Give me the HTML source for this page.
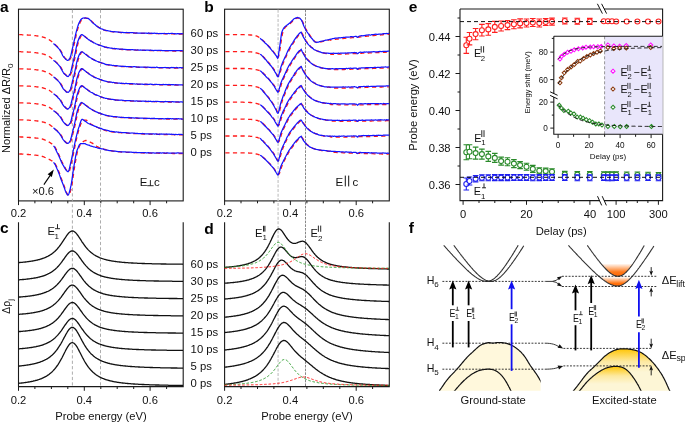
<!DOCTYPE html>
<html><head><meta charset="utf-8"><style>html,body{margin:0;padding:0;background:#fff;}body{width:685px;height:423px;overflow:hidden;font-family:"Liberation Sans",sans-serif;}svg{display:block;will-change:transform;}</style></head><body>
<svg width="685" height="423" viewBox="0 0 685 423" font-family='"Liberation Sans", sans-serif'>
<rect width="685" height="423" fill="#fff"/>
<rect x="18.5" y="9.2" width="164.7" height="191.7" fill="none" stroke="#1a1a1a" stroke-width="1.1"/>
<line x1="72.4" y1="9.7" x2="72.4" y2="386" stroke="#a4a4a4" stroke-width="0.9" stroke-dasharray="3.2 2.2"/>
<line x1="100.5" y1="9.7" x2="100.5" y2="386" stroke="#a4a4a4" stroke-width="0.9" stroke-dasharray="3.2 2.2"/>
<line x1="34.9" y1="200.9" x2="34.9" y2="203.3" stroke="#1a1a1a" stroke-width="1" />
<line x1="51.4" y1="200.9" x2="51.4" y2="203.3" stroke="#1a1a1a" stroke-width="1" />
<line x1="67.8" y1="200.9" x2="67.8" y2="203.3" stroke="#1a1a1a" stroke-width="1" />
<line x1="100.8" y1="200.9" x2="100.8" y2="203.3" stroke="#1a1a1a" stroke-width="1" />
<line x1="117.2" y1="200.9" x2="117.2" y2="203.3" stroke="#1a1a1a" stroke-width="1" />
<line x1="133.7" y1="200.9" x2="133.7" y2="203.3" stroke="#1a1a1a" stroke-width="1" />
<line x1="166.6" y1="200.9" x2="166.6" y2="203.3" stroke="#1a1a1a" stroke-width="1" />
<line x1="18.5" y1="200.9" x2="18.5" y2="205.1" stroke="#1a1a1a" stroke-width="1" />
<line x1="84.3" y1="200.9" x2="84.3" y2="205.1" stroke="#1a1a1a" stroke-width="1" />
<line x1="150.1" y1="200.9" x2="150.1" y2="205.1" stroke="#1a1a1a" stroke-width="1" />
<text x="18.5" y="216.8" font-size="11.2" text-anchor="middle" font-weight="normal" fill="#111" >0.2</text>
<text x="84.3" y="216.8" font-size="11.2" text-anchor="middle" font-weight="normal" fill="#111" >0.4</text>
<text x="150.1" y="216.8" font-size="11.2" text-anchor="middle" font-weight="normal" fill="#111" >0.6</text>
<rect x="224.6" y="9.2" width="164.7" height="191.7" fill="none" stroke="#1a1a1a" stroke-width="1.1"/>
<line x1="278.1" y1="9.7" x2="278.1" y2="386" stroke="#cdcdcd" stroke-width="1.4" stroke-dasharray="3 1.6"/>
<line x1="305.5" y1="9.7" x2="305.5" y2="386" stroke="#6a6a6a" stroke-width="0.8" stroke-dasharray="2.6 1.1"/>
<line x1="241" y1="200.9" x2="241" y2="203.3" stroke="#1a1a1a" stroke-width="1" />
<line x1="257.5" y1="200.9" x2="257.5" y2="203.3" stroke="#1a1a1a" stroke-width="1" />
<line x1="273.9" y1="200.9" x2="273.9" y2="203.3" stroke="#1a1a1a" stroke-width="1" />
<line x1="306.9" y1="200.9" x2="306.9" y2="203.3" stroke="#1a1a1a" stroke-width="1" />
<line x1="323.3" y1="200.9" x2="323.3" y2="203.3" stroke="#1a1a1a" stroke-width="1" />
<line x1="339.8" y1="200.9" x2="339.8" y2="203.3" stroke="#1a1a1a" stroke-width="1" />
<line x1="372.6" y1="200.9" x2="372.6" y2="203.3" stroke="#1a1a1a" stroke-width="1" />
<line x1="224.6" y1="200.9" x2="224.6" y2="205.1" stroke="#1a1a1a" stroke-width="1" />
<line x1="290.4" y1="200.9" x2="290.4" y2="205.1" stroke="#1a1a1a" stroke-width="1" />
<line x1="356.2" y1="200.9" x2="356.2" y2="205.1" stroke="#1a1a1a" stroke-width="1" />
<text x="224.6" y="216.8" font-size="11.2" text-anchor="middle" font-weight="normal" fill="#111" >0.2</text>
<text x="290.4" y="216.8" font-size="11.2" text-anchor="middle" font-weight="normal" fill="#111" >0.4</text>
<text x="356.2" y="216.8" font-size="11.2" text-anchor="middle" font-weight="normal" fill="#111" >0.6</text>
<path d="M18.5 222.2 V386.6 H183.2 V222.2" fill="none" stroke="#1a1a1a" stroke-width="1.1"/>
<line x1="34.9" y1="386.6" x2="34.9" y2="389" stroke="#1a1a1a" stroke-width="1" />
<line x1="51.4" y1="386.6" x2="51.4" y2="389" stroke="#1a1a1a" stroke-width="1" />
<line x1="67.8" y1="386.6" x2="67.8" y2="389" stroke="#1a1a1a" stroke-width="1" />
<line x1="100.8" y1="386.6" x2="100.8" y2="389" stroke="#1a1a1a" stroke-width="1" />
<line x1="117.2" y1="386.6" x2="117.2" y2="389" stroke="#1a1a1a" stroke-width="1" />
<line x1="133.7" y1="386.6" x2="133.7" y2="389" stroke="#1a1a1a" stroke-width="1" />
<line x1="166.6" y1="386.6" x2="166.6" y2="389" stroke="#1a1a1a" stroke-width="1" />
<line x1="18.5" y1="386.6" x2="18.5" y2="390.8" stroke="#1a1a1a" stroke-width="1" />
<line x1="84.3" y1="386.6" x2="84.3" y2="390.8" stroke="#1a1a1a" stroke-width="1" />
<line x1="150.1" y1="386.6" x2="150.1" y2="390.8" stroke="#1a1a1a" stroke-width="1" />
<text x="18.5" y="404.2" font-size="11.2" text-anchor="middle" font-weight="normal" fill="#111" >0.2</text>
<text x="84.3" y="404.2" font-size="11.2" text-anchor="middle" font-weight="normal" fill="#111" >0.4</text>
<text x="150.1" y="404.2" font-size="11.2" text-anchor="middle" font-weight="normal" fill="#111" >0.6</text>
<path d="M224.6 222.2 V386.6 H389.3 V222.2" fill="none" stroke="#1a1a1a" stroke-width="1.1"/>
<line x1="241" y1="386.6" x2="241" y2="389" stroke="#1a1a1a" stroke-width="1" />
<line x1="257.5" y1="386.6" x2="257.5" y2="389" stroke="#1a1a1a" stroke-width="1" />
<line x1="273.9" y1="386.6" x2="273.9" y2="389" stroke="#1a1a1a" stroke-width="1" />
<line x1="306.9" y1="386.6" x2="306.9" y2="389" stroke="#1a1a1a" stroke-width="1" />
<line x1="323.3" y1="386.6" x2="323.3" y2="389" stroke="#1a1a1a" stroke-width="1" />
<line x1="339.8" y1="386.6" x2="339.8" y2="389" stroke="#1a1a1a" stroke-width="1" />
<line x1="372.6" y1="386.6" x2="372.6" y2="389" stroke="#1a1a1a" stroke-width="1" />
<line x1="224.6" y1="386.6" x2="224.6" y2="390.8" stroke="#1a1a1a" stroke-width="1" />
<line x1="290.4" y1="386.6" x2="290.4" y2="390.8" stroke="#1a1a1a" stroke-width="1" />
<line x1="356.2" y1="386.6" x2="356.2" y2="390.8" stroke="#1a1a1a" stroke-width="1" />
<text x="224.6" y="404.2" font-size="11.2" text-anchor="middle" font-weight="normal" fill="#111" >0.2</text>
<text x="290.4" y="404.2" font-size="11.2" text-anchor="middle" font-weight="normal" fill="#111" >0.4</text>
<text x="356.2" y="404.2" font-size="11.2" text-anchor="middle" font-weight="normal" fill="#111" >0.6</text>
<text x="0" y="11.8" font-size="15.5" text-anchor="start" font-weight="bold" fill="#000" >a</text>
<text x="204.3" y="12" font-size="15.5" text-anchor="start" font-weight="bold" fill="#000" >b</text>
<text x="0" y="233.2" font-size="15.5" text-anchor="start" font-weight="bold" fill="#000" >c</text>
<text x="204.2" y="233.6" font-size="15.5" text-anchor="start" font-weight="bold" fill="#000" >d</text>
<text x="408.8" y="11.8" font-size="15.5" text-anchor="start" font-weight="bold" fill="#000" >e</text>
<text x="408.8" y="233.2" font-size="15.5" text-anchor="start" font-weight="bold" fill="#000" >f</text>
<text x="190.6" y="37.3" font-size="11.3" text-anchor="start" font-weight="normal" fill="#111" >60 ps</text>
<text x="190.6" y="267.8" font-size="11.3" text-anchor="start" font-weight="normal" fill="#111" >60 ps</text>
<text x="190.6" y="54.3" font-size="11.3" text-anchor="start" font-weight="normal" fill="#111" >30 ps</text>
<text x="190.6" y="284.8" font-size="11.3" text-anchor="start" font-weight="normal" fill="#111" >30 ps</text>
<text x="190.6" y="71.2" font-size="11.3" text-anchor="start" font-weight="normal" fill="#111" >25 ps</text>
<text x="190.6" y="301.8" font-size="11.3" text-anchor="start" font-weight="normal" fill="#111" >25 ps</text>
<text x="190.6" y="88.2" font-size="11.3" text-anchor="start" font-weight="normal" fill="#111" >20 ps</text>
<text x="190.6" y="318.7" font-size="11.3" text-anchor="start" font-weight="normal" fill="#111" >20 ps</text>
<text x="190.6" y="105.1" font-size="11.3" text-anchor="start" font-weight="normal" fill="#111" >15 ps</text>
<text x="190.6" y="335.7" font-size="11.3" text-anchor="start" font-weight="normal" fill="#111" >15 ps</text>
<text x="190.6" y="122.1" font-size="11.3" text-anchor="start" font-weight="normal" fill="#111" >10 ps</text>
<text x="190.6" y="352.7" font-size="11.3" text-anchor="start" font-weight="normal" fill="#111" >10 ps</text>
<text x="190.6" y="139.1" font-size="11.3" text-anchor="start" font-weight="normal" fill="#111" >5 ps</text>
<text x="190.6" y="369.7" font-size="11.3" text-anchor="start" font-weight="normal" fill="#111" >5 ps</text>
<text x="190.6" y="156" font-size="11.3" text-anchor="start" font-weight="normal" fill="#111" >0 ps</text>
<text x="190.6" y="386.7" font-size="11.3" text-anchor="start" font-weight="normal" fill="#111" >0 ps</text>
<text x="0" y="0" font-size="11" text-anchor="middle" font-weight="normal" fill="#111" transform="translate(10.1 108.2) rotate(-90)">Normalized &#916;R/R<tspan font-size="8" dy="3">0</tspan></text>
<text x="0" y="0" font-size="10.4" text-anchor="middle" font-weight="normal" fill="#111" transform="translate(10.0 306.4) rotate(-90)">&#916;&#961;<tspan font-size="7.5" dy="2.6">j</tspan></text>
<text x="101" y="420" font-size="11.2" text-anchor="middle" font-weight="normal" fill="#111" >Probe energy (eV)</text>
<text x="307" y="420" font-size="11.2" text-anchor="middle" font-weight="normal" fill="#111" >Probe energy (eV)</text>
<text x="139.7" y="186" font-size="11.5" text-anchor="start" font-weight="normal" fill="#111" >E</text>
<line x1="147.2" y1="185.7" x2="153.6" y2="185.7" stroke="#111" stroke-width="0.9" />
<line x1="150.4" y1="185.7" x2="150.4" y2="180.1" stroke="#111" stroke-width="0.9" />
<text x="154" y="186" font-size="11.5" text-anchor="start" font-weight="normal" fill="#111" >c</text>
<text x="335.6" y="186" font-size="11.5" text-anchor="start" font-weight="normal" fill="#111" >E</text>
<line x1="345.3" y1="186.4" x2="345.3" y2="175.6" stroke="#111" stroke-width="1" />
<line x1="348.7" y1="186.4" x2="348.7" y2="175.6" stroke="#111" stroke-width="1" />
<text x="352.4" y="186" font-size="11.5" text-anchor="start" font-weight="normal" fill="#111" >c</text>
<text x="32" y="195.2" font-size="11.2" text-anchor="start" font-weight="normal" fill="#111" >&#215;0.6</text>
<line x1="43.9" y1="184.6" x2="50" y2="175.6" stroke="#000" stroke-width="1.1" />
<path d="M53.8 169.4 L47.6 174.2 L51.8 177.0 Z" fill="#000"/>
<path d="M18.5 34.4 L19 34.4 L19.5 34.4 L20 34.4 L20.5 34.4 L21 34.4 L21.5 34.5 L22 34.5 L22.5 34.5 L23 34.5 L23.5 34.5 L24 34.6 L24.5 34.6 L25 34.6 L25.5 34.6 L26 34.7 L26.5 34.7 L27 34.7 L27.5 34.8 L28 34.8 L28.5 34.8 L29 34.9 L29.5 34.9 L30 34.9 L30.5 35 L31 35 L31.5 35 L32 35.1 L32.5 35.1 L33 35.2 L33.5 35.2 L34 35.3 L34.5 35.3 L35 35.4 L35.5 35.5 L36 35.5 L36.5 35.6 L37 35.7 L37.5 35.8 L38 35.9 L38.5 35.9 L39 36 L39.5 36.1 L40 36.2 L40.5 36.3 L41 36.4 L41.5 36.6 L42 36.7 L42.5 36.8 L43 37 L43.5 37.1 L44 37.3 L44.5 37.5 L45 37.7 L45.5 37.9 L46 38.1 L46.5 38.3 L47 38.6 L47.5 38.8 L48 39.1 L48.5 39.4 L49 39.8 L49.5 40.1 L50 40.5 L50.5 40.9 L51 41.3 L51.5 41.7 L52 42.2 L52.5 42.6 L53 43.1 L53.5 43.5 L54 43.9 L54.5 44.4 L55 44.8 L55.5 45.3 L56 45.8 L56.5 46.2 L57 46.7 L57.5 47.3 L58 47.8 L58.5 48.4 L59 49 L59.5 49.6 L60 50.4 L60.5 51.2 L61 52.1 L61.5 53.1 L62 54.1 L62.5 55 L63 55.9 L63.5 56.7 L64 57.3 L64.5 57.8 L65 58.4 L65.5 59 L66 59.5 L66.5 59.9 L67 60.2 L67.5 60.4 L68 60.4 L68.5 60 L69 59.4 L69.5 58.6 L70 57.7 L70.5 56.6 L71 54.8 L71.5 52.7 L72 50.4 L72.5 48.3 L73 46.1 L73.5 43.9 L74 41.6 L74.5 39.3 L75 37.2 L75.5 34.9 L76 32.7 L76.5 30.6 L77 28.8 L77.5 27.2 L78 25.7 L78.5 24.3 L79 23.1 L79.5 22 L80 21.1 L80.5 20.2 L81 19.5 L81.5 18.9 L82 18.6 L82.5 18.4 L83 18.2 L83.5 18.1 L84 18 L84.5 17.9 L85 17.9 L85.5 17.9 L86 18 L86.5 18 L87 18.1 L87.5 18.3 L88 18.4 L88.5 18.6 L89 19 L89.5 19.4 L90 19.9 L90.5 20.4 L91 20.9 L91.5 21.5 L92 22 L92.5 22.5 L93 23 L93.5 23.4 L94 23.9 L94.5 24.3 L95 24.7 L95.5 25.1 L96 25.5 L96.5 25.9 L97 26.2 L97.5 26.6 L98 27 L98.5 27.3 L99 27.6 L99.5 27.9 L100 28.2 L100.5 28.5 L101 28.7 L101.5 28.9 L102 29.1 L102.5 29.3 L103 29.5 L103.5 29.7 L104 29.9 L104.5 30 L105 30.2 L105.5 30.3 L106 30.4 L106.5 30.6 L107 30.7 L107.5 30.8 L108 30.9 L108.5 31 L109 31 L109.5 31.1 L110 31.2 L110.5 31.3 L111 31.4 L111.5 31.4 L112 31.5 L112.5 31.5 L113 31.6 L113.5 31.6 L114 31.7 L114.5 31.7 L115 31.8 L115.5 31.8 L116 31.9 L116.5 31.9 L117 32 L117.5 32 L118 32.1 L118.5 32.1 L119 32.1 L119.5 32.2 L120 32.2 L120.5 32.2 L121 32.3 L121.5 32.3 L122 32.3 L122.5 32.4 L123 32.4 L123.5 32.4 L124 32.5 L124.5 32.5 L125 32.5 L125.5 32.5 L126 32.5 L126.5 32.6 L127 32.6 L127.5 32.6 L128 32.6 L128.5 32.6 L129 32.7 L129.5 32.7 L130 32.7 L130.5 32.7 L131 32.7 L131.5 32.8 L132 32.8 L132.5 32.8 L133 32.8 L133.5 32.8 L134 32.8 L134.5 32.9 L135 32.9 L135.5 32.9 L136 32.9 L136.5 32.9 L137 32.9 L137.5 33 L138 33 L138.5 33 L139 33 L139.5 33 L140 33 L140.5 33 L141 33 L141.5 33.1 L142 33.1 L142.5 33.1 L143 33.1 L143.5 33.1 L144 33.1 L144.5 33.1 L145 33.1 L145.5 33.2 L146 33.2 L146.5 33.2 L147 33.2 L147.5 33.2 L148 33.2 L148.5 33.2 L149 33.2 L149.5 33.2 L150 33.2 L150.5 33.3 L151 33.3 L151.5 33.3 L152 33.3 L152.5 33.3 L153 33.3 L153.5 33.3 L154 33.3 L154.5 33.3 L155 33.3 L155.5 33.4 L156 33.4 L156.5 33.4 L157 33.4 L157.5 33.4 L158 33.4 L158.5 33.4 L159 33.4 L159.5 33.4 L160 33.4 L160.5 33.4 L161 33.5 L161.5 33.5 L162 33.5 L162.5 33.5 L163 33.5 L163.5 33.5 L164 33.5 L164.5 33.5 L165 33.5 L165.5 33.5 L166 33.5 L166.5 33.5 L167 33.6 L167.5 33.6 L168 33.6 L168.5 33.6 L169 33.6 L169.5 33.6 L170 33.6 L170.5 33.6 L171 33.6 L171.5 33.6 L172 33.6 L172.5 33.6 L173 33.6 L173.5 33.6 L174 33.7 L174.5 33.7 L175 33.7 L175.5 33.7 L176 33.7 L176.5 33.7 L177 33.7 L177.5 33.7 L178 33.7 L178.5 33.7 L179 33.7 L179.5 33.7 L180 33.7 L180.5 33.7 L181 33.7 L181.5 33.7 L182 33.7 L182.3 33.7" fill="none" stroke="#ff1a1a" stroke-width="1.3" stroke-dasharray="4.2 3.4" transform="translate(0.7 0.3)"/>
<path d="M53.5 43.5 L54 44 L54.5 44.4 L55 44.8 L55.5 45.3 L56 45.8 L56.5 46.4 L57 46.8 L57.5 47.2 L58 47.7 L58.5 48.3 L59 48.9 L59.5 49.4 L60 50.2 L60.5 51.1 L61 52 L61.5 53 L62 54 L62.5 55.1 L63 56 L63.5 56.7 L64 57.4 L64.5 57.9 L65 58.4 L65.5 59 L66 59.5 L66.5 59.8 L67 60.1 L67.5 60.3 L68 60.3 L68.5 60 L69 59.4 L69.5 58.6 L70 57.7 L70.5 56.6 L71 54.8 L71.5 52.7 L72 50.4 L72.5 48.4 L73 46.2 L73.5 43.9 L74 41.7 L74.5 39.5 L75 37.3 L75.5 35 L76 32.8 L76.5 30.8 L77 29.1 L77.5 27.4 L78 25.8 L78.5 24.3 L79 23 L79.5 22 L80 21.1 L80.5 20.2 L81 19.5 L81.5 19 L82 18.6 L82.5 18.3 L83 18.1 L83.5 18 L84 17.9 L84.5 18 L85 17.9 L85.5 17.9 L86 18 L86.5 18.2 L87 18.3 L87.5 18.3 L88 18.3 L88.5 18.6 L89 19.1 L89.5 19.5 L90 19.9 L90.5 20.4 L91 20.9 L91.5 21.4 L92 22.1 L92.5 22.6 L93 23.1 L93.5 23.5 L94 23.8 L94.5 24.2 L95 24.6 L95.5 25 L96 25.5 L96.5 26 L97 26.3 L97.5 26.7 L98 27 L98.5 27.4 L99 27.7 L99.5 27.9 L100 28.1 L100.5 28.5 L101 28.8 L101.5 28.9 L102 29 L102.5 29.2 L103 29.4 L103.5 29.7 L104 30 L104.5 30 L105 30.1 L105.5 30.3 L106 30.3 L106.5 30.5 L107 30.6 L107.5 30.6 L108 30.8 L108.5 30.9 L109 31 L109.5 31.1 L110 31.2 L110.5 31.3 L111 31.4 L111.5 31.5 L112 31.6 L112.5 31.7 L113 31.7 L113.5 31.8 L114 31.8 L114.5 31.7 L115 31.7 L115.5 31.8 L116 31.8 L116.5 31.8 L117 31.9 L117.5 32 L118 31.9 L118.5 32 L119 32.1 L119.5 32.3 L120 32.3 L120.5 32.3 L121 32.4 L121.5 32.5 L122 32.4 L122.5 32.3 L123 32.4 L123.5 32.5 L124 32.5 L124.5 32.5 L125 32.6 L125.5 32.5 L126 32.5 L126.5 32.4 L127 32.5 L127.5 32.6 L128 32.7 L128.5 32.7 L129 32.6 L129.5 32.6 L130 32.6 L130.5 32.7 L131 32.6 L131.5 32.7 L132 32.7 L132.5 32.6 L133 32.6 L133.5 32.8 L134 32.8 L134.5 32.8 L135 32.9 L135.5 33 L136 33 L136.5 32.9 L137 32.9 L137.5 33.1 L138 33.1 L138.5 33.1 L139 33.1 L139.5 33.1 L140 33.1 L140.5 33.1 L141 33 L141.5 33 L142 33 L142.5 33 L143 33 L143.5 33 L144 33.1 L144.5 33.1 L145 33.1 L145.5 33.1 L146 33.2 L146.5 33.2 L147 33.3 L147.5 33.3 L148 33.1 L148.5 33 L149 33.1 L149.5 33.3 L150 33.3 L150.5 33.3 L151 33.3 L151.5 33.2 L152 33.2 L152.5 33.3 L153 33.3 L153.5 33.3 L154 33.2 L154.5 33.2 L155 33.4 L155.5 33.4 L156 33.4 L156.5 33.3 L157 33.3 L157.5 33.4 L158 33.5 L158.5 33.6 L159 33.6 L159.5 33.5 L160 33.4 L160.5 33.5 L161 33.5 L161.5 33.5 L162 33.4 L162.5 33.5 L163 33.7 L163.5 33.5 L164 33.3 L164.5 33.4 L165 33.5 L165.5 33.6 L166 33.7 L166.5 33.7 L167 33.6 L167.5 33.5 L168 33.5 L168.5 33.4 L169 33.5 L169.5 33.7 L170 33.7 L170.5 33.5 L171 33.4 L171.5 33.4 L172 33.4 L172.5 33.3 L173 33.5 L173.5 33.7 L174 33.7 L174.5 33.7 L175 33.7 L175.5 33.8 L176 33.7 L176.5 33.8 L177 33.9 L177.5 33.7 L178 33.6 L178.5 33.7 L179 33.8 L179.5 33.8 L180 33.7 L180.5 33.8 L181 33.8 L181.5 33.7 L182 33.7 L182.5 33.8 L183 33.9" fill="none" stroke="#1414ff" stroke-width="1.25"/>
<path d="M18.5 51.4 L19 51.4 L19.5 51.4 L20 51.4 L20.5 51.5 L21 51.5 L21.5 51.5 L22 51.5 L22.5 51.5 L23 51.5 L23.5 51.6 L24 51.6 L24.5 51.6 L25 51.6 L25.5 51.7 L26 51.7 L26.5 51.7 L27 51.7 L27.5 51.8 L28 51.8 L28.5 51.8 L29 51.9 L29.5 51.9 L30 51.9 L30.5 52 L31 52 L31.5 52 L32 52.1 L32.5 52.1 L33 52.2 L33.5 52.2 L34 52.3 L34.5 52.3 L35 52.4 L35.5 52.5 L36 52.5 L36.5 52.6 L37 52.7 L37.5 52.8 L38 52.8 L38.5 52.9 L39 53 L39.5 53.1 L40 53.2 L40.5 53.3 L41 53.4 L41.5 53.5 L42 53.6 L42.5 53.8 L43 53.9 L43.5 54.1 L44 54.2 L44.5 54.4 L45 54.6 L45.5 54.8 L46 55 L46.5 55.2 L47 55.4 L47.5 55.7 L48 55.9 L48.5 56.2 L49 56.6 L49.5 56.9 L50 57.3 L50.5 57.7 L51 58.1 L51.5 58.5 L52 58.9 L52.5 59.3 L53 59.8 L53.5 60.2 L54 60.6 L54.5 61 L55 61.5 L55.5 61.9 L56 62.3 L56.5 62.8 L57 63.3 L57.5 63.8 L58 64.3 L58.5 64.9 L59 65.4 L59.5 66.1 L60 66.8 L60.5 67.6 L61 68.5 L61.5 69.4 L62 70.3 L62.5 71.2 L63 72.1 L63.5 72.8 L64 73.4 L64.5 74 L65 74.5 L65.5 75 L66 75.5 L66.5 75.9 L67 76.2 L67.5 76.4 L68 76.4 L68.5 76.1 L69 75.5 L69.5 74.7 L70 73.8 L70.5 72.7 L71 71.1 L71.5 69 L72 66.9 L72.5 64.8 L73 62.7 L73.5 60.6 L74 58.5 L74.5 56.3 L75 54 L75.5 51.5 L76 48.8 L76.5 46.4 L77 44.2 L77.5 42.5 L78 40.9 L78.5 39.5 L79 38.3 L79.5 37.3 L80 36.4 L80.5 35.5 L81 34.9 L81.5 34.6 L82 34.7 L82.5 35 L83 35.3 L83.5 35.6 L84 36 L84.5 36.4 L85 36.8 L85.5 37.3 L86 37.7 L86.5 38 L87 38.4 L87.5 38.8 L88 39.1 L88.5 39.5 L89 39.8 L89.5 40.2 L90 40.5 L90.5 40.8 L91 41.1 L91.5 41.4 L92 41.7 L92.5 42 L93 42.3 L93.5 42.6 L94 42.9 L94.5 43.1 L95 43.4 L95.5 43.6 L96 43.8 L96.5 44 L97 44.2 L97.5 44.4 L98 44.6 L98.5 44.8 L99 45 L99.5 45.2 L100 45.4 L100.5 45.5 L101 45.7 L101.5 45.9 L102 46.1 L102.5 46.2 L103 46.4 L103.5 46.6 L104 46.7 L104.5 46.9 L105 47 L105.5 47.1 L106 47.2 L106.5 47.3 L107 47.4 L107.5 47.5 L108 47.6 L108.5 47.7 L109 47.8 L109.5 47.9 L110 48 L110.5 48.1 L111 48.1 L111.5 48.2 L112 48.3 L112.5 48.3 L113 48.4 L113.5 48.5 L114 48.5 L114.5 48.6 L115 48.6 L115.5 48.7 L116 48.7 L116.5 48.8 L117 48.8 L117.5 48.9 L118 48.9 L118.5 49 L119 49 L119.5 49 L120 49.1 L120.5 49.1 L121 49.2 L121.5 49.2 L122 49.2 L122.5 49.3 L123 49.3 L123.5 49.3 L124 49.4 L124.5 49.4 L125 49.4 L125.5 49.4 L126 49.5 L126.5 49.5 L127 49.5 L127.5 49.5 L128 49.6 L128.5 49.6 L129 49.6 L129.5 49.6 L130 49.6 L130.5 49.7 L131 49.7 L131.5 49.7 L132 49.7 L132.5 49.7 L133 49.8 L133.5 49.8 L134 49.8 L134.5 49.8 L135 49.8 L135.5 49.9 L136 49.9 L136.5 49.9 L137 49.9 L137.5 49.9 L138 49.9 L138.5 50 L139 50 L139.5 50 L140 50 L140.5 50 L141 50 L141.5 50 L142 50.1 L142.5 50.1 L143 50.1 L143.5 50.1 L144 50.1 L144.5 50.1 L145 50.1 L145.5 50.2 L146 50.2 L146.5 50.2 L147 50.2 L147.5 50.2 L148 50.2 L148.5 50.2 L149 50.2 L149.5 50.2 L150 50.3 L150.5 50.3 L151 50.3 L151.5 50.3 L152 50.3 L152.5 50.3 L153 50.3 L153.5 50.3 L154 50.3 L154.5 50.3 L155 50.4 L155.5 50.4 L156 50.4 L156.5 50.4 L157 50.4 L157.5 50.4 L158 50.4 L158.5 50.4 L159 50.4 L159.5 50.4 L160 50.5 L160.5 50.5 L161 50.5 L161.5 50.5 L162 50.5 L162.5 50.5 L163 50.5 L163.5 50.5 L164 50.5 L164.5 50.5 L165 50.5 L165.5 50.6 L166 50.6 L166.5 50.6 L167 50.6 L167.5 50.6 L168 50.6 L168.5 50.6 L169 50.6 L169.5 50.6 L170 50.6 L170.5 50.6 L171 50.6 L171.5 50.6 L172 50.7 L172.5 50.7 L173 50.7 L173.5 50.7 L174 50.7 L174.5 50.7 L175 50.7 L175.5 50.7 L176 50.7 L176.5 50.7 L177 50.7 L177.5 50.7 L178 50.7 L178.5 50.7 L179 50.7 L179.5 50.7 L180 50.7 L180.5 50.7 L181 50.7 L181.5 50.7 L182 50.8 L182.3 50.8" fill="none" stroke="#ff1a1a" stroke-width="1.3" stroke-dasharray="4.2 3.4" transform="translate(0.7 0.3)"/>
<path d="M53.5 60.2 L54 60.7 L54.5 61 L55 61.4 L55.5 61.9 L56 62.4 L56.5 62.8 L57 63.3 L57.5 63.9 L58 64.4 L58.5 64.9 L59 65.5 L59.5 66 L60 66.7 L60.5 67.6 L61 68.5 L61.5 69.4 L62 70.3 L62.5 71.2 L63 72 L63.5 72.8 L64 73.5 L64.5 74.1 L65 74.5 L65.5 74.8 L66 75.3 L66.5 75.8 L67 76.2 L67.5 76.4 L68 76.5 L68.5 76.2 L69 75.5 L69.5 74.7 L70 74 L70.5 72.9 L71 71.1 L71.5 69 L72 66.7 L72.5 64.7 L73 62.7 L73.5 60.5 L74 58.4 L74.5 56.2 L75 53.9 L75.5 51.4 L76 48.8 L76.5 46.3 L77 44.2 L77.5 42.6 L78 41 L78.5 39.6 L79 38.3 L79.5 37.3 L80 36.4 L80.5 35.5 L81 34.9 L81.5 34.7 L82 34.7 L82.5 34.9 L83 35.2 L83.5 35.6 L84 36 L84.5 36.3 L85 36.7 L85.5 37.2 L86 37.6 L86.5 38.1 L87 38.4 L87.5 38.7 L88 39.1 L88.5 39.6 L89 39.8 L89.5 40.1 L90 40.5 L90.5 40.9 L91 41.2 L91.5 41.4 L92 41.6 L92.5 42 L93 42.3 L93.5 42.7 L94 42.9 L94.5 43 L95 43.2 L95.5 43.6 L96 43.9 L96.5 44 L97 44.2 L97.5 44.5 L98 44.7 L98.5 44.9 L99 45.1 L99.5 45.2 L100 45.4 L100.5 45.5 L101 45.6 L101.5 45.8 L102 46 L102.5 46.1 L103 46.3 L103.5 46.6 L104 46.7 L104.5 46.9 L105 47.1 L105.5 47.2 L106 47.3 L106.5 47.2 L107 47.4 L107.5 47.6 L108 47.7 L108.5 47.7 L109 47.8 L109.5 47.9 L110 48 L110.5 48.1 L111 48.1 L111.5 48.2 L112 48.3 L112.5 48.3 L113 48.5 L113.5 48.5 L114 48.4 L114.5 48.4 L115 48.7 L115.5 48.9 L116 48.7 L116.5 48.7 L117 48.8 L117.5 48.8 L118 48.8 L118.5 48.9 L119 49 L119.5 49 L120 49.1 L120.5 49.1 L121 49.1 L121.5 49.1 L122 49.2 L122.5 49.2 L123 49.2 L123.5 49.3 L124 49.4 L124.5 49.4 L125 49.4 L125.5 49.5 L126 49.4 L126.5 49.5 L127 49.5 L127.5 49.5 L128 49.5 L128.5 49.6 L129 49.6 L129.5 49.5 L130 49.5 L130.5 49.7 L131 49.8 L131.5 49.7 L132 49.6 L132.5 49.6 L133 49.7 L133.5 49.8 L134 49.8 L134.5 49.8 L135 49.9 L135.5 49.9 L136 50 L136.5 50.1 L137 50 L137.5 49.9 L138 49.9 L138.5 50 L139 50 L139.5 50 L140 50 L140.5 49.9 L141 50 L141.5 50 L142 50 L142.5 50.1 L143 50.2 L143.5 50.2 L144 50.1 L144.5 50.2 L145 50.4 L145.5 50.3 L146 50.1 L146.5 50.1 L147 50.1 L147.5 50.1 L148 50.1 L148.5 50.2 L149 50.3 L149.5 50.3 L150 50.1 L150.5 50.1 L151 50.2 L151.5 50.3 L152 50.4 L152.5 50.3 L153 50.3 L153.5 50.5 L154 50.5 L154.5 50.4 L155 50.3 L155.5 50.3 L156 50.3 L156.5 50.4 L157 50.5 L157.5 50.4 L158 50.4 L158.5 50.4 L159 50.4 L159.5 50.4 L160 50.4 L160.5 50.4 L161 50.4 L161.5 50.4 L162 50.5 L162.5 50.5 L163 50.5 L163.5 50.5 L164 50.6 L164.5 50.5 L165 50.5 L165.5 50.5 L166 50.5 L166.5 50.5 L167 50.5 L167.5 50.5 L168 50.5 L168.5 50.6 L169 50.6 L169.5 50.5 L170 50.5 L170.5 50.6 L171 50.6 L171.5 50.6 L172 50.6 L172.5 50.6 L173 50.6 L173.5 50.6 L174 50.7 L174.5 50.6 L175 50.6 L175.5 50.8 L176 50.7 L176.5 50.6 L177 50.7 L177.5 50.7 L178 50.7 L178.5 50.7 L179 50.7 L179.5 50.7 L180 50.7 L180.5 50.7 L181 50.7 L181.5 50.7 L182 50.7 L182.5 50.8 L183 50.8" fill="none" stroke="#1414ff" stroke-width="1.25"/>
<path d="M18.5 68.5 L19 68.5 L19.5 68.5 L20 68.5 L20.5 68.5 L21 68.5 L21.5 68.5 L22 68.5 L22.5 68.5 L23 68.6 L23.5 68.6 L24 68.6 L24.5 68.6 L25 68.7 L25.5 68.7 L26 68.7 L26.5 68.7 L27 68.8 L27.5 68.8 L28 68.8 L28.5 68.8 L29 68.9 L29.5 68.9 L30 68.9 L30.5 69 L31 69 L31.5 69 L32 69.1 L32.5 69.1 L33 69.2 L33.5 69.2 L34 69.3 L34.5 69.3 L35 69.4 L35.5 69.5 L36 69.5 L36.5 69.6 L37 69.7 L37.5 69.7 L38 69.8 L38.5 69.9 L39 70 L39.5 70.1 L40 70.1 L40.5 70.2 L41 70.3 L41.5 70.5 L42 70.6 L42.5 70.7 L43 70.8 L43.5 71 L44 71.2 L44.5 71.3 L45 71.5 L45.5 71.7 L46 71.9 L46.5 72.1 L47 72.3 L47.5 72.5 L48 72.8 L48.5 73.1 L49 73.4 L49.5 73.7 L50 74.1 L50.5 74.5 L51 74.8 L51.5 75.2 L52 75.6 L52.5 76.1 L53 76.5 L53.5 76.9 L54 77.3 L54.5 77.7 L55 78.1 L55.5 78.5 L56 78.9 L56.5 79.4 L57 79.8 L57.5 80.3 L58 80.8 L58.5 81.4 L59 81.9 L59.5 82.5 L60 83.2 L60.5 84 L61 84.8 L61.5 85.7 L62 86.6 L62.5 87.5 L63 88.3 L63.5 89 L64 89.6 L64.5 90.1 L65 90.6 L65.5 91.1 L66 91.6 L66.5 92 L67 92.3 L67.5 92.4 L68 92.4 L68.5 92.1 L69 91.6 L69.5 90.8 L70 89.9 L70.5 88.9 L71 87.3 L71.5 85.4 L72 83.3 L72.5 81.3 L73 79.3 L73.5 77.3 L74 75.3 L74.5 73.1 L75 70.9 L75.5 68.4 L76 65.8 L76.5 63.4 L77 61.3 L77.5 59.5 L78 58 L78.5 56.6 L79 55.4 L79.5 54.3 L80 53.4 L80.5 52.6 L81 51.9 L81.5 51.7 L82 51.8 L82.5 52 L83 52.3 L83.5 52.7 L84 53 L84.5 53.4 L85 53.8 L85.5 54.3 L86 54.7 L86.5 55.1 L87 55.4 L87.5 55.8 L88 56.2 L88.5 56.5 L89 56.9 L89.5 57.2 L90 57.5 L90.5 57.9 L91 58.2 L91.5 58.5 L92 58.8 L92.5 59.1 L93 59.4 L93.5 59.6 L94 59.9 L94.5 60.2 L95 60.4 L95.5 60.6 L96 60.8 L96.5 61.1 L97 61.3 L97.5 61.5 L98 61.7 L98.5 61.9 L99 62 L99.5 62.2 L100 62.4 L100.5 62.6 L101 62.8 L101.5 62.9 L102 63.1 L102.5 63.3 L103 63.4 L103.5 63.6 L104 63.7 L104.5 63.9 L105 64 L105.5 64.1 L106 64.3 L106.5 64.4 L107 64.5 L107.5 64.6 L108 64.7 L108.5 64.8 L109 64.9 L109.5 64.9 L110 65 L110.5 65.1 L111 65.2 L111.5 65.2 L112 65.3 L112.5 65.4 L113 65.4 L113.5 65.5 L114 65.5 L114.5 65.6 L115 65.7 L115.5 65.7 L116 65.8 L116.5 65.8 L117 65.9 L117.5 65.9 L118 66 L118.5 66 L119 66 L119.5 66.1 L120 66.1 L120.5 66.2 L121 66.2 L121.5 66.2 L122 66.3 L122.5 66.3 L123 66.3 L123.5 66.4 L124 66.4 L124.5 66.4 L125 66.4 L125.5 66.5 L126 66.5 L126.5 66.5 L127 66.5 L127.5 66.6 L128 66.6 L128.5 66.6 L129 66.6 L129.5 66.7 L130 66.7 L130.5 66.7 L131 66.7 L131.5 66.7 L132 66.8 L132.5 66.8 L133 66.8 L133.5 66.8 L134 66.8 L134.5 66.9 L135 66.9 L135.5 66.9 L136 66.9 L136.5 66.9 L137 66.9 L137.5 67 L138 67 L138.5 67 L139 67 L139.5 67 L140 67 L140.5 67 L141 67.1 L141.5 67.1 L142 67.1 L142.5 67.1 L143 67.1 L143.5 67.1 L144 67.1 L144.5 67.2 L145 67.2 L145.5 67.2 L146 67.2 L146.5 67.2 L147 67.2 L147.5 67.2 L148 67.2 L148.5 67.3 L149 67.3 L149.5 67.3 L150 67.3 L150.5 67.3 L151 67.3 L151.5 67.3 L152 67.3 L152.5 67.3 L153 67.3 L153.5 67.4 L154 67.4 L154.5 67.4 L155 67.4 L155.5 67.4 L156 67.4 L156.5 67.4 L157 67.4 L157.5 67.4 L158 67.4 L158.5 67.5 L159 67.5 L159.5 67.5 L160 67.5 L160.5 67.5 L161 67.5 L161.5 67.5 L162 67.5 L162.5 67.5 L163 67.5 L163.5 67.6 L164 67.6 L164.5 67.6 L165 67.6 L165.5 67.6 L166 67.6 L166.5 67.6 L167 67.6 L167.5 67.6 L168 67.6 L168.5 67.6 L169 67.6 L169.5 67.7 L170 67.7 L170.5 67.7 L171 67.7 L171.5 67.7 L172 67.7 L172.5 67.7 L173 67.7 L173.5 67.7 L174 67.7 L174.5 67.7 L175 67.7 L175.5 67.7 L176 67.7 L176.5 67.7 L177 67.7 L177.5 67.7 L178 67.8 L178.5 67.8 L179 67.8 L179.5 67.8 L180 67.8 L180.5 67.8 L181 67.8 L181.5 67.8 L182 67.8 L182.3 67.8" fill="none" stroke="#ff1a1a" stroke-width="1.3" stroke-dasharray="4.2 3.4" transform="translate(0.7 0.3)"/>
<path d="M53.5 76.9 L54 77.2 L54.5 77.5 L55 78 L55.5 78.6 L56 79.1 L56.5 79.4 L57 79.9 L57.5 80.4 L58 80.8 L58.5 81.4 L59 81.9 L59.5 82.4 L60 83.1 L60.5 84 L61 84.9 L61.5 85.7 L62 86.6 L62.5 87.4 L63 88.3 L63.5 89 L64 89.6 L64.5 90.1 L65 90.6 L65.5 91.1 L66 91.7 L66.5 92.1 L67 92.2 L67.5 92.2 L68 92.3 L68.5 92.1 L69 91.6 L69.5 90.9 L70 90 L70.5 89 L71 87.3 L71.5 85.4 L72 83.3 L72.5 81.2 L73 79.3 L73.5 77.4 L74 75.4 L74.5 73.1 L75 70.8 L75.5 68.4 L76 65.9 L76.5 63.4 L77 61.3 L77.5 59.5 L78 58 L78.5 56.6 L79 55.3 L79.5 54.4 L80 53.5 L80.5 52.6 L81 52.1 L81.5 51.9 L82 51.9 L82.5 52 L83 52.3 L83.5 52.7 L84 53 L84.5 53.4 L85 53.9 L85.5 54.3 L86 54.6 L86.5 54.8 L87 55.2 L87.5 55.8 L88 56.3 L88.5 56.6 L89 56.9 L89.5 57.2 L90 57.5 L90.5 57.8 L91 58 L91.5 58.4 L92 58.9 L92.5 59.2 L93 59.4 L93.5 59.6 L94 59.9 L94.5 60.2 L95 60.4 L95.5 60.6 L96 60.8 L96.5 61 L97 61.3 L97.5 61.5 L98 61.7 L98.5 61.9 L99 62.1 L99.5 62.2 L100 62.3 L100.5 62.5 L101 62.7 L101.5 62.9 L102 63 L102.5 63.2 L103 63.3 L103.5 63.4 L104 63.7 L104.5 63.9 L105 64.1 L105.5 64.3 L106 64.5 L106.5 64.5 L107 64.5 L107.5 64.7 L108 64.7 L108.5 64.8 L109 64.8 L109.5 64.9 L110 64.9 L110.5 65.1 L111 65.2 L111.5 65.2 L112 65.4 L112.5 65.5 L113 65.4 L113.5 65.4 L114 65.5 L114.5 65.6 L115 65.7 L115.5 65.8 L116 65.7 L116.5 65.7 L117 65.7 L117.5 65.8 L118 65.9 L118.5 66 L119 66.1 L119.5 66.2 L120 66.1 L120.5 66.2 L121 66.3 L121.5 66.4 L122 66.4 L122.5 66.3 L123 66.2 L123.5 66.3 L124 66.4 L124.5 66.4 L125 66.4 L125.5 66.4 L126 66.5 L126.5 66.5 L127 66.6 L127.5 66.6 L128 66.6 L128.5 66.6 L129 66.6 L129.5 66.6 L130 66.6 L130.5 66.7 L131 66.7 L131.5 66.8 L132 66.8 L132.5 66.9 L133 66.8 L133.5 66.7 L134 66.7 L134.5 66.7 L135 66.7 L135.5 66.9 L136 66.9 L136.5 66.9 L137 67 L137.5 67 L138 67 L138.5 66.9 L139 67 L139.5 67 L140 67 L140.5 67.1 L141 67.1 L141.5 67 L142 67 L142.5 67.1 L143 67.2 L143.5 67.2 L144 67.1 L144.5 67.1 L145 67.1 L145.5 67.2 L146 67.3 L146.5 67.3 L147 67.2 L147.5 67.2 L148 67.1 L148.5 67.2 L149 67.3 L149.5 67.3 L150 67.2 L150.5 67.4 L151 67.5 L151.5 67.4 L152 67.3 L152.5 67.3 L153 67.3 L153.5 67.3 L154 67.4 L154.5 67.4 L155 67.4 L155.5 67.5 L156 67.4 L156.5 67.2 L157 67.2 L157.5 67.4 L158 67.5 L158.5 67.5 L159 67.5 L159.5 67.5 L160 67.5 L160.5 67.6 L161 67.5 L161.5 67.5 L162 67.6 L162.5 67.6 L163 67.6 L163.5 67.7 L164 67.7 L164.5 67.5 L165 67.4 L165.5 67.6 L166 67.6 L166.5 67.5 L167 67.5 L167.5 67.6 L168 67.6 L168.5 67.7 L169 67.9 L169.5 68 L170 67.8 L170.5 67.7 L171 67.6 L171.5 67.5 L172 67.6 L172.5 67.6 L173 67.5 L173.5 67.6 L174 67.7 L174.5 67.7 L175 67.8 L175.5 67.8 L176 67.7 L176.5 67.5 L177 67.6 L177.5 67.7 L178 67.8 L178.5 67.8 L179 67.8 L179.5 67.7 L180 67.7 L180.5 67.7 L181 67.7 L181.5 67.9 L182 67.9 L182.5 67.7 L183 67.7" fill="none" stroke="#1414ff" stroke-width="1.25"/>
<path d="M18.5 85.5 L19 85.5 L19.5 85.5 L20 85.5 L20.5 85.5 L21 85.5 L21.5 85.5 L22 85.6 L22.5 85.6 L23 85.6 L23.5 85.6 L24 85.6 L24.5 85.7 L25 85.7 L25.5 85.7 L26 85.7 L26.5 85.8 L27 85.8 L27.5 85.8 L28 85.8 L28.5 85.9 L29 85.9 L29.5 85.9 L30 86 L30.5 86 L31 86 L31.5 86.1 L32 86.1 L32.5 86.1 L33 86.2 L33.5 86.2 L34 86.3 L34.5 86.3 L35 86.4 L35.5 86.5 L36 86.5 L36.5 86.6 L37 86.7 L37.5 86.7 L38 86.8 L38.5 86.9 L39 87 L39.5 87 L40 87.1 L40.5 87.2 L41 87.3 L41.5 87.4 L42 87.6 L42.5 87.7 L43 87.8 L43.5 88 L44 88.1 L44.5 88.3 L45 88.5 L45.5 88.7 L46 88.8 L46.5 89 L47 89.3 L47.5 89.5 L48 89.7 L48.5 90 L49 90.3 L49.5 90.7 L50 91 L50.5 91.4 L51 91.7 L51.5 92.1 L52 92.5 L52.5 92.9 L53 93.3 L53.5 93.7 L54 94.1 L54.5 94.5 L55 94.9 L55.5 95.3 L56 95.7 L56.5 96.2 L57 96.6 L57.5 97.1 L58 97.6 L58.5 98.1 L59 98.7 L59.5 99.2 L60 99.9 L60.5 100.7 L61 101.5 L61.5 102.4 L62 103.3 L62.5 104.1 L63 104.9 L63.5 105.6 L64 106.2 L64.5 106.7 L65 107.2 L65.5 107.7 L66 108.1 L66.5 108.5 L67 108.8 L67.5 109 L68 109 L68.5 108.7 L69 108.1 L69.5 107.4 L70 106.5 L70.5 105.5 L71 104 L71.5 102 L72 100 L72.5 98 L73 96.1 L73.5 94.2 L74 92.2 L74.5 90.1 L75 87.9 L75.5 85.4 L76 82.8 L76.5 80.4 L77 78.3 L77.5 76.6 L78 75 L78.5 73.6 L79 72.4 L79.5 71.4 L80 70.5 L80.5 69.6 L81 68.9 L81.5 68.7 L82 68.8 L82.5 69 L83 69.4 L83.5 69.7 L84 70 L84.5 70.4 L85 70.9 L85.5 71.3 L86 71.7 L86.5 72.1 L87 72.5 L87.5 72.8 L88 73.2 L88.5 73.6 L89 73.9 L89.5 74.2 L90 74.6 L90.5 74.9 L91 75.2 L91.5 75.5 L92 75.8 L92.5 76.1 L93 76.4 L93.5 76.7 L94 76.9 L94.5 77.2 L95 77.4 L95.5 77.7 L96 77.9 L96.5 78.1 L97 78.3 L97.5 78.5 L98 78.7 L98.5 78.9 L99 79.1 L99.5 79.3 L100 79.4 L100.5 79.6 L101 79.8 L101.5 80 L102 80.1 L102.5 80.3 L103 80.5 L103.5 80.6 L104 80.8 L104.5 80.9 L105 81 L105.5 81.2 L106 81.3 L106.5 81.4 L107 81.5 L107.5 81.6 L108 81.7 L108.5 81.8 L109 81.9 L109.5 82 L110 82.1 L110.5 82.1 L111 82.2 L111.5 82.3 L112 82.3 L112.5 82.4 L113 82.5 L113.5 82.5 L114 82.6 L114.5 82.6 L115 82.7 L115.5 82.7 L116 82.8 L116.5 82.8 L117 82.9 L117.5 82.9 L118 83 L118.5 83 L119 83.1 L119.5 83.1 L120 83.1 L120.5 83.2 L121 83.2 L121.5 83.3 L122 83.3 L122.5 83.3 L123 83.4 L123.5 83.4 L124 83.4 L124.5 83.4 L125 83.5 L125.5 83.5 L126 83.5 L126.5 83.5 L127 83.6 L127.5 83.6 L128 83.6 L128.5 83.6 L129 83.7 L129.5 83.7 L130 83.7 L130.5 83.7 L131 83.7 L131.5 83.8 L132 83.8 L132.5 83.8 L133 83.8 L133.5 83.8 L134 83.9 L134.5 83.9 L135 83.9 L135.5 83.9 L136 83.9 L136.5 84 L137 84 L137.5 84 L138 84 L138.5 84 L139 84 L139.5 84 L140 84.1 L140.5 84.1 L141 84.1 L141.5 84.1 L142 84.1 L142.5 84.1 L143 84.1 L143.5 84.2 L144 84.2 L144.5 84.2 L145 84.2 L145.5 84.2 L146 84.2 L146.5 84.2 L147 84.2 L147.5 84.3 L148 84.3 L148.5 84.3 L149 84.3 L149.5 84.3 L150 84.3 L150.5 84.3 L151 84.3 L151.5 84.3 L152 84.4 L152.5 84.4 L153 84.4 L153.5 84.4 L154 84.4 L154.5 84.4 L155 84.4 L155.5 84.4 L156 84.4 L156.5 84.4 L157 84.5 L157.5 84.5 L158 84.5 L158.5 84.5 L159 84.5 L159.5 84.5 L160 84.5 L160.5 84.5 L161 84.5 L161.5 84.5 L162 84.6 L162.5 84.6 L163 84.6 L163.5 84.6 L164 84.6 L164.5 84.6 L165 84.6 L165.5 84.6 L166 84.6 L166.5 84.6 L167 84.6 L167.5 84.7 L168 84.7 L168.5 84.7 L169 84.7 L169.5 84.7 L170 84.7 L170.5 84.7 L171 84.7 L171.5 84.7 L172 84.7 L172.5 84.7 L173 84.7 L173.5 84.7 L174 84.7 L174.5 84.7 L175 84.8 L175.5 84.8 L176 84.8 L176.5 84.8 L177 84.8 L177.5 84.8 L178 84.8 L178.5 84.8 L179 84.8 L179.5 84.8 L180 84.8 L180.5 84.8 L181 84.8 L181.5 84.8 L182 84.8 L182.3 84.8" fill="none" stroke="#ff1a1a" stroke-width="1.3" stroke-dasharray="4.2 3.4" transform="translate(0.7 0.3)"/>
<path d="M53.5 93.8 L54 94 L54.5 94.4 L55 94.9 L55.5 95.3 L56 95.6 L56.5 96 L57 96.5 L57.5 97.2 L58 97.8 L58.5 98.3 L59 98.6 L59.5 99.2 L60 99.8 L60.5 100.6 L61 101.5 L61.5 102.4 L62 103.3 L62.5 104.2 L63 104.9 L63.5 105.7 L64 106.3 L64.5 106.8 L65 107.2 L65.5 107.7 L66 108.2 L66.5 108.7 L67 108.8 L67.5 109 L68 109 L68.5 108.6 L69 108.1 L69.5 107.5 L70 106.6 L70.5 105.6 L71 103.9 L71.5 101.9 L72 99.9 L72.5 97.9 L73 96 L73.5 94.2 L74 92.2 L74.5 90 L75 87.8 L75.5 85.4 L76 82.9 L76.5 80.5 L77 78.4 L77.5 76.7 L78 75.1 L78.5 73.6 L79 72.3 L79.5 71.4 L80 70.5 L80.5 69.6 L81 68.9 L81.5 68.6 L82 68.6 L82.5 69 L83 69.4 L83.5 69.6 L84 70 L84.5 70.4 L85 70.8 L85.5 71.2 L86 71.6 L86.5 72.2 L87 72.5 L87.5 72.7 L88 73.1 L88.5 73.5 L89 73.9 L89.5 74.3 L90 74.6 L90.5 74.8 L91 75.2 L91.5 75.6 L92 75.8 L92.5 76 L93 76.3 L93.5 76.8 L94 77.1 L94.5 77.3 L95 77.6 L95.5 77.7 L96 77.8 L96.5 78 L97 78.3 L97.5 78.5 L98 78.6 L98.5 78.8 L99 79 L99.5 79.3 L100 79.4 L100.5 79.5 L101 79.6 L101.5 79.9 L102 80.2 L102.5 80.4 L103 80.5 L103.5 80.6 L104 80.8 L104.5 80.9 L105 81.1 L105.5 81.2 L106 81.3 L106.5 81.4 L107 81.5 L107.5 81.7 L108 82 L108.5 82.1 L109 82 L109.5 81.9 L110 81.9 L110.5 82.1 L111 82.1 L111.5 82.2 L112 82.4 L112.5 82.5 L113 82.4 L113.5 82.4 L114 82.5 L114.5 82.6 L115 82.8 L115.5 82.9 L116 82.9 L116.5 82.9 L117 83 L117.5 83.1 L118 83.2 L118.5 83.1 L119 83 L119.5 83 L120 83.1 L120.5 83.3 L121 83.3 L121.5 83.2 L122 83.3 L122.5 83.3 L123 83.3 L123.5 83.3 L124 83.5 L124.5 83.6 L125 83.5 L125.5 83.4 L126 83.4 L126.5 83.4 L127 83.6 L127.5 83.7 L128 83.7 L128.5 83.7 L129 83.7 L129.5 83.6 L130 83.6 L130.5 83.6 L131 83.7 L131.5 83.7 L132 83.7 L132.5 83.7 L133 83.8 L133.5 83.9 L134 83.9 L134.5 83.9 L135 84 L135.5 84.1 L136 84 L136.5 83.9 L137 83.9 L137.5 84 L138 84 L138.5 84.1 L139 84.2 L139.5 84.2 L140 84.2 L140.5 84.2 L141 84.1 L141.5 84.1 L142 84.2 L142.5 84.2 L143 84.3 L143.5 84.4 L144 84.4 L144.5 84.3 L145 84.2 L145.5 84.2 L146 84.3 L146.5 84.2 L147 84.3 L147.5 84.3 L148 84.4 L148.5 84.3 L149 84.3 L149.5 84.3 L150 84.2 L150.5 84.2 L151 84.2 L151.5 84.4 L152 84.4 L152.5 84.4 L153 84.5 L153.5 84.5 L154 84.5 L154.5 84.4 L155 84.3 L155.5 84.3 L156 84.4 L156.5 84.4 L157 84.4 L157.5 84.5 L158 84.6 L158.5 84.5 L159 84.4 L159.5 84.5 L160 84.5 L160.5 84.5 L161 84.5 L161.5 84.5 L162 84.5 L162.5 84.5 L163 84.4 L163.5 84.4 L164 84.5 L164.5 84.5 L165 84.7 L165.5 84.7 L166 84.5 L166.5 84.6 L167 84.6 L167.5 84.6 L168 84.6 L168.5 84.6 L169 84.5 L169.5 84.6 L170 84.7 L170.5 84.7 L171 84.6 L171.5 84.7 L172 84.8 L172.5 84.6 L173 84.6 L173.5 84.7 L174 84.8 L174.5 84.9 L175 84.8 L175.5 84.7 L176 84.7 L176.5 84.8 L177 84.9 L177.5 84.9 L178 84.8 L178.5 84.8 L179 84.9 L179.5 84.9 L180 84.9 L180.5 84.8 L181 84.9 L181.5 84.8 L182 84.8 L182.5 84.9 L183 84.9" fill="none" stroke="#1414ff" stroke-width="1.25"/>
<path d="M18.5 102.5 L19 102.5 L19.5 102.5 L20 102.5 L20.5 102.5 L21 102.6 L21.5 102.6 L22 102.6 L22.5 102.6 L23 102.6 L23.5 102.6 L24 102.7 L24.5 102.7 L25 102.7 L25.5 102.7 L26 102.8 L26.5 102.8 L27 102.8 L27.5 102.8 L28 102.9 L28.5 102.9 L29 102.9 L29.5 103 L30 103 L30.5 103 L31 103 L31.5 103.1 L32 103.1 L32.5 103.2 L33 103.2 L33.5 103.3 L34 103.3 L34.5 103.4 L35 103.4 L35.5 103.5 L36 103.5 L36.5 103.6 L37 103.7 L37.5 103.7 L38 103.8 L38.5 103.9 L39 104 L39.5 104 L40 104.1 L40.5 104.2 L41 104.3 L41.5 104.4 L42 104.5 L42.5 104.7 L43 104.8 L43.5 105 L44 105.1 L44.5 105.3 L45 105.4 L45.5 105.6 L46 105.8 L46.5 106 L47 106.2 L47.5 106.4 L48 106.7 L48.5 107 L49 107.3 L49.5 107.6 L50 107.9 L50.5 108.3 L51 108.6 L51.5 109 L52 109.4 L52.5 109.8 L53 110.2 L53.5 110.6 L54 111 L54.5 111.3 L55 111.7 L55.5 112.1 L56 112.6 L56.5 113 L57 113.4 L57.5 113.9 L58 114.4 L58.5 114.9 L59 115.4 L59.5 116 L60 116.6 L60.5 117.4 L61 118.2 L61.5 119.1 L62 119.9 L62.5 120.8 L63 121.5 L63.5 122.2 L64 122.8 L64.5 123.3 L65 123.8 L65.5 124.2 L66 124.7 L66.5 125.1 L67 125.3 L67.5 125.5 L68 125.5 L68.5 125.2 L69 124.7 L69.5 123.9 L70 123.1 L70.5 122.1 L71 120.6 L71.5 118.7 L72 116.7 L72.5 114.8 L73 112.9 L73.5 111 L74 109.1 L74.5 107 L75 104.9 L75.5 102.4 L76 99.9 L76.5 97.4 L77 95.3 L77.5 93.6 L78 92 L78.5 90.6 L79 89.4 L79.5 88.4 L80 87.5 L80.5 86.6 L81 86 L81.5 85.7 L82 85.8 L82.5 86.1 L83 86.4 L83.5 86.7 L84 87.1 L84.5 87.5 L85 87.9 L85.5 88.3 L86 88.7 L86.5 89.1 L87 89.5 L87.5 89.9 L88 90.2 L88.5 90.6 L89 90.9 L89.5 91.3 L90 91.6 L90.5 91.9 L91 92.2 L91.5 92.5 L92 92.8 L92.5 93.1 L93 93.4 L93.5 93.7 L94 94 L94.5 94.2 L95 94.5 L95.5 94.7 L96 94.9 L96.5 95.1 L97 95.3 L97.5 95.5 L98 95.7 L98.5 95.9 L99 96.1 L99.5 96.3 L100 96.5 L100.5 96.6 L101 96.8 L101.5 97 L102 97.2 L102.5 97.3 L103 97.5 L103.5 97.6 L104 97.8 L104.5 97.9 L105 98.1 L105.5 98.2 L106 98.3 L106.5 98.4 L107 98.5 L107.5 98.6 L108 98.7 L108.5 98.8 L109 98.9 L109.5 99 L110 99.1 L110.5 99.2 L111 99.2 L111.5 99.3 L112 99.4 L112.5 99.4 L113 99.5 L113.5 99.6 L114 99.6 L114.5 99.7 L115 99.7 L115.5 99.8 L116 99.8 L116.5 99.9 L117 99.9 L117.5 100 L118 100 L118.5 100.1 L119 100.1 L119.5 100.1 L120 100.2 L120.5 100.2 L121 100.3 L121.5 100.3 L122 100.3 L122.5 100.4 L123 100.4 L123.5 100.4 L124 100.5 L124.5 100.5 L125 100.5 L125.5 100.5 L126 100.6 L126.5 100.6 L127 100.6 L127.5 100.6 L128 100.6 L128.5 100.7 L129 100.7 L129.5 100.7 L130 100.7 L130.5 100.8 L131 100.8 L131.5 100.8 L132 100.8 L132.5 100.8 L133 100.9 L133.5 100.9 L134 100.9 L134.5 100.9 L135 100.9 L135.5 100.9 L136 101 L136.5 101 L137 101 L137.5 101 L138 101 L138.5 101 L139 101.1 L139.5 101.1 L140 101.1 L140.5 101.1 L141 101.1 L141.5 101.1 L142 101.1 L142.5 101.2 L143 101.2 L143.5 101.2 L144 101.2 L144.5 101.2 L145 101.2 L145.5 101.2 L146 101.3 L146.5 101.3 L147 101.3 L147.5 101.3 L148 101.3 L148.5 101.3 L149 101.3 L149.5 101.3 L150 101.3 L150.5 101.4 L151 101.4 L151.5 101.4 L152 101.4 L152.5 101.4 L153 101.4 L153.5 101.4 L154 101.4 L154.5 101.4 L155 101.4 L155.5 101.5 L156 101.5 L156.5 101.5 L157 101.5 L157.5 101.5 L158 101.5 L158.5 101.5 L159 101.5 L159.5 101.5 L160 101.5 L160.5 101.6 L161 101.6 L161.5 101.6 L162 101.6 L162.5 101.6 L163 101.6 L163.5 101.6 L164 101.6 L164.5 101.6 L165 101.6 L165.5 101.6 L166 101.7 L166.5 101.7 L167 101.7 L167.5 101.7 L168 101.7 L168.5 101.7 L169 101.7 L169.5 101.7 L170 101.7 L170.5 101.7 L171 101.7 L171.5 101.7 L172 101.7 L172.5 101.8 L173 101.8 L173.5 101.8 L174 101.8 L174.5 101.8 L175 101.8 L175.5 101.8 L176 101.8 L176.5 101.8 L177 101.8 L177.5 101.8 L178 101.8 L178.5 101.8 L179 101.8 L179.5 101.8 L180 101.8 L180.5 101.8 L181 101.8 L181.5 101.8 L182 101.8 L182.3 101.8" fill="none" stroke="#ff1a1a" stroke-width="1.3" stroke-dasharray="4.2 3.4" transform="translate(0.7 0.3)"/>
<path d="M53.5 110.5 L54 111 L54.5 111.5 L55 111.8 L55.5 112 L56 112.5 L56.5 112.9 L57 113.4 L57.5 113.8 L58 114.3 L58.5 115 L59 115.6 L59.5 116.1 L60 116.6 L60.5 117.4 L61 118.2 L61.5 119 L62 119.9 L62.5 120.7 L63 121.4 L63.5 122.1 L64 122.7 L64.5 123.3 L65 123.8 L65.5 124.3 L66 124.6 L66.5 125 L67 125.3 L67.5 125.4 L68 125.3 L68.5 125.1 L69 124.6 L69.5 123.9 L70 123.1 L70.5 122.2 L71 120.7 L71.5 118.8 L72 116.6 L72.5 114.7 L73 112.9 L73.5 111.1 L74 109.1 L74.5 107 L75 104.7 L75.5 102.3 L76 99.8 L76.5 97.4 L77 95.4 L77.5 93.7 L78 92.1 L78.5 90.6 L79 89.4 L79.5 88.3 L80 87.4 L80.5 86.6 L81 86 L81.5 85.7 L82 85.9 L82.5 86.1 L83 86.4 L83.5 86.8 L84 87.2 L84.5 87.6 L85 88 L85.5 88.4 L86 88.7 L86.5 89.1 L87 89.5 L87.5 89.8 L88 90.2 L88.5 90.7 L89 91 L89.5 91.3 L90 91.7 L90.5 92 L91 92.3 L91.5 92.5 L92 92.7 L92.5 92.9 L93 93.2 L93.5 93.5 L94 93.9 L94.5 94.4 L95 94.6 L95.5 94.7 L96 94.9 L96.5 95.1 L97 95.2 L97.5 95.4 L98 95.5 L98.5 95.8 L99 96 L99.5 96.2 L100 96.5 L100.5 96.7 L101 96.9 L101.5 97 L102 97.3 L102.5 97.4 L103 97.5 L103.5 97.6 L104 97.8 L104.5 98 L105 98.2 L105.5 98.3 L106 98.4 L106.5 98.4 L107 98.5 L107.5 98.6 L108 98.8 L108.5 98.9 L109 99 L109.5 99.1 L110 99.1 L110.5 99.2 L111 99.3 L111.5 99.3 L112 99.3 L112.5 99.4 L113 99.4 L113.5 99.6 L114 99.7 L114.5 99.7 L115 100 L115.5 100 L116 99.9 L116.5 100 L117 100.1 L117.5 100.1 L118 100.1 L118.5 100.1 L119 100.2 L119.5 100.2 L120 100.3 L120.5 100.2 L121 100.2 L121.5 100.1 L122 100.1 L122.5 100.3 L123 100.4 L123.5 100.4 L124 100.5 L124.5 100.6 L125 100.5 L125.5 100.5 L126 100.5 L126.5 100.5 L127 100.5 L127.5 100.6 L128 100.7 L128.5 100.7 L129 100.7 L129.5 100.7 L130 100.7 L130.5 100.7 L131 100.8 L131.5 100.8 L132 100.8 L132.5 100.8 L133 100.8 L133.5 100.8 L134 100.9 L134.5 101 L135 101 L135.5 101.1 L136 100.9 L136.5 100.8 L137 100.9 L137.5 101.1 L138 101.1 L138.5 101 L139 101 L139.5 101.2 L140 101.2 L140.5 101.2 L141 101.2 L141.5 101.3 L142 101.2 L142.5 101.1 L143 101.2 L143.5 101.2 L144 101.2 L144.5 101.3 L145 101.1 L145.5 101.1 L146 101.3 L146.5 101.4 L147 101.3 L147.5 101.3 L148 101.3 L148.5 101.2 L149 101.3 L149.5 101.3 L150 101.3 L150.5 101.2 L151 101.3 L151.5 101.5 L152 101.5 L152.5 101.5 L153 101.4 L153.5 101.4 L154 101.5 L154.5 101.5 L155 101.4 L155.5 101.4 L156 101.3 L156.5 101.4 L157 101.5 L157.5 101.4 L158 101.4 L158.5 101.5 L159 101.6 L159.5 101.6 L160 101.6 L160.5 101.6 L161 101.7 L161.5 101.7 L162 101.6 L162.5 101.7 L163 101.7 L163.5 101.8 L164 101.9 L164.5 101.7 L165 101.6 L165.5 101.5 L166 101.6 L166.5 101.6 L167 101.7 L167.5 101.7 L168 101.7 L168.5 101.7 L169 101.6 L169.5 101.6 L170 101.8 L170.5 101.8 L171 101.8 L171.5 101.8 L172 101.7 L172.5 101.6 L173 101.6 L173.5 101.8 L174 101.8 L174.5 101.9 L175 101.9 L175.5 101.8 L176 101.9 L176.5 101.9 L177 101.8 L177.5 101.8 L178 101.8 L178.5 101.9 L179 102 L179.5 102 L180 101.9 L180.5 101.9 L181 101.9 L181.5 101.9 L182 101.9 L182.5 102 L183 102" fill="none" stroke="#1414ff" stroke-width="1.25"/>
<path d="M18.5 119.6 L19 119.6 L19.5 119.6 L20 119.6 L20.5 119.6 L21 119.6 L21.5 119.6 L22 119.6 L22.5 119.6 L23 119.7 L23.5 119.7 L24 119.7 L24.5 119.7 L25 119.7 L25.5 119.8 L26 119.8 L26.5 119.8 L27 119.9 L27.5 119.9 L28 119.9 L28.5 119.9 L29 120 L29.5 120 L30 120 L30.5 120.1 L31 120.1 L31.5 120.1 L32 120.2 L32.5 120.2 L33 120.3 L33.5 120.3 L34 120.4 L34.5 120.4 L35 120.5 L35.5 120.5 L36 120.6 L36.5 120.7 L37 120.7 L37.5 120.8 L38 120.9 L38.5 121 L39 121.1 L39.5 121.1 L40 121.2 L40.5 121.3 L41 121.4 L41.5 121.5 L42 121.7 L42.5 121.8 L43 121.9 L43.5 122.1 L44 122.2 L44.5 122.4 L45 122.6 L45.5 122.8 L46 123 L46.5 123.2 L47 123.4 L47.5 123.6 L48 123.9 L48.5 124.2 L49 124.5 L49.5 124.8 L50 125.2 L50.5 125.6 L51 125.9 L51.5 126.3 L52 126.7 L52.5 127.1 L53 127.5 L53.5 128 L54 128.4 L54.5 128.8 L55 129.2 L55.5 129.6 L56 130 L56.5 130.5 L57 130.9 L57.5 131.4 L58 131.9 L58.5 132.5 L59 133 L59.5 133.6 L60 134.3 L60.5 135.1 L61 135.9 L61.5 136.8 L62 137.7 L62.5 138.6 L63 139.4 L63.5 140.1 L64 140.7 L64.5 141.2 L65 141.7 L65.5 142.2 L66 142.7 L66.5 143.1 L67 143.4 L67.5 143.5 L68 143.5 L68.5 143.2 L69 142.7 L69.5 141.9 L70 141 L70.5 140 L71 138.4 L71.5 136.5 L72 134.4 L72.5 132.4 L73 130.4 L73.5 128.4 L74 126.4 L74.5 124.2 L75 122 L75.5 119.5 L76 116.9 L76.5 114.4 L77 112.2 L77.5 110.5 L78 108.9 L78.5 107.5 L79 106.2 L79.5 105.2 L80 104.2 L80.5 103.4 L81 102.7 L81.5 102.5 L82 102.6 L82.5 102.8 L83 103.1 L83.5 103.5 L84 103.8 L84.5 104.2 L85 104.7 L85.5 105.1 L86 105.5 L86.5 105.9 L87 106.3 L87.5 106.7 L88 107 L88.5 107.4 L89 107.8 L89.5 108.1 L90 108.4 L90.5 108.8 L91 109.1 L91.5 109.4 L92 109.7 L92.5 110 L93 110.3 L93.5 110.6 L94 110.8 L94.5 111.1 L95 111.3 L95.5 111.6 L96 111.8 L96.5 112 L97 112.2 L97.5 112.4 L98 112.6 L98.5 112.8 L99 113 L99.5 113.2 L100 113.4 L100.5 113.6 L101 113.7 L101.5 113.9 L102 114.1 L102.5 114.3 L103 114.4 L103.5 114.6 L104 114.7 L104.5 114.9 L105 115 L105.5 115.2 L106 115.3 L106.5 115.4 L107 115.5 L107.5 115.6 L108 115.7 L108.5 115.8 L109 115.9 L109.5 116 L110 116 L110.5 116.1 L111 116.2 L111.5 116.3 L112 116.3 L112.5 116.4 L113 116.5 L113.5 116.5 L114 116.6 L114.5 116.6 L115 116.7 L115.5 116.7 L116 116.8 L116.5 116.9 L117 116.9 L117.5 116.9 L118 117 L118.5 117 L119 117.1 L119.5 117.1 L120 117.2 L120.5 117.2 L121 117.2 L121.5 117.3 L122 117.3 L122.5 117.4 L123 117.4 L123.5 117.4 L124 117.4 L124.5 117.5 L125 117.5 L125.5 117.5 L126 117.5 L126.5 117.6 L127 117.6 L127.5 117.6 L128 117.6 L128.5 117.7 L129 117.7 L129.5 117.7 L130 117.7 L130.5 117.8 L131 117.8 L131.5 117.8 L132 117.8 L132.5 117.8 L133 117.9 L133.5 117.9 L134 117.9 L134.5 117.9 L135 117.9 L135.5 117.9 L136 118 L136.5 118 L137 118 L137.5 118 L138 118 L138.5 118.1 L139 118.1 L139.5 118.1 L140 118.1 L140.5 118.1 L141 118.1 L141.5 118.1 L142 118.2 L142.5 118.2 L143 118.2 L143.5 118.2 L144 118.2 L144.5 118.2 L145 118.2 L145.5 118.2 L146 118.3 L146.5 118.3 L147 118.3 L147.5 118.3 L148 118.3 L148.5 118.3 L149 118.3 L149.5 118.3 L150 118.4 L150.5 118.4 L151 118.4 L151.5 118.4 L152 118.4 L152.5 118.4 L153 118.4 L153.5 118.4 L154 118.4 L154.5 118.4 L155 118.5 L155.5 118.5 L156 118.5 L156.5 118.5 L157 118.5 L157.5 118.5 L158 118.5 L158.5 118.5 L159 118.5 L159.5 118.6 L160 118.6 L160.5 118.6 L161 118.6 L161.5 118.6 L162 118.6 L162.5 118.6 L163 118.6 L163.5 118.6 L164 118.6 L164.5 118.6 L165 118.7 L165.5 118.7 L166 118.7 L166.5 118.7 L167 118.7 L167.5 118.7 L168 118.7 L168.5 118.7 L169 118.7 L169.5 118.7 L170 118.7 L170.5 118.7 L171 118.7 L171.5 118.8 L172 118.8 L172.5 118.8 L173 118.8 L173.5 118.8 L174 118.8 L174.5 118.8 L175 118.8 L175.5 118.8 L176 118.8 L176.5 118.8 L177 118.8 L177.5 118.8 L178 118.8 L178.5 118.8 L179 118.8 L179.5 118.8 L180 118.8 L180.5 118.9 L181 118.9 L181.5 118.9 L182 118.9 L182.3 118.9" fill="none" stroke="#ff1a1a" stroke-width="1.3" stroke-dasharray="4.2 3.4" transform="translate(0.7 0.3)"/>
<path d="M53.5 127.8 L54 128.2 L54.5 128.7 L55 129.2 L55.5 129.7 L56 130.1 L56.5 130.4 L57 130.9 L57.5 131.5 L58 132.1 L58.5 132.5 L59 132.9 L59.5 133.5 L60 134.4 L60.5 135.1 L61 135.8 L61.5 136.7 L62 137.6 L62.5 138.5 L63 139.3 L63.5 140 L64 140.7 L64.5 141.2 L65 141.7 L65.5 142.3 L66 142.7 L66.5 143 L67 143.2 L67.5 143.4 L68 143.4 L68.5 143.1 L69 142.6 L69.5 141.9 L70 141 L70.5 139.9 L71 138.3 L71.5 136.3 L72 134.2 L72.5 132.3 L73 130.4 L73.5 128.5 L74 126.4 L74.5 124.1 L75 121.9 L75.5 119.4 L76 116.8 L76.5 114.3 L77 112.1 L77.5 110.4 L78 108.9 L78.5 107.5 L79 106.2 L79.5 105.2 L80 104.2 L80.5 103.3 L81 102.7 L81.5 102.5 L82 102.7 L82.5 103 L83 103.3 L83.5 103.6 L84 103.9 L84.5 104.2 L85 104.7 L85.5 105.2 L86 105.6 L86.5 105.9 L87 106.3 L87.5 106.7 L88 107 L88.5 107.4 L89 107.8 L89.5 108.1 L90 108.4 L90.5 108.7 L91 109 L91.5 109.2 L92 109.6 L92.5 110 L93 110.3 L93.5 110.4 L94 110.7 L94.5 111 L95 111.2 L95.5 111.5 L96 111.8 L96.5 111.9 L97 112.2 L97.5 112.4 L98 112.6 L98.5 112.9 L99 113.1 L99.5 113.2 L100 113.2 L100.5 113.4 L101 113.6 L101.5 113.9 L102 114.1 L102.5 114.2 L103 114.3 L103.5 114.5 L104 114.7 L104.5 114.9 L105 115 L105.5 115.2 L106 115.4 L106.5 115.4 L107 115.5 L107.5 115.7 L108 115.7 L108.5 115.8 L109 115.9 L109.5 116 L110 116 L110.5 116 L111 116.1 L111.5 116.3 L112 116.4 L112.5 116.4 L113 116.6 L113.5 116.6 L114 116.6 L114.5 116.6 L115 116.6 L115.5 116.6 L116 116.7 L116.5 116.8 L117 116.9 L117.5 116.9 L118 117 L118.5 117.1 L119 117.2 L119.5 117.2 L120 117.3 L120.5 117.3 L121 117.4 L121.5 117.4 L122 117.4 L122.5 117.4 L123 117.3 L123.5 117.4 L124 117.5 L124.5 117.6 L125 117.6 L125.5 117.5 L126 117.5 L126.5 117.7 L127 117.7 L127.5 117.6 L128 117.7 L128.5 117.7 L129 117.5 L129.5 117.6 L130 117.7 L130.5 117.8 L131 117.8 L131.5 117.7 L132 117.8 L132.5 117.8 L133 117.8 L133.5 117.9 L134 118 L134.5 118 L135 117.8 L135.5 117.8 L136 117.9 L136.5 117.9 L137 117.9 L137.5 117.9 L138 118.2 L138.5 118.2 L139 118.1 L139.5 118.2 L140 118.1 L140.5 118 L141 118 L141.5 118.1 L142 118.2 L142.5 118.2 L143 118.2 L143.5 118.3 L144 118.4 L144.5 118.4 L145 118.2 L145.5 118.3 L146 118.4 L146.5 118.3 L147 118.2 L147.5 118.3 L148 118.4 L148.5 118.4 L149 118.4 L149.5 118.3 L150 118.4 L150.5 118.5 L151 118.5 L151.5 118.4 L152 118.3 L152.5 118.3 L153 118.5 L153.5 118.4 L154 118.2 L154.5 118.3 L155 118.5 L155.5 118.5 L156 118.5 L156.5 118.5 L157 118.6 L157.5 118.5 L158 118.5 L158.5 118.7 L159 118.8 L159.5 118.7 L160 118.7 L160.5 118.7 L161 118.6 L161.5 118.5 L162 118.5 L162.5 118.6 L163 118.7 L163.5 118.8 L164 118.8 L164.5 118.8 L165 118.8 L165.5 118.7 L166 118.7 L166.5 118.6 L167 118.6 L167.5 118.7 L168 118.5 L168.5 118.6 L169 118.7 L169.5 118.7 L170 118.6 L170.5 118.7 L171 118.7 L171.5 118.8 L172 118.8 L172.5 118.7 L173 118.7 L173.5 118.8 L174 118.9 L174.5 118.9 L175 118.9 L175.5 118.8 L176 118.7 L176.5 118.7 L177 118.8 L177.5 118.8 L178 118.7 L178.5 118.7 L179 118.8 L179.5 118.8 L180 118.8 L180.5 118.8 L181 118.9 L181.5 118.9 L182 119 L182.5 119 L183 119" fill="none" stroke="#1414ff" stroke-width="1.25"/>
<path d="M18.5 136.6 L19 136.6 L19.5 136.6 L20 136.7 L20.5 136.7 L21 136.7 L21.5 136.7 L22 136.7 L22.5 136.8 L23 136.8 L23.5 136.8 L24 136.9 L24.5 136.9 L25 136.9 L25.5 137 L26 137 L26.5 137 L27 137.1 L27.5 137.1 L28 137.1 L28.5 137.2 L29 137.2 L29.5 137.2 L30 137.3 L30.5 137.3 L31 137.4 L31.5 137.4 L32 137.4 L32.5 137.5 L33 137.5 L33.5 137.6 L34 137.6 L34.5 137.7 L35 137.7 L35.5 137.8 L36 137.8 L36.5 137.9 L37 137.9 L37.5 138 L38 138.1 L38.5 138.1 L39 138.2 L39.5 138.3 L40 138.4 L40.5 138.5 L41 138.6 L41.5 138.7 L42 138.9 L42.5 139.1 L43 139.2 L43.5 139.4 L44 139.7 L44.5 139.9 L45 140.1 L45.5 140.3 L46 140.6 L46.5 140.8 L47 141.1 L47.5 141.3 L48 141.6 L48.5 141.9 L49 142.1 L49.5 142.4 L50 142.8 L50.5 143.1 L51 143.5 L51.5 143.8 L52 144.3 L52.5 144.7 L53 145.2 L53.5 145.7 L54 146.4 L54.5 147.1 L55 148 L55.5 149 L56 150 L56.5 151 L57 152.1 L57.5 153.1 L58 154.1 L58.5 155.2 L59 156.3 L59.5 157.4 L60 158.6 L60.5 159.8 L61 161 L61.5 162.1 L62 163.1 L62.5 164.1 L63 165 L63.5 165.8 L64 166.7 L64.5 167.6 L65 168.5 L65.5 169.3 L66 170 L66.5 170.7 L67 171.2 L67.5 171.5 L68 171.6 L68.5 171.1 L69 169.9 L69.5 168.1 L70 165.9 L70.5 163.7 L71 161.6 L71.5 159.5 L72 157.1 L72.5 154.6 L73 152 L73.5 149.5 L74 147.2 L74.5 144.8 L75 142.4 L75.5 140 L76 137.8 L76.5 135.8 L77 133.8 L77.5 131.8 L78 130 L78.5 128.3 L79 126.9 L79.5 125.5 L80 124.1 L80.5 122.7 L81 121.6 L81.5 120.7 L82 120.2 L82.5 120 L83 120 L83.5 119.9 L84 119.8 L84.5 119.8 L85 119.8 L85.5 119.8 L86 120 L86.5 120.4 L87 121 L87.5 121.6 L88 122.1 L88.5 122.5 L89 122.8 L89.5 123.2 L90 123.5 L90.5 123.9 L91 124.2 L91.5 124.5 L92 124.8 L92.5 125.1 L93 125.3 L93.5 125.6 L94 125.8 L94.5 126.1 L95 126.3 L95.5 126.6 L96 126.8 L96.5 127 L97 127.2 L97.5 127.4 L98 127.7 L98.5 127.9 L99 128 L99.5 128.2 L100 128.4 L100.5 128.6 L101 128.8 L101.5 129 L102 129.1 L102.5 129.3 L103 129.5 L103.5 129.7 L104 129.8 L104.5 130 L105 130.2 L105.5 130.3 L106 130.5 L106.5 130.6 L107 130.8 L107.5 130.9 L108 131 L108.5 131.1 L109 131.2 L109.5 131.3 L110 131.4 L110.5 131.5 L111 131.5 L111.5 131.6 L112 131.7 L112.5 131.7 L113 131.8 L113.5 131.8 L114 131.9 L114.5 131.9 L115 132 L115.5 132 L116 132.1 L116.5 132.1 L117 132.2 L117.5 132.2 L118 132.3 L118.5 132.3 L119 132.4 L119.5 132.4 L120 132.4 L120.5 132.5 L121 132.5 L121.5 132.5 L122 132.6 L122.5 132.6 L123 132.6 L123.5 132.7 L124 132.7 L124.5 132.7 L125 132.8 L125.5 132.8 L126 132.8 L126.5 132.9 L127 132.9 L127.5 132.9 L128 133 L128.5 133 L129 133 L129.5 133.1 L130 133.1 L130.5 133.1 L131 133.2 L131.5 133.2 L132 133.2 L132.5 133.2 L133 133.3 L133.5 133.3 L134 133.3 L134.5 133.3 L135 133.4 L135.5 133.4 L136 133.4 L136.5 133.4 L137 133.5 L137.5 133.5 L138 133.5 L138.5 133.5 L139 133.5 L139.5 133.6 L140 133.6 L140.5 133.6 L141 133.6 L141.5 133.6 L142 133.7 L142.5 133.7 L143 133.7 L143.5 133.7 L144 133.7 L144.5 133.7 L145 133.8 L145.5 133.8 L146 133.8 L146.5 133.8 L147 133.8 L147.5 133.8 L148 133.9 L148.5 133.9 L149 133.9 L149.5 133.9 L150 133.9 L150.5 133.9 L151 134 L151.5 134 L152 134 L152.5 134 L153 134 L153.5 134 L154 134 L154.5 134 L155 134.1 L155.5 134.1 L156 134.1 L156.5 134.1 L157 134.1 L157.5 134.1 L158 134.1 L158.5 134.1 L159 134.2 L159.5 134.2 L160 134.2 L160.5 134.2 L161 134.2 L161.5 134.2 L162 134.2 L162.5 134.2 L163 134.2 L163.5 134.3 L164 134.3 L164.5 134.3 L165 134.3 L165.5 134.3 L166 134.3 L166.5 134.3 L167 134.3 L167.5 134.3 L168 134.3 L168.5 134.4 L169 134.4 L169.5 134.4 L170 134.4 L170.5 134.4 L171 134.4 L171.5 134.4 L172 134.4 L172.5 134.4 L173 134.4 L173.5 134.4 L174 134.5 L174.5 134.5 L175 134.5 L175.5 134.5 L176 134.5 L176.5 134.5 L177 134.5 L177.5 134.5 L178 134.5 L178.5 134.5 L179 134.5 L179.5 134.5 L180 134.5 L180.5 134.6 L181 134.6 L181.5 134.6 L182 134.6 L182.3 134.6" fill="none" stroke="#ff1a1a" stroke-width="1.3" stroke-dasharray="4.2 3.4" transform="translate(0.7 0.3)"/>
<path d="M53.5 145.8 L54 146.4 L54.5 147 L55 147.9 L55.5 149.1 L56 150.1 L56.5 151.2 L57 152.2 L57.5 153.2 L58 154.1 L58.5 155.2 L59 156.2 L59.5 157.4 L60 158.6 L60.5 159.8 L61 161.1 L61.5 162.3 L62 163.3 L62.5 164.2 L63 165 L63.5 165.8 L64 166.6 L64.5 167.6 L65 168.4 L65.5 169.1 L66 169.9 L66.5 170.6 L67 171.1 L67.5 171.5 L68 171.7 L68.5 171.2 L69 169.9 L69.5 168.1 L70 166 L70.5 163.7 L71 161.6 L71.5 159.4 L72 157 L72.5 154.6 L73 152 L73.5 149.5 L74 147.3 L74.5 144.8 L75 142.4 L75.5 140.1 L76 138 L76.5 135.9 L77 133.8 L77.5 131.9 L78 130 L78.5 128.4 L79 127 L79.5 125.4 L80 123.7 L80.5 122.1 L81 120.8 L81.5 119.9 L82 119.4 L82.5 119.4 L83 119.6 L83.5 120 L84 120.3 L84.5 120.7 L85 121.1 L85.5 121.3 L86 121.7 L86.5 122.1 L87 122.5 L87.5 123 L88 123.2 L88.5 123.5 L89 123.7 L89.5 124 L90 124.2 L90.5 124.4 L91 124.6 L91.5 124.8 L92 125 L92.5 125.3 L93 125.5 L93.5 125.6 L94 125.9 L94.5 126.2 L95 126.3 L95.5 126.4 L96 126.7 L96.5 126.9 L97 127.1 L97.5 127.3 L98 127.5 L98.5 127.8 L99 127.9 L99.5 128.1 L100 128.2 L100.5 128.3 L101 128.4 L101.5 128.6 L102 128.9 L102.5 129.1 L103 129.3 L103.5 129.5 L104 129.6 L104.5 129.8 L105 130 L105.5 129.9 L106 130 L106.5 130.2 L107 130.3 L107.5 130.4 L108 130.6 L108.5 130.7 L109 130.8 L109.5 131.1 L110 131.4 L110.5 131.4 L111 131.3 L111.5 131.4 L112 131.4 L112.5 131.5 L113 131.6 L113.5 131.7 L114 131.7 L114.5 131.9 L115 132 L115.5 132 L116 131.8 L116.5 131.8 L117 132 L117.5 132.1 L118 132.2 L118.5 132.2 L119 132.3 L119.5 132.4 L120 132.4 L120.5 132.4 L121 132.4 L121.5 132.5 L122 132.6 L122.5 132.6 L123 132.7 L123.5 132.7 L124 132.7 L124.5 132.7 L125 132.7 L125.5 132.6 L126 132.7 L126.5 132.7 L127 132.8 L127.5 132.9 L128 133 L128.5 132.9 L129 133 L129.5 133.1 L130 133.1 L130.5 133.1 L131 133.1 L131.5 133 L132 132.9 L132.5 133 L133 133.1 L133.5 133.1 L134 133.1 L134.5 133.1 L135 133.3 L135.5 133.3 L136 133.3 L136.5 133.3 L137 133.3 L137.5 133.4 L138 133.6 L138.5 133.7 L139 133.6 L139.5 133.5 L140 133.5 L140.5 133.6 L141 133.6 L141.5 133.6 L142 133.6 L142.5 133.5 L143 133.6 L143.5 133.7 L144 133.7 L144.5 133.8 L145 133.8 L145.5 133.8 L146 133.8 L146.5 133.8 L147 133.9 L147.5 133.9 L148 133.8 L148.5 133.8 L149 133.9 L149.5 134 L150 133.9 L150.5 133.9 L151 134 L151.5 133.9 L152 133.8 L152.5 133.9 L153 133.9 L153.5 133.8 L154 133.9 L154.5 134 L155 134 L155.5 133.9 L156 133.8 L156.5 133.9 L157 134.1 L157.5 134.2 L158 134.3 L158.5 134.3 L159 134.2 L159.5 134.1 L160 134 L160.5 134.1 L161 134.1 L161.5 134 L162 134.1 L162.5 134.2 L163 134.2 L163.5 134.1 L164 134.2 L164.5 134.2 L165 134.1 L165.5 134.1 L166 134.1 L166.5 134 L167 134.1 L167.5 134.2 L168 134.3 L168.5 134.2 L169 134.2 L169.5 134.2 L170 134.3 L170.5 134.3 L171 134.2 L171.5 134.2 L172 134.4 L172.5 134.4 L173 134.3 L173.5 134.3 L174 134.3 L174.5 134.5 L175 134.5 L175.5 134.3 L176 134.3 L176.5 134.5 L177 134.6 L177.5 134.6 L178 134.5 L178.5 134.3 L179 134.3 L179.5 134.4 L180 134.5 L180.5 134.4 L181 134.4 L181.5 134.4 L182 134.5 L182.5 134.5 L183 134.5" fill="none" stroke="#1414ff" stroke-width="1.25"/>
<path d="M18.5 153.6 L19 153.7 L19.5 153.7 L20 153.7 L20.5 153.7 L21 153.7 L21.5 153.8 L22 153.8 L22.5 153.8 L23 153.9 L23.5 153.9 L24 153.9 L24.5 154 L25 154 L25.5 154 L26 154.1 L26.5 154.1 L27 154.2 L27.5 154.2 L28 154.2 L28.5 154.3 L29 154.3 L29.5 154.4 L30 154.4 L30.5 154.5 L31 154.5 L31.5 154.5 L32 154.6 L32.5 154.6 L33 154.7 L33.5 154.7 L34 154.8 L34.5 154.8 L35 154.9 L35.5 154.9 L36 155 L36.5 155.1 L37 155.1 L37.5 155.2 L38 155.3 L38.5 155.3 L39 155.4 L39.5 155.5 L40 155.6 L40.5 155.7 L41 155.8 L41.5 156 L42 156.2 L42.5 156.3 L43 156.5 L43.5 156.7 L44 157 L44.5 157.2 L45 157.4 L45.5 157.7 L46 157.9 L46.5 158.2 L47 158.4 L47.5 158.7 L48 158.9 L48.5 159.1 L49 159.4 L49.5 159.6 L50 159.9 L50.5 160.2 L51 160.5 L51.5 160.8 L52 161.2 L52.5 161.5 L53 162 L53.5 162.4 L54 162.9 L54.5 163.6 L55 164.4 L55.5 165.4 L56 166.4 L56.5 167.6 L57 168.7 L57.5 169.9 L58 171 L58.5 172.2 L59 173.5 L59.5 174.9 L60 176.3 L60.5 177.8 L61 179.2 L61.5 180.6 L62 182 L62.5 183.3 L63 184.5 L63.5 185.8 L64 187.1 L64.5 188.5 L65 189.9 L65.5 191.3 L66 192.5 L66.5 193.6 L67 194.4 L67.5 194.9 L68 195.1 L68.5 194.7 L69 193.6 L69.5 191.9 L70 189.9 L70.5 187.6 L71 185.4 L71.5 182.8 L72 179.5 L72.5 175.9 L73 172.3 L73.5 168.9 L74 166 L74.5 163 L75 160.1 L75.5 157.3 L76 154.7 L76.5 152.4 L77 150.5 L77.5 149.1 L78 147.7 L78.5 146.5 L79 145.4 L79.5 144.5 L80 143.7 L80.5 143.1 L81 142.6 L81.5 142.2 L82 141.7 L82.5 141.3 L83 141 L83.5 140.7 L84 140.5 L84.5 140.3 L85 140.2 L85.5 140.2 L86 140.3 L86.5 140.4 L87 140.6 L87.5 140.8 L88 141 L88.5 141.3 L89 141.5 L89.5 141.8 L90 142 L90.5 142.3 L91 142.5 L91.5 142.8 L92 143.1 L92.5 143.5 L93 143.8 L93.5 144.2 L94 144.6 L94.5 144.9 L95 145.3 L95.5 145.6 L96 146 L96.5 146.3 L97 146.6 L97.5 146.9 L98 147.1 L98.5 147.3 L99 147.5 L99.5 147.7 L100 147.9 L100.5 148 L101 148.2 L101.5 148.4 L102 148.5 L102.5 148.7 L103 148.8 L103.5 149 L104 149.1 L104.5 149.2 L105 149.4 L105.5 149.5 L106 149.6 L106.5 149.7 L107 149.8 L107.5 149.9 L108 150 L108.5 150.1 L109 150.2 L109.5 150.3 L110 150.4 L110.5 150.5 L111 150.6 L111.5 150.7 L112 150.7 L112.5 150.8 L113 150.9 L113.5 150.9 L114 151 L114.5 151.1 L115 151.1 L115.5 151.2 L116 151.3 L116.5 151.3 L117 151.4 L117.5 151.4 L118 151.5 L118.5 151.5 L119 151.6 L119.5 151.6 L120 151.6 L120.5 151.7 L121 151.7 L121.5 151.7 L122 151.7 L122.5 151.8 L123 151.8 L123.5 151.8 L124 151.9 L124.5 151.9 L125 151.9 L125.5 152 L126 152 L126.5 152 L127 152 L127.5 152.1 L128 152.1 L128.5 152.1 L129 152.1 L129.5 152.2 L130 152.2 L130.5 152.2 L131 152.2 L131.5 152.2 L132 152.3 L132.5 152.3 L133 152.3 L133.5 152.3 L134 152.4 L134.5 152.4 L135 152.4 L135.5 152.4 L136 152.4 L136.5 152.4 L137 152.5 L137.5 152.5 L138 152.5 L138.5 152.5 L139 152.5 L139.5 152.5 L140 152.6 L140.5 152.6 L141 152.6 L141.5 152.6 L142 152.6 L142.5 152.6 L143 152.7 L143.5 152.7 L144 152.7 L144.5 152.7 L145 152.7 L145.5 152.7 L146 152.7 L146.5 152.7 L147 152.7 L147.5 152.8 L148 152.8 L148.5 152.8 L149 152.8 L149.5 152.8 L150 152.8 L150.5 152.8 L151 152.8 L151.5 152.8 L152 152.8 L152.5 152.9 L153 152.9 L153.5 152.9 L154 152.9 L154.5 152.9 L155 152.9 L155.5 152.9 L156 152.9 L156.5 152.9 L157 152.9 L157.5 152.9 L158 153 L158.5 153 L159 153 L159.5 153 L160 153 L160.5 153 L161 153 L161.5 153 L162 153 L162.5 153 L163 153 L163.5 153 L164 153.1 L164.5 153.1 L165 153.1 L165.5 153.1 L166 153.1 L166.5 153.1 L167 153.1 L167.5 153.1 L168 153.1 L168.5 153.1 L169 153.1 L169.5 153.1 L170 153.1 L170.5 153.1 L171 153.1 L171.5 153.1 L172 153.2 L172.5 153.2 L173 153.2 L173.5 153.2 L174 153.2 L174.5 153.2 L175 153.2 L175.5 153.2 L176 153.2 L176.5 153.2 L177 153.2 L177.5 153.2 L178 153.2 L178.5 153.2 L179 153.2 L179.5 153.2 L180 153.2 L180.5 153.2 L181 153.2 L181.5 153.2 L182 153.2 L182.3 153.2" fill="none" stroke="#ff1a1a" stroke-width="1.3" stroke-dasharray="4.2 3.4" transform="translate(0.7 0.3)"/>
<path d="M53.5 162.4 L54 162.9 L54.5 163.6 L55 164.3 L55.5 165.3 L56 166.4 L56.5 167.6 L57 168.8 L57.5 169.8 L58 171 L58.5 172.3 L59 173.6 L59.5 174.9 L60 176.3 L60.5 177.7 L61 179.2 L61.5 180.5 L62 181.8 L62.5 183.1 L63 184.3 L63.5 185.6 L64 187 L64.5 188.4 L65 189.9 L65.5 191.3 L66 192.4 L66.5 193.3 L67 194.2 L67.5 194.9 L68 195.1 L68.5 194.6 L69 193.4 L69.5 191.8 L70 189.8 L70.5 187.7 L71 185.4 L71.5 182.8 L72 179.6 L72.5 175.9 L73 172.3 L73.5 168.9 L74 165.9 L74.5 162.9 L75 160 L75.5 157.2 L76 154.5 L76.5 152.3 L77 150.5 L77.5 149.2 L78 148 L78.5 146.7 L79 145.5 L79.5 144.7 L80 144.1 L80.5 143.7 L81 143.7 L81.5 143.7 L82 143.7 L82.5 143.7 L83 143.6 L83.5 143.6 L84 143.6 L84.5 143.6 L85 143.7 L85.5 143.9 L86 144.2 L86.5 144.5 L87 144.7 L87.5 144.8 L88 145 L88.5 145.1 L89 145.2 L89.5 145.4 L90 145.7 L90.5 146 L91 146.1 L91.5 146.1 L92 146.3 L92.5 146.5 L93 146.7 L93.5 146.8 L94 146.9 L94.5 147 L95 147.2 L95.5 147.3 L96 147.4 L96.5 147.5 L97 147.7 L97.5 148 L98 148.1 L98.5 148.2 L99 148.3 L99.5 148.4 L100 148.6 L100.5 148.7 L101 148.7 L101.5 148.8 L102 148.9 L102.5 148.9 L103 149 L103.5 149.2 L104 149.4 L104.5 149.6 L105 149.8 L105.5 149.8 L106 149.8 L106.5 150 L107 150.1 L107.5 150.2 L108 150.3 L108.5 150.4 L109 150.5 L109.5 150.5 L110 150.6 L110.5 150.6 L111 150.7 L111.5 150.8 L112 150.9 L112.5 151 L113 151.1 L113.5 151.1 L114 151.1 L114.5 151.1 L115 151.1 L115.5 151.2 L116 151.3 L116.5 151.3 L117 151.4 L117.5 151.5 L118 151.5 L118.5 151.6 L119 151.7 L119.5 151.7 L120 151.7 L120.5 151.8 L121 151.9 L121.5 151.8 L122 151.8 L122.5 151.8 L123 151.9 L123.5 151.9 L124 151.9 L124.5 151.9 L125 151.9 L125.5 151.9 L126 152 L126.5 152.1 L127 152.2 L127.5 152.2 L128 152.2 L128.5 152.1 L129 152.1 L129.5 152.2 L130 152.2 L130.5 152.2 L131 152.2 L131.5 152.2 L132 152.3 L132.5 152.4 L133 152.3 L133.5 152.3 L134 152.4 L134.5 152.5 L135 152.4 L135.5 152.4 L136 152.3 L136.5 152.4 L137 152.5 L137.5 152.5 L138 152.5 L138.5 152.5 L139 152.6 L139.5 152.6 L140 152.5 L140.5 152.5 L141 152.5 L141.5 152.7 L142 152.7 L142.5 152.7 L143 152.7 L143.5 152.6 L144 152.7 L144.5 152.7 L145 152.7 L145.5 152.7 L146 152.8 L146.5 152.9 L147 152.9 L147.5 152.8 L148 152.7 L148.5 152.7 L149 152.9 L149.5 152.9 L150 152.9 L150.5 152.9 L151 152.9 L151.5 153 L152 152.9 L152.5 152.9 L153 152.9 L153.5 152.9 L154 152.9 L154.5 153 L155 153 L155.5 153.1 L156 153 L156.5 152.8 L157 152.8 L157.5 152.9 L158 152.9 L158.5 152.9 L159 152.9 L159.5 152.8 L160 152.7 L160.5 152.9 L161 153 L161.5 153 L162 152.9 L162.5 152.9 L163 152.8 L163.5 152.9 L164 152.9 L164.5 152.9 L165 153 L165.5 153 L166 153 L166.5 152.9 L167 152.9 L167.5 152.9 L168 152.9 L168.5 153 L169 153 L169.5 153.1 L170 153.2 L170.5 153.2 L171 153.1 L171.5 153.1 L172 153.1 L172.5 153 L173 152.9 L173.5 153 L174 153.1 L174.5 153.1 L175 153.1 L175.5 153.1 L176 153.2 L176.5 153.1 L177 152.9 L177.5 152.9 L178 152.8 L178.5 152.8 L179 153 L179.5 153.2 L180 153.1 L180.5 153 L181 153 L181.5 153.2 L182 153.2 L182.5 153.1 L183 153.1" fill="none" stroke="#1414ff" stroke-width="1.25"/>
<path d="M224.6 34.4 L225.1 34.4 L225.6 34.4 L226.1 34.4 L226.6 34.4 L227.1 34.4 L227.6 34.4 L228.1 34.4 L228.6 34.4 L229.1 34.4 L229.6 34.4 L230.1 34.4 L230.6 34.4 L231.1 34.4 L231.6 34.4 L232.1 34.4 L232.6 34.4 L233.1 34.4 L233.6 34.4 L234.1 34.4 L234.6 34.4 L235.1 34.4 L235.6 34.4 L236.1 34.4 L236.6 34.4 L237.1 34.4 L237.6 34.4 L238.1 34.4 L238.6 34.4 L239.1 34.4 L239.6 34.4 L240.1 34.4 L240.6 34.4 L241.1 34.4 L241.6 34.4 L242.1 34.4 L242.6 34.4 L243.1 34.4 L243.6 34.4 L244.1 34.5 L244.6 34.5 L245.1 34.5 L245.6 34.5 L246.1 34.5 L246.6 34.5 L247.1 34.6 L247.6 34.6 L248.1 34.6 L248.6 34.6 L249.1 34.7 L249.6 34.7 L250.1 34.7 L250.6 34.7 L251.1 34.8 L251.6 34.8 L252.1 34.9 L252.6 35 L253.1 35 L253.6 35.1 L254.1 35.2 L254.6 35.3 L255.1 35.5 L255.6 35.6 L256.1 35.8 L256.6 36 L257.1 36.3 L257.6 36.6 L258.1 36.9 L258.6 37.2 L259.1 37.6 L259.6 37.9 L260.1 38.3 L260.6 38.7 L261.1 39.1 L261.6 39.6 L262.1 40 L262.6 40.5 L263.1 41 L263.6 41.5 L264.1 42 L264.6 42.5 L265.1 43 L265.6 43.4 L266.1 43.9 L266.6 44.4 L267.1 44.9 L267.6 45.4 L268.1 45.9 L268.6 46.5 L269.1 47 L269.6 47.6 L270.1 48.2 L270.6 48.8 L271.1 49.4 L271.6 50 L272.1 50.6 L272.6 51.3 L273.1 51.9 L273.6 52.5 L274.1 53.1 L274.6 53.8 L275.1 54.4 L275.6 55.1 L276.1 55.8 L276.6 56.6 L277.1 57 L277.6 56.7 L278.1 55.5 L278.6 53.5 L279.1 50.7 L279.6 47.2 L280.1 43.6 L280.6 40.2 L281.1 37 L281.6 34.3 L282.1 32.1 L282.6 30.6 L283.1 29.4 L283.6 28.5 L284.1 27.7 L284.6 27.1 L285.1 26.6 L285.6 26.1 L286.1 25.7 L286.6 25.4 L287.1 25 L287.6 24.7 L288.1 24.3 L288.6 23.9 L289.1 23.5 L289.6 23.1 L290.1 22.6 L290.6 22.2 L291.1 21.7 L291.6 21.3 L292.1 20.8 L292.6 20.3 L293.1 19.9 L293.6 19.4 L294.1 19 L294.6 18.6 L295.1 18.3 L295.6 18.1 L296.1 17.9 L296.6 17.8 L297.1 17.8 L297.6 17.8 L298.1 17.8 L298.6 17.9 L299.1 18 L299.6 18.3 L300.1 18.7 L300.6 19.2 L301.1 19.9 L301.6 20.8 L302.1 21.8 L302.6 23 L303.1 24.2 L303.6 25.3 L304.1 26.4 L304.6 27.4 L305.1 28.4 L305.6 29.3 L306.1 30.2 L306.6 31 L307.1 31.8 L307.6 32.6 L308.1 33.4 L308.6 34.2 L309.1 34.9 L309.6 35.7 L310.1 36.4 L310.6 37 L311.1 37.7 L311.6 38.3 L312.1 38.9 L312.6 39.5 L313.1 40.1 L313.6 40.6 L314.1 41.1 L314.6 41.6 L315.1 41.9 L315.6 42.1 L316.1 42.2 L316.6 42.2 L317.1 42.2 L317.6 42.1 L318.1 42 L318.6 41.9 L319.1 41.8 L319.6 41.7 L320.1 41.6 L320.6 41.5 L321.1 41.3 L321.6 41.2 L322.1 41.1 L322.6 41 L323.1 40.9 L323.6 40.8 L324.1 40.7 L324.6 40.6 L325.1 40.5 L325.6 40.3 L326.1 40.2 L326.6 40.1 L327.1 40 L327.6 39.9 L328.1 39.8 L328.6 39.6 L329.1 39.5 L329.6 39.4 L330.1 39.9 L330.6 39.8 L331.1 39.7 L331.6 39.6 L332.1 39.5 L332.6 39.4 L333.1 39.3 L333.6 39.2 L334.1 39.1 L334.6 39.1 L335.1 39 L335.6 38.9 L336.1 38.9 L336.6 38.8 L337.1 38.7 L337.6 38.7 L338.1 38.6 L338.6 38.6 L339.1 38.5 L339.6 38.5 L340.1 38.4 L340.6 38.3 L341.1 38.3 L341.6 38.2 L342.1 38.2 L342.6 38.2 L343.1 38.1 L343.6 38.1 L344.1 38 L344.6 38 L345.1 37.9 L345.6 37.9 L346.1 37.8 L346.6 37.8 L347.1 37.8 L347.6 37.7 L348.1 37.7 L348.6 37.6 L349.1 37.6 L349.6 37.6 L350.1 37.5 L350.6 37.5 L351.1 37.4 L351.6 37.4 L352.1 37.3 L352.6 37.3 L353.1 37.3 L353.6 37.2 L354.1 37.2 L354.6 37.1 L355.1 37.1 L355.6 37 L356.1 37 L356.6 36.9 L357.1 36.9 L357.6 36.8 L358.1 36.8 L358.6 36.7 L359.1 36.7 L359.6 36.6 L360.1 36.6 L360.6 36.5 L361.1 36.5 L361.6 36.4 L362.1 36.3 L362.6 36.3 L363.1 36.2 L363.6 36.2 L364.1 36.1 L364.6 36.1 L365.1 36 L365.6 36 L366.1 35.9 L366.6 35.8 L367.1 35.8 L367.6 35.7 L368.1 35.7 L368.6 35.6 L369.1 35.6 L369.6 35.5 L370.1 35.5 L370.6 35.4 L371.1 35.4 L371.6 35.3 L372.1 35.3 L372.6 35.2 L373.1 35.2 L373.6 35.2 L374.1 35.1 L374.6 35.1 L375.1 35 L375.6 35 L376.1 34.9 L376.6 34.9 L377.1 34.9 L377.6 34.8 L378.1 34.8 L378.6 34.7 L379.1 34.7 L379.6 34.7 L380.1 34.6 L380.6 34.6 L381.1 34.6 L381.6 34.5 L382.1 34.5 L382.6 34.4 L383.1 34.4 L383.6 34.4 L384.1 34.3 L384.6 34.3 L385.1 34.3 L385.6 34.2 L386.1 34.2 L386.6 34.2 L387.1 34.1 L387.6 34.1 L388.1 34.1 L388.6 34" fill="none" stroke="#ff1a1a" stroke-width="1.3" stroke-dasharray="4.2 3.4" transform="translate(0.7 0.3)"/>
<path d="M260.1 38.3 L260.6 38.8 L261.1 39.2 L261.6 39.6 L262.1 40 L262.6 40.5 L263.1 40.9 L263.6 41.4 L264.1 41.9 L264.6 42.5 L265.1 43 L265.6 43.4 L266.1 43.8 L266.6 44.3 L267.1 44.7 L267.6 45.3 L268.1 45.9 L268.6 46.5 L269.1 47 L269.6 47.5 L270.1 48.1 L270.6 48.8 L271.1 49.3 L271.6 50 L272.1 50.7 L272.6 51.1 L273.1 51.7 L273.6 52.4 L274.1 53.1 L274.6 53.6 L275.1 54.3 L275.6 55 L276.1 55.6 L276.6 56.4 L277.1 57.5 L277.6 58.2 L278.1 57.2 L278.6 54.2 L279.1 50.5 L279.6 47.3 L280.1 43.8 L280.6 40.1 L281.1 36.3 L281.6 33.1 L282.1 31.4 L282.6 30.2 L283.1 29.2 L283.6 28.4 L284.1 27.5 L284.6 26.9 L285.1 26.6 L285.6 26.2 L286.1 25.8 L286.6 25.5 L287.1 25.1 L287.6 24.7 L288.1 24.4 L288.6 23.9 L289.1 23.4 L289.6 23.1 L290.1 22.8 L290.6 22.3 L291.1 21.8 L291.6 21.2 L292.1 20.7 L292.6 20.3 L293.1 19.8 L293.6 19.1 L294.1 18.7 L294.6 18.5 L295.1 18.3 L295.6 18.1 L296.1 17.9 L296.6 17.8 L297.1 17.6 L297.6 17.5 L298.1 17.7 L298.6 17.8 L299.1 18 L299.6 18.1 L300.1 18.5 L300.6 19.1 L301.1 19.7 L301.6 20.4 L302.1 21.4 L302.6 22.6 L303.1 24 L303.6 25.4 L304.1 26.5 L304.6 27.5 L305.1 28.5 L305.6 29.5 L306.1 30.4 L306.6 31.2 L307.1 32 L307.6 32.7 L308.1 33.3 L308.6 34 L309.1 34.9 L309.6 35.9 L310.1 36.6 L310.6 37.1 L311.1 37.7 L311.6 38.2 L312.1 38.7 L312.6 39.4 L313.1 40 L313.6 40.6 L314.1 41.3 L314.6 41.7 L315.1 42 L315.6 42.2 L316.1 42.2 L316.6 42.3 L317.1 42.3 L317.6 42.1 L318.1 42 L318.6 42 L319.1 41.9 L319.6 41.6 L320.1 41.5 L320.6 41.3 L321.1 41.3 L321.6 41.2 L322.1 41 L322.6 41 L323.1 41 L323.6 40.8 L324.1 40.7 L324.6 40.5 L325.1 40.3 L325.6 40.2 L326.1 40.2 L326.6 40.1 L327.1 40 L327.6 39.9 L328.1 39.8 L328.6 39.7 L329.1 39.5 L329.6 39.4 L330.1 39.3 L330.6 39.2 L331.1 39.2 L331.6 39.1 L332.1 38.8 L332.6 38.7 L333.1 38.6 L333.6 38.5 L334.1 38.4 L334.6 38.4 L335.1 38.2 L335.6 38.2 L336.1 38.2 L336.6 38.2 L337.1 38.2 L337.6 38 L338.1 37.9 L338.6 37.8 L339.1 37.7 L339.6 37.8 L340.1 37.9 L340.6 37.8 L341.1 37.7 L341.6 37.7 L342.1 37.6 L342.6 37.5 L343.1 37.4 L343.6 37.4 L344.1 37.4 L344.6 37.4 L345.1 37.3 L345.6 37.2 L346.1 37.2 L346.6 37.1 L347.1 37 L347.6 37 L348.1 37 L348.6 37.1 L349.1 37.1 L349.6 37 L350.1 36.9 L350.6 36.7 L351.1 36.7 L351.6 36.7 L352.1 36.7 L352.6 36.8 L353.1 36.8 L353.6 36.8 L354.1 36.6 L354.6 36.5 L355.1 36.4 L355.6 36.4 L356.1 36.4 L356.6 36.6 L357.1 37.2 L357.6 37.4 L358.1 37 L358.6 36.5 L359.1 36.2 L359.6 36 L360.1 35.9 L360.6 35.9 L361.1 35.9 L361.6 35.7 L362.1 35.7 L362.6 35.8 L363.1 35.8 L363.6 35.7 L364.1 35.6 L364.6 35.6 L365.1 35.4 L365.6 35.3 L366.1 35.2 L366.6 35.2 L367.1 35.2 L367.6 35 L368.1 34.9 L368.6 34.8 L369.1 34.9 L369.6 34.9 L370.1 35 L370.6 35 L371.1 34.9 L371.6 34.7 L372.1 34.7 L372.6 34.5 L373.1 34.5 L373.6 34.5 L374.1 34.4 L374.6 34.4 L375.1 34.3 L375.6 34.2 L376.1 34.2 L376.6 34.3 L377.1 34.3 L377.6 34.3 L378.1 34.3 L378.6 34.2 L379.1 34.1 L379.6 34.1 L380.1 34 L380.6 34 L381.1 34 L381.6 34 L382.1 34 L382.6 33.8 L383.1 33.7 L383.6 33.7 L384.1 33.7 L384.6 33.7 L385.1 33.7 L385.6 33.7 L386.1 33.6 L386.6 33.5 L387.1 33.6 L387.6 33.5 L388.1 33.4 L388.6 33.5 L389.1 33.4" fill="none" stroke="#1414ff" stroke-width="1.25"/>
<path d="M224.6 51.3 L225.1 51.3 L225.6 51.3 L226.1 51.3 L226.6 51.3 L227.1 51.3 L227.6 51.3 L228.1 51.3 L228.6 51.3 L229.1 51.3 L229.6 51.3 L230.1 51.3 L230.6 51.3 L231.1 51.3 L231.6 51.3 L232.1 51.3 L232.6 51.3 L233.1 51.3 L233.6 51.3 L234.1 51.3 L234.6 51.3 L235.1 51.3 L235.6 51.3 L236.1 51.3 L236.6 51.3 L237.1 51.3 L237.6 51.3 L238.1 51.3 L238.6 51.3 L239.1 51.3 L239.6 51.3 L240.1 51.3 L240.6 51.3 L241.1 51.3 L241.6 51.3 L242.1 51.3 L242.6 51.3 L243.1 51.3 L243.6 51.3 L244.1 51.3 L244.6 51.4 L245.1 51.4 L245.6 51.4 L246.1 51.4 L246.6 51.4 L247.1 51.4 L247.6 51.5 L248.1 51.5 L248.6 51.5 L249.1 51.5 L249.6 51.6 L250.1 51.6 L250.6 51.6 L251.1 51.7 L251.6 51.8 L252.1 51.8 L252.6 51.9 L253.1 52 L253.6 52.1 L254.1 52.2 L254.6 52.3 L255.1 52.5 L255.6 52.6 L256.1 52.7 L256.6 52.8 L257.1 53 L257.6 53.1 L258.1 53.3 L258.6 53.5 L259.1 53.7 L259.6 53.9 L260.1 54.2 L260.6 54.5 L261.1 54.9 L261.6 55.4 L262.1 55.9 L262.6 56.4 L263.1 56.9 L263.6 57.5 L264.1 58 L264.6 58.5 L265.1 59.1 L265.6 59.6 L266.1 60.2 L266.6 60.7 L267.1 61.3 L267.6 61.9 L268.1 62.5 L268.6 63 L269.1 63.6 L269.6 64.2 L270.1 64.9 L270.6 65.5 L271.1 66.1 L271.6 66.8 L272.1 67.4 L272.6 68.1 L273.1 68.8 L273.6 69.6 L274.1 70.4 L274.6 71.2 L275.1 72.1 L275.6 73 L276.1 73.9 L276.6 74.8 L277.1 75.6 L277.6 75.9 L278.1 75.7 L278.6 75 L279.1 73.7 L279.6 71.9 L280.1 70.1 L280.6 68.3 L281.1 66.7 L281.6 65.2 L282.1 63.9 L282.6 62.6 L283.1 61.5 L283.6 60.3 L284.1 59.2 L284.6 58.1 L285.1 57 L285.6 55.9 L286.1 54.8 L286.6 53.7 L287.1 52.6 L287.6 51.6 L288.1 50.6 L288.6 49.6 L289.1 48.6 L289.6 47.7 L290.1 46.9 L290.6 46.1 L291.1 45.2 L291.6 44.4 L292.1 43.7 L292.6 42.9 L293.1 42.1 L293.6 41.3 L294.1 40.5 L294.6 39.7 L295.1 38.9 L295.6 38.2 L296.1 37.5 L296.6 36.8 L297.1 36.1 L297.6 35.5 L298.1 34.8 L298.6 34.3 L299.1 33.8 L299.6 33.3 L300.1 32.9 L300.6 32.6 L301.1 32.6 L301.2 32.9 L301.7 33.5 L302.2 34.4 L302.7 35.5 L303.2 36.5 L303.7 37.5 L304.2 38.5 L304.7 39.3 L305.2 40.2 L305.7 41 L306.2 41.7 L306.7 42.4 L307.2 43.1 L307.7 43.7 L308.2 44.3 L308.7 44.9 L309.2 45.4 L309.7 45.9 L310.2 46.4 L310.7 46.9 L311.2 47.3 L311.7 47.7 L312.2 48.1 L312.7 48.4 L313.2 48.8 L313.7 49.1 L314.2 49.4 L314.7 49.7 L315.2 50 L315.7 50.2 L316.2 50.5 L316.7 50.7 L317.2 50.9 L317.7 51.1 L318.2 51.3 L318.7 51.5 L319.2 51.7 L319.7 51.9 L320.2 52 L320.7 52.2 L321.2 52.3 L321.7 52.4 L322.2 52.6 L322.7 52.7 L323.2 52.8 L323.7 52.9 L324.2 53 L324.7 53.1 L325.2 53.2 L325.7 53.2 L326.2 53.3 L326.7 53.3 L327.2 53.3 L327.7 53.3 L328.2 53.3 L328.7 53.3 L329.2 53.3 L329.7 53.3 L330.2 54 L330.7 54 L331.2 54 L331.7 54 L332.2 54 L332.7 54 L333.2 54 L333.7 54 L334.2 54 L334.7 54 L335.2 53.9 L335.7 53.9 L336.2 53.9 L336.7 53.9 L337.2 53.9 L337.7 53.9 L338.2 53.9 L338.7 53.9 L339.2 53.9 L339.7 53.8 L340.2 53.8 L340.7 53.8 L341.2 53.8 L341.7 53.8 L342.2 53.8 L342.7 53.8 L343.2 53.7 L343.7 53.7 L344.2 53.7 L344.7 53.7 L345.2 53.7 L345.7 53.6 L346.2 53.6 L346.7 53.6 L347.2 53.6 L347.7 53.6 L348.2 53.5 L348.7 53.5 L349.2 53.5 L349.7 53.5 L350.2 53.5 L350.7 53.4 L351.2 53.4 L351.7 53.4 L352.2 53.4 L352.7 53.3 L353.2 53.3 L353.7 53.3 L354.2 53.3 L354.7 53.3 L355.2 53.2 L355.7 53.2 L356.2 53.2 L356.7 53.2 L357.2 53.1 L357.7 53.1 L358.2 53.1 L358.7 53.1 L359.2 53.1 L359.7 53 L360.2 53 L360.7 53 L361.2 53 L361.7 52.9 L362.2 52.9 L362.7 52.9 L363.2 52.9 L363.7 52.9 L364.2 52.8 L364.7 52.8 L365.2 52.8 L365.7 52.8 L366.2 52.7 L366.7 52.7 L367.2 52.7 L367.7 52.7 L368.2 52.7 L368.7 52.6 L369.2 52.6 L369.7 52.6 L370.2 52.6 L370.7 52.5 L371.2 52.5 L371.7 52.5 L372.2 52.5 L372.7 52.5 L373.2 52.4 L373.7 52.4 L374.2 52.4 L374.7 52.4 L375.2 52.4 L375.7 52.3 L376.2 52.3 L376.7 52.3 L377.2 52.3 L377.7 52.3 L378.2 52.2 L378.7 52.2 L379.2 52.2 L379.7 52.2 L380.2 52.1 L380.7 52.1 L381.2 52.1 L381.7 52.1 L382.2 52.1 L382.7 52 L383.2 52 L383.7 52 L384.2 52 L384.7 52 L385.2 51.9 L385.7 51.9 L386.2 51.9 L386.7 51.9 L387.2 51.9 L387.7 51.8 L388.2 51.8" fill="none" stroke="#ff1a1a" stroke-width="1.3" stroke-dasharray="4.2 3.4" transform="translate(0.7 0.3)"/>
<path d="M260.1 54.2 L260.6 54.5 L261.1 54.8 L261.6 55.4 L262.1 55.9 L262.6 56.3 L263.1 56.8 L263.6 57.4 L264.1 58 L264.6 58.6 L265.1 59.2 L265.6 59.6 L266.1 60 L266.6 60.6 L267.1 61.4 L267.6 62.1 L268.1 62.7 L268.6 63.2 L269.1 63.7 L269.6 64.3 L270.1 65 L270.6 65.5 L271.1 66 L271.6 66.7 L272.1 67.4 L272.6 68.1 L273.1 68.9 L273.6 69.6 L274.1 70.4 L274.6 71.2 L275.1 72.1 L275.6 72.9 L276.1 73.8 L276.6 74.8 L277.1 75.9 L277.6 76.6 L278.1 76.7 L278.6 75.5 L279.1 73.8 L279.6 72.1 L280.1 70.1 L280.6 68.1 L281.1 66.5 L281.6 65.1 L282.1 63.7 L282.6 62.5 L283.1 61.3 L283.6 60.3 L284.1 59.2 L284.6 58.1 L285.1 57 L285.6 56 L286.1 54.9 L286.6 53.7 L287.1 52.6 L287.6 51.4 L288.1 50.4 L288.6 49.5 L289.1 48.6 L289.6 47.6 L290.1 46.8 L290.6 46 L291.1 45.2 L291.6 44.4 L292.1 43.7 L292.6 43 L293.1 42.1 L293.6 41.3 L294.1 40.4 L294.6 39.6 L295.1 38.8 L295.6 38.1 L296.1 37.5 L296.6 36.8 L297.1 36.1 L297.6 35.4 L298.1 34.9 L298.6 34.3 L299.1 33.7 L299.6 33.2 L300.1 32.8 L300.6 32.5 L301.1 32.2 L301.2 32.2 L301.7 33.4 L302.2 34.5 L302.7 35.7 L303.2 36.7 L303.7 37.7 L304.2 38.4 L304.7 39.3 L305.2 40.2 L305.7 41 L306.2 41.7 L306.7 42.5 L307.2 43.1 L307.7 43.7 L308.2 44.3 L308.7 44.9 L309.2 45.4 L309.7 45.8 L310.2 46.3 L310.7 46.9 L311.2 47.4 L311.7 47.6 L312.2 47.8 L312.7 48.3 L313.2 48.8 L313.7 49.3 L314.2 49.6 L314.7 49.8 L315.2 50 L315.7 50.3 L316.2 50.5 L316.7 50.7 L317.2 51 L317.7 51.2 L318.2 51.3 L318.7 51.4 L319.2 51.7 L319.7 51.8 L320.2 51.9 L320.7 52.1 L321.2 52.4 L321.7 52.6 L322.2 52.7 L322.7 52.8 L323.2 52.9 L323.7 52.8 L324.2 52.8 L324.7 53 L325.2 53 L325.7 53.2 L326.2 53.2 L326.7 53.2 L327.2 53.1 L327.7 53.1 L328.2 53.2 L328.7 53.4 L329.2 53.4 L329.7 53.4 L330.2 53.4 L330.7 53.4 L331.2 53.4 L331.7 53.4 L332.2 53.4 L332.7 53.3 L333.2 53.2 L333.7 53.2 L334.2 53.3 L334.7 53.4 L335.2 53.3 L335.7 53.3 L336.2 53.3 L336.7 53.4 L337.2 53.4 L337.7 53.3 L338.2 53.2 L338.7 53.2 L339.2 53.3 L339.7 53.3 L340.2 53.2 L340.7 53.2 L341.2 53.2 L341.7 53.2 L342.2 53.2 L342.7 53.1 L343.2 53.1 L343.7 53.1 L344.2 53.1 L344.7 53.1 L345.2 53 L345.7 53.1 L346.2 53.1 L346.7 53.1 L347.2 53.1 L347.7 52.9 L348.2 52.8 L348.7 52.8 L349.2 52.9 L349.7 52.9 L350.2 52.9 L350.7 52.9 L351.2 52.8 L351.7 52.7 L352.2 52.7 L352.7 52.8 L353.2 52.7 L353.7 52.6 L354.2 52.5 L354.7 52.6 L355.2 52.8 L355.7 52.7 L356.2 52.6 L356.7 53 L357.2 53.7 L357.7 53.7 L358.2 53.2 L358.7 52.7 L359.2 52.5 L359.7 52.3 L360.2 52.2 L360.7 52.2 L361.2 52.3 L361.7 52.4 L362.2 52.4 L362.7 52.3 L363.2 52.3 L363.7 52.2 L364.2 52.1 L364.7 52 L365.2 52.1 L365.7 52.2 L366.2 52 L366.7 51.9 L367.2 52 L367.7 52 L368.2 52 L368.7 51.9 L369.2 51.9 L369.7 52 L370.2 52 L370.7 51.9 L371.2 51.9 L371.7 51.9 L372.2 51.8 L372.7 51.8 L373.2 51.7 L373.7 51.6 L374.2 51.7 L374.7 51.8 L375.2 51.8 L375.7 51.9 L376.2 51.9 L376.7 51.8 L377.2 51.8 L377.7 51.8 L378.2 51.6 L378.7 51.5 L379.2 51.5 L379.7 51.4 L380.2 51.4 L380.7 51.5 L381.2 51.5 L381.7 51.5 L382.2 51.5 L382.7 51.4 L383.2 51.4 L383.7 51.4 L384.2 51.3 L384.7 51.3 L385.2 51.3 L385.7 51.3 L386.2 51.4 L386.7 51.4 L387.2 51.3 L387.7 51.2 L388.2 51.1 L388.7 51.2 L389.2 51.2" fill="none" stroke="#1414ff" stroke-width="1.25"/>
<path d="M224.6 68.2 L225.1 68.2 L225.6 68.2 L226.1 68.2 L226.6 68.2 L227.1 68.2 L227.6 68.2 L228.1 68.2 L228.6 68.2 L229.1 68.2 L229.6 68.2 L230.1 68.2 L230.6 68.2 L231.1 68.2 L231.6 68.2 L232.1 68.2 L232.6 68.2 L233.1 68.2 L233.6 68.2 L234.1 68.2 L234.6 68.2 L235.1 68.2 L235.6 68.2 L236.1 68.2 L236.6 68.2 L237.1 68.2 L237.6 68.2 L238.1 68.2 L238.6 68.2 L239.1 68.2 L239.6 68.2 L240.1 68.2 L240.6 68.2 L241.1 68.2 L241.6 68.2 L242.1 68.2 L242.6 68.2 L243.1 68.2 L243.6 68.2 L244.1 68.2 L244.6 68.2 L245.1 68.2 L245.6 68.3 L246.1 68.3 L246.6 68.3 L247.1 68.3 L247.6 68.3 L248.1 68.4 L248.6 68.4 L249.1 68.4 L249.6 68.4 L250.1 68.5 L250.6 68.5 L251.1 68.6 L251.6 68.6 L252.1 68.7 L252.6 68.8 L253.1 68.9 L253.6 69 L254.1 69.1 L254.6 69.2 L255.1 69.3 L255.6 69.4 L256.1 69.5 L256.6 69.6 L257.1 69.8 L257.6 69.9 L258.1 70.1 L258.6 70.2 L259.1 70.4 L259.6 70.6 L260.1 70.9 L260.6 71.2 L261.1 71.6 L261.6 72 L262.1 72.5 L262.6 73 L263.1 73.5 L263.6 74 L264.1 74.5 L264.6 75 L265.1 75.5 L265.6 76 L266.1 76.5 L266.6 77 L267.1 77.6 L267.6 78.1 L268.1 78.7 L268.6 79.2 L269.1 79.8 L269.6 80.4 L270.1 80.9 L270.6 81.5 L271.1 82.1 L271.6 82.7 L272.1 83.4 L272.6 84 L273.1 84.7 L273.6 85.4 L274.1 86.2 L274.6 87 L275.1 87.8 L275.6 88.6 L276.1 89.5 L276.6 90.3 L277.1 91 L277.6 91.3 L278.1 91.1 L278.6 90.5 L279.1 89.2 L279.6 87.6 L280.1 85.9 L280.6 84.2 L281.1 82.6 L281.6 81.2 L282.1 80 L282.6 78.8 L283.1 77.8 L283.6 76.7 L284.1 75.6 L284.6 74.6 L285.1 73.5 L285.6 72.5 L286.1 71.4 L286.6 70.4 L287.1 69.4 L287.6 68.4 L288.1 67.4 L288.6 66.5 L289.1 65.6 L289.6 64.7 L290.1 63.9 L290.6 63.1 L291.1 62.3 L291.6 61.5 L292.1 60.7 L292.6 60 L293.1 59.2 L293.6 58.4 L294.1 57.6 L294.6 56.9 L295.1 56.1 L295.6 55.4 L296.1 54.7 L296.6 54 L297.1 53.4 L297.6 52.7 L298.1 52.1 L298.6 51.6 L299.1 51.1 L299.6 50.6 L300.1 50.2 L300.6 49.9 L301.1 49.9 L301.2 50.2 L301.7 50.8 L302.2 51.6 L302.7 52.6 L303.2 53.5 L303.7 54.4 L304.2 55.2 L304.7 56 L305.2 56.8 L305.7 57.5 L306.2 58.2 L306.7 58.8 L307.2 59.4 L307.7 60 L308.2 60.5 L308.7 61 L309.2 61.5 L309.7 62 L310.2 62.4 L310.7 62.8 L311.2 63.2 L311.7 63.6 L312.2 63.9 L312.7 64.2 L313.2 64.5 L313.7 64.8 L314.2 65.1 L314.7 65.4 L315.2 65.6 L315.7 65.9 L316.2 66.1 L316.7 66.3 L317.2 66.5 L317.7 66.7 L318.2 66.9 L318.7 67 L319.2 67.2 L319.7 67.3 L320.2 67.5 L320.7 67.6 L321.2 67.7 L321.7 67.9 L322.2 68 L322.7 68.1 L323.2 68.2 L323.7 68.3 L324.2 68.4 L324.7 68.4 L325.2 68.5 L325.7 68.6 L326.2 68.6 L326.7 68.6 L327.2 68.6 L327.7 68.7 L328.2 68.7 L328.7 68.7 L329.2 68.7 L329.7 68.7 L330.2 69.3 L330.7 69.3 L331.2 69.3 L331.7 69.3 L332.2 69.3 L332.7 69.3 L333.2 69.3 L333.7 69.3 L334.2 69.3 L334.7 69.3 L335.2 69.3 L335.7 69.3 L336.2 69.3 L336.7 69.3 L337.2 69.3 L337.7 69.3 L338.2 69.3 L338.7 69.3 L339.2 69.3 L339.7 69.3 L340.2 69.3 L340.7 69.2 L341.2 69.2 L341.7 69.2 L342.2 69.2 L342.7 69.2 L343.2 69.2 L343.7 69.2 L344.2 69.1 L344.7 69.1 L345.2 69.1 L345.7 69.1 L346.2 69.1 L346.7 69.1 L347.2 69 L347.7 69 L348.2 69 L348.7 69 L349.2 69 L349.7 69 L350.2 68.9 L350.7 68.9 L351.2 68.9 L351.7 68.9 L352.2 68.9 L352.7 68.9 L353.2 68.8 L353.7 68.8 L354.2 68.8 L354.7 68.8 L355.2 68.8 L355.7 68.7 L356.2 68.7 L356.7 68.7 L357.2 68.7 L357.7 68.7 L358.2 68.7 L358.7 68.6 L359.2 68.6 L359.7 68.6 L360.2 68.6 L360.7 68.6 L361.2 68.5 L361.7 68.5 L362.2 68.5 L362.7 68.5 L363.2 68.5 L363.7 68.5 L364.2 68.4 L364.7 68.4 L365.2 68.4 L365.7 68.4 L366.2 68.4 L366.7 68.3 L367.2 68.3 L367.7 68.3 L368.2 68.3 L368.7 68.3 L369.2 68.3 L369.7 68.2 L370.2 68.2 L370.7 68.2 L371.2 68.2 L371.7 68.2 L372.2 68.1 L372.7 68.1 L373.2 68.1 L373.7 68.1 L374.2 68.1 L374.7 68.1 L375.2 68 L375.7 68 L376.2 68 L376.7 68 L377.2 68 L377.7 68 L378.2 67.9 L378.7 67.9 L379.2 67.9 L379.7 67.9 L380.2 67.9 L380.7 67.8 L381.2 67.8 L381.7 67.8 L382.2 67.8 L382.7 67.8 L383.2 67.8 L383.7 67.7 L384.2 67.7 L384.7 67.7 L385.2 67.7 L385.7 67.7 L386.2 67.7 L386.7 67.6 L387.2 67.6 L387.7 67.6 L388.2 67.6" fill="none" stroke="#ff1a1a" stroke-width="1.3" stroke-dasharray="4.2 3.4" transform="translate(0.7 0.3)"/>
<path d="M260.1 70.7 L260.6 71 L261.1 71.4 L261.6 71.9 L262.1 72.5 L262.6 72.9 L263.1 73.5 L263.6 74.1 L264.1 74.5 L264.6 74.9 L265.1 75.5 L265.6 76.2 L266.1 76.8 L266.6 77.2 L267.1 77.7 L267.6 78.1 L268.1 78.5 L268.6 79 L269.1 79.6 L269.6 80.3 L270.1 80.9 L270.6 81.5 L271.1 82.1 L271.6 82.7 L272.1 83.2 L272.6 84 L273.1 84.8 L273.6 85.4 L274.1 86 L274.6 86.9 L275.1 87.9 L275.6 88.7 L276.1 89.6 L276.6 90.4 L277.1 91.2 L277.6 92 L278.1 92 L278.6 90.9 L279.1 89.4 L279.6 87.8 L280.1 85.9 L280.6 83.9 L281.1 82.4 L281.6 81.2 L282.1 80.1 L282.6 79 L283.1 77.9 L283.6 76.9 L284.1 75.9 L284.6 74.8 L285.1 73.7 L285.6 72.6 L286.1 71.5 L286.6 70.4 L287.1 69.3 L287.6 68.3 L288.1 67.3 L288.6 66.3 L289.1 65.4 L289.6 64.7 L290.1 63.8 L290.6 63 L291.1 62.3 L291.6 61.5 L292.1 60.6 L292.6 59.9 L293.1 59.1 L293.6 58.3 L294.1 57.7 L294.6 57 L295.1 56.3 L295.6 55.6 L296.1 54.8 L296.6 54.1 L297.1 53.4 L297.6 52.7 L298.1 52.1 L298.6 51.5 L299.1 51 L299.6 50.6 L300.1 50.3 L300.6 49.9 L301.1 49.4 L301.2 49.3 L301.7 50.6 L302.2 51.6 L302.7 52.5 L303.2 53.5 L303.7 54.4 L304.2 55.3 L304.7 56.1 L305.2 56.9 L305.7 57.6 L306.2 58.2 L306.7 58.9 L307.2 59.5 L307.7 60 L308.2 60.6 L308.7 61.1 L309.2 61.5 L309.7 61.9 L310.2 62.4 L310.7 62.8 L311.2 63.3 L311.7 63.6 L312.2 64 L312.7 64.4 L313.2 64.7 L313.7 65 L314.2 65.2 L314.7 65.5 L315.2 65.8 L315.7 66 L316.2 66.1 L316.7 66.3 L317.2 66.5 L317.7 66.6 L318.2 66.8 L318.7 66.8 L319.2 67 L319.7 67.2 L320.2 67.3 L320.7 67.6 L321.2 67.8 L321.7 67.8 L322.2 67.9 L322.7 68.1 L323.2 68.2 L323.7 68.2 L324.2 68.3 L324.7 68.4 L325.2 68.4 L325.7 68.6 L326.2 68.6 L326.7 68.6 L327.2 68.6 L327.7 68.7 L328.2 68.8 L328.7 68.8 L329.2 68.7 L329.7 68.8 L330.2 68.8 L330.7 68.9 L331.2 68.8 L331.7 68.7 L332.2 68.7 L332.7 68.7 L333.2 68.8 L333.7 68.9 L334.2 68.8 L334.7 68.8 L335.2 68.9 L335.7 68.7 L336.2 68.7 L336.7 68.7 L337.2 68.6 L337.7 68.8 L338.2 68.8 L338.7 68.7 L339.2 68.7 L339.7 68.6 L340.2 68.5 L340.7 68.5 L341.2 68.5 L341.7 68.5 L342.2 68.6 L342.7 68.6 L343.2 68.6 L343.7 68.7 L344.2 68.7 L344.7 68.6 L345.2 68.5 L345.7 68.5 L346.2 68.4 L346.7 68.4 L347.2 68.5 L347.7 68.5 L348.2 68.4 L348.7 68.3 L349.2 68.3 L349.7 68.3 L350.2 68.2 L350.7 68.2 L351.2 68.3 L351.7 68.3 L352.2 68.3 L352.7 68.4 L353.2 68.3 L353.7 68.2 L354.2 68.1 L354.7 68.1 L355.2 68.2 L355.7 68.1 L356.2 68.1 L356.7 68.5 L357.2 69.1 L357.7 69.2 L358.2 68.7 L358.7 68.3 L359.2 68 L359.7 68 L360.2 68 L360.7 68 L361.2 67.9 L361.7 67.9 L362.2 67.9 L362.7 67.9 L363.2 67.9 L363.7 67.9 L364.2 67.9 L364.7 67.8 L365.2 67.7 L365.7 67.8 L366.2 67.7 L366.7 67.7 L367.2 67.6 L367.7 67.6 L368.2 67.6 L368.7 67.7 L369.2 67.8 L369.7 67.7 L370.2 67.6 L370.7 67.6 L371.2 67.6 L371.7 67.6 L372.2 67.7 L372.7 67.6 L373.2 67.6 L373.7 67.6 L374.2 67.4 L374.7 67.4 L375.2 67.3 L375.7 67.4 L376.2 67.5 L376.7 67.5 L377.2 67.4 L377.7 67.3 L378.2 67.3 L378.7 67.4 L379.2 67.5 L379.7 67.4 L380.2 67.3 L380.7 67.3 L381.2 67.2 L381.7 67.2 L382.2 67.2 L382.7 67.2 L383.2 67.1 L383.7 67.1 L384.2 67.1 L384.7 67 L385.2 66.9 L385.7 66.9 L386.2 67 L386.7 67 L387.2 67.1 L387.7 67 L388.2 67 L388.7 66.9 L389.2 67" fill="none" stroke="#1414ff" stroke-width="1.25"/>
<path d="M224.6 85 L225.1 85 L225.6 85 L226.1 85 L226.6 85 L227.1 85 L227.6 85 L228.1 85 L228.6 85 L229.1 85 L229.6 85 L230.1 85 L230.6 85 L231.1 85 L231.6 85 L232.1 85 L232.6 85 L233.1 85 L233.6 85 L234.1 85 L234.6 85 L235.1 85 L235.6 85 L236.1 85 L236.6 85 L237.1 85 L237.6 85 L238.1 85 L238.6 85 L239.1 85 L239.6 85 L240.1 85 L240.6 85 L241.1 85 L241.6 85.1 L242.1 85.1 L242.6 85.1 L243.1 85.1 L243.6 85.1 L244.1 85.1 L244.6 85.1 L245.1 85.1 L245.6 85.2 L246.1 85.2 L246.6 85.2 L247.1 85.2 L247.6 85.2 L248.1 85.3 L248.6 85.3 L249.1 85.3 L249.6 85.4 L250.1 85.4 L250.6 85.4 L251.1 85.5 L251.6 85.6 L252.1 85.7 L252.6 85.8 L253.1 85.9 L253.6 86 L254.1 86.1 L254.6 86.2 L255.1 86.3 L255.6 86.5 L256.1 86.6 L256.6 86.8 L257.1 86.9 L257.6 87.1 L258.1 87.3 L258.6 87.5 L259.1 87.7 L259.6 88 L260.1 88.3 L260.6 88.7 L261.1 89.1 L261.6 89.6 L262.1 90.1 L262.6 90.7 L263.1 91.3 L263.6 91.9 L264.1 92.5 L264.6 93.1 L265.1 93.7 L265.6 94.3 L266.1 94.9 L266.6 95.5 L267.1 96.2 L267.6 96.8 L268.1 97.4 L268.6 98.1 L269.1 98.8 L269.6 99.4 L270.1 100.1 L270.6 100.8 L271.1 101.5 L271.6 102.2 L272.1 103 L272.6 103.7 L273.1 104.5 L273.6 105.4 L274.1 106.3 L274.6 107.2 L275.1 108.2 L275.6 109.2 L276.1 110.2 L276.6 111.2 L277.1 112 L277.6 112.4 L278.1 112.1 L278.6 111.3 L279.1 109.9 L279.6 108 L280.1 105.9 L280.6 104 L281.1 102.1 L281.6 100.4 L282.1 99 L282.6 97.6 L283.1 96.3 L283.6 95.1 L284.1 93.9 L284.6 92.6 L285.1 91.4 L285.6 90.2 L286.1 89 L286.6 87.8 L287.1 86.6 L287.6 85.5 L288.1 84.5 L288.6 83.5 L289.1 82.5 L289.6 81.6 L290.1 80.8 L290.6 80 L291.1 79.2 L291.6 78.4 L292.1 77.6 L292.6 76.9 L293.1 76.1 L293.6 75.3 L294.1 74.6 L294.6 73.8 L295.1 73.1 L295.6 72.4 L296.1 71.7 L296.6 71 L297.1 70.3 L297.6 69.7 L298.1 69.1 L298.6 68.6 L299.1 68.1 L299.6 67.6 L300.1 67.2 L300.6 66.9 L301.1 66.9 L301.2 67.2 L301.7 67.8 L302.2 68.7 L302.7 69.7 L303.2 70.7 L303.7 71.7 L304.2 72.6 L304.7 73.4 L305.2 74.2 L305.7 75 L306.2 75.7 L306.7 76.4 L307.2 77 L307.7 77.6 L308.2 78.2 L308.7 78.7 L309.2 79.3 L309.7 79.7 L310.2 80.2 L310.7 80.6 L311.2 81 L311.7 81.4 L312.2 81.8 L312.7 82.1 L313.2 82.5 L313.7 82.8 L314.2 83.1 L314.7 83.4 L315.2 83.6 L315.7 83.9 L316.2 84.1 L316.7 84.3 L317.2 84.5 L317.7 84.7 L318.2 84.9 L318.7 85.1 L319.2 85.3 L319.7 85.4 L320.2 85.6 L320.7 85.7 L321.2 85.9 L321.7 86 L322.2 86.1 L322.7 86.2 L323.2 86.3 L323.7 86.4 L324.2 86.5 L324.7 86.6 L325.2 86.7 L325.7 86.8 L326.2 86.8 L326.7 86.9 L327.2 86.9 L327.7 86.9 L328.2 86.9 L328.7 87 L329.2 87 L329.7 87 L330.2 87.6 L330.7 87.6 L331.2 87.7 L331.7 87.7 L332.2 87.7 L332.7 87.7 L333.2 87.7 L333.7 87.7 L334.2 87.7 L334.7 87.7 L335.2 87.7 L335.7 87.7 L336.2 87.7 L336.7 87.7 L337.2 87.7 L337.7 87.7 L338.2 87.7 L338.7 87.7 L339.2 87.7 L339.7 87.7 L340.2 87.7 L340.7 87.7 L341.2 87.7 L341.7 87.7 L342.2 87.7 L342.7 87.7 L343.2 87.7 L343.7 87.7 L344.2 87.7 L344.7 87.7 L345.2 87.6 L345.7 87.6 L346.2 87.6 L346.7 87.6 L347.2 87.6 L347.7 87.6 L348.2 87.6 L348.7 87.6 L349.2 87.6 L349.7 87.5 L350.2 87.5 L350.7 87.5 L351.2 87.5 L351.7 87.5 L352.2 87.5 L352.7 87.5 L353.2 87.4 L353.7 87.4 L354.2 87.4 L354.7 87.4 L355.2 87.4 L355.7 87.4 L356.2 87.4 L356.7 87.4 L357.2 87.3 L357.7 87.3 L358.2 87.3 L358.7 87.3 L359.2 87.3 L359.7 87.3 L360.2 87.3 L360.7 87.2 L361.2 87.2 L361.7 87.2 L362.2 87.2 L362.7 87.2 L363.2 87.2 L363.7 87.2 L364.2 87.1 L364.7 87.1 L365.2 87.1 L365.7 87.1 L366.2 87.1 L366.7 87.1 L367.2 87.1 L367.7 87 L368.2 87 L368.7 87 L369.2 87 L369.7 87 L370.2 87 L370.7 86.9 L371.2 86.9 L371.7 86.9 L372.2 86.9 L372.7 86.9 L373.2 86.9 L373.7 86.9 L374.2 86.9 L374.7 86.8 L375.2 86.8 L375.7 86.8 L376.2 86.8 L376.7 86.8 L377.2 86.8 L377.7 86.8 L378.2 86.7 L378.7 86.7 L379.2 86.7 L379.7 86.7 L380.2 86.7 L380.7 86.7 L381.2 86.7 L381.7 86.6 L382.2 86.6 L382.7 86.6 L383.2 86.6 L383.7 86.6 L384.2 86.6 L384.7 86.6 L385.2 86.5 L385.7 86.5 L386.2 86.5 L386.7 86.5 L387.2 86.5 L387.7 86.5 L388.2 86.5" fill="none" stroke="#ff1a1a" stroke-width="1.3" stroke-dasharray="4.2 3.4" transform="translate(0.7 0.3)"/>
<path d="M260.1 88.3 L260.6 88.6 L261.1 88.9 L261.6 89.4 L262.1 90 L262.6 90.6 L263.1 91.3 L263.6 92 L264.1 92.6 L264.6 93.2 L265.1 93.7 L265.6 94.2 L266.1 94.9 L266.6 95.6 L267.1 96.1 L267.6 96.7 L268.1 97.3 L268.6 98 L269.1 98.7 L269.6 99.4 L270.1 100.1 L270.6 100.7 L271.1 101.4 L271.6 102.1 L272.1 102.8 L272.6 103.7 L273.1 104.5 L273.6 105.3 L274.1 106.3 L274.6 107.3 L275.1 108.1 L275.6 109 L276.1 110.1 L276.6 111.3 L277.1 112.5 L277.6 113.2 L278.1 113.2 L278.6 112 L279.1 110 L279.6 108.1 L280.1 105.9 L280.6 103.6 L281.1 101.9 L281.6 100.4 L282.1 99.1 L282.6 97.7 L283.1 96.2 L283.6 95 L284.1 93.9 L284.6 92.6 L285.1 91.3 L285.6 90.1 L286.1 88.8 L286.6 87.6 L287.1 86.4 L287.6 85.4 L288.1 84.4 L288.6 83.4 L289.1 82.5 L289.6 81.6 L290.1 80.8 L290.6 80 L291.1 79.1 L291.6 78.4 L292.1 77.7 L292.6 77.1 L293.1 76.3 L293.6 75.4 L294.1 74.5 L294.6 73.5 L295.1 72.7 L295.6 72.1 L296.1 71.6 L296.6 70.8 L297.1 70.1 L297.6 69.6 L298.1 69 L298.6 68.4 L299.1 68 L299.6 67.6 L300.1 67.1 L300.6 66.7 L301.1 66.4 L301.2 66.4 L301.7 67.6 L302.2 68.8 L302.7 69.9 L303.2 71 L303.7 71.8 L304.2 72.7 L304.7 73.5 L305.2 74.3 L305.7 74.9 L306.2 75.6 L306.7 76.3 L307.2 76.9 L307.7 77.5 L308.2 78.1 L308.7 78.7 L309.2 79.3 L309.7 79.7 L310.2 80.1 L310.7 80.7 L311.2 81.1 L311.7 81.4 L312.2 81.8 L312.7 82.1 L313.2 82.5 L313.7 82.8 L314.2 83 L314.7 83.2 L315.2 83.4 L315.7 83.9 L316.2 84.3 L316.7 84.5 L317.2 84.7 L317.7 84.9 L318.2 85 L318.7 85.1 L319.2 85.3 L319.7 85.6 L320.2 85.7 L320.7 85.7 L321.2 85.9 L321.7 86.1 L322.2 86.2 L322.7 86.3 L323.2 86.3 L323.7 86.5 L324.2 86.7 L324.7 86.8 L325.2 86.8 L325.7 86.8 L326.2 86.8 L326.7 86.9 L327.2 87 L327.7 87.1 L328.2 87 L328.7 86.9 L329.2 86.9 L329.7 87 L330.2 87 L330.7 87 L331.2 87.2 L331.7 87.2 L332.2 87.1 L332.7 87.1 L333.2 87.2 L333.7 87.1 L334.2 87.1 L334.7 87.1 L335.2 87.2 L335.7 87.2 L336.2 87.1 L336.7 87.1 L337.2 87.1 L337.7 87.2 L338.2 87.2 L338.7 87.2 L339.2 87.2 L339.7 87.2 L340.2 87.1 L340.7 87 L341.2 87 L341.7 87 L342.2 87 L342.7 86.9 L343.2 86.9 L343.7 86.9 L344.2 87 L344.7 87.1 L345.2 87 L345.7 86.9 L346.2 87 L346.7 87.1 L347.2 87.2 L347.7 87.1 L348.2 86.9 L348.7 86.9 L349.2 87 L349.7 87 L350.2 87 L350.7 87 L351.2 86.9 L351.7 86.8 L352.2 86.9 L352.7 86.9 L353.2 86.9 L353.7 86.8 L354.2 86.6 L354.7 86.7 L355.2 86.9 L355.7 87 L356.2 87.1 L356.7 87.3 L357.2 87.7 L357.7 87.8 L358.2 87.4 L358.7 86.8 L359.2 86.5 L359.7 86.5 L360.2 86.5 L360.7 86.6 L361.2 86.6 L361.7 86.6 L362.2 86.7 L362.7 86.7 L363.2 86.5 L363.7 86.4 L364.2 86.4 L364.7 86.5 L365.2 86.7 L365.7 86.5 L366.2 86.4 L366.7 86.4 L367.2 86.4 L367.7 86.3 L368.2 86.2 L368.7 86.4 L369.2 86.5 L369.7 86.6 L370.2 86.5 L370.7 86.4 L371.2 86.4 L371.7 86.4 L372.2 86.4 L372.7 86.3 L373.2 86.3 L373.7 86.3 L374.2 86.3 L374.7 86.3 L375.2 86.3 L375.7 86.3 L376.2 86.3 L376.7 86.2 L377.2 86.1 L377.7 86.1 L378.2 86.1 L378.7 86 L379.2 86 L379.7 86 L380.2 86 L380.7 86 L381.2 86 L381.7 86.1 L382.2 86.2 L382.7 86.2 L383.2 86.1 L383.7 86.1 L384.2 86.1 L384.7 86.2 L385.2 86.2 L385.7 86.1 L386.2 85.9 L386.7 85.9 L387.2 85.9 L387.7 85.9 L388.2 85.9 L388.7 85.9 L389.2 85.8" fill="none" stroke="#1414ff" stroke-width="1.25"/>
<path d="M224.6 101.9 L225.1 101.9 L225.6 101.9 L226.1 101.9 L226.6 101.9 L227.1 101.9 L227.6 101.9 L228.1 101.9 L228.6 101.9 L229.1 101.9 L229.6 101.9 L230.1 101.9 L230.6 101.9 L231.1 101.9 L231.6 101.9 L232.1 101.9 L232.6 101.9 L233.1 101.9 L233.6 101.9 L234.1 101.9 L234.6 101.9 L235.1 101.9 L235.6 101.9 L236.1 101.9 L236.6 101.9 L237.1 101.9 L237.6 101.9 L238.1 101.9 L238.6 101.9 L239.1 101.9 L239.6 101.9 L240.1 101.9 L240.6 101.9 L241.1 101.9 L241.6 101.9 L242.1 101.9 L242.6 101.9 L243.1 102 L243.6 102 L244.1 102 L244.6 102 L245.1 102 L245.6 102 L246.1 102 L246.6 102.1 L247.1 102.1 L247.6 102.1 L248.1 102.1 L248.6 102.1 L249.1 102.2 L249.6 102.2 L250.1 102.2 L250.6 102.3 L251.1 102.3 L251.6 102.4 L252.1 102.5 L252.6 102.5 L253.1 102.6 L253.6 102.7 L254.1 102.8 L254.6 102.9 L255.1 103 L255.6 103.1 L256.1 103.3 L256.6 103.4 L257.1 103.5 L257.6 103.7 L258.1 103.8 L258.6 104 L259.1 104.2 L259.6 104.4 L260.1 104.7 L260.6 105 L261.1 105.4 L261.6 105.8 L262.1 106.3 L262.6 106.8 L263.1 107.3 L263.6 107.8 L264.1 108.3 L264.6 108.8 L265.1 109.3 L265.6 109.8 L266.1 110.3 L266.6 110.8 L267.1 111.4 L267.6 111.9 L268.1 112.5 L268.6 113 L269.1 113.6 L269.6 114.2 L270.1 114.8 L270.6 115.3 L271.1 115.9 L271.6 116.5 L272.1 117.2 L272.6 117.8 L273.1 118.5 L273.6 119.2 L274.1 120 L274.6 120.8 L275.1 121.6 L275.6 122.5 L276.1 123.3 L276.6 124.2 L277.1 124.9 L277.6 125.2 L278.1 125 L278.6 124.3 L279.1 123.1 L279.6 121.4 L280.1 119.7 L280.6 118 L281.1 116.5 L281.6 115 L282.1 113.8 L282.6 112.6 L283.1 111.5 L283.6 110.5 L284.1 109.4 L284.6 108.4 L285.1 107.3 L285.6 106.3 L286.1 105.3 L286.6 104.3 L287.1 103.3 L287.6 102.3 L288.1 101.4 L288.6 100.5 L289.1 99.7 L289.6 98.9 L290.1 98.2 L290.6 97.5 L291.1 96.8 L291.6 96.1 L292.1 95.4 L292.6 94.8 L293.1 94.1 L293.6 93.4 L294.1 92.7 L294.6 92.1 L295.1 91.4 L295.6 90.8 L296.1 90.2 L296.6 89.6 L297.1 89 L297.6 88.5 L298.1 88 L298.6 87.5 L299.1 87 L299.6 86.7 L300.1 86.3 L300.6 86 L301.1 86 L301.2 86.3 L301.7 86.8 L302.2 87.5 L302.7 88.5 L303.2 89.3 L303.7 90.1 L304.2 90.9 L304.7 91.6 L305.2 92.3 L305.7 93 L306.2 93.6 L306.7 94.2 L307.2 94.7 L307.7 95.3 L308.2 95.8 L308.7 96.2 L309.2 96.7 L309.7 97.1 L310.2 97.5 L310.7 97.9 L311.2 98.2 L311.7 98.5 L312.2 98.9 L312.7 99.2 L313.2 99.4 L313.7 99.7 L314.2 100 L314.7 100.2 L315.2 100.4 L315.7 100.7 L316.2 100.9 L316.7 101.1 L317.2 101.2 L317.7 101.4 L318.2 101.6 L318.7 101.7 L319.2 101.9 L319.7 102 L320.2 102.1 L320.7 102.3 L321.2 102.4 L321.7 102.5 L322.2 102.6 L322.7 102.7 L323.2 102.8 L323.7 102.9 L324.2 103 L324.7 103 L325.2 103.1 L325.7 103.2 L326.2 103.2 L326.7 103.3 L327.2 103.3 L327.7 103.4 L328.2 103.4 L328.7 103.4 L329.2 103.5 L329.7 103.5 L330.2 104.2 L330.7 104.2 L331.2 104.2 L331.7 104.2 L332.2 104.3 L332.7 104.3 L333.2 104.3 L333.7 104.3 L334.2 104.4 L334.7 104.4 L335.2 104.4 L335.7 104.4 L336.2 104.4 L336.7 104.4 L337.2 104.4 L337.7 104.5 L338.2 104.5 L338.7 104.5 L339.2 104.5 L339.7 104.5 L340.2 104.5 L340.7 104.5 L341.2 104.5 L341.7 104.5 L342.2 104.5 L342.7 104.5 L343.2 104.5 L343.7 104.5 L344.2 104.5 L344.7 104.5 L345.2 104.5 L345.7 104.5 L346.2 104.5 L346.7 104.5 L347.2 104.5 L347.7 104.5 L348.2 104.5 L348.7 104.5 L349.2 104.5 L349.7 104.5 L350.2 104.5 L350.7 104.5 L351.2 104.5 L351.7 104.5 L352.2 104.5 L352.7 104.5 L353.2 104.5 L353.7 104.5 L354.2 104.5 L354.7 104.5 L355.2 104.5 L355.7 104.5 L356.2 104.5 L356.7 104.5 L357.2 104.5 L357.7 104.5 L358.2 104.5 L358.7 104.5 L359.2 104.5 L359.7 104.5 L360.2 104.5 L360.7 104.5 L361.2 104.5 L361.7 104.5 L362.2 104.5 L362.7 104.5 L363.2 104.4 L363.7 104.4 L364.2 104.4 L364.7 104.4 L365.2 104.4 L365.7 104.4 L366.2 104.4 L366.7 104.4 L367.2 104.4 L367.7 104.4 L368.2 104.4 L368.7 104.4 L369.2 104.4 L369.7 104.4 L370.2 104.4 L370.7 104.4 L371.2 104.4 L371.7 104.4 L372.2 104.4 L372.7 104.4 L373.2 104.4 L373.7 104.4 L374.2 104.4 L374.7 104.3 L375.2 104.3 L375.7 104.3 L376.2 104.3 L376.7 104.3 L377.2 104.3 L377.7 104.3 L378.2 104.3 L378.7 104.3 L379.2 104.3 L379.7 104.3 L380.2 104.3 L380.7 104.3 L381.2 104.3 L381.7 104.3 L382.2 104.3 L382.7 104.3 L383.2 104.3 L383.7 104.3 L384.2 104.3 L384.7 104.3 L385.2 104.3 L385.7 104.3 L386.2 104.2 L386.7 104.2 L387.2 104.2 L387.7 104.2 L388.2 104.2" fill="none" stroke="#ff1a1a" stroke-width="1.3" stroke-dasharray="4.2 3.4" transform="translate(0.7 0.3)"/>
<path d="M260.1 104.7 L260.6 105 L261.1 105.2 L261.6 105.7 L262.1 106.2 L262.6 106.7 L263.1 107.3 L263.6 107.7 L264.1 108.3 L264.6 108.7 L265.1 109.3 L265.6 109.9 L266.1 110.4 L266.6 110.9 L267.1 111.5 L267.6 112 L268.1 112.4 L268.6 113 L269.1 113.6 L269.6 114.1 L270.1 114.7 L270.6 115.2 L271.1 115.8 L271.6 116.6 L272.1 117.3 L272.6 117.9 L273.1 118.4 L273.6 118.9 L274.1 119.7 L274.6 120.8 L275.1 121.8 L275.6 122.6 L276.1 123.4 L276.6 124.1 L277.1 125 L277.6 125.9 L278.1 126 L278.6 124.8 L279.1 123.3 L279.6 121.7 L280.1 119.7 L280.6 117.7 L281.1 116.1 L281.6 114.9 L282.1 113.8 L282.6 112.6 L283.1 111.3 L283.6 110.2 L284.1 109.4 L284.6 108.5 L285.1 107.4 L285.6 106.3 L286.1 105.2 L286.6 104 L287.1 103 L287.6 102.2 L288.1 101.3 L288.6 100.4 L289.1 99.5 L289.6 98.8 L290.1 98 L290.6 97.4 L291.1 96.8 L291.6 96.1 L292.1 95.4 L292.6 94.7 L293.1 94.1 L293.6 93.4 L294.1 92.7 L294.6 92 L295.1 91.4 L295.6 90.8 L296.1 90.2 L296.6 89.5 L297.1 88.8 L297.6 88.4 L298.1 88 L298.6 87.4 L299.1 86.9 L299.6 86.4 L300.1 86.1 L300.6 85.8 L301.1 85.5 L301.2 85.6 L301.7 86.7 L302.2 87.6 L302.7 88.5 L303.2 89.4 L303.7 90.2 L304.2 90.9 L304.7 91.6 L305.2 92.3 L305.7 93 L306.2 93.6 L306.7 94.1 L307.2 94.7 L307.7 95.3 L308.2 95.7 L308.7 96.2 L309.2 96.6 L309.7 97 L310.2 97.4 L310.7 97.8 L311.2 98.2 L311.7 98.7 L312.2 99 L312.7 99.1 L313.2 99.5 L313.7 99.9 L314.2 100.1 L314.7 100.3 L315.2 100.6 L315.7 100.8 L316.2 100.9 L316.7 101.1 L317.2 101.3 L317.7 101.5 L318.2 101.7 L318.7 101.8 L319.2 101.8 L319.7 101.9 L320.2 102.1 L320.7 102.3 L321.2 102.5 L321.7 102.6 L322.2 102.7 L322.7 102.8 L323.2 102.8 L323.7 102.7 L324.2 102.8 L324.7 103 L325.2 103.1 L325.7 103.2 L326.2 103.2 L326.7 103.2 L327.2 103.3 L327.7 103.4 L328.2 103.4 L328.7 103.4 L329.2 103.5 L329.7 103.5 L330.2 103.4 L330.7 103.4 L331.2 103.6 L331.7 103.8 L332.2 103.8 L332.7 103.8 L333.2 103.7 L333.7 103.7 L334.2 103.7 L334.7 103.7 L335.2 103.7 L335.7 103.7 L336.2 103.8 L336.7 103.8 L337.2 103.9 L337.7 103.8 L338.2 103.8 L338.7 103.9 L339.2 103.9 L339.7 104 L340.2 104 L340.7 103.9 L341.2 103.9 L341.7 103.9 L342.2 103.9 L342.7 103.8 L343.2 103.9 L343.7 103.8 L344.2 103.8 L344.7 103.9 L345.2 103.9 L345.7 104 L346.2 104.1 L346.7 104.1 L347.2 104.1 L347.7 104 L348.2 104 L348.7 104.1 L349.2 103.9 L349.7 103.8 L350.2 103.9 L350.7 103.9 L351.2 103.8 L351.7 103.8 L352.2 103.9 L352.7 103.9 L353.2 103.9 L353.7 103.9 L354.2 103.9 L354.7 103.9 L355.2 104 L355.7 104.1 L356.2 104.1 L356.7 104.4 L357.2 105 L357.7 105.2 L358.2 104.7 L358.7 104.1 L359.2 103.9 L359.7 103.8 L360.2 103.8 L360.7 103.7 L361.2 103.7 L361.7 103.8 L362.2 103.9 L362.7 103.9 L363.2 103.8 L363.7 103.8 L364.2 103.8 L364.7 103.7 L365.2 103.6 L365.7 103.6 L366.2 103.8 L366.7 103.8 L367.2 103.8 L367.7 103.7 L368.2 103.7 L368.7 103.7 L369.2 103.8 L369.7 103.7 L370.2 103.7 L370.7 103.6 L371.2 103.7 L371.7 103.7 L372.2 103.7 L372.7 103.7 L373.2 103.7 L373.7 103.7 L374.2 103.7 L374.7 103.6 L375.2 103.6 L375.7 103.6 L376.2 103.7 L376.7 103.7 L377.2 103.6 L377.7 103.6 L378.2 103.6 L378.7 103.7 L379.2 103.8 L379.7 103.8 L380.2 103.7 L380.7 103.7 L381.2 103.7 L381.7 103.8 L382.2 103.8 L382.7 103.8 L383.2 103.7 L383.7 103.5 L384.2 103.6 L384.7 103.6 L385.2 103.7 L385.7 103.8 L386.2 103.8 L386.7 103.7 L387.2 103.7 L387.7 103.7 L388.2 103.7 L388.7 103.7 L389.2 103.7" fill="none" stroke="#1414ff" stroke-width="1.25"/>
<path d="M224.6 118.8 L225.1 118.8 L225.6 118.8 L226.1 118.8 L226.6 118.8 L227.1 118.8 L227.6 118.8 L228.1 118.8 L228.6 118.8 L229.1 118.8 L229.6 118.8 L230.1 118.8 L230.6 118.8 L231.1 118.8 L231.6 118.8 L232.1 118.8 L232.6 118.8 L233.1 118.8 L233.6 118.8 L234.1 118.8 L234.6 118.8 L235.1 118.8 L235.6 118.8 L236.1 118.8 L236.6 118.8 L237.1 118.8 L237.6 118.8 L238.1 118.8 L238.6 118.8 L239.1 118.8 L239.6 118.8 L240.1 118.8 L240.6 118.8 L241.1 118.8 L241.6 118.8 L242.1 118.8 L242.6 118.8 L243.1 118.8 L243.6 118.8 L244.1 118.9 L244.6 118.9 L245.1 118.9 L245.6 118.9 L246.1 118.9 L246.6 118.9 L247.1 119 L247.6 119 L248.1 119 L248.6 119 L249.1 119 L249.6 119.1 L250.1 119.1 L250.6 119.1 L251.1 119.2 L251.6 119.2 L252.1 119.3 L252.6 119.4 L253.1 119.5 L253.6 119.6 L254.1 119.7 L254.6 119.8 L255.1 119.9 L255.6 120 L256.1 120.1 L256.6 120.2 L257.1 120.4 L257.6 120.5 L258.1 120.7 L258.6 120.8 L259.1 121 L259.6 121.2 L260.1 121.5 L260.6 121.8 L261.1 122.2 L261.6 122.6 L262.1 123 L262.6 123.5 L263.1 124 L263.6 124.5 L264.1 125 L264.6 125.5 L265.1 126 L265.6 126.5 L266.1 127 L266.6 127.5 L267.1 128 L267.6 128.6 L268.1 129.1 L268.6 129.6 L269.1 130.2 L269.6 130.8 L270.1 131.3 L270.6 131.9 L271.1 132.5 L271.6 133.1 L272.1 133.7 L272.6 134.3 L273.1 135 L273.6 135.7 L274.1 136.4 L274.6 137.2 L275.1 138 L275.6 138.8 L276.1 139.7 L276.6 140.5 L277.1 141.2 L277.6 141.5 L278.1 141.3 L278.6 140.6 L279.1 139.4 L279.6 137.8 L280.1 136.2 L280.6 134.5 L281.1 133 L281.6 131.6 L282.1 130.4 L282.6 129.2 L283.1 128.2 L283.6 127.1 L284.1 126.1 L284.6 125.1 L285.1 124.1 L285.6 123.1 L286.1 122.1 L286.6 121.1 L287.1 120.1 L287.6 119.2 L288.1 118.3 L288.6 117.5 L289.1 116.7 L289.6 116 L290.1 115.3 L290.6 114.6 L291.1 114 L291.6 113.3 L292.1 112.7 L292.6 112.1 L293.1 111.5 L293.6 110.8 L294.1 110.2 L294.6 109.6 L295.1 109 L295.6 108.4 L296.1 107.8 L296.6 107.2 L297.1 106.7 L297.6 106.2 L298.1 105.7 L298.6 105.3 L299.1 104.8 L299.6 104.5 L300.1 104.1 L300.6 103.9 L301.1 103.9 L301.2 104.1 L301.7 104.6 L302.2 105.3 L302.7 106.1 L303.2 106.9 L303.7 107.7 L304.2 108.4 L304.7 109.1 L305.2 109.7 L305.7 110.4 L306.2 110.9 L306.7 111.5 L307.2 112 L307.7 112.5 L308.2 112.9 L308.7 113.4 L309.2 113.8 L309.7 114.2 L310.2 114.5 L310.7 114.9 L311.2 115.2 L311.7 115.5 L312.2 115.8 L312.7 116.1 L313.2 116.4 L313.7 116.6 L314.2 116.9 L314.7 117.1 L315.2 117.3 L315.7 117.5 L316.2 117.7 L316.7 117.9 L317.2 118 L317.7 118.2 L318.2 118.3 L318.7 118.5 L319.2 118.6 L319.7 118.8 L320.2 118.9 L320.7 119 L321.2 119.1 L321.7 119.2 L322.2 119.3 L322.7 119.4 L323.2 119.5 L323.7 119.6 L324.2 119.6 L324.7 119.7 L325.2 119.8 L325.7 119.8 L326.2 119.9 L326.7 119.9 L327.2 120 L327.7 120 L328.2 120 L328.7 120 L329.2 120.1 L329.7 120.1 L330.2 120.7 L330.7 120.8 L331.2 120.8 L331.7 120.8 L332.2 120.8 L332.7 120.8 L333.2 120.8 L333.7 120.9 L334.2 120.9 L334.7 120.9 L335.2 120.9 L335.7 120.9 L336.2 120.9 L336.7 120.9 L337.2 120.9 L337.7 120.9 L338.2 120.9 L338.7 120.9 L339.2 120.9 L339.7 121 L340.2 121 L340.7 121 L341.2 121 L341.7 121 L342.2 121 L342.7 121 L343.2 121 L343.7 121 L344.2 121 L344.7 121 L345.2 121 L345.7 120.9 L346.2 120.9 L346.7 120.9 L347.2 120.9 L347.7 120.9 L348.2 120.9 L348.7 120.9 L349.2 120.9 L349.7 120.9 L350.2 120.9 L350.7 120.9 L351.2 120.9 L351.7 120.9 L352.2 120.9 L352.7 120.9 L353.2 120.9 L353.7 120.9 L354.2 120.9 L354.7 120.9 L355.2 120.9 L355.7 120.9 L356.2 120.8 L356.7 120.8 L357.2 120.8 L357.7 120.8 L358.2 120.8 L358.7 120.8 L359.2 120.8 L359.7 120.8 L360.2 120.8 L360.7 120.8 L361.2 120.8 L361.7 120.8 L362.2 120.8 L362.7 120.8 L363.2 120.8 L363.7 120.7 L364.2 120.7 L364.7 120.7 L365.2 120.7 L365.7 120.7 L366.2 120.7 L366.7 120.7 L367.2 120.7 L367.7 120.7 L368.2 120.7 L368.7 120.7 L369.2 120.7 L369.7 120.7 L370.2 120.7 L370.7 120.7 L371.2 120.6 L371.7 120.6 L372.2 120.6 L372.7 120.6 L373.2 120.6 L373.7 120.6 L374.2 120.6 L374.7 120.6 L375.2 120.6 L375.7 120.6 L376.2 120.6 L376.7 120.6 L377.2 120.6 L377.7 120.6 L378.2 120.5 L378.7 120.5 L379.2 120.5 L379.7 120.5 L380.2 120.5 L380.7 120.5 L381.2 120.5 L381.7 120.5 L382.2 120.5 L382.7 120.5 L383.2 120.5 L383.7 120.5 L384.2 120.5 L384.7 120.5 L385.2 120.5 L385.7 120.4 L386.2 120.4 L386.7 120.4 L387.2 120.4 L387.7 120.4 L388.2 120.4" fill="none" stroke="#ff1a1a" stroke-width="1.3" stroke-dasharray="4.2 3.4" transform="translate(0.7 0.3)"/>
<path d="M260.1 121.5 L260.6 121.7 L261.1 122 L261.6 122.3 L262.1 123 L262.6 123.6 L263.1 124.1 L263.6 124.6 L264.1 125.2 L264.6 125.7 L265.1 126 L265.6 126.5 L266.1 127 L266.6 127.5 L267.1 128.1 L267.6 128.7 L268.1 129.2 L268.6 129.6 L269.1 130.1 L269.6 130.7 L270.1 131.3 L270.6 131.9 L271.1 132.5 L271.6 133.1 L272.1 133.7 L272.6 134.2 L273.1 134.7 L273.6 135.4 L274.1 136.3 L274.6 137.1 L275.1 138 L275.6 138.9 L276.1 139.7 L276.6 140.5 L277.1 141.5 L277.6 142.2 L278.1 142.3 L278.6 141.2 L279.1 139.7 L279.6 138.1 L280.1 136.1 L280.6 134.2 L281.1 132.8 L281.6 131.5 L282.1 130.4 L282.6 129.3 L283.1 128.2 L283.6 127.2 L284.1 126.3 L284.6 125.4 L285.1 124.3 L285.6 123.2 L286.1 122.2 L286.6 121.2 L287.1 120.1 L287.6 119.2 L288.1 118.4 L288.6 117.5 L289.1 116.8 L289.6 116 L290.1 115.2 L290.6 114.5 L291.1 113.8 L291.6 113.2 L292.1 112.6 L292.6 112.1 L293.1 111.3 L293.6 110.7 L294.1 110.1 L294.6 109.5 L295.1 108.8 L295.6 108.3 L296.1 107.8 L296.6 107.3 L297.1 106.7 L297.6 106.4 L298.1 105.9 L298.6 105.4 L299.1 105 L299.6 104.5 L300.1 104.1 L300.6 103.8 L301.1 103.6 L301.2 103.5 L301.7 104.5 L302.2 105.3 L302.7 106 L303.2 106.9 L303.7 107.8 L304.2 108.5 L304.7 109.1 L305.2 109.8 L305.7 110.4 L306.2 111 L306.7 111.5 L307.2 112 L307.7 112.5 L308.2 113 L308.7 113.4 L309.2 113.8 L309.7 114.2 L310.2 114.6 L310.7 115 L311.2 115.3 L311.7 115.5 L312.2 115.8 L312.7 116 L313.2 116.3 L313.7 116.6 L314.2 116.7 L314.7 117 L315.2 117.3 L315.7 117.5 L316.2 117.6 L316.7 117.7 L317.2 117.9 L317.7 118.1 L318.2 118.3 L318.7 118.4 L319.2 118.5 L319.7 118.7 L320.2 118.8 L320.7 118.9 L321.2 119 L321.7 119.1 L322.2 119.2 L322.7 119.4 L323.2 119.5 L323.7 119.4 L324.2 119.5 L324.7 119.5 L325.2 119.7 L325.7 119.9 L326.2 120 L326.7 120 L327.2 120.1 L327.7 120.1 L328.2 120.1 L328.7 120.1 L329.2 120.1 L329.7 120.1 L330.2 120.1 L330.7 120.2 L331.2 120.1 L331.7 120.2 L332.2 120.4 L332.7 120.3 L333.2 120.3 L333.7 120.4 L334.2 120.3 L334.7 120.3 L335.2 120.4 L335.7 120.4 L336.2 120.3 L336.7 120.3 L337.2 120.3 L337.7 120.2 L338.2 120.3 L338.7 120.5 L339.2 120.4 L339.7 120.4 L340.2 120.5 L340.7 120.5 L341.2 120.5 L341.7 120.4 L342.2 120.3 L342.7 120.2 L343.2 120.3 L343.7 120.3 L344.2 120.3 L344.7 120.3 L345.2 120.3 L345.7 120.4 L346.2 120.4 L346.7 120.4 L347.2 120.3 L347.7 120.3 L348.2 120.3 L348.7 120.2 L349.2 120.1 L349.7 120.2 L350.2 120.4 L350.7 120.4 L351.2 120.4 L351.7 120.4 L352.2 120.3 L352.7 120.3 L353.2 120.2 L353.7 120.2 L354.2 120.2 L354.7 120.2 L355.2 120.2 L355.7 120.2 L356.2 120.4 L356.7 120.8 L357.2 121.3 L357.7 121.3 L358.2 120.7 L358.7 120.2 L359.2 120.2 L359.7 120.3 L360.2 120.3 L360.7 120.3 L361.2 120.3 L361.7 120.2 L362.2 120 L362.7 120.1 L363.2 120.3 L363.7 120.3 L364.2 120.3 L364.7 120.3 L365.2 120.3 L365.7 120.1 L366.2 120 L366.7 120 L367.2 120.1 L367.7 120.1 L368.2 120.1 L368.7 120.1 L369.2 120.1 L369.7 120.1 L370.2 120.1 L370.7 120 L371.2 119.9 L371.7 119.9 L372.2 120 L372.7 120.1 L373.2 120 L373.7 120 L374.2 120 L374.7 120 L375.2 119.9 L375.7 119.9 L376.2 120 L376.7 120 L377.2 120.1 L377.7 120.1 L378.2 119.9 L378.7 119.9 L379.2 120.1 L379.7 119.9 L380.2 119.7 L380.7 119.8 L381.2 119.9 L381.7 119.9 L382.2 119.9 L382.7 120 L383.2 120.1 L383.7 120 L384.2 119.9 L384.7 119.9 L385.2 120 L385.7 120 L386.2 119.8 L386.7 119.7 L387.2 119.8 L387.7 119.9 L388.2 119.9 L388.7 119.8 L389.2 119.8" fill="none" stroke="#1414ff" stroke-width="1.25"/>
<path d="M224.6 135.7 L225.1 135.7 L225.6 135.7 L226.1 135.7 L226.6 135.7 L227.1 135.7 L227.6 135.7 L228.1 135.7 L228.6 135.7 L229.1 135.7 L229.6 135.7 L230.1 135.7 L230.6 135.7 L231.1 135.7 L231.6 135.7 L232.1 135.7 L232.6 135.7 L233.1 135.7 L233.6 135.7 L234.1 135.7 L234.6 135.7 L235.1 135.7 L235.6 135.7 L236.1 135.7 L236.6 135.7 L237.1 135.7 L237.6 135.7 L238.1 135.7 L238.6 135.7 L239.1 135.7 L239.6 135.7 L240.1 135.7 L240.6 135.7 L241.1 135.7 L241.6 135.7 L242.1 135.7 L242.6 135.7 L243.1 135.7 L243.6 135.7 L244.1 135.7 L244.6 135.8 L245.1 135.8 L245.6 135.8 L246.1 135.8 L246.6 135.8 L247.1 135.8 L247.6 135.9 L248.1 135.9 L248.6 135.9 L249.1 135.9 L249.6 136 L250.1 136 L250.6 136 L251.1 136.1 L251.6 136.2 L252.1 136.2 L252.6 136.3 L253.1 136.4 L253.6 136.5 L254.1 136.6 L254.6 136.7 L255.1 136.9 L255.6 137 L256.1 137.1 L256.6 137.2 L257.1 137.4 L257.6 137.5 L258.1 137.7 L258.6 137.9 L259.1 138.1 L259.6 138.3 L260.1 138.6 L260.6 138.9 L261.1 139.3 L261.6 139.8 L262.1 140.3 L262.6 140.8 L263.1 141.4 L263.6 141.9 L264.1 142.4 L264.6 143 L265.1 143.5 L265.6 144 L266.1 144.6 L266.6 145.2 L267.1 145.7 L267.6 146.3 L268.1 146.9 L268.6 147.5 L269.1 148.1 L269.6 148.7 L270.1 149.3 L270.6 149.9 L271.1 150.6 L271.6 151.2 L272.1 151.9 L272.6 152.6 L273.1 153.3 L273.6 154.1 L274.1 154.9 L274.6 155.7 L275.1 156.6 L275.6 157.5 L276.1 158.4 L276.6 159.3 L277.1 160.1 L277.6 160.4 L278.1 160.2 L278.6 159.5 L279.1 158.1 L279.6 156.4 L280.1 154.6 L280.6 152.8 L281.1 151.1 L281.6 149.6 L282.1 148.3 L282.6 147 L283.1 145.9 L283.6 144.8 L284.1 143.6 L284.6 142.5 L285.1 141.5 L285.6 140.4 L286.1 139.3 L286.6 138.2 L287.1 137.2 L287.6 136.2 L288.1 135.2 L288.6 134.4 L289.1 133.5 L289.6 132.8 L290.1 132 L290.6 131.3 L291.1 130.7 L291.6 130 L292.1 129.4 L292.6 128.7 L293.1 128.1 L293.6 127.4 L294.1 126.8 L294.6 126.1 L295.1 125.5 L295.6 124.9 L296.1 124.3 L296.6 123.7 L297.1 123.2 L297.6 122.7 L298.1 122.2 L298.6 121.7 L299.1 121.3 L299.6 120.9 L300.1 120.5 L300.6 120.3 L301.1 120.3 L301.2 120.5 L301.7 121 L302.2 121.7 L302.7 122.5 L303.2 123.3 L303.7 124 L304.2 124.7 L304.7 125.4 L305.2 126.1 L305.7 126.7 L306.2 127.2 L306.7 127.8 L307.2 128.3 L307.7 128.8 L308.2 129.2 L308.7 129.6 L309.2 130 L309.7 130.4 L310.2 130.8 L310.7 131.1 L311.2 131.5 L311.7 131.8 L312.2 132.1 L312.7 132.3 L313.2 132.6 L313.7 132.9 L314.2 133.1 L314.7 133.3 L315.2 133.5 L315.7 133.7 L316.2 133.9 L316.7 134.1 L317.2 134.2 L317.7 134.4 L318.2 134.6 L318.7 134.7 L319.2 134.8 L319.7 135 L320.2 135.1 L320.7 135.2 L321.2 135.3 L321.7 135.4 L322.2 135.5 L322.7 135.6 L323.2 135.7 L323.7 135.8 L324.2 135.8 L324.7 135.9 L325.2 136 L325.7 136 L326.2 136.1 L326.7 136.1 L327.2 136.1 L327.7 136.1 L328.2 136.1 L328.7 136.1 L329.2 136.2 L329.7 136.2 L330.2 136.8 L330.7 136.8 L331.2 136.8 L331.7 136.8 L332.2 136.8 L332.7 136.8 L333.2 136.8 L333.7 136.8 L334.2 136.8 L334.7 136.8 L335.2 136.9 L335.7 136.9 L336.2 136.9 L336.7 136.9 L337.2 136.8 L337.7 136.8 L338.2 136.8 L338.7 136.8 L339.2 136.8 L339.7 136.8 L340.2 136.8 L340.7 136.8 L341.2 136.8 L341.7 136.8 L342.2 136.8 L342.7 136.8 L343.2 136.8 L343.7 136.8 L344.2 136.8 L344.7 136.8 L345.2 136.7 L345.7 136.7 L346.2 136.7 L346.7 136.7 L347.2 136.7 L347.7 136.7 L348.2 136.7 L348.7 136.7 L349.2 136.7 L349.7 136.6 L350.2 136.6 L350.7 136.6 L351.2 136.6 L351.7 136.6 L352.2 136.6 L352.7 136.6 L353.2 136.6 L353.7 136.6 L354.2 136.5 L354.7 136.5 L355.2 136.5 L355.7 136.5 L356.2 136.5 L356.7 136.5 L357.2 136.5 L357.7 136.5 L358.2 136.4 L358.7 136.4 L359.2 136.4 L359.7 136.4 L360.2 136.4 L360.7 136.4 L361.2 136.4 L361.7 136.4 L362.2 136.3 L362.7 136.3 L363.2 136.3 L363.7 136.3 L364.2 136.3 L364.7 136.3 L365.2 136.3 L365.7 136.3 L366.2 136.2 L366.7 136.2 L367.2 136.2 L367.7 136.2 L368.2 136.2 L368.7 136.2 L369.2 136.2 L369.7 136.2 L370.2 136.1 L370.7 136.1 L371.2 136.1 L371.7 136.1 L372.2 136.1 L372.7 136.1 L373.2 136.1 L373.7 136.1 L374.2 136 L374.7 136 L375.2 136 L375.7 136 L376.2 136 L376.7 136 L377.2 136 L377.7 136 L378.2 135.9 L378.7 135.9 L379.2 135.9 L379.7 135.9 L380.2 135.9 L380.7 135.9 L381.2 135.9 L381.7 135.9 L382.2 135.8 L382.7 135.8 L383.2 135.8 L383.7 135.8 L384.2 135.8 L384.7 135.8 L385.2 135.8 L385.7 135.8 L386.2 135.8 L386.7 135.7 L387.2 135.7 L387.7 135.7 L388.2 135.7" fill="none" stroke="#ff1a1a" stroke-width="1.3" stroke-dasharray="4.2 3.4" transform="translate(0.7 0.3)"/>
<path d="M260.1 138.3 L260.6 138.6 L261.1 139.3 L261.6 140 L262.1 140.4 L262.6 140.8 L263.1 141.3 L263.6 141.9 L264.1 142.6 L264.6 143.1 L265.1 143.6 L265.6 144.1 L266.1 144.7 L266.6 145.2 L267.1 145.7 L267.6 146.2 L268.1 146.8 L268.6 147.3 L269.1 147.9 L269.6 148.6 L270.1 149.2 L270.6 149.9 L271.1 150.5 L271.6 151.3 L272.1 152 L272.6 152.6 L273.1 153.1 L273.6 153.9 L274.1 154.9 L274.6 155.8 L275.1 156.7 L275.6 157.5 L276.1 158.3 L276.6 159.2 L277.1 160.2 L277.6 161.1 L278.1 161.3 L278.6 160.3 L279.1 158.6 L279.6 156.8 L280.1 154.5 L280.6 152.4 L281.1 150.8 L281.6 149.4 L282.1 148.1 L282.6 146.9 L283.1 145.8 L283.6 144.7 L284.1 143.7 L284.6 142.5 L285.1 141.4 L285.6 140.5 L286.1 139.4 L286.6 138.2 L287.1 137.1 L287.6 136.4 L288.1 135.5 L288.6 134.4 L289.1 133.5 L289.6 132.7 L290.1 131.9 L290.6 131.3 L291.1 130.8 L291.6 130.1 L292.1 129.4 L292.6 128.7 L293.1 128 L293.6 127.3 L294.1 126.8 L294.6 126.3 L295.1 125.6 L295.6 124.9 L296.1 124.4 L296.6 123.8 L297.1 123.2 L297.6 122.6 L298.1 122.1 L298.6 121.7 L299.1 121.2 L299.6 120.8 L300.1 120.4 L300.6 120.2 L301.1 120 L301.2 120 L301.7 120.8 L302.2 121.7 L302.7 122.6 L303.2 123.3 L303.7 124 L304.2 124.7 L304.7 125.5 L305.2 126.1 L305.7 126.6 L306.2 127.2 L306.7 127.8 L307.2 128.4 L307.7 128.8 L308.2 129.2 L308.7 129.7 L309.2 130.1 L309.7 130.5 L310.2 130.9 L310.7 131.3 L311.2 131.5 L311.7 131.8 L312.2 132.2 L312.7 132.4 L313.2 132.7 L313.7 133 L314.2 133.2 L314.7 133.4 L315.2 133.6 L315.7 133.7 L316.2 133.8 L316.7 133.9 L317.2 134.1 L317.7 134.4 L318.2 134.6 L318.7 134.8 L319.2 135 L319.7 135 L320.2 135.1 L320.7 135.3 L321.2 135.4 L321.7 135.3 L322.2 135.4 L322.7 135.5 L323.2 135.6 L323.7 135.8 L324.2 135.8 L324.7 135.8 L325.2 136 L325.7 136.1 L326.2 136 L326.7 135.9 L327.2 135.9 L327.7 136.1 L328.2 136.3 L328.7 136.2 L329.2 136.1 L329.7 136.1 L330.2 136.1 L330.7 136.2 L331.2 136.3 L331.7 136.2 L332.2 136 L332.7 136 L333.2 136.3 L333.7 136.3 L334.2 136.2 L334.7 136.2 L335.2 136.3 L335.7 136.3 L336.2 136.3 L336.7 136.3 L337.2 136.3 L337.7 136.3 L338.2 136.3 L338.7 136.2 L339.2 136.2 L339.7 136.2 L340.2 136.3 L340.7 136.3 L341.2 136.2 L341.7 136.2 L342.2 136.2 L342.7 136.2 L343.2 136 L343.7 135.9 L344.2 136 L344.7 136.2 L345.2 136.3 L345.7 136.3 L346.2 136.3 L346.7 136.3 L347.2 136.2 L347.7 136.1 L348.2 136.1 L348.7 136.1 L349.2 136.1 L349.7 136.1 L350.2 136.1 L350.7 136 L351.2 135.9 L351.7 136 L352.2 136.1 L352.7 136 L353.2 135.9 L353.7 135.9 L354.2 136 L354.7 135.9 L355.2 135.9 L355.7 136 L356.2 136 L356.7 136.3 L357.2 136.9 L357.7 137 L358.2 136.4 L358.7 135.9 L359.2 135.8 L359.7 135.8 L360.2 135.8 L360.7 135.9 L361.2 135.8 L361.7 135.7 L362.2 135.7 L362.7 135.6 L363.2 135.5 L363.7 135.7 L364.2 135.7 L364.7 135.7 L365.2 135.7 L365.7 135.7 L366.2 135.6 L366.7 135.5 L367.2 135.5 L367.7 135.5 L368.2 135.4 L368.7 135.5 L369.2 135.6 L369.7 135.7 L370.2 135.7 L370.7 135.6 L371.2 135.5 L371.7 135.5 L372.2 135.4 L372.7 135.5 L373.2 135.4 L373.7 135.3 L374.2 135.4 L374.7 135.5 L375.2 135.5 L375.7 135.5 L376.2 135.4 L376.7 135.3 L377.2 135.4 L377.7 135.4 L378.2 135.3 L378.7 135.2 L379.2 135.3 L379.7 135.4 L380.2 135.3 L380.7 135.3 L381.2 135.3 L381.7 135.5 L382.2 135.5 L382.7 135.4 L383.2 135.2 L383.7 135.2 L384.2 135.2 L384.7 135.2 L385.2 135.1 L385.7 135.2 L386.2 135.2 L386.7 135.1 L387.2 135.1 L387.7 135.2 L388.2 135.2 L388.7 135.1 L389.2 135.1" fill="none" stroke="#1414ff" stroke-width="1.25"/>
<path d="M224.6 152.6 L225.1 152.6 L225.6 152.6 L226.1 152.6 L226.6 152.6 L227.1 152.6 L227.6 152.6 L228.1 152.6 L228.6 152.6 L229.1 152.6 L229.6 152.6 L230.1 152.6 L230.6 152.6 L231.1 152.6 L231.6 152.6 L232.1 152.6 L232.6 152.6 L233.1 152.6 L233.6 152.6 L234.1 152.6 L234.6 152.6 L235.1 152.6 L235.6 152.6 L236.1 152.6 L236.6 152.6 L237.1 152.6 L237.6 152.6 L238.1 152.6 L238.6 152.6 L239.1 152.6 L239.6 152.6 L240.1 152.6 L240.6 152.6 L241.1 152.6 L241.6 152.6 L242.1 152.6 L242.6 152.6 L243.1 152.6 L243.6 152.6 L244.1 152.6 L244.6 152.6 L245.1 152.6 L245.6 152.7 L246.1 152.7 L246.6 152.7 L247.1 152.7 L247.6 152.7 L248.1 152.7 L248.6 152.8 L249.1 152.8 L249.6 152.8 L250.1 152.8 L250.6 152.9 L251.1 152.9 L251.6 153 L252.1 153.1 L252.6 153.1 L253.1 153.2 L253.6 153.3 L254.1 153.4 L254.6 153.5 L255.1 153.6 L255.6 153.7 L256.1 153.8 L256.6 153.9 L257.1 154 L257.6 154.2 L258.1 154.3 L258.6 154.5 L259.1 154.7 L259.6 154.9 L260.1 155.1 L260.6 155.4 L261.1 155.8 L261.6 156.2 L262.1 156.6 L262.6 157.1 L263.1 157.5 L263.6 158 L264.1 158.5 L264.6 158.9 L265.1 159.4 L265.6 159.9 L266.1 160.4 L266.6 160.9 L267.1 161.4 L267.6 161.9 L268.1 162.4 L268.6 162.9 L269.1 163.4 L269.6 164 L270.1 164.5 L270.6 165 L271.1 165.6 L271.6 166.2 L272.1 166.7 L272.6 167.3 L273.1 168 L273.6 168.6 L274.1 169.4 L274.6 170.1 L275.1 170.9 L275.6 171.6 L276.1 172.5 L276.6 173.2 L277.1 173.9 L277.6 174.2 L278.1 174 L278.6 173.4 L279.1 172.2 L279.6 170.7 L280.1 169.1 L280.6 167.6 L281.1 166.1 L281.6 164.8 L282.1 163.6 L282.6 162.5 L283.1 161.5 L283.6 160.5 L284.1 159.5 L284.6 158.6 L285.1 157.6 L285.6 156.6 L286.1 155.7 L286.6 154.7 L287.1 153.8 L287.6 152.9 L288.1 152 L288.6 151.2 L289.1 150.4 L289.6 149.6 L290.1 148.9 L290.6 148.2 L291.1 147.5 L291.6 146.8 L292.1 146.2 L292.6 145.5 L293.1 144.8 L293.6 144.2 L294.1 143.5 L294.6 142.8 L295.1 142.2 L295.6 141.6 L296.1 141 L296.6 140.4 L297.1 139.8 L297.6 139.3 L298.1 138.8 L298.6 138.3 L299.1 137.9 L299.6 137.5 L300.1 137.1 L300.6 136.9 L301.1 136.9 L301.2 137.1 L301.7 137.6 L302.2 138.3 L302.7 139.2 L303.2 140 L303.7 140.8 L304.2 141.5 L304.7 142.2 L305.2 142.8 L305.7 143.3 L306.2 143.9 L306.7 144.4 L307.2 144.8 L307.7 145.3 L308.2 145.7 L308.7 146 L309.2 146.4 L309.7 146.7 L310.2 147 L310.7 147.3 L311.2 147.5 L311.7 147.8 L312.2 148 L312.7 148.2 L313.2 148.4 L313.7 148.6 L314.2 148.8 L314.7 148.9 L315.2 149.1 L315.7 149.2 L316.2 149.3 L316.7 149.5 L317.2 149.6 L317.7 149.7 L318.2 149.8 L318.7 149.9 L319.2 149.9 L319.7 150 L320.2 150.1 L320.7 150.2 L321.2 150.2 L321.7 150.3 L322.2 150.3 L322.7 150.4 L323.2 150.4 L323.7 150.5 L324.2 150.5 L324.7 150.5 L325.2 150.6 L325.7 150.6 L326.2 150.7 L326.7 150.8 L327.2 150.8 L327.7 150.9 L328.2 151 L328.7 151 L329.2 151.1 L329.7 151.1 L330.2 151.8 L330.7 151.8 L331.2 151.8 L331.7 151.9 L332.2 151.9 L332.7 151.9 L333.2 152 L333.7 152 L334.2 152 L334.7 152.1 L335.2 152.1 L335.7 152.1 L336.2 152.2 L336.7 152.2 L337.2 152.2 L337.7 152.3 L338.2 152.3 L338.7 152.3 L339.2 152.3 L339.7 152.4 L340.2 152.4 L340.7 152.4 L341.2 152.4 L341.7 152.4 L342.2 152.5 L342.7 152.5 L343.2 152.5 L343.7 152.5 L344.2 152.5 L344.7 152.6 L345.2 152.6 L345.7 152.6 L346.2 152.6 L346.7 152.6 L347.2 152.7 L347.7 152.7 L348.2 152.7 L348.7 152.7 L349.2 152.7 L349.7 152.8 L350.2 152.8 L350.7 152.8 L351.2 152.8 L351.7 152.8 L352.2 152.8 L352.7 152.9 L353.2 152.9 L353.7 152.9 L354.2 152.9 L354.7 152.9 L355.2 152.9 L355.7 152.9 L356.2 153 L356.7 153 L357.2 153 L357.7 153 L358.2 153 L358.7 153 L359.2 153.1 L359.7 153.1 L360.2 153.1 L360.7 153.1 L361.2 153.1 L361.7 153.1 L362.2 153.1 L362.7 153.2 L363.2 153.2 L363.7 153.2 L364.2 153.2 L364.7 153.2 L365.2 153.2 L365.7 153.2 L366.2 153.3 L366.7 153.3 L367.2 153.3 L367.7 153.3 L368.2 153.3 L368.7 153.3 L369.2 153.3 L369.7 153.4 L370.2 153.4 L370.7 153.4 L371.2 153.4 L371.7 153.4 L372.2 153.4 L372.7 153.4 L373.2 153.5 L373.7 153.5 L374.2 153.5 L374.7 153.5 L375.2 153.5 L375.7 153.5 L376.2 153.5 L376.7 153.5 L377.2 153.6 L377.7 153.6 L378.2 153.6 L378.7 153.6 L379.2 153.6 L379.7 153.6 L380.2 153.6 L380.7 153.6 L381.2 153.7 L381.7 153.7 L382.2 153.7 L382.7 153.7 L383.2 153.7 L383.7 153.7 L384.2 153.7 L384.7 153.7 L385.2 153.8 L385.7 153.8 L386.2 153.8 L386.7 153.8 L387.2 153.8 L387.7 153.8 L388.2 153.8" fill="none" stroke="#ff1a1a" stroke-width="1.3" stroke-dasharray="4.2 3.4" transform="translate(0.7 0.3)"/>
<path d="M260.1 155.2 L260.6 155.5 L261.1 155.8 L261.6 156.1 L262.1 156.6 L262.6 157.1 L263.1 157.6 L263.6 158.1 L264.1 158.4 L264.6 158.8 L265.1 159.3 L265.6 159.7 L266.1 160.2 L266.6 160.8 L267.1 161.3 L267.6 161.7 L268.1 162.3 L268.6 162.9 L269.1 163.4 L269.6 163.8 L270.1 164.4 L270.6 165 L271.1 165.6 L271.6 166.1 L272.1 166.7 L272.6 167.3 L273.1 167.8 L273.6 168.5 L274.1 169.2 L274.6 170 L275.1 170.9 L275.6 171.7 L276.1 172.5 L276.6 173.2 L277.1 174.1 L277.6 174.9 L278.1 174.9 L278.6 173.9 L279.1 172.4 L279.6 171 L280.1 169 L280.6 167.2 L281.1 165.8 L281.6 164.7 L282.1 163.6 L282.6 162.6 L283.1 161.6 L283.6 160.5 L284.1 159.6 L284.6 158.7 L285.1 157.6 L285.6 156.7 L286.1 155.7 L286.6 154.7 L287.1 153.8 L287.6 152.8 L288.1 152 L288.6 151.1 L289.1 150.3 L289.6 149.5 L290.1 148.9 L290.6 148.2 L291.1 147.4 L291.6 146.8 L292.1 146.3 L292.6 145.5 L293.1 144.7 L293.6 144.1 L294.1 143.4 L294.6 142.7 L295.1 142.1 L295.6 141.5 L296.1 140.9 L296.6 140.3 L297.1 139.9 L297.6 139.5 L298.1 138.9 L298.6 138.2 L299.1 137.7 L299.6 137.4 L300.1 137 L300.6 136.6 L301.1 136.5 L301.2 136.4 L301.7 137.4 L302.2 138.3 L302.7 139.3 L303.2 140.2 L303.7 140.9 L304.2 141.5 L304.7 142.2 L305.2 142.7 L305.7 143.2 L306.2 144 L306.7 144.6 L307.2 144.9 L307.7 145.3 L308.2 145.8 L308.7 146 L309.2 146.4 L309.7 146.9 L310.2 147.2 L310.7 147.3 L311.2 147.5 L311.7 147.8 L312.2 148 L312.7 148.3 L313.2 148.4 L313.7 148.6 L314.2 148.8 L314.7 148.9 L315.2 149 L315.7 149.3 L316.2 149.4 L316.7 149.5 L317.2 149.6 L317.7 149.6 L318.2 149.7 L318.7 149.9 L319.2 150 L319.7 149.9 L320.2 149.9 L320.7 150 L321.2 150.2 L321.7 150.3 L322.2 150.3 L322.7 150.4 L323.2 150.4 L323.7 150.4 L324.2 150.4 L324.7 150.5 L325.2 150.6 L325.7 150.7 L326.2 150.7 L326.7 150.7 L327.2 150.8 L327.7 151 L328.2 151 L328.7 151 L329.2 151.1 L329.7 151.2 L330.2 151.2 L330.7 151.2 L331.2 151.4 L331.7 151.4 L332.2 151.3 L332.7 151.3 L333.2 151.3 L333.7 151.3 L334.2 151.3 L334.7 151.3 L335.2 151.4 L335.7 151.6 L336.2 151.7 L336.7 151.7 L337.2 151.6 L337.7 151.6 L338.2 151.6 L338.7 151.6 L339.2 151.7 L339.7 151.7 L340.2 151.8 L340.7 151.8 L341.2 151.8 L341.7 151.9 L342.2 151.9 L342.7 151.9 L343.2 151.8 L343.7 152 L344.2 152.1 L344.7 152.2 L345.2 152.1 L345.7 151.9 L346.2 151.9 L346.7 151.9 L347.2 152 L347.7 152 L348.2 152.1 L348.7 152.2 L349.2 152.3 L349.7 152.2 L350.2 152.1 L350.7 152.1 L351.2 152.2 L351.7 152.3 L352.2 152.5 L352.7 152.5 L353.2 152.4 L353.7 152.3 L354.2 152.3 L354.7 152.3 L355.2 152.3 L355.7 152.4 L356.2 152.6 L356.7 152.9 L357.2 153.3 L357.7 153.5 L358.2 153.1 L358.7 152.7 L359.2 152.5 L359.7 152.4 L360.2 152.3 L360.7 152.4 L361.2 152.6 L361.7 152.8 L362.2 152.7 L362.7 152.6 L363.2 152.6 L363.7 152.6 L364.2 152.6 L364.7 152.6 L365.2 152.7 L365.7 152.7 L366.2 152.7 L366.7 152.8 L367.2 152.8 L367.7 152.7 L368.2 152.6 L368.7 152.7 L369.2 152.8 L369.7 152.9 L370.2 152.9 L370.7 153 L371.2 152.8 L371.7 152.7 L372.2 152.8 L372.7 152.8 L373.2 152.8 L373.7 152.9 L374.2 152.9 L374.7 152.9 L375.2 152.9 L375.7 152.9 L376.2 152.9 L376.7 152.9 L377.2 153 L377.7 153 L378.2 153 L378.7 153 L379.2 153.1 L379.7 153.1 L380.2 153.1 L380.7 153.2 L381.2 153.1 L381.7 153.1 L382.2 153 L382.7 152.9 L383.2 152.8 L383.7 153 L384.2 153.1 L384.7 153.1 L385.2 153.1 L385.7 153.2 L386.2 153.3 L386.7 153.3 L387.2 153.2 L387.7 153.2 L388.2 153.2 L388.7 153.3 L389.2 153.4" fill="none" stroke="#1414ff" stroke-width="1.25"/>
<path d="M18.5 262.6 L19 262.6 L19.5 262.5 L20 262.5 L20.5 262.4 L21 262.4 L21.5 262.4 L22 262.3 L22.5 262.3 L23 262.2 L23.5 262.2 L24 262.1 L24.5 262.1 L25 262 L25.5 262 L26 261.9 L26.5 261.8 L27 261.8 L27.5 261.7 L28 261.7 L28.5 261.6 L29 261.5 L29.5 261.4 L30 261.4 L30.5 261.3 L31 261.2 L31.5 261.1 L32 261.1 L32.5 261 L33 260.9 L33.5 260.8 L34 260.7 L34.5 260.6 L35 260.5 L35.5 260.4 L36 260.3 L36.5 260.2 L37 260.1 L37.5 260 L38 259.9 L38.5 259.7 L39 259.6 L39.5 259.5 L40 259.3 L40.5 259.2 L41 259 L41.5 258.9 L42 258.7 L42.5 258.5 L43 258.4 L43.5 258.2 L44 258 L44.5 257.8 L45 257.6 L45.5 257.4 L46 257.2 L46.5 256.9 L47 256.7 L47.5 256.5 L48 256.2 L48.5 255.9 L49 255.6 L49.5 255.4 L50 255 L50.5 254.7 L51 254.4 L51.5 254.1 L52 253.7 L52.5 253.3 L53 252.9 L53.5 252.5 L54 252.1 L54.5 251.7 L55 251.2 L55.5 250.7 L56 250.2 L56.5 249.7 L57 249.2 L57.5 248.6 L58 248 L58.5 247.4 L59 246.8 L59.5 246.2 L60 245.5 L60.5 244.8 L61 244.1 L61.5 243.4 L62 242.7 L62.5 241.9 L63 241.1 L63.5 240.4 L64 239.6 L64.5 238.8 L65 238.1 L65.5 237.3 L66 236.6 L66.5 235.8 L67 235.1 L67.5 234.5 L68 233.8 L68.5 233.3 L69 232.7 L69.5 232.3 L70 231.9 L70.5 231.5 L71 231.3 L71.5 231.1 L72 231 L72.5 231 L73 231.1 L73.5 231.2 L74 231.5 L74.5 231.8 L75 232.2 L75.5 232.6 L76 233.1 L76.5 233.7 L77 234.3 L77.5 235 L78 235.7 L78.5 236.4 L79 237.2 L79.5 237.9 L80 238.7 L80.5 239.5 L81 240.2 L81.5 241 L82 241.8 L82.5 242.5 L83 243.2 L83.5 244 L84 244.7 L84.5 245.4 L85 246 L85.5 246.7 L86 247.3 L86.5 247.9 L87 248.5 L87.5 249 L88 249.6 L88.5 250.1 L89 250.6 L89.5 251.1 L90 251.6 L90.5 252 L91 252.4 L91.5 252.8 L92 253.2 L92.5 253.6 L93 254 L93.5 254.3 L94 254.7 L94.5 255 L95 255.3 L95.5 255.6 L96 255.9 L96.5 256.1 L97 256.4 L97.5 256.7 L98 256.9 L98.5 257.1 L99 257.3 L99.5 257.6 L100 257.8 L100.5 258 L101 258.2 L101.5 258.3 L102 258.5 L102.5 258.7 L103 258.8 L103.5 259 L104 259.2 L104.5 259.3 L105 259.4 L105.5 259.6 L106 259.7 L106.5 259.8 L107 260 L107.5 260.1 L108 260.2 L108.5 260.3 L109 260.4 L109.5 260.5 L110 260.6 L110.5 260.7 L111 260.8 L111.5 260.9 L112 261 L112.5 261.1 L113 261.1 L113.5 261.2 L114 261.3 L114.5 261.4 L115 261.4 L115.5 261.5 L116 261.6 L116.5 261.6 L117 261.7 L117.5 261.8 L118 261.8 L118.5 261.9 L119 261.9 L119.5 262 L120 262 L120.5 262.1 L121 262.2 L121.5 262.2 L122 262.3 L122.5 262.3 L123 262.3 L123.5 262.4 L124 262.4 L124.5 262.5 L125 262.5 L125.5 262.6 L126 262.6 L126.5 262.6 L127 262.7 L127.5 262.7 L128 262.7 L128.5 262.8 L129 262.8 L129.5 262.8 L130 262.9 L130.5 262.9 L131 262.9 L131.5 263 L132 263 L132.5 263 L133 263 L133.5 263.1 L134 263.1 L134.5 263.1 L135 263.2 L135.5 263.2 L136 263.2 L136.5 263.2 L137 263.2 L137.5 263.3 L138 263.3 L138.5 263.3 L139 263.3 L139.5 263.4 L140 263.4 L140.5 263.4 L141 263.4 L141.5 263.4 L142 263.5 L142.5 263.5 L143 263.5 L143.5 263.5 L144 263.5 L144.5 263.5 L145 263.6 L145.5 263.6 L146 263.6 L146.5 263.6 L147 263.6 L147.5 263.6 L148 263.7 L148.5 263.7 L149 263.7 L149.5 263.7 L150 263.7 L150.5 263.7 L151 263.7 L151.5 263.7 L152 263.8 L152.5 263.8 L153 263.8 L153.5 263.8 L154 263.8 L154.5 263.8 L155 263.8 L155.5 263.8 L156 263.9 L156.5 263.9 L157 263.9 L157.5 263.9 L158 263.9 L158.5 263.9 L159 263.9 L159.5 263.9 L160 263.9 L160.5 263.9 L161 264 L161.5 264 L162 264 L162.5 264 L163 264 L163.5 264 L164 264 L164.5 264 L165 264 L165.5 264 L166 264 L166.5 264.1 L167 264.1 L167.5 264.1 L168 264.1 L168.5 264.1 L169 264.1 L169.5 264.1 L170 264.1 L170.5 264.1 L171 264.1 L171.5 264.1 L172 264.1 L172.5 264.1 L173 264.1 L173.5 264.1 L174 264.2 L174.5 264.2 L175 264.2 L175.5 264.2 L176 264.2 L176.5 264.2 L177 264.2 L177.5 264.2 L178 264.2 L178.5 264.2 L179 264.2 L179.5 264.2 L180 264.2 L180.5 264.2 L181 264.2 L181.5 264.2 L182 264.2 L182.5 264.2 L183 264.3" fill="none" stroke="#111" stroke-width="1.3"/>
<path d="M18.5 279.9 L19 279.8 L19.5 279.8 L20 279.7 L20.5 279.7 L21 279.7 L21.5 279.6 L22 279.6 L22.5 279.5 L23 279.5 L23.5 279.5 L24 279.4 L24.5 279.4 L25 279.3 L25.5 279.3 L26 279.2 L26.5 279.2 L27 279.1 L27.5 279 L28 279 L28.5 278.9 L29 278.9 L29.5 278.8 L30 278.7 L30.5 278.7 L31 278.6 L31.5 278.5 L32 278.4 L32.5 278.4 L33 278.3 L33.5 278.2 L34 278.1 L34.5 278 L35 278 L35.5 277.9 L36 277.8 L36.5 277.7 L37 277.6 L37.5 277.5 L38 277.3 L38.5 277.2 L39 277.1 L39.5 277 L40 276.9 L40.5 276.7 L41 276.6 L41.5 276.4 L42 276.3 L42.5 276.1 L43 276 L43.5 275.8 L44 275.6 L44.5 275.5 L45 275.3 L45.5 275.1 L46 274.9 L46.5 274.7 L47 274.5 L47.5 274.2 L48 274 L48.5 273.7 L49 273.5 L49.5 273.2 L50 272.9 L50.5 272.7 L51 272.4 L51.5 272 L52 271.7 L52.5 271.4 L53 271 L53.5 270.6 L54 270.2 L54.5 269.8 L55 269.4 L55.5 269 L56 268.5 L56.5 268.1 L57 267.6 L57.5 267 L58 266.5 L58.5 266 L59 265.4 L59.5 264.8 L60 264.2 L60.5 263.6 L61 262.9 L61.5 262.3 L62 261.6 L62.5 260.9 L63 260.2 L63.5 259.5 L64 258.8 L64.5 258.1 L65 257.4 L65.5 256.7 L66 256 L66.5 255.4 L67 254.7 L67.5 254.1 L68 253.5 L68.5 253 L69 252.5 L69.5 252.1 L70 251.7 L70.5 251.4 L71 251.2 L71.5 251 L72 251 L72.5 251 L73 251 L73.5 251.2 L74 251.4 L74.5 251.7 L75 252 L75.5 252.4 L76 252.9 L76.5 253.4 L77 254 L77.5 254.6 L78 255.2 L78.5 255.9 L79 256.6 L79.5 257.3 L80 258 L80.5 258.7 L81 259.4 L81.5 260.1 L82 260.8 L82.5 261.5 L83 262.1 L83.5 262.8 L84 263.5 L84.5 264.1 L85 264.7 L85.5 265.3 L86 265.9 L86.5 266.4 L87 266.9 L87.5 267.5 L88 268 L88.5 268.4 L89 268.9 L89.5 269.3 L90 269.8 L90.5 270.2 L91 270.6 L91.5 270.9 L92 271.3 L92.5 271.6 L93 272 L93.5 272.3 L94 272.6 L94.5 272.9 L95 273.2 L95.5 273.4 L96 273.7 L96.5 273.9 L97 274.2 L97.5 274.4 L98 274.6 L98.5 274.8 L99 275 L99.5 275.2 L100 275.4 L100.5 275.6 L101 275.8 L101.5 276 L102 276.1 L102.5 276.3 L103 276.4 L103.5 276.6 L104 276.7 L104.5 276.8 L105 277 L105.5 277.1 L106 277.2 L106.5 277.3 L107 277.4 L107.5 277.5 L108 277.6 L108.5 277.7 L109 277.8 L109.5 277.9 L110 278 L110.5 278.1 L111 278.2 L111.5 278.3 L112 278.4 L112.5 278.4 L113 278.5 L113.5 278.6 L114 278.7 L114.5 278.7 L115 278.8 L115.5 278.8 L116 278.9 L116.5 279 L117 279 L117.5 279.1 L118 279.1 L118.5 279.2 L119 279.2 L119.5 279.3 L120 279.3 L120.5 279.4 L121 279.4 L121.5 279.5 L122 279.5 L122.5 279.6 L123 279.6 L123.5 279.7 L124 279.7 L124.5 279.7 L125 279.8 L125.5 279.8 L126 279.8 L126.5 279.9 L127 279.9 L127.5 279.9 L128 280 L128.5 280 L129 280 L129.5 280.1 L130 280.1 L130.5 280.1 L131 280.2 L131.5 280.2 L132 280.2 L132.5 280.2 L133 280.3 L133.5 280.3 L134 280.3 L134.5 280.3 L135 280.4 L135.5 280.4 L136 280.4 L136.5 280.4 L137 280.4 L137.5 280.5 L138 280.5 L138.5 280.5 L139 280.5 L139.5 280.5 L140 280.6 L140.5 280.6 L141 280.6 L141.5 280.6 L142 280.6 L142.5 280.6 L143 280.7 L143.5 280.7 L144 280.7 L144.5 280.7 L145 280.7 L145.5 280.7 L146 280.8 L146.5 280.8 L147 280.8 L147.5 280.8 L148 280.8 L148.5 280.8 L149 280.8 L149.5 280.9 L150 280.9 L150.5 280.9 L151 280.9 L151.5 280.9 L152 280.9 L152.5 280.9 L153 280.9 L153.5 280.9 L154 281 L154.5 281 L155 281 L155.5 281 L156 281 L156.5 281 L157 281 L157.5 281 L158 281 L158.5 281 L159 281.1 L159.5 281.1 L160 281.1 L160.5 281.1 L161 281.1 L161.5 281.1 L162 281.1 L162.5 281.1 L163 281.1 L163.5 281.1 L164 281.1 L164.5 281.1 L165 281.2 L165.5 281.2 L166 281.2 L166.5 281.2 L167 281.2 L167.5 281.2 L168 281.2 L168.5 281.2 L169 281.2 L169.5 281.2 L170 281.2 L170.5 281.2 L171 281.2 L171.5 281.2 L172 281.2 L172.5 281.3 L173 281.3 L173.5 281.3 L174 281.3 L174.5 281.3 L175 281.3 L175.5 281.3 L176 281.3 L176.5 281.3 L177 281.3 L177.5 281.3 L178 281.3 L178.5 281.3 L179 281.3 L179.5 281.3 L180 281.3 L180.5 281.3 L181 281.3 L181.5 281.3 L182 281.4 L182.5 281.4 L183 281.4" fill="none" stroke="#111" stroke-width="1.3"/>
<path d="M18.5 297.1 L19 297.1 L19.5 297 L20 297 L20.5 297 L21 296.9 L21.5 296.9 L22 296.8 L22.5 296.8 L23 296.7 L23.5 296.7 L24 296.7 L24.5 296.6 L25 296.6 L25.5 296.5 L26 296.5 L26.5 296.4 L27 296.4 L27.5 296.3 L28 296.2 L28.5 296.2 L29 296.1 L29.5 296.1 L30 296 L30.5 295.9 L31 295.8 L31.5 295.8 L32 295.7 L32.5 295.6 L33 295.5 L33.5 295.5 L34 295.4 L34.5 295.3 L35 295.2 L35.5 295.1 L36 295 L36.5 294.9 L37 294.8 L37.5 294.7 L38 294.6 L38.5 294.5 L39 294.4 L39.5 294.2 L40 294.1 L40.5 294 L41 293.8 L41.5 293.7 L42 293.6 L42.5 293.4 L43 293.2 L43.5 293.1 L44 292.9 L44.5 292.7 L45 292.5 L45.5 292.4 L46 292.2 L46.5 291.9 L47 291.7 L47.5 291.5 L48 291.3 L48.5 291 L49 290.8 L49.5 290.5 L50 290.2 L50.5 289.9 L51 289.6 L51.5 289.3 L52 289 L52.5 288.6 L53 288.3 L53.5 287.9 L54 287.5 L54.5 287.1 L55 286.7 L55.5 286.3 L56 285.8 L56.5 285.3 L57 284.9 L57.5 284.3 L58 283.8 L58.5 283.3 L59 282.7 L59.5 282.1 L60 281.5 L60.5 280.9 L61 280.2 L61.5 279.6 L62 278.9 L62.5 278.2 L63 277.5 L63.5 276.8 L64 276.1 L64.5 275.4 L65 274.7 L65.5 274 L66 273.4 L66.5 272.7 L67 272.1 L67.5 271.5 L68 270.9 L68.5 270.4 L69 269.9 L69.5 269.5 L70 269.1 L70.5 268.8 L71 268.6 L71.5 268.4 L72 268.3 L72.5 268.3 L73 268.4 L73.5 268.5 L74 268.7 L74.5 269 L75 269.4 L75.5 269.8 L76 270.3 L76.5 270.8 L77 271.3 L77.5 271.9 L78 272.6 L78.5 273.2 L79 273.9 L79.5 274.6 L80 275.3 L80.5 276 L81 276.7 L81.5 277.4 L82 278.1 L82.5 278.8 L83 279.5 L83.5 280.1 L84 280.8 L84.5 281.4 L85 282 L85.5 282.6 L86 283.2 L86.5 283.7 L87 284.2 L87.5 284.7 L88 285.2 L88.5 285.7 L89 286.2 L89.5 286.6 L90 287 L90.5 287.4 L91 287.8 L91.5 288.2 L92 288.6 L92.5 288.9 L93 289.2 L93.5 289.6 L94 289.9 L94.5 290.2 L95 290.4 L95.5 290.7 L96 291 L96.5 291.2 L97 291.5 L97.5 291.7 L98 291.9 L98.5 292.1 L99 292.3 L99.5 292.5 L100 292.7 L100.5 292.9 L101 293 L101.5 293.2 L102 293.4 L102.5 293.5 L103 293.7 L103.5 293.8 L104 294 L104.5 294.1 L105 294.2 L105.5 294.3 L106 294.5 L106.5 294.6 L107 294.7 L107.5 294.8 L108 294.9 L108.5 295 L109 295.1 L109.5 295.2 L110 295.3 L110.5 295.4 L111 295.5 L111.5 295.5 L112 295.6 L112.5 295.7 L113 295.8 L113.5 295.8 L114 295.9 L114.5 296 L115 296 L115.5 296.1 L116 296.2 L116.5 296.2 L117 296.3 L117.5 296.3 L118 296.4 L118.5 296.4 L119 296.5 L119.5 296.5 L120 296.6 L120.5 296.6 L121 296.7 L121.5 296.7 L122 296.8 L122.5 296.8 L123 296.9 L123.5 296.9 L124 296.9 L124.5 297 L125 297 L125.5 297.1 L126 297.1 L126.5 297.1 L127 297.2 L127.5 297.2 L128 297.2 L128.5 297.3 L129 297.3 L129.5 297.3 L130 297.3 L130.5 297.4 L131 297.4 L131.5 297.4 L132 297.5 L132.5 297.5 L133 297.5 L133.5 297.5 L134 297.6 L134.5 297.6 L135 297.6 L135.5 297.6 L136 297.6 L136.5 297.7 L137 297.7 L137.5 297.7 L138 297.7 L138.5 297.8 L139 297.8 L139.5 297.8 L140 297.8 L140.5 297.8 L141 297.8 L141.5 297.9 L142 297.9 L142.5 297.9 L143 297.9 L143.5 297.9 L144 297.9 L144.5 298 L145 298 L145.5 298 L146 298 L146.5 298 L147 298 L147.5 298 L148 298.1 L148.5 298.1 L149 298.1 L149.5 298.1 L150 298.1 L150.5 298.1 L151 298.1 L151.5 298.1 L152 298.2 L152.5 298.2 L153 298.2 L153.5 298.2 L154 298.2 L154.5 298.2 L155 298.2 L155.5 298.2 L156 298.2 L156.5 298.3 L157 298.3 L157.5 298.3 L158 298.3 L158.5 298.3 L159 298.3 L159.5 298.3 L160 298.3 L160.5 298.3 L161 298.3 L161.5 298.3 L162 298.4 L162.5 298.4 L163 298.4 L163.5 298.4 L164 298.4 L164.5 298.4 L165 298.4 L165.5 298.4 L166 298.4 L166.5 298.4 L167 298.4 L167.5 298.4 L168 298.4 L168.5 298.4 L169 298.5 L169.5 298.5 L170 298.5 L170.5 298.5 L171 298.5 L171.5 298.5 L172 298.5 L172.5 298.5 L173 298.5 L173.5 298.5 L174 298.5 L174.5 298.5 L175 298.5 L175.5 298.5 L176 298.5 L176.5 298.5 L177 298.5 L177.5 298.6 L178 298.6 L178.5 298.6 L179 298.6 L179.5 298.6 L180 298.6 L180.5 298.6 L181 298.6 L181.5 298.6 L182 298.6 L182.5 298.6 L183 298.6" fill="none" stroke="#111" stroke-width="1.3"/>
<path d="M18.5 314.4 L19 314.3 L19.5 314.3 L20 314.2 L20.5 314.2 L21 314.2 L21.5 314.1 L22 314.1 L22.5 314 L23 314 L23.5 313.9 L24 313.9 L24.5 313.9 L25 313.8 L25.5 313.8 L26 313.7 L26.5 313.6 L27 313.6 L27.5 313.5 L28 313.5 L28.5 313.4 L29 313.4 L29.5 313.3 L30 313.2 L30.5 313.2 L31 313.1 L31.5 313 L32 312.9 L32.5 312.9 L33 312.8 L33.5 312.7 L34 312.6 L34.5 312.5 L35 312.4 L35.5 312.3 L36 312.2 L36.5 312.1 L37 312 L37.5 311.9 L38 311.8 L38.5 311.7 L39 311.6 L39.5 311.5 L40 311.3 L40.5 311.2 L41 311.1 L41.5 310.9 L42 310.8 L42.5 310.6 L43 310.4 L43.5 310.3 L44 310.1 L44.5 309.9 L45 309.7 L45.5 309.5 L46 309.3 L46.5 309.1 L47 308.9 L47.5 308.7 L48 308.4 L48.5 308.2 L49 307.9 L49.5 307.7 L50 307.4 L50.5 307.1 L51 306.8 L51.5 306.5 L52 306.1 L52.5 305.8 L53 305.4 L53.5 305 L54 304.6 L54.5 304.2 L55 303.8 L55.5 303.4 L56 302.9 L56.5 302.4 L57 301.9 L57.5 301.4 L58 300.9 L58.5 300.3 L59 299.7 L59.5 299.2 L60 298.5 L60.5 297.9 L61 297.3 L61.5 296.6 L62 295.9 L62.5 295.2 L63 294.5 L63.5 293.8 L64 293.1 L64.5 292.4 L65 291.7 L65.5 291 L66 290.3 L66.5 289.6 L67 289 L67.5 288.4 L68 287.8 L68.5 287.2 L69 286.8 L69.5 286.3 L70 285.9 L70.5 285.6 L71 285.4 L71.5 285.2 L72 285.2 L72.5 285.2 L73 285.2 L73.5 285.4 L74 285.6 L74.5 285.9 L75 286.2 L75.5 286.7 L76 287.1 L76.5 287.7 L77 288.2 L77.5 288.8 L78 289.5 L78.5 290.2 L79 290.8 L79.5 291.5 L80 292.2 L80.5 293 L81 293.7 L81.5 294.4 L82 295.1 L82.5 295.8 L83 296.5 L83.5 297.1 L84 297.8 L84.5 298.4 L85 299 L85.5 299.6 L86 300.2 L86.5 300.8 L87 301.3 L87.5 301.8 L88 302.3 L88.5 302.8 L89 303.3 L89.5 303.7 L90 304.2 L90.5 304.6 L91 305 L91.5 305.3 L92 305.7 L92.5 306.1 L93 306.4 L93.5 306.7 L94 307 L94.5 307.3 L95 307.6 L95.5 307.9 L96 308.1 L96.5 308.4 L97 308.6 L97.5 308.9 L98 309.1 L98.5 309.3 L99 309.5 L99.5 309.7 L100 309.9 L100.5 310.1 L101 310.2 L101.5 310.4 L102 310.6 L102.5 310.7 L103 310.9 L103.5 311 L104 311.2 L104.5 311.3 L105 311.4 L105.5 311.6 L106 311.7 L106.5 311.8 L107 311.9 L107.5 312 L108 312.1 L108.5 312.2 L109 312.3 L109.5 312.4 L110 312.5 L110.5 312.6 L111 312.7 L111.5 312.8 L112 312.8 L112.5 312.9 L113 313 L113.5 313.1 L114 313.1 L114.5 313.2 L115 313.3 L115.5 313.3 L116 313.4 L116.5 313.5 L117 313.5 L117.5 313.6 L118 313.6 L118.5 313.7 L119 313.7 L119.5 313.8 L120 313.8 L120.5 313.9 L121 313.9 L121.5 314 L122 314 L122.5 314.1 L123 314.1 L123.5 314.2 L124 314.2 L124.5 314.2 L125 314.3 L125.5 314.3 L126 314.3 L126.5 314.4 L127 314.4 L127.5 314.4 L128 314.5 L128.5 314.5 L129 314.5 L129.5 314.6 L130 314.6 L130.5 314.6 L131 314.7 L131.5 314.7 L132 314.7 L132.5 314.7 L133 314.8 L133.5 314.8 L134 314.8 L134.5 314.8 L135 314.9 L135.5 314.9 L136 314.9 L136.5 314.9 L137 314.9 L137.5 315 L138 315 L138.5 315 L139 315 L139.5 315 L140 315.1 L140.5 315.1 L141 315.1 L141.5 315.1 L142 315.1 L142.5 315.2 L143 315.2 L143.5 315.2 L144 315.2 L144.5 315.2 L145 315.2 L145.5 315.3 L146 315.3 L146.5 315.3 L147 315.3 L147.5 315.3 L148 315.3 L148.5 315.3 L149 315.3 L149.5 315.4 L150 315.4 L150.5 315.4 L151 315.4 L151.5 315.4 L152 315.4 L152.5 315.4 L153 315.4 L153.5 315.5 L154 315.5 L154.5 315.5 L155 315.5 L155.5 315.5 L156 315.5 L156.5 315.5 L157 315.5 L157.5 315.5 L158 315.5 L158.5 315.6 L159 315.6 L159.5 315.6 L160 315.6 L160.5 315.6 L161 315.6 L161.5 315.6 L162 315.6 L162.5 315.6 L163 315.6 L163.5 315.6 L164 315.7 L164.5 315.7 L165 315.7 L165.5 315.7 L166 315.7 L166.5 315.7 L167 315.7 L167.5 315.7 L168 315.7 L168.5 315.7 L169 315.7 L169.5 315.7 L170 315.7 L170.5 315.7 L171 315.8 L171.5 315.8 L172 315.8 L172.5 315.8 L173 315.8 L173.5 315.8 L174 315.8 L174.5 315.8 L175 315.8 L175.5 315.8 L176 315.8 L176.5 315.8 L177 315.8 L177.5 315.8 L178 315.8 L178.5 315.8 L179 315.8 L179.5 315.8 L180 315.9 L180.5 315.9 L181 315.9 L181.5 315.9 L182 315.9 L182.5 315.9 L183 315.9" fill="none" stroke="#111" stroke-width="1.3"/>
<path d="M18.5 331.6 L19 331.6 L19.5 331.5 L20 331.5 L20.5 331.5 L21 331.4 L21.5 331.4 L22 331.3 L22.5 331.3 L23 331.2 L23.5 331.2 L24 331.2 L24.5 331.1 L25 331.1 L25.5 331 L26 331 L26.5 330.9 L27 330.8 L27.5 330.8 L28 330.7 L28.5 330.7 L29 330.6 L29.5 330.5 L30 330.5 L30.5 330.4 L31 330.3 L31.5 330.3 L32 330.2 L32.5 330.1 L33 330 L33.5 330 L34 329.9 L34.5 329.8 L35 329.7 L35.5 329.6 L36 329.5 L36.5 329.4 L37 329.3 L37.5 329.2 L38 329.1 L38.5 329 L39 328.8 L39.5 328.7 L40 328.6 L40.5 328.5 L41 328.3 L41.5 328.2 L42 328 L42.5 327.9 L43 327.7 L43.5 327.5 L44 327.4 L44.5 327.2 L45 327 L45.5 326.8 L46 326.6 L46.5 326.4 L47 326.2 L47.5 325.9 L48 325.7 L48.5 325.5 L49 325.2 L49.5 324.9 L50 324.6 L50.5 324.4 L51 324 L51.5 323.7 L52 323.4 L52.5 323.1 L53 322.7 L53.5 322.3 L54 321.9 L54.5 321.5 L55 321.1 L55.5 320.7 L56 320.2 L56.5 319.7 L57 319.2 L57.5 318.7 L58 318.2 L58.5 317.6 L59 317 L59.5 316.5 L60 315.8 L60.5 315.2 L61 314.6 L61.5 313.9 L62 313.2 L62.5 312.5 L63 311.8 L63.5 311.1 L64 310.4 L64.5 309.7 L65 309 L65.5 308.3 L66 307.6 L66.5 307 L67 306.3 L67.5 305.7 L68 305.1 L68.5 304.6 L69 304.1 L69.5 303.7 L70 303.3 L70.5 303 L71 302.8 L71.5 302.6 L72 302.5 L72.5 302.5 L73 302.6 L73.5 302.7 L74 302.9 L74.5 303.2 L75 303.6 L75.5 304 L76 304.5 L76.5 305 L77 305.6 L77.5 306.2 L78 306.8 L78.5 307.5 L79 308.2 L79.5 308.9 L80 309.6 L80.5 310.3 L81 311 L81.5 311.7 L82 312.4 L82.5 313.1 L83 313.8 L83.5 314.4 L84 315.1 L84.5 315.7 L85 316.3 L85.5 316.9 L86 317.5 L86.5 318.1 L87 318.6 L87.5 319.1 L88 319.6 L88.5 320.1 L89 320.6 L89.5 321 L90 321.4 L90.5 321.8 L91 322.2 L91.5 322.6 L92 323 L92.5 323.3 L93 323.7 L93.5 324 L94 324.3 L94.5 324.6 L95 324.9 L95.5 325.1 L96 325.4 L96.5 325.7 L97 325.9 L97.5 326.1 L98 326.3 L98.5 326.6 L99 326.8 L99.5 327 L100 327.1 L100.5 327.3 L101 327.5 L101.5 327.7 L102 327.8 L102.5 328 L103 328.1 L103.5 328.3 L104 328.4 L104.5 328.6 L105 328.7 L105.5 328.8 L106 328.9 L106.5 329.1 L107 329.2 L107.5 329.3 L108 329.4 L108.5 329.5 L109 329.6 L109.5 329.7 L110 329.8 L110.5 329.8 L111 329.9 L111.5 330 L112 330.1 L112.5 330.2 L113 330.2 L113.5 330.3 L114 330.4 L114.5 330.5 L115 330.5 L115.5 330.6 L116 330.7 L116.5 330.7 L117 330.8 L117.5 330.8 L118 330.9 L118.5 330.9 L119 331 L119.5 331 L120 331.1 L120.5 331.1 L121 331.2 L121.5 331.2 L122 331.3 L122.5 331.3 L123 331.4 L123.5 331.4 L124 331.4 L124.5 331.5 L125 331.5 L125.5 331.6 L126 331.6 L126.5 331.6 L127 331.7 L127.5 331.7 L128 331.7 L128.5 331.8 L129 331.8 L129.5 331.8 L130 331.8 L130.5 331.9 L131 331.9 L131.5 331.9 L132 332 L132.5 332 L133 332 L133.5 332 L134 332.1 L134.5 332.1 L135 332.1 L135.5 332.1 L136 332.2 L136.5 332.2 L137 332.2 L137.5 332.2 L138 332.2 L138.5 332.3 L139 332.3 L139.5 332.3 L140 332.3 L140.5 332.3 L141 332.4 L141.5 332.4 L142 332.4 L142.5 332.4 L143 332.4 L143.5 332.4 L144 332.5 L144.5 332.5 L145 332.5 L145.5 332.5 L146 332.5 L146.5 332.5 L147 332.5 L147.5 332.6 L148 332.6 L148.5 332.6 L149 332.6 L149.5 332.6 L150 332.6 L150.5 332.6 L151 332.6 L151.5 332.7 L152 332.7 L152.5 332.7 L153 332.7 L153.5 332.7 L154 332.7 L154.5 332.7 L155 332.7 L155.5 332.7 L156 332.8 L156.5 332.8 L157 332.8 L157.5 332.8 L158 332.8 L158.5 332.8 L159 332.8 L159.5 332.8 L160 332.8 L160.5 332.8 L161 332.8 L161.5 332.9 L162 332.9 L162.5 332.9 L163 332.9 L163.5 332.9 L164 332.9 L164.5 332.9 L165 332.9 L165.5 332.9 L166 332.9 L166.5 332.9 L167 332.9 L167.5 332.9 L168 333 L168.5 333 L169 333 L169.5 333 L170 333 L170.5 333 L171 333 L171.5 333 L172 333 L172.5 333 L173 333 L173.5 333 L174 333 L174.5 333 L175 333 L175.5 333 L176 333.1 L176.5 333.1 L177 333.1 L177.5 333.1 L178 333.1 L178.5 333.1 L179 333.1 L179.5 333.1 L180 333.1 L180.5 333.1 L181 333.1 L181.5 333.1 L182 333.1 L182.5 333.1 L183 333.1" fill="none" stroke="#111" stroke-width="1.3"/>
<path d="M18.5 348.9 L19 348.8 L19.5 348.8 L20 348.7 L20.5 348.7 L21 348.7 L21.5 348.6 L22 348.6 L22.5 348.5 L23 348.5 L23.5 348.4 L24 348.4 L24.5 348.3 L25 348.3 L25.5 348.2 L26 348.2 L26.5 348.1 L27 348.1 L27.5 348 L28 347.9 L28.5 347.9 L29 347.8 L29.5 347.7 L30 347.7 L30.5 347.6 L31 347.5 L31.5 347.5 L32 347.4 L32.5 347.3 L33 347.2 L33.5 347.1 L34 347 L34.5 346.9 L35 346.9 L35.5 346.8 L36 346.7 L36.5 346.5 L37 346.4 L37.5 346.3 L38 346.2 L38.5 346.1 L39 346 L39.5 345.8 L40 345.7 L40.5 345.6 L41 345.4 L41.5 345.3 L42 345.1 L42.5 345 L43 344.8 L43.5 344.6 L44 344.4 L44.5 344.2 L45 344 L45.5 343.8 L46 343.6 L46.5 343.4 L47 343.2 L47.5 342.9 L48 342.7 L48.5 342.4 L49 342.2 L49.5 341.9 L50 341.6 L50.5 341.3 L51 341 L51.5 340.6 L52 340.3 L52.5 339.9 L53 339.5 L53.5 339.2 L54 338.7 L54.5 338.3 L55 337.9 L55.5 337.4 L56 336.9 L56.5 336.4 L57 335.9 L57.5 335.4 L58 334.8 L58.5 334.2 L59 333.6 L59.5 333 L60 332.4 L60.5 331.7 L61 331.1 L61.5 330.4 L62 329.7 L62.5 328.9 L63 328.2 L63.5 327.5 L64 326.7 L64.5 326 L65 325.2 L65.5 324.5 L66 323.8 L66.5 323.1 L67 322.4 L67.5 321.8 L68 321.2 L68.5 320.6 L69 320.1 L69.5 319.7 L70 319.3 L70.5 319 L71 318.7 L71.5 318.6 L72 318.5 L72.5 318.5 L73 318.5 L73.5 318.7 L74 318.9 L74.5 319.2 L75 319.6 L75.5 320 L76 320.5 L76.5 321.1 L77 321.7 L77.5 322.3 L78 323 L78.5 323.7 L79 324.4 L79.5 325.1 L80 325.8 L80.5 326.6 L81 327.3 L81.5 328.1 L82 328.8 L82.5 329.5 L83 330.2 L83.5 330.9 L84 331.6 L84.5 332.3 L85 332.9 L85.5 333.5 L86 334.1 L86.5 334.7 L87 335.3 L87.5 335.8 L88 336.3 L88.5 336.8 L89 337.3 L89.5 337.8 L90 338.2 L90.5 338.7 L91 339.1 L91.5 339.5 L92 339.8 L92.5 340.2 L93 340.6 L93.5 340.9 L94 341.2 L94.5 341.5 L95 341.8 L95.5 342.1 L96 342.4 L96.5 342.6 L97 342.9 L97.5 343.1 L98 343.4 L98.5 343.6 L99 343.8 L99.5 344 L100 344.2 L100.5 344.4 L101 344.6 L101.5 344.7 L102 344.9 L102.5 345.1 L103 345.2 L103.5 345.4 L104 345.5 L104.5 345.7 L105 345.8 L105.5 345.9 L106 346.1 L106.5 346.2 L107 346.3 L107.5 346.4 L108 346.5 L108.5 346.6 L109 346.7 L109.5 346.8 L110 346.9 L110.5 347 L111 347.1 L111.5 347.2 L112 347.3 L112.5 347.4 L113 347.4 L113.5 347.5 L114 347.6 L114.5 347.7 L115 347.7 L115.5 347.8 L116 347.9 L116.5 347.9 L117 348 L117.5 348 L118 348.1 L118.5 348.2 L119 348.2 L119.5 348.3 L120 348.3 L120.5 348.4 L121 348.4 L121.5 348.5 L122 348.5 L122.5 348.6 L123 348.6 L123.5 348.6 L124 348.7 L124.5 348.7 L125 348.8 L125.5 348.8 L126 348.8 L126.5 348.9 L127 348.9 L127.5 348.9 L128 349 L128.5 349 L129 349 L129.5 349.1 L130 349.1 L130.5 349.1 L131 349.2 L131.5 349.2 L132 349.2 L132.5 349.3 L133 349.3 L133.5 349.3 L134 349.3 L134.5 349.4 L135 349.4 L135.5 349.4 L136 349.4 L136.5 349.5 L137 349.5 L137.5 349.5 L138 349.5 L138.5 349.5 L139 349.6 L139.5 349.6 L140 349.6 L140.5 349.6 L141 349.6 L141.5 349.7 L142 349.7 L142.5 349.7 L143 349.7 L143.5 349.7 L144 349.7 L144.5 349.8 L145 349.8 L145.5 349.8 L146 349.8 L146.5 349.8 L147 349.8 L147.5 349.8 L148 349.9 L148.5 349.9 L149 349.9 L149.5 349.9 L150 349.9 L150.5 349.9 L151 349.9 L151.5 350 L152 350 L152.5 350 L153 350 L153.5 350 L154 350 L154.5 350 L155 350 L155.5 350 L156 350.1 L156.5 350.1 L157 350.1 L157.5 350.1 L158 350.1 L158.5 350.1 L159 350.1 L159.5 350.1 L160 350.1 L160.5 350.1 L161 350.2 L161.5 350.2 L162 350.2 L162.5 350.2 L163 350.2 L163.5 350.2 L164 350.2 L164.5 350.2 L165 350.2 L165.5 350.2 L166 350.2 L166.5 350.2 L167 350.3 L167.5 350.3 L168 350.3 L168.5 350.3 L169 350.3 L169.5 350.3 L170 350.3 L170.5 350.3 L171 350.3 L171.5 350.3 L172 350.3 L172.5 350.3 L173 350.3 L173.5 350.3 L174 350.3 L174.5 350.4 L175 350.4 L175.5 350.4 L176 350.4 L176.5 350.4 L177 350.4 L177.5 350.4 L178 350.4 L178.5 350.4 L179 350.4 L179.5 350.4 L180 350.4 L180.5 350.4 L181 350.4 L181.5 350.4 L182 350.4 L182.5 350.4 L183 350.4" fill="none" stroke="#111" stroke-width="1.3"/>
<path d="M18.5 366.1 L19 366.1 L19.5 366 L20 366 L20.5 365.9 L21 365.8 L21.5 365.8 L22 365.7 L22.5 365.7 L23 365.6 L23.5 365.6 L24 365.5 L24.5 365.4 L25 365.4 L25.5 365.3 L26 365.2 L26.5 365.2 L27 365.1 L27.5 365 L28 364.9 L28.5 364.9 L29 364.8 L29.5 364.7 L30 364.6 L30.5 364.5 L31 364.4 L31.5 364.3 L32 364.2 L32.5 364.1 L33 364 L33.5 363.9 L34 363.8 L34.5 363.7 L35 363.6 L35.5 363.4 L36 363.3 L36.5 363.2 L37 363 L37.5 362.9 L38 362.7 L38.5 362.6 L39 362.4 L39.5 362.3 L40 362.1 L40.5 361.9 L41 361.7 L41.5 361.5 L42 361.3 L42.5 361.1 L43 360.9 L43.5 360.7 L44 360.5 L44.5 360.2 L45 360 L45.5 359.7 L46 359.5 L46.5 359.2 L47 358.9 L47.5 358.6 L48 358.3 L48.5 357.9 L49 357.6 L49.5 357.2 L50 356.9 L50.5 356.5 L51 356.1 L51.5 355.6 L52 355.2 L52.5 354.7 L53 354.3 L53.5 353.8 L54 353.2 L54.5 352.7 L55 352.1 L55.5 351.5 L56 350.9 L56.5 350.3 L57 349.6 L57.5 349 L58 348.2 L58.5 347.5 L59 346.7 L59.5 346 L60 345.1 L60.5 344.3 L61 343.5 L61.5 342.6 L62 341.7 L62.5 340.8 L63 339.8 L63.5 338.9 L64 337.9 L64.5 337 L65 336.1 L65.5 335.1 L66 334.2 L66.5 333.3 L67 332.5 L67.5 331.6 L68 330.9 L68.5 330.2 L69 329.5 L69.5 328.9 L70 328.5 L70.5 328.1 L71 327.7 L71.5 327.5 L72 327.4 L72.5 327.4 L73 327.5 L73.5 327.7 L74 328 L74.5 328.4 L75 328.8 L75.5 329.4 L76 330 L76.5 330.7 L77 331.5 L77.5 332.3 L78 333.1 L78.5 334 L79 334.9 L79.5 335.9 L80 336.8 L80.5 337.8 L81 338.7 L81.5 339.6 L82 340.6 L82.5 341.5 L83 342.4 L83.5 343.3 L84 344.1 L84.5 345 L85 345.8 L85.5 346.6 L86 347.4 L86.5 348.1 L87 348.8 L87.5 349.5 L88 350.2 L88.5 350.8 L89 351.4 L89.5 352 L90 352.6 L90.5 353.1 L91 353.7 L91.5 354.2 L92 354.6 L92.5 355.1 L93 355.5 L93.5 356 L94 356.4 L94.5 356.8 L95 357.2 L95.5 357.5 L96 357.9 L96.5 358.2 L97 358.5 L97.5 358.8 L98 359.1 L98.5 359.4 L99 359.7 L99.5 359.9 L100 360.2 L100.5 360.4 L101 360.7 L101.5 360.9 L102 361.1 L102.5 361.3 L103 361.5 L103.5 361.7 L104 361.9 L104.5 362.1 L105 362.2 L105.5 362.4 L106 362.6 L106.5 362.7 L107 362.9 L107.5 363 L108 363.1 L108.5 363.3 L109 363.4 L109.5 363.5 L110 363.7 L110.5 363.8 L111 363.9 L111.5 364 L112 364.1 L112.5 364.2 L113 364.3 L113.5 364.4 L114 364.5 L114.5 364.6 L115 364.7 L115.5 364.8 L116 364.8 L116.5 364.9 L117 365 L117.5 365.1 L118 365.2 L118.5 365.2 L119 365.3 L119.5 365.4 L120 365.4 L120.5 365.5 L121 365.6 L121.5 365.6 L122 365.7 L122.5 365.7 L123 365.8 L123.5 365.8 L124 365.9 L124.5 365.9 L125 366 L125.5 366 L126 366.1 L126.5 366.1 L127 366.2 L127.5 366.2 L128 366.3 L128.5 366.3 L129 366.4 L129.5 366.4 L130 366.4 L130.5 366.5 L131 366.5 L131.5 366.5 L132 366.6 L132.5 366.6 L133 366.6 L133.5 366.7 L134 366.7 L134.5 366.7 L135 366.8 L135.5 366.8 L136 366.8 L136.5 366.9 L137 366.9 L137.5 366.9 L138 366.9 L138.5 367 L139 367 L139.5 367 L140 367.1 L140.5 367.1 L141 367.1 L141.5 367.1 L142 367.1 L142.5 367.2 L143 367.2 L143.5 367.2 L144 367.2 L144.5 367.3 L145 367.3 L145.5 367.3 L146 367.3 L146.5 367.3 L147 367.4 L147.5 367.4 L148 367.4 L148.5 367.4 L149 367.4 L149.5 367.4 L150 367.5 L150.5 367.5 L151 367.5 L151.5 367.5 L152 367.5 L152.5 367.5 L153 367.6 L153.5 367.6 L154 367.6 L154.5 367.6 L155 367.6 L155.5 367.6 L156 367.6 L156.5 367.7 L157 367.7 L157.5 367.7 L158 367.7 L158.5 367.7 L159 367.7 L159.5 367.7 L160 367.7 L160.5 367.8 L161 367.8 L161.5 367.8 L162 367.8 L162.5 367.8 L163 367.8 L163.5 367.8 L164 367.8 L164.5 367.8 L165 367.8 L165.5 367.9 L166 367.9 L166.5 367.9 L167 367.9 L167.5 367.9 L168 367.9 L168.5 367.9 L169 367.9 L169.5 367.9 L170 367.9 L170.5 367.9 L171 368 L171.5 368 L172 368 L172.5 368 L173 368 L173.5 368 L174 368 L174.5 368 L175 368 L175.5 368 L176 368 L176.5 368 L177 368 L177.5 368.1 L178 368.1 L178.5 368.1 L179 368.1 L179.5 368.1 L180 368.1 L180.5 368.1 L181 368.1 L181.5 368.1 L182 368.1 L182.5 368.1 L183 368.1" fill="none" stroke="#111" stroke-width="1.3"/>
<path d="M18.5 383.4 L19 383.3 L19.5 383.2 L20 383.2 L20.5 383.1 L21 383.1 L21.5 383 L22 383 L22.5 382.9 L23 382.9 L23.5 382.8 L24 382.7 L24.5 382.7 L25 382.6 L25.5 382.5 L26 382.4 L26.5 382.4 L27 382.3 L27.5 382.2 L28 382.1 L28.5 382 L29 382 L29.5 381.9 L30 381.8 L30.5 381.7 L31 381.6 L31.5 381.5 L32 381.4 L32.5 381.3 L33 381.2 L33.5 381 L34 380.9 L34.5 380.8 L35 380.7 L35.5 380.5 L36 380.4 L36.5 380.3 L37 380.1 L37.5 380 L38 379.8 L38.5 379.7 L39 379.5 L39.5 379.3 L40 379.1 L40.5 378.9 L41 378.8 L41.5 378.6 L42 378.3 L42.5 378.1 L43 377.9 L43.5 377.7 L44 377.4 L44.5 377.2 L45 376.9 L45.5 376.6 L46 376.4 L46.5 376.1 L47 375.8 L47.5 375.4 L48 375.1 L48.5 374.8 L49 374.4 L49.5 374 L50 373.6 L50.5 373.2 L51 372.8 L51.5 372.3 L52 371.9 L52.5 371.4 L53 370.9 L53.5 370.4 L54 369.8 L54.5 369.3 L55 368.7 L55.5 368 L56 367.4 L56.5 366.7 L57 366 L57.5 365.3 L58 364.6 L58.5 363.8 L59 363 L59.5 362.2 L60 361.3 L60.5 360.4 L61 359.5 L61.5 358.6 L62 357.7 L62.5 356.7 L63 355.7 L63.5 354.7 L64 353.7 L64.5 352.7 L65 351.8 L65.5 350.8 L66 349.8 L66.5 348.9 L67 348 L67.5 347.1 L68 346.3 L68.5 345.6 L69 344.9 L69.5 344.3 L70 343.8 L70.5 343.3 L71 343 L71.5 342.8 L72 342.7 L72.5 342.7 L73 342.8 L73.5 343 L74 343.3 L74.5 343.7 L75 344.2 L75.5 344.8 L76 345.4 L76.5 346.2 L77 346.9 L77.5 347.8 L78 348.7 L78.5 349.6 L79 350.6 L79.5 351.6 L80 352.5 L80.5 353.5 L81 354.5 L81.5 355.5 L82 356.5 L82.5 357.5 L83 358.4 L83.5 359.3 L84 360.3 L84.5 361.1 L85 362 L85.5 362.8 L86 363.6 L86.5 364.4 L87 365.2 L87.5 365.9 L88 366.6 L88.5 367.3 L89 367.9 L89.5 368.5 L90 369.1 L90.5 369.7 L91 370.3 L91.5 370.8 L92 371.3 L92.5 371.8 L93 372.3 L93.5 372.7 L94 373.1 L94.5 373.5 L95 373.9 L95.5 374.3 L96 374.7 L96.5 375 L97 375.4 L97.5 375.7 L98 376 L98.5 376.3 L99 376.6 L99.5 376.9 L100 377.1 L100.5 377.4 L101 377.6 L101.5 377.9 L102 378.1 L102.5 378.3 L103 378.5 L103.5 378.7 L104 378.9 L104.5 379.1 L105 379.3 L105.5 379.5 L106 379.6 L106.5 379.8 L107 379.9 L107.5 380.1 L108 380.2 L108.5 380.4 L109 380.5 L109.5 380.6 L110 380.8 L110.5 380.9 L111 381 L111.5 381.1 L112 381.2 L112.5 381.4 L113 381.5 L113.5 381.6 L114 381.7 L114.5 381.8 L115 381.9 L115.5 381.9 L116 382 L116.5 382.1 L117 382.2 L117.5 382.3 L118 382.4 L118.5 382.4 L119 382.5 L119.5 382.6 L120 382.6 L120.5 382.7 L121 382.8 L121.5 382.8 L122 382.9 L122.5 383 L123 383 L123.5 383.1 L124 383.1 L124.5 383.2 L125 383.2 L125.5 383.3 L126 383.3 L126.5 383.4 L127 383.4 L127.5 383.5 L128 383.5 L128.5 383.6 L129 383.6 L129.5 383.7 L130 383.7 L130.5 383.7 L131 383.8 L131.5 383.8 L132 383.9 L132.5 383.9 L133 383.9 L133.5 384 L134 384 L134.5 384 L135 384.1 L135.5 384.1 L136 384.1 L136.5 384.2 L137 384.2 L137.5 384.2 L138 384.2 L138.5 384.3 L139 384.3 L139.5 384.3 L140 384.4 L140.5 384.4 L141 384.4 L141.5 384.4 L142 384.5 L142.5 384.5 L143 384.5 L143.5 384.5 L144 384.5 L144.5 384.6 L145 384.6 L145.5 384.6 L146 384.6 L146.5 384.6 L147 384.7 L147.5 384.7 L148 384.7 L148.5 384.7 L149 384.7 L149.5 384.8 L150 384.8 L150.5 384.8 L151 384.8 L151.5 384.8 L152 384.8 L152.5 384.9 L153 384.9 L153.5 384.9 L154 384.9 L154.5 384.9 L155 384.9 L155.5 385 L156 385 L156.5 385 L157 385 L157.5 385 L158 385 L158.5 385 L159 385 L159.5 385.1 L160 385.1 L160.5 385.1 L161 385.1 L161.5 385.1 L162 385.1 L162.5 385.1 L163 385.1 L163.5 385.2 L164 385.2 L164.5 385.2 L165 385.2 L165.5 385.2 L166 385.2 L166.5 385.2 L167 385.2 L167.5 385.2 L168 385.2 L168.5 385.3 L169 385.3 L169.5 385.3 L170 385.3 L170.5 385.3 L171 385.3 L171.5 385.3 L172 385.3 L172.5 385.3 L173 385.3 L173.5 385.3 L174 385.4 L174.5 385.4 L175 385.4 L175.5 385.4 L176 385.4 L176.5 385.4 L177 385.4 L177.5 385.4 L178 385.4 L178.5 385.4 L179 385.4 L179.5 385.4 L180 385.4 L180.5 385.4 L181 385.5 L181.5 385.5 L182 385.5 L182.5 385.5 L183 385.5" fill="none" stroke="#111" stroke-width="1.3"/>
<text x="47.6" y="235.4" font-size="11.2" text-anchor="start" font-weight="normal" fill="#111" >E</text>
<text x="54.6" y="238.9" font-size="8" text-anchor="start" font-weight="normal" fill="#111" >1</text>
<line x1="55" y1="228.7" x2="60" y2="228.7" stroke="#111" stroke-width="0.9" />
<line x1="57.5" y1="228.7" x2="57.5" y2="224.1" stroke="#111" stroke-width="0.9" />
<path d="M224.6 267.4 L225.1 267.4 L225.6 267.3 L226.1 267.3 L226.6 267.2 L227.1 267.2 L227.6 267.2 L228.1 267.1 L228.6 267.1 L229.1 267 L229.6 267 L230.1 266.9 L230.6 266.9 L231.1 266.8 L231.6 266.8 L232.1 266.7 L232.6 266.7 L233.1 266.6 L233.6 266.6 L234.1 266.5 L234.6 266.4 L235.1 266.4 L235.6 266.3 L236.1 266.2 L236.6 266.2 L237.1 266.1 L237.6 266 L238.1 265.9 L238.6 265.9 L239.1 265.8 L239.6 265.7 L240.1 265.6 L240.6 265.5 L241.1 265.4 L241.6 265.3 L242.1 265.2 L242.6 265.1 L243.1 265 L243.6 264.9 L244.1 264.8 L244.6 264.7 L245.1 264.5 L245.6 264.4 L246.1 264.3 L246.6 264.1 L247.1 264 L247.6 263.8 L248.1 263.7 L248.6 263.5 L249.1 263.4 L249.6 263.2 L250.1 263 L250.6 262.8 L251.1 262.6 L251.6 262.4 L252.1 262.2 L252.6 262 L253.1 261.7 L253.6 261.5 L254.1 261.2 L254.6 261 L255.1 260.7 L255.6 260.4 L256.1 260.1 L256.6 259.7 L257.1 259.4 L257.6 259.1 L258.1 258.7 L258.6 258.3 L259.1 257.9 L259.6 257.5 L260.1 257 L260.6 256.5 L261.1 256.1 L261.6 255.5 L262.1 255 L262.6 254.4 L263.1 253.8 L263.6 253.2 L264.1 252.5 L264.6 251.9 L265.1 251.1 L265.6 250.4 L266.1 249.6 L266.6 248.8 L267.1 247.9 L267.6 247.1 L268.1 246.1 L268.6 245.2 L269.1 244.2 L269.6 243.2 L270.1 242.2 L270.6 241.1 L271.1 240.1 L271.6 239 L272.1 237.9 L272.6 236.9 L273.1 235.9 L273.6 234.8 L274.1 233.9 L274.6 233 L275.1 232.1 L275.6 231.4 L276.1 230.7 L276.6 230.1 L277.1 229.6 L277.6 229.3 L278.1 229.1 L278.6 228.9 L279.1 229 L279.6 229.1 L280.1 229.3 L280.6 229.7 L281.1 230.1 L281.6 230.6 L282.1 231.2 L282.6 231.9 L283.1 232.6 L283.6 233.3 L284.1 234.1 L284.6 234.9 L285.1 235.6 L285.6 236.4 L286.1 237.1 L286.6 237.8 L287.1 238.5 L287.6 239.2 L288.1 239.8 L288.6 240.3 L289.1 240.9 L289.6 241.3 L290.1 241.8 L290.6 242.1 L291.1 242.5 L291.6 242.7 L292.1 243 L292.6 243.2 L293.1 243.3 L293.6 243.4 L294.1 243.4 L294.6 243.4 L295.1 243.4 L295.6 243.3 L296.1 243.2 L296.6 243 L297.1 242.8 L297.6 242.6 L298.1 242.4 L298.6 242.2 L299.1 242 L299.6 241.8 L300.1 241.6 L300.6 241.5 L301.1 241.3 L301.6 241.3 L302.1 241.2 L302.6 241.2 L303.1 241.3 L303.6 241.4 L304.1 241.6 L304.6 241.9 L305.1 242.2 L305.6 242.6 L306.1 243 L306.6 243.5 L307.1 244.1 L307.6 244.6 L308.1 245.3 L308.6 245.9 L309.1 246.6 L309.6 247.3 L310.1 248 L310.6 248.7 L311.1 249.4 L311.6 250.1 L312.1 250.8 L312.6 251.5 L313.1 252.1 L313.6 252.8 L314.1 253.4 L314.6 254 L315.1 254.6 L315.6 255.1 L316.1 255.7 L316.6 256.2 L317.1 256.7 L317.6 257.2 L318.1 257.6 L318.6 258.1 L319.1 258.5 L319.6 258.9 L320.1 259.2 L320.6 259.6 L321.1 259.9 L321.6 260.3 L322.1 260.6 L322.6 260.9 L323.1 261.2 L323.6 261.5 L324.1 261.7 L324.6 262 L325.1 262.2 L325.6 262.4 L326.1 262.7 L326.6 262.9 L327.1 263.1 L327.6 263.3 L328.1 263.5 L328.6 263.6 L329.1 263.8 L329.6 264 L330.1 264.1 L330.6 264.3 L331.1 264.4 L331.6 264.6 L332.1 264.7 L332.6 264.8 L333.1 264.9 L333.6 265.1 L334.1 265.2 L334.6 265.3 L335.1 265.4 L335.6 265.5 L336.1 265.6 L336.6 265.7 L337.1 265.8 L337.6 265.9 L338.1 266 L338.6 266.1 L339.1 266.1 L339.6 266.2 L340.1 266.3 L340.6 266.4 L341.1 266.4 L341.6 266.5 L342.1 266.6 L342.6 266.6 L343.1 266.7 L343.6 266.8 L344.1 266.8 L344.6 266.9 L345.1 266.9 L345.6 267 L346.1 267 L346.6 267.1 L347.1 267.1 L347.6 267.2 L348.1 267.2 L348.6 267.3 L349.1 267.3 L349.6 267.4 L350.1 267.4 L350.6 267.5 L351.1 267.5 L351.6 267.5 L352.1 267.6 L352.6 267.6 L353.1 267.7 L353.6 267.7 L354.1 267.7 L354.6 267.8 L355.1 267.8 L355.6 267.8 L356.1 267.9 L356.6 267.9 L357.1 267.9 L357.6 267.9 L358.1 268 L358.6 268 L359.1 268 L359.6 268.1 L360.1 268.1 L360.6 268.1 L361.1 268.1 L361.6 268.2 L362.1 268.2 L362.6 268.2 L363.1 268.2 L363.6 268.3 L364.1 268.3 L364.6 268.3 L365.1 268.3 L365.6 268.3 L366.1 268.4 L366.6 268.4 L367.1 268.4 L367.6 268.4 L368.1 268.4 L368.6 268.5 L369.1 268.5 L369.6 268.5 L370.1 268.5 L370.6 268.5 L371.1 268.5 L371.6 268.6 L372.1 268.6 L372.6 268.6 L373.1 268.6 L373.6 268.6 L374.1 268.6 L374.6 268.7 L375.1 268.7 L375.6 268.7 L376.1 268.7 L376.6 268.7 L377.1 268.7 L377.6 268.7 L378.1 268.8 L378.6 268.8 L379.1 268.8 L379.6 268.8 L380.1 268.8 L380.6 268.8 L381.1 268.8 L381.6 268.8 L382.1 268.9 L382.6 268.9 L383.1 268.9 L383.6 268.9 L384.1 268.9 L384.6 268.9 L385.1 268.9 L385.6 268.9 L386.1 268.9 L386.6 268.9 L387.1 269 L387.6 269 L388.1 269 L388.6 269 L389.1 269" fill="none" stroke="#111" stroke-width="1.3"/>
<path d="M224.6 283.2 L225.1 283.2 L225.6 283.1 L226.1 283.1 L226.6 283.1 L227.1 283 L227.6 283 L228.1 283 L228.6 282.9 L229.1 282.9 L229.6 282.8 L230.1 282.8 L230.6 282.7 L231.1 282.7 L231.6 282.7 L232.1 282.6 L232.6 282.6 L233.1 282.5 L233.6 282.5 L234.1 282.4 L234.6 282.4 L235.1 282.3 L235.6 282.2 L236.1 282.2 L236.6 282.1 L237.1 282.1 L237.6 282 L238.1 281.9 L238.6 281.8 L239.1 281.8 L239.6 281.7 L240.1 281.6 L240.6 281.5 L241.1 281.5 L241.6 281.4 L242.1 281.3 L242.6 281.2 L243.1 281.1 L243.6 281 L244.1 280.9 L244.6 280.8 L245.1 280.7 L245.6 280.6 L246.1 280.5 L246.6 280.4 L247.1 280.2 L247.6 280.1 L248.1 280 L248.6 279.8 L249.1 279.7 L249.6 279.5 L250.1 279.4 L250.6 279.2 L251.1 279.1 L251.6 278.9 L252.1 278.7 L252.6 278.5 L253.1 278.3 L253.6 278.1 L254.1 277.9 L254.6 277.7 L255.1 277.4 L255.6 277.2 L256.1 277 L256.6 276.7 L257.1 276.4 L257.6 276.1 L258.1 275.8 L258.6 275.5 L259.1 275.2 L259.6 274.8 L260.1 274.5 L260.6 274.1 L261.1 273.7 L261.6 273.3 L262.1 272.8 L262.6 272.4 L263.1 271.9 L263.6 271.4 L264.1 270.9 L264.6 270.4 L265.1 269.8 L265.6 269.2 L266.1 268.6 L266.6 267.9 L267.1 267.2 L267.6 266.5 L268.1 265.8 L268.6 265 L269.1 264.2 L269.6 263.4 L270.1 262.5 L270.6 261.7 L271.1 260.8 L271.6 259.9 L272.1 258.9 L272.6 258 L273.1 257 L273.6 256.1 L274.1 255.1 L274.6 254.2 L275.1 253.2 L275.6 252.4 L276.1 251.5 L276.6 250.7 L277.1 250 L277.6 249.3 L278.1 248.7 L278.6 248.2 L279.1 247.8 L279.6 247.5 L280.1 247.2 L280.6 247.1 L281.1 247.1 L281.6 247.2 L282.1 247.3 L282.6 247.6 L283.1 247.9 L283.6 248.3 L284.1 248.8 L284.6 249.3 L285.1 249.9 L285.6 250.4 L286.1 251 L286.6 251.6 L287.1 252.2 L287.6 252.8 L288.1 253.4 L288.6 253.9 L289.1 254.4 L289.6 254.9 L290.1 255.4 L290.6 255.8 L291.1 256.2 L291.6 256.5 L292.1 256.8 L292.6 257 L293.1 257.2 L293.6 257.4 L294.1 257.5 L294.6 257.6 L295.1 257.6 L295.6 257.6 L296.1 257.6 L296.6 257.5 L297.1 257.5 L297.6 257.4 L298.1 257.3 L298.6 257.1 L299.1 257 L299.6 256.9 L300.1 256.8 L300.6 256.7 L301.1 256.7 L301.6 256.7 L302.1 256.7 L302.6 256.7 L303.1 256.9 L303.6 257 L304.1 257.2 L304.6 257.5 L305.1 257.9 L305.6 258.3 L306.1 258.7 L306.6 259.2 L307.1 259.7 L307.6 260.3 L308.1 260.9 L308.6 261.6 L309.1 262.2 L309.6 262.9 L310.1 263.6 L310.6 264.3 L311.1 264.9 L311.6 265.6 L312.1 266.3 L312.6 267 L313.1 267.6 L313.6 268.2 L314.1 268.9 L314.6 269.4 L315.1 270 L315.6 270.6 L316.1 271.1 L316.6 271.6 L317.1 272.1 L317.6 272.6 L318.1 273.1 L318.6 273.5 L319.1 273.9 L319.6 274.4 L320.1 274.7 L320.6 275.1 L321.1 275.5 L321.6 275.8 L322.1 276.1 L322.6 276.4 L323.1 276.7 L323.6 277 L324.1 277.3 L324.6 277.6 L325.1 277.8 L325.6 278 L326.1 278.3 L326.6 278.5 L327.1 278.7 L327.6 278.9 L328.1 279.1 L328.6 279.3 L329.1 279.5 L329.6 279.6 L330.1 279.8 L330.6 280 L331.1 280.1 L331.6 280.3 L332.1 280.4 L332.6 280.5 L333.1 280.7 L333.6 280.8 L334.1 280.9 L334.6 281 L335.1 281.2 L335.6 281.3 L336.1 281.4 L336.6 281.5 L337.1 281.6 L337.6 281.7 L338.1 281.8 L338.6 281.9 L339.1 281.9 L339.6 282 L340.1 282.1 L340.6 282.2 L341.1 282.3 L341.6 282.3 L342.1 282.4 L342.6 282.5 L343.1 282.6 L343.6 282.6 L344.1 282.7 L344.6 282.7 L345.1 282.8 L345.6 282.9 L346.1 282.9 L346.6 283 L347.1 283 L347.6 283.1 L348.1 283.1 L348.6 283.2 L349.1 283.2 L349.6 283.3 L350.1 283.3 L350.6 283.4 L351.1 283.4 L351.6 283.5 L352.1 283.5 L352.6 283.5 L353.1 283.6 L353.6 283.6 L354.1 283.7 L354.6 283.7 L355.1 283.7 L355.6 283.8 L356.1 283.8 L356.6 283.8 L357.1 283.9 L357.6 283.9 L358.1 283.9 L358.6 284 L359.1 284 L359.6 284 L360.1 284.1 L360.6 284.1 L361.1 284.1 L361.6 284.1 L362.1 284.2 L362.6 284.2 L363.1 284.2 L363.6 284.2 L364.1 284.3 L364.6 284.3 L365.1 284.3 L365.6 284.3 L366.1 284.4 L366.6 284.4 L367.1 284.4 L367.6 284.4 L368.1 284.5 L368.6 284.5 L369.1 284.5 L369.6 284.5 L370.1 284.5 L370.6 284.6 L371.1 284.6 L371.6 284.6 L372.1 284.6 L372.6 284.6 L373.1 284.6 L373.6 284.7 L374.1 284.7 L374.6 284.7 L375.1 284.7 L375.6 284.7 L376.1 284.7 L376.6 284.8 L377.1 284.8 L377.6 284.8 L378.1 284.8 L378.6 284.8 L379.1 284.8 L379.6 284.9 L380.1 284.9 L380.6 284.9 L381.1 284.9 L381.6 284.9 L382.1 284.9 L382.6 284.9 L383.1 285 L383.6 285 L384.1 285 L384.6 285 L385.1 285 L385.6 285 L386.1 285 L386.6 285 L387.1 285.1 L387.6 285.1 L388.1 285.1 L388.6 285.1 L389.1 285.1" fill="none" stroke="#111" stroke-width="1.3"/>
<path d="M224.6 299 L225.1 299 L225.6 298.9 L226.1 298.9 L226.6 298.8 L227.1 298.8 L227.6 298.8 L228.1 298.7 L228.6 298.7 L229.1 298.6 L229.6 298.6 L230.1 298.5 L230.6 298.5 L231.1 298.4 L231.6 298.4 L232.1 298.3 L232.6 298.2 L233.1 298.2 L233.6 298.1 L234.1 298.1 L234.6 298 L235.1 297.9 L235.6 297.9 L236.1 297.8 L236.6 297.7 L237.1 297.6 L237.6 297.6 L238.1 297.5 L238.6 297.4 L239.1 297.3 L239.6 297.2 L240.1 297.1 L240.6 297.1 L241.1 297 L241.6 296.9 L242.1 296.8 L242.6 296.7 L243.1 296.5 L243.6 296.4 L244.1 296.3 L244.6 296.2 L245.1 296.1 L245.6 295.9 L246.1 295.8 L246.6 295.7 L247.1 295.5 L247.6 295.4 L248.1 295.2 L248.6 295.1 L249.1 294.9 L249.6 294.7 L250.1 294.6 L250.6 294.4 L251.1 294.2 L251.6 294 L252.1 293.8 L252.6 293.6 L253.1 293.4 L253.6 293.1 L254.1 292.9 L254.6 292.6 L255.1 292.4 L255.6 292.1 L256.1 291.8 L256.6 291.5 L257.1 291.2 L257.6 290.9 L258.1 290.6 L258.6 290.2 L259.1 289.9 L259.6 289.5 L260.1 289.1 L260.6 288.7 L261.1 288.2 L261.6 287.8 L262.1 287.3 L262.6 286.8 L263.1 286.3 L263.6 285.8 L264.1 285.3 L264.6 284.7 L265.1 284.1 L265.6 283.5 L266.1 282.8 L266.6 282.1 L267.1 281.4 L267.6 280.7 L268.1 279.9 L268.6 279.2 L269.1 278.3 L269.6 277.5 L270.1 276.6 L270.6 275.8 L271.1 274.9 L271.6 273.9 L272.1 273 L272.6 272.1 L273.1 271.1 L273.6 270.1 L274.1 269.2 L274.6 268.2 L275.1 267.3 L275.6 266.4 L276.1 265.5 L276.6 264.7 L277.1 263.9 L277.6 263.2 L278.1 262.5 L278.6 261.9 L279.1 261.4 L279.6 261 L280.1 260.6 L280.6 260.4 L281.1 260.2 L281.6 260.1 L282.1 260.2 L282.6 260.3 L283.1 260.5 L283.6 260.7 L284.1 261 L284.6 261.4 L285.1 261.9 L285.6 262.3 L286.1 262.9 L286.6 263.4 L287.1 263.9 L287.6 264.5 L288.1 265.1 L288.6 265.6 L289.1 266.2 L289.6 266.7 L290.1 267.2 L290.6 267.7 L291.1 268.2 L291.6 268.6 L292.1 269 L292.6 269.4 L293.1 269.7 L293.6 270 L294.1 270.3 L294.6 270.6 L295.1 270.8 L295.6 271 L296.1 271.2 L296.6 271.3 L297.1 271.5 L297.6 271.6 L298.1 271.7 L298.6 271.8 L299.1 271.9 L299.6 272 L300.1 272.1 L300.6 272.3 L301.1 272.4 L301.6 272.6 L302.1 272.7 L302.6 272.9 L303.1 273.2 L303.6 273.4 L304.1 273.7 L304.6 274 L305.1 274.4 L305.6 274.8 L306.1 275.2 L306.6 275.6 L307.1 276.1 L307.6 276.5 L308.1 277.1 L308.6 277.6 L309.1 278.1 L309.6 278.7 L310.1 279.2 L310.6 279.8 L311.1 280.4 L311.6 281 L312.1 281.5 L312.6 282.1 L313.1 282.7 L313.6 283.2 L314.1 283.8 L314.6 284.3 L315.1 284.8 L315.6 285.4 L316.1 285.9 L316.6 286.4 L317.1 286.8 L317.6 287.3 L318.1 287.8 L318.6 288.2 L319.1 288.6 L319.6 289 L320.1 289.4 L320.6 289.8 L321.1 290.2 L321.6 290.5 L322.1 290.9 L322.6 291.2 L323.1 291.5 L323.6 291.8 L324.1 292.1 L324.6 292.4 L325.1 292.7 L325.6 292.9 L326.1 293.2 L326.6 293.5 L327.1 293.7 L327.6 293.9 L328.1 294.1 L328.6 294.4 L329.1 294.6 L329.6 294.8 L330.1 295 L330.6 295.1 L331.1 295.3 L331.6 295.5 L332.1 295.7 L332.6 295.8 L333.1 296 L333.6 296.1 L334.1 296.3 L334.6 296.4 L335.1 296.6 L335.6 296.7 L336.1 296.8 L336.6 296.9 L337.1 297.1 L337.6 297.2 L338.1 297.3 L338.6 297.4 L339.1 297.5 L339.6 297.6 L340.1 297.7 L340.6 297.8 L341.1 297.9 L341.6 298 L342.1 298.1 L342.6 298.2 L343.1 298.3 L343.6 298.3 L344.1 298.4 L344.6 298.5 L345.1 298.6 L345.6 298.6 L346.1 298.7 L346.6 298.8 L347.1 298.8 L347.6 298.9 L348.1 299 L348.6 299 L349.1 299.1 L349.6 299.2 L350.1 299.2 L350.6 299.3 L351.1 299.3 L351.6 299.4 L352.1 299.4 L352.6 299.5 L353.1 299.5 L353.6 299.6 L354.1 299.6 L354.6 299.7 L355.1 299.7 L355.6 299.8 L356.1 299.8 L356.6 299.9 L357.1 299.9 L357.6 300 L358.1 300 L358.6 300 L359.1 300.1 L359.6 300.1 L360.1 300.1 L360.6 300.2 L361.1 300.2 L361.6 300.3 L362.1 300.3 L362.6 300.3 L363.1 300.4 L363.6 300.4 L364.1 300.4 L364.6 300.5 L365.1 300.5 L365.6 300.5 L366.1 300.5 L366.6 300.6 L367.1 300.6 L367.6 300.6 L368.1 300.7 L368.6 300.7 L369.1 300.7 L369.6 300.7 L370.1 300.8 L370.6 300.8 L371.1 300.8 L371.6 300.8 L372.1 300.9 L372.6 300.9 L373.1 300.9 L373.6 300.9 L374.1 301 L374.6 301 L375.1 301 L375.6 301 L376.1 301 L376.6 301.1 L377.1 301.1 L377.6 301.1 L378.1 301.1 L378.6 301.1 L379.1 301.2 L379.6 301.2 L380.1 301.2 L380.6 301.2 L381.1 301.2 L381.6 301.3 L382.1 301.3 L382.6 301.3 L383.1 301.3 L383.6 301.3 L384.1 301.3 L384.6 301.4 L385.1 301.4 L385.6 301.4 L386.1 301.4 L386.6 301.4 L387.1 301.4 L387.6 301.4 L388.1 301.5 L388.6 301.5 L389.1 301.5" fill="none" stroke="#111" stroke-width="1.3"/>
<path d="M224.6 317.2 L225.1 317.2 L225.6 317.1 L226.1 317.1 L226.6 317 L227.1 317 L227.6 316.9 L228.1 316.9 L228.6 316.8 L229.1 316.7 L229.6 316.7 L230.1 316.6 L230.6 316.6 L231.1 316.5 L231.6 316.4 L232.1 316.4 L232.6 316.3 L233.1 316.2 L233.6 316.2 L234.1 316.1 L234.6 316 L235.1 316 L235.6 315.9 L236.1 315.8 L236.6 315.7 L237.1 315.6 L237.6 315.5 L238.1 315.5 L238.6 315.4 L239.1 315.3 L239.6 315.2 L240.1 315.1 L240.6 315 L241.1 314.9 L241.6 314.7 L242.1 314.6 L242.6 314.5 L243.1 314.4 L243.6 314.3 L244.1 314.1 L244.6 314 L245.1 313.9 L245.6 313.7 L246.1 313.6 L246.6 313.4 L247.1 313.3 L247.6 313.1 L248.1 312.9 L248.6 312.8 L249.1 312.6 L249.6 312.4 L250.1 312.2 L250.6 312 L251.1 311.8 L251.6 311.6 L252.1 311.4 L252.6 311.1 L253.1 310.9 L253.6 310.6 L254.1 310.4 L254.6 310.1 L255.1 309.8 L255.6 309.5 L256.1 309.2 L256.6 308.9 L257.1 308.6 L257.6 308.3 L258.1 307.9 L258.6 307.5 L259.1 307.2 L259.6 306.8 L260.1 306.3 L260.6 305.9 L261.1 305.5 L261.6 305 L262.1 304.5 L262.6 304 L263.1 303.5 L263.6 302.9 L264.1 302.3 L264.6 301.8 L265.1 301.1 L265.6 300.5 L266.1 299.8 L266.6 299.1 L267.1 298.4 L267.6 297.7 L268.1 296.9 L268.6 296.1 L269.1 295.3 L269.6 294.4 L270.1 293.5 L270.6 292.6 L271.1 291.7 L271.6 290.8 L272.1 289.8 L272.6 288.9 L273.1 287.9 L273.6 286.9 L274.1 285.9 L274.6 284.9 L275.1 283.9 L275.6 283 L276.1 282.1 L276.6 281.2 L277.1 280.3 L277.6 279.5 L278.1 278.7 L278.6 278 L279.1 277.4 L279.6 276.8 L280.1 276.3 L280.6 276 L281.1 275.6 L281.6 275.4 L282.1 275.3 L282.6 275.2 L283.1 275.3 L283.6 275.4 L284.1 275.6 L284.6 275.8 L285.1 276.2 L285.6 276.5 L286.1 277 L286.6 277.4 L287.1 277.9 L287.6 278.4 L288.1 278.9 L288.6 279.5 L289.1 280 L289.6 280.5 L290.1 281 L290.6 281.6 L291.1 282 L291.6 282.5 L292.1 283 L292.6 283.4 L293.1 283.8 L293.6 284.2 L294.1 284.6 L294.6 285 L295.1 285.3 L295.6 285.6 L296.1 285.9 L296.6 286.2 L297.1 286.4 L297.6 286.7 L298.1 286.9 L298.6 287.2 L299.1 287.4 L299.6 287.6 L300.1 287.9 L300.6 288.1 L301.1 288.3 L301.6 288.6 L302.1 288.9 L302.6 289.1 L303.1 289.4 L303.6 289.7 L304.1 290.1 L304.6 290.4 L305.1 290.8 L305.6 291.2 L306.1 291.6 L306.6 292 L307.1 292.4 L307.6 292.9 L308.1 293.3 L308.6 293.8 L309.1 294.3 L309.6 294.8 L310.1 295.3 L310.6 295.8 L311.1 296.3 L311.6 296.9 L312.1 297.4 L312.6 297.9 L313.1 298.4 L313.6 299 L314.1 299.5 L314.6 300 L315.1 300.5 L315.6 301 L316.1 301.5 L316.6 302 L317.1 302.5 L317.6 302.9 L318.1 303.4 L318.6 303.9 L319.1 304.3 L319.6 304.7 L320.1 305.1 L320.6 305.5 L321.1 305.9 L321.6 306.3 L322.1 306.7 L322.6 307.1 L323.1 307.4 L323.6 307.8 L324.1 308.1 L324.6 308.4 L325.1 308.7 L325.6 309 L326.1 309.3 L326.6 309.6 L327.1 309.9 L327.6 310.2 L328.1 310.4 L328.6 310.7 L329.1 310.9 L329.6 311.2 L330.1 311.4 L330.6 311.6 L331.1 311.8 L331.6 312.1 L332.1 312.3 L332.6 312.5 L333.1 312.6 L333.6 312.8 L334.1 313 L334.6 313.2 L335.1 313.4 L335.6 313.5 L336.1 313.7 L336.6 313.8 L337.1 314 L337.6 314.1 L338.1 314.3 L338.6 314.4 L339.1 314.5 L339.6 314.7 L340.1 314.8 L340.6 314.9 L341.1 315 L341.6 315.2 L342.1 315.3 L342.6 315.4 L343.1 315.5 L343.6 315.6 L344.1 315.7 L344.6 315.8 L345.1 315.9 L345.6 316 L346.1 316.1 L346.6 316.2 L347.1 316.2 L347.6 316.3 L348.1 316.4 L348.6 316.5 L349.1 316.6 L349.6 316.7 L350.1 316.7 L350.6 316.8 L351.1 316.9 L351.6 316.9 L352.1 317 L352.6 317.1 L353.1 317.1 L353.6 317.2 L354.1 317.3 L354.6 317.3 L355.1 317.4 L355.6 317.4 L356.1 317.5 L356.6 317.6 L357.1 317.6 L357.6 317.7 L358.1 317.7 L358.6 317.8 L359.1 317.8 L359.6 317.9 L360.1 317.9 L360.6 318 L361.1 318 L361.6 318 L362.1 318.1 L362.6 318.1 L363.1 318.2 L363.6 318.2 L364.1 318.3 L364.6 318.3 L365.1 318.3 L365.6 318.4 L366.1 318.4 L366.6 318.4 L367.1 318.5 L367.6 318.5 L368.1 318.6 L368.6 318.6 L369.1 318.6 L369.6 318.7 L370.1 318.7 L370.6 318.7 L371.1 318.7 L371.6 318.8 L372.1 318.8 L372.6 318.8 L373.1 318.9 L373.6 318.9 L374.1 318.9 L374.6 319 L375.1 319 L375.6 319 L376.1 319 L376.6 319.1 L377.1 319.1 L377.6 319.1 L378.1 319.1 L378.6 319.2 L379.1 319.2 L379.6 319.2 L380.1 319.2 L380.6 319.3 L381.1 319.3 L381.6 319.3 L382.1 319.3 L382.6 319.3 L383.1 319.4 L383.6 319.4 L384.1 319.4 L384.6 319.4 L385.1 319.4 L385.6 319.5 L386.1 319.5 L386.6 319.5 L387.1 319.5 L387.6 319.5 L388.1 319.6 L388.6 319.6 L389.1 319.6" fill="none" stroke="#111" stroke-width="1.3"/>
<path d="M224.6 332.5 L225.1 332.5 L225.6 332.4 L226.1 332.4 L226.6 332.3 L227.1 332.3 L227.6 332.2 L228.1 332.2 L228.6 332.1 L229.1 332.1 L229.6 332 L230.1 332 L230.6 331.9 L231.1 331.8 L231.6 331.8 L232.1 331.7 L232.6 331.7 L233.1 331.6 L233.6 331.5 L234.1 331.4 L234.6 331.4 L235.1 331.3 L235.6 331.2 L236.1 331.2 L236.6 331.1 L237.1 331 L237.6 330.9 L238.1 330.8 L238.6 330.7 L239.1 330.6 L239.6 330.5 L240.1 330.4 L240.6 330.3 L241.1 330.2 L241.6 330.1 L242.1 330 L242.6 329.9 L243.1 329.8 L243.6 329.7 L244.1 329.5 L244.6 329.4 L245.1 329.3 L245.6 329.1 L246.1 329 L246.6 328.9 L247.1 328.7 L247.6 328.5 L248.1 328.4 L248.6 328.2 L249.1 328 L249.6 327.9 L250.1 327.7 L250.6 327.5 L251.1 327.3 L251.6 327.1 L252.1 326.9 L252.6 326.7 L253.1 326.4 L253.6 326.2 L254.1 325.9 L254.6 325.7 L255.1 325.4 L255.6 325.1 L256.1 324.9 L256.6 324.6 L257.1 324.2 L257.6 323.9 L258.1 323.6 L258.6 323.2 L259.1 322.9 L259.6 322.5 L260.1 322.1 L260.6 321.7 L261.1 321.3 L261.6 320.9 L262.1 320.4 L262.6 319.9 L263.1 319.4 L263.6 318.9 L264.1 318.4 L264.6 317.8 L265.1 317.3 L265.6 316.7 L266.1 316.1 L266.6 315.4 L267.1 314.8 L267.6 314.1 L268.1 313.4 L268.6 312.6 L269.1 311.9 L269.6 311.1 L270.1 310.3 L270.6 309.5 L271.1 308.6 L271.6 307.8 L272.1 306.9 L272.6 306 L273.1 305.1 L273.6 304.2 L274.1 303.3 L274.6 302.3 L275.1 301.4 L275.6 300.5 L276.1 299.6 L276.6 298.8 L277.1 298 L277.6 297.2 L278.1 296.4 L278.6 295.7 L279.1 295 L279.6 294.5 L280.1 293.9 L280.6 293.5 L281.1 293.1 L281.6 292.8 L282.1 292.6 L282.6 292.4 L283.1 292.3 L283.6 292.3 L284.1 292.4 L284.6 292.6 L285.1 292.8 L285.6 293 L286.1 293.4 L286.6 293.7 L287.1 294.1 L287.6 294.5 L288.1 295 L288.6 295.5 L289.1 296 L289.6 296.5 L290.1 297 L290.6 297.5 L291.1 298 L291.6 298.5 L292.1 298.9 L292.6 299.4 L293.1 299.9 L293.6 300.3 L294.1 300.7 L294.6 301.1 L295.1 301.5 L295.6 301.9 L296.1 302.3 L296.6 302.6 L297.1 303 L297.6 303.3 L298.1 303.6 L298.6 303.9 L299.1 304.2 L299.6 304.5 L300.1 304.8 L300.6 305.1 L301.1 305.4 L301.6 305.7 L302.1 306.1 L302.6 306.4 L303.1 306.7 L303.6 307 L304.1 307.4 L304.6 307.7 L305.1 308.1 L305.6 308.4 L306.1 308.8 L306.6 309.2 L307.1 309.6 L307.6 310 L308.1 310.4 L308.6 310.9 L309.1 311.3 L309.6 311.8 L310.1 312.2 L310.6 312.7 L311.1 313.1 L311.6 313.6 L312.1 314 L312.6 314.5 L313.1 314.9 L313.6 315.4 L314.1 315.9 L314.6 316.3 L315.1 316.8 L315.6 317.2 L316.1 317.7 L316.6 318.1 L317.1 318.5 L317.6 318.9 L318.1 319.4 L318.6 319.8 L319.1 320.2 L319.6 320.6 L320.1 320.9 L320.6 321.3 L321.1 321.7 L321.6 322.1 L322.1 322.4 L322.6 322.8 L323.1 323.1 L323.6 323.4 L324.1 323.7 L324.6 324 L325.1 324.3 L325.6 324.6 L326.1 324.9 L326.6 325.2 L327.1 325.5 L327.6 325.7 L328.1 326 L328.6 326.2 L329.1 326.5 L329.6 326.7 L330.1 326.9 L330.6 327.2 L331.1 327.4 L331.6 327.6 L332.1 327.8 L332.6 328 L333.1 328.2 L333.6 328.4 L334.1 328.6 L334.6 328.7 L335.1 328.9 L335.6 329.1 L336.1 329.3 L336.6 329.4 L337.1 329.6 L337.6 329.7 L338.1 329.9 L338.6 330 L339.1 330.1 L339.6 330.3 L340.1 330.4 L340.6 330.5 L341.1 330.7 L341.6 330.8 L342.1 330.9 L342.6 331 L343.1 331.1 L343.6 331.2 L344.1 331.4 L344.6 331.5 L345.1 331.6 L345.6 331.7 L346.1 331.8 L346.6 331.9 L347.1 331.9 L347.6 332 L348.1 332.1 L348.6 332.2 L349.1 332.3 L349.6 332.4 L350.1 332.5 L350.6 332.5 L351.1 332.6 L351.6 332.7 L352.1 332.8 L352.6 332.8 L353.1 332.9 L353.6 333 L354.1 333 L354.6 333.1 L355.1 333.2 L355.6 333.2 L356.1 333.3 L356.6 333.4 L357.1 333.4 L357.6 333.5 L358.1 333.5 L358.6 333.6 L359.1 333.6 L359.6 333.7 L360.1 333.8 L360.6 333.8 L361.1 333.9 L361.6 333.9 L362.1 334 L362.6 334 L363.1 334.1 L363.6 334.1 L364.1 334.1 L364.6 334.2 L365.1 334.2 L365.6 334.3 L366.1 334.3 L366.6 334.4 L367.1 334.4 L367.6 334.4 L368.1 334.5 L368.6 334.5 L369.1 334.6 L369.6 334.6 L370.1 334.6 L370.6 334.7 L371.1 334.7 L371.6 334.7 L372.1 334.8 L372.6 334.8 L373.1 334.8 L373.6 334.9 L374.1 334.9 L374.6 334.9 L375.1 335 L375.6 335 L376.1 335 L376.6 335.1 L377.1 335.1 L377.6 335.1 L378.1 335.1 L378.6 335.2 L379.1 335.2 L379.6 335.2 L380.1 335.3 L380.6 335.3 L381.1 335.3 L381.6 335.3 L382.1 335.4 L382.6 335.4 L383.1 335.4 L383.6 335.4 L384.1 335.5 L384.6 335.5 L385.1 335.5 L385.6 335.5 L386.1 335.6 L386.6 335.6 L387.1 335.6 L387.6 335.6 L388.1 335.6 L388.6 335.7 L389.1 335.7" fill="none" stroke="#111" stroke-width="1.3"/>
<path d="M224.6 350 L225.1 350 L225.6 349.9 L226.1 349.8 L226.6 349.8 L227.1 349.7 L227.6 349.7 L228.1 349.6 L228.6 349.6 L229.1 349.5 L229.6 349.4 L230.1 349.4 L230.6 349.3 L231.1 349.3 L231.6 349.2 L232.1 349.1 L232.6 349 L233.1 349 L233.6 348.9 L234.1 348.8 L234.6 348.7 L235.1 348.7 L235.6 348.6 L236.1 348.5 L236.6 348.4 L237.1 348.3 L237.6 348.2 L238.1 348.1 L238.6 348 L239.1 347.9 L239.6 347.8 L240.1 347.7 L240.6 347.6 L241.1 347.5 L241.6 347.4 L242.1 347.2 L242.6 347.1 L243.1 347 L243.6 346.9 L244.1 346.7 L244.6 346.6 L245.1 346.4 L245.6 346.3 L246.1 346.1 L246.6 346 L247.1 345.8 L247.6 345.7 L248.1 345.5 L248.6 345.3 L249.1 345.1 L249.6 344.9 L250.1 344.7 L250.6 344.5 L251.1 344.3 L251.6 344.1 L252.1 343.9 L252.6 343.6 L253.1 343.4 L253.6 343.1 L254.1 342.9 L254.6 342.6 L255.1 342.3 L255.6 342 L256.1 341.7 L256.6 341.4 L257.1 341.1 L257.6 340.7 L258.1 340.4 L258.6 340 L259.1 339.6 L259.6 339.2 L260.1 338.8 L260.6 338.4 L261.1 337.9 L261.6 337.5 L262.1 337 L262.6 336.5 L263.1 336 L263.6 335.4 L264.1 334.9 L264.6 334.3 L265.1 333.7 L265.6 333.1 L266.1 332.4 L266.6 331.8 L267.1 331.1 L267.6 330.3 L268.1 329.6 L268.6 328.8 L269.1 328 L269.6 327.2 L270.1 326.3 L270.6 325.5 L271.1 324.6 L271.6 323.7 L272.1 322.7 L272.6 321.8 L273.1 320.8 L273.6 319.8 L274.1 318.8 L274.6 317.9 L275.1 316.9 L275.6 315.9 L276.1 314.9 L276.6 314 L277.1 313 L277.6 312.1 L278.1 311.3 L278.6 310.5 L279.1 309.7 L279.6 309 L280.1 308.4 L280.6 307.9 L281.1 307.4 L281.6 307 L282.1 306.7 L282.6 306.4 L283.1 306.3 L283.6 306.2 L284.1 306.2 L284.6 306.3 L285.1 306.5 L285.6 306.7 L286.1 307 L286.6 307.3 L287.1 307.7 L287.6 308.1 L288.1 308.6 L288.6 309.1 L289.1 309.6 L289.6 310.1 L290.1 310.7 L290.6 311.2 L291.1 311.8 L291.6 312.3 L292.1 312.8 L292.6 313.4 L293.1 313.9 L293.6 314.4 L294.1 314.8 L294.6 315.3 L295.1 315.8 L295.6 316.2 L296.1 316.6 L296.6 317 L297.1 317.4 L297.6 317.8 L298.1 318.2 L298.6 318.6 L299.1 318.9 L299.6 319.3 L300.1 319.6 L300.6 320 L301.1 320.3 L301.6 320.7 L302.1 321 L302.6 321.4 L303.1 321.8 L303.6 322.1 L304.1 322.5 L304.6 322.9 L305.1 323.3 L305.6 323.7 L306.1 324.1 L306.6 324.5 L307.1 324.9 L307.6 325.3 L308.1 325.8 L308.6 326.2 L309.1 326.7 L309.6 327.1 L310.1 327.6 L310.6 328.1 L311.1 328.5 L311.6 329 L312.1 329.5 L312.6 329.9 L313.1 330.4 L313.6 330.9 L314.1 331.4 L314.6 331.8 L315.1 332.3 L315.6 332.8 L316.1 333.2 L316.6 333.7 L317.1 334.1 L317.6 334.6 L318.1 335 L318.6 335.4 L319.1 335.8 L319.6 336.3 L320.1 336.7 L320.6 337.1 L321.1 337.5 L321.6 337.8 L322.1 338.2 L322.6 338.6 L323.1 338.9 L323.6 339.3 L324.1 339.6 L324.6 339.9 L325.1 340.3 L325.6 340.6 L326.1 340.9 L326.6 341.2 L327.1 341.5 L327.6 341.8 L328.1 342 L328.6 342.3 L329.1 342.6 L329.6 342.8 L330.1 343.1 L330.6 343.3 L331.1 343.5 L331.6 343.8 L332.1 344 L332.6 344.2 L333.1 344.4 L333.6 344.6 L334.1 344.8 L334.6 345 L335.1 345.2 L335.6 345.4 L336.1 345.6 L336.6 345.7 L337.1 345.9 L337.6 346.1 L338.1 346.2 L338.6 346.4 L339.1 346.5 L339.6 346.7 L340.1 346.8 L340.6 347 L341.1 347.1 L341.6 347.2 L342.1 347.4 L342.6 347.5 L343.1 347.6 L343.6 347.7 L344.1 347.9 L344.6 348 L345.1 348.1 L345.6 348.2 L346.1 348.3 L346.6 348.4 L347.1 348.5 L347.6 348.6 L348.1 348.7 L348.6 348.8 L349.1 348.9 L349.6 349 L350.1 349.1 L350.6 349.2 L351.1 349.2 L351.6 349.3 L352.1 349.4 L352.6 349.5 L353.1 349.6 L353.6 349.6 L354.1 349.7 L354.6 349.8 L355.1 349.8 L355.6 349.9 L356.1 350 L356.6 350 L357.1 350.1 L357.6 350.2 L358.1 350.2 L358.6 350.3 L359.1 350.4 L359.6 350.4 L360.1 350.5 L360.6 350.5 L361.1 350.6 L361.6 350.6 L362.1 350.7 L362.6 350.7 L363.1 350.8 L363.6 350.8 L364.1 350.9 L364.6 350.9 L365.1 351 L365.6 351 L366.1 351.1 L366.6 351.1 L367.1 351.2 L367.6 351.2 L368.1 351.2 L368.6 351.3 L369.1 351.3 L369.6 351.4 L370.1 351.4 L370.6 351.4 L371.1 351.5 L371.6 351.5 L372.1 351.6 L372.6 351.6 L373.1 351.6 L373.6 351.7 L374.1 351.7 L374.6 351.7 L375.1 351.8 L375.6 351.8 L376.1 351.8 L376.6 351.9 L377.1 351.9 L377.6 351.9 L378.1 351.9 L378.6 352 L379.1 352 L379.6 352 L380.1 352.1 L380.6 352.1 L381.1 352.1 L381.6 352.1 L382.1 352.2 L382.6 352.2 L383.1 352.2 L383.6 352.2 L384.1 352.3 L384.6 352.3 L385.1 352.3 L385.6 352.3 L386.1 352.4 L386.6 352.4 L387.1 352.4 L387.6 352.4 L388.1 352.4 L388.6 352.5 L389.1 352.5" fill="none" stroke="#111" stroke-width="1.3"/>
<path d="M224.6 367.2 L225.1 367.1 L225.6 367.1 L226.1 367 L226.6 367 L227.1 366.9 L227.6 366.8 L228.1 366.8 L228.6 366.7 L229.1 366.7 L229.6 366.6 L230.1 366.5 L230.6 366.4 L231.1 366.4 L231.6 366.3 L232.1 366.2 L232.6 366.1 L233.1 366.1 L233.6 366 L234.1 365.9 L234.6 365.8 L235.1 365.7 L235.6 365.6 L236.1 365.5 L236.6 365.4 L237.1 365.3 L237.6 365.2 L238.1 365.1 L238.6 365 L239.1 364.9 L239.6 364.8 L240.1 364.7 L240.6 364.6 L241.1 364.4 L241.6 364.3 L242.1 364.2 L242.6 364.1 L243.1 363.9 L243.6 363.8 L244.1 363.6 L244.6 363.5 L245.1 363.3 L245.6 363.2 L246.1 363 L246.6 362.8 L247.1 362.7 L247.6 362.5 L248.1 362.3 L248.6 362.1 L249.1 361.9 L249.6 361.7 L250.1 361.5 L250.6 361.3 L251.1 361.1 L251.6 360.8 L252.1 360.6 L252.6 360.3 L253.1 360.1 L253.6 359.8 L254.1 359.6 L254.6 359.3 L255.1 359 L255.6 358.7 L256.1 358.4 L256.6 358 L257.1 357.7 L257.6 357.3 L258.1 357 L258.6 356.6 L259.1 356.2 L259.6 355.8 L260.1 355.4 L260.6 354.9 L261.1 354.5 L261.6 354 L262.1 353.5 L262.6 353 L263.1 352.5 L263.6 351.9 L264.1 351.4 L264.6 350.8 L265.1 350.2 L265.6 349.5 L266.1 348.9 L266.6 348.2 L267.1 347.5 L267.6 346.8 L268.1 346 L268.6 345.2 L269.1 344.4 L269.6 343.6 L270.1 342.8 L270.6 341.9 L271.1 341 L271.6 340.1 L272.1 339.2 L272.6 338.3 L273.1 337.3 L273.6 336.3 L274.1 335.4 L274.6 334.4 L275.1 333.4 L275.6 332.4 L276.1 331.5 L276.6 330.5 L277.1 329.6 L277.6 328.7 L278.1 327.9 L278.6 327.1 L279.1 326.3 L279.6 325.6 L280.1 325 L280.6 324.4 L281.1 323.9 L281.6 323.5 L282.1 323.1 L282.6 322.8 L283.1 322.7 L283.6 322.5 L284.1 322.5 L284.6 322.6 L285.1 322.7 L285.6 322.9 L286.1 323.1 L286.6 323.5 L287.1 323.8 L287.6 324.2 L288.1 324.7 L288.6 325.2 L289.1 325.7 L289.6 326.2 L290.1 326.8 L290.6 327.3 L291.1 327.9 L291.6 328.5 L292.1 329 L292.6 329.6 L293.1 330.2 L293.6 330.7 L294.1 331.2 L294.6 331.8 L295.1 332.3 L295.6 332.8 L296.1 333.3 L296.6 333.7 L297.1 334.2 L297.6 334.6 L298.1 335.1 L298.6 335.5 L299.1 335.9 L299.6 336.4 L300.1 336.8 L300.6 337.2 L301.1 337.6 L301.6 338 L302.1 338.4 L302.6 338.8 L303.1 339.1 L303.6 339.5 L304.1 339.9 L304.6 340.3 L305.1 340.8 L305.6 341.2 L306.1 341.6 L306.6 342 L307.1 342.4 L307.6 342.8 L308.1 343.3 L308.6 343.7 L309.1 344.2 L309.6 344.6 L310.1 345 L310.6 345.5 L311.1 345.9 L311.6 346.4 L312.1 346.8 L312.6 347.3 L313.1 347.7 L313.6 348.2 L314.1 348.6 L314.6 349 L315.1 349.5 L315.6 349.9 L316.1 350.3 L316.6 350.8 L317.1 351.2 L317.6 351.6 L318.1 352 L318.6 352.4 L319.1 352.8 L319.6 353.2 L320.1 353.6 L320.6 353.9 L321.1 354.3 L321.6 354.7 L322.1 355 L322.6 355.4 L323.1 355.7 L323.6 356 L324.1 356.3 L324.6 356.7 L325.1 357 L325.6 357.3 L326.1 357.5 L326.6 357.8 L327.1 358.1 L327.6 358.4 L328.1 358.6 L328.6 358.9 L329.1 359.1 L329.6 359.4 L330.1 359.6 L330.6 359.9 L331.1 360.1 L331.6 360.3 L332.1 360.5 L332.6 360.7 L333.1 360.9 L333.6 361.1 L334.1 361.3 L334.6 361.5 L335.1 361.7 L335.6 361.9 L336.1 362 L336.6 362.2 L337.1 362.4 L337.6 362.5 L338.1 362.7 L338.6 362.8 L339.1 363 L339.6 363.1 L340.1 363.3 L340.6 363.4 L341.1 363.5 L341.6 363.6 L342.1 363.8 L342.6 363.9 L343.1 364 L343.6 364.1 L344.1 364.2 L344.6 364.4 L345.1 364.5 L345.6 364.6 L346.1 364.7 L346.6 364.8 L347.1 364.9 L347.6 365 L348.1 365.1 L348.6 365.1 L349.1 365.2 L349.6 365.3 L350.1 365.4 L350.6 365.5 L351.1 365.6 L351.6 365.7 L352.1 365.7 L352.6 365.8 L353.1 365.9 L353.6 365.9 L354.1 366 L354.6 366.1 L355.1 366.2 L355.6 366.2 L356.1 366.3 L356.6 366.3 L357.1 366.4 L357.6 366.5 L358.1 366.5 L358.6 366.6 L359.1 366.6 L359.6 366.7 L360.1 366.7 L360.6 366.8 L361.1 366.9 L361.6 366.9 L362.1 367 L362.6 367 L363.1 367 L363.6 367.1 L364.1 367.1 L364.6 367.2 L365.1 367.2 L365.6 367.3 L366.1 367.3 L366.6 367.4 L367.1 367.4 L367.6 367.4 L368.1 367.5 L368.6 367.5 L369.1 367.5 L369.6 367.6 L370.1 367.6 L370.6 367.7 L371.1 367.7 L371.6 367.7 L372.1 367.8 L372.6 367.8 L373.1 367.8 L373.6 367.9 L374.1 367.9 L374.6 367.9 L375.1 367.9 L375.6 368 L376.1 368 L376.6 368 L377.1 368.1 L377.6 368.1 L378.1 368.1 L378.6 368.1 L379.1 368.2 L379.6 368.2 L380.1 368.2 L380.6 368.2 L381.1 368.3 L381.6 368.3 L382.1 368.3 L382.6 368.3 L383.1 368.4 L383.6 368.4 L384.1 368.4 L384.6 368.4 L385.1 368.4 L385.6 368.5 L386.1 368.5 L386.6 368.5 L387.1 368.5 L387.6 368.5 L388.1 368.6 L388.6 368.6 L389.1 368.6" fill="none" stroke="#111" stroke-width="1.3"/>
<path d="M224.6 384.4 L225.1 384.3 L225.6 384.3 L226.1 384.2 L226.6 384.2 L227.1 384.1 L227.6 384.1 L228.1 384 L228.6 383.9 L229.1 383.9 L229.6 383.8 L230.1 383.7 L230.6 383.7 L231.1 383.6 L231.6 383.5 L232.1 383.4 L232.6 383.4 L233.1 383.3 L233.6 383.2 L234.1 383.1 L234.6 383 L235.1 382.9 L235.6 382.9 L236.1 382.8 L236.6 382.7 L237.1 382.6 L237.6 382.5 L238.1 382.4 L238.6 382.3 L239.1 382.2 L239.6 382.1 L240.1 381.9 L240.6 381.8 L241.1 381.7 L241.6 381.6 L242.1 381.5 L242.6 381.3 L243.1 381.2 L243.6 381.1 L244.1 380.9 L244.6 380.8 L245.1 380.6 L245.6 380.5 L246.1 380.3 L246.6 380.1 L247.1 380 L247.6 379.8 L248.1 379.6 L248.6 379.4 L249.1 379.2 L249.6 379 L250.1 378.8 L250.6 378.6 L251.1 378.4 L251.6 378.2 L252.1 377.9 L252.6 377.7 L253.1 377.4 L253.6 377.2 L254.1 376.9 L254.6 376.6 L255.1 376.4 L255.6 376.1 L256.1 375.7 L256.6 375.4 L257.1 375.1 L257.6 374.7 L258.1 374.4 L258.6 374 L259.1 373.6 L259.6 373.2 L260.1 372.8 L260.6 372.4 L261.1 371.9 L261.6 371.5 L262.1 371 L262.6 370.5 L263.1 370 L263.6 369.4 L264.1 368.9 L264.6 368.3 L265.1 367.7 L265.6 367.1 L266.1 366.4 L266.6 365.8 L267.1 365.1 L267.6 364.4 L268.1 363.6 L268.6 362.9 L269.1 362.1 L269.6 361.3 L270.1 360.4 L270.6 359.6 L271.1 358.7 L271.6 357.8 L272.1 356.9 L272.6 356 L273.1 355 L273.6 354.1 L274.1 353.1 L274.6 352.1 L275.1 351.2 L275.6 350.2 L276.1 349.3 L276.6 348.3 L277.1 347.4 L277.6 346.6 L278.1 345.7 L278.6 344.9 L279.1 344.2 L279.6 343.5 L280.1 342.8 L280.6 342.3 L281.1 341.8 L281.6 341.4 L282.1 341 L282.6 340.8 L283.1 340.6 L283.6 340.5 L284.1 340.5 L284.6 340.6 L285.1 340.7 L285.6 340.9 L286.1 341.2 L286.6 341.6 L287.1 342 L287.6 342.4 L288.1 342.9 L288.6 343.4 L289.1 344 L289.6 344.6 L290.1 345.2 L290.6 345.8 L291.1 346.4 L291.6 347 L292.1 347.6 L292.6 348.3 L293.1 348.9 L293.6 349.5 L294.1 350.1 L294.6 350.6 L295.1 351.2 L295.6 351.7 L296.1 352.3 L296.6 352.8 L297.1 353.3 L297.6 353.8 L298.1 354.3 L298.6 354.8 L299.1 355.2 L299.6 355.7 L300.1 356.1 L300.6 356.5 L301.1 357 L301.6 357.4 L302.1 357.8 L302.6 358.2 L303.1 358.6 L303.6 359 L304.1 359.4 L304.6 359.8 L305.1 360.3 L305.6 360.7 L306.1 361.1 L306.6 361.5 L307.1 361.9 L307.6 362.3 L308.1 362.7 L308.6 363.1 L309.1 363.6 L309.6 364 L310.1 364.4 L310.6 364.8 L311.1 365.2 L311.6 365.6 L312.1 366 L312.6 366.5 L313.1 366.9 L313.6 367.3 L314.1 367.7 L314.6 368.1 L315.1 368.5 L315.6 368.9 L316.1 369.3 L316.6 369.6 L317.1 370 L317.6 370.4 L318.1 370.8 L318.6 371.1 L319.1 371.5 L319.6 371.8 L320.1 372.2 L320.6 372.5 L321.1 372.8 L321.6 373.1 L322.1 373.4 L322.6 373.8 L323.1 374 L323.6 374.3 L324.1 374.6 L324.6 374.9 L325.1 375.2 L325.6 375.4 L326.1 375.7 L326.6 376 L327.1 376.2 L327.6 376.4 L328.1 376.7 L328.6 376.9 L329.1 377.1 L329.6 377.3 L330.1 377.5 L330.6 377.7 L331.1 377.9 L331.6 378.1 L332.1 378.3 L332.6 378.5 L333.1 378.7 L333.6 378.9 L334.1 379 L334.6 379.2 L335.1 379.4 L335.6 379.5 L336.1 379.7 L336.6 379.8 L337.1 380 L337.6 380.1 L338.1 380.2 L338.6 380.4 L339.1 380.5 L339.6 380.6 L340.1 380.7 L340.6 380.9 L341.1 381 L341.6 381.1 L342.1 381.2 L342.6 381.3 L343.1 381.4 L343.6 381.5 L344.1 381.6 L344.6 381.7 L345.1 381.8 L345.6 381.9 L346.1 382 L346.6 382.1 L347.1 382.2 L347.6 382.3 L348.1 382.3 L348.6 382.4 L349.1 382.5 L349.6 382.6 L350.1 382.6 L350.6 382.7 L351.1 382.8 L351.6 382.9 L352.1 382.9 L352.6 383 L353.1 383.1 L353.6 383.1 L354.1 383.2 L354.6 383.2 L355.1 383.3 L355.6 383.4 L356.1 383.4 L356.6 383.5 L357.1 383.5 L357.6 383.6 L358.1 383.6 L358.6 383.7 L359.1 383.7 L359.6 383.8 L360.1 383.8 L360.6 383.9 L361.1 383.9 L361.6 383.9 L362.1 384 L362.6 384 L363.1 384.1 L363.6 384.1 L364.1 384.2 L364.6 384.2 L365.1 384.2 L365.6 384.3 L366.1 384.3 L366.6 384.3 L367.1 384.4 L367.6 384.4 L368.1 384.4 L368.6 384.5 L369.1 384.5 L369.6 384.5 L370.1 384.6 L370.6 384.6 L371.1 384.6 L371.6 384.7 L372.1 384.7 L372.6 384.7 L373.1 384.7 L373.6 384.8 L374.1 384.8 L374.6 384.8 L375.1 384.8 L375.6 384.9 L376.1 384.9 L376.6 384.9 L377.1 384.9 L377.6 385 L378.1 385 L378.6 385 L379.1 385 L379.6 385.1 L380.1 385.1 L380.6 385.1 L381.1 385.1 L381.6 385.1 L382.1 385.2 L382.6 385.2 L383.1 385.2 L383.6 385.2 L384.1 385.2 L384.6 385.2 L385.1 385.3 L385.6 385.3 L386.1 385.3 L386.6 385.3 L387.1 385.3 L387.6 385.3 L388.1 385.4 L388.6 385.4 L389.1 385.4" fill="none" stroke="#111" stroke-width="1.3"/>
<path d="M224.6 267.3 L225.1 267.3 L225.6 267.3 L226.1 267.2 L226.6 267.2 L227.1 267.2 L227.6 267.2 L228.1 267.1 L228.6 267.1 L229.1 267.1 L229.6 267 L230.1 267 L230.6 267 L231.1 267 L231.6 266.9 L232.1 266.9 L232.6 266.9 L233.1 266.8 L233.6 266.8 L234.1 266.7 L234.6 266.7 L235.1 266.7 L235.6 266.6 L236.1 266.6 L236.6 266.5 L237.1 266.5 L237.6 266.4 L238.1 266.4 L238.6 266.3 L239.1 266.3 L239.6 266.2 L240.1 266.2 L240.6 266.1 L241.1 266.1 L241.6 266 L242.1 265.9 L242.6 265.9 L243.1 265.8 L243.6 265.7 L244.1 265.7 L244.6 265.6 L245.1 265.5 L245.6 265.4 L246.1 265.3 L246.6 265.2 L247.1 265.2 L247.6 265.1 L248.1 265 L248.6 264.8 L249.1 264.7 L249.6 264.6 L250.1 264.5 L250.6 264.4 L251.1 264.2 L251.6 264.1 L252.1 264 L252.6 263.8 L253.1 263.7 L253.6 263.5 L254.1 263.3 L254.6 263.2 L255.1 263 L255.6 262.8 L256.1 262.6 L256.6 262.4 L257.1 262.1 L257.6 261.9 L258.1 261.7 L258.6 261.4 L259.1 261.1 L259.6 260.8 L260.1 260.5 L260.6 260.2 L261.1 259.9 L261.6 259.5 L262.1 259.2 L262.6 258.8 L263.1 258.4 L263.6 258 L264.1 257.5 L264.6 257.1 L265.1 256.6 L265.6 256.1 L266.1 255.5 L266.6 255 L267.1 254.4 L267.6 253.8 L268.1 253.2 L268.6 252.5 L269.1 251.9 L269.6 251.2 L270.1 250.5 L270.6 249.8 L271.1 249.1 L271.6 248.4 L272.1 247.7 L272.6 247 L273.1 246.3 L273.6 245.7 L274.1 245 L274.6 244.5 L275.1 243.9 L275.6 243.5 L276.1 243.1 L276.6 242.8 L277.1 242.5 L277.6 242.4 L278.1 242.3 L278.6 242.3 L279.1 242.4 L279.6 242.7 L280.1 242.9 L280.6 243.3 L281.1 243.7 L281.6 244.3 L282.1 244.8 L282.6 245.4 L283.1 246.1 L283.6 246.7 L284.1 247.4 L284.6 248.1 L285.1 248.8 L285.6 249.5 L286.1 250.2 L286.6 250.9 L287.1 251.6 L287.6 252.3 L288.1 252.9 L288.6 253.6 L289.1 254.2 L289.6 254.8 L290.1 255.3 L290.6 255.9 L291.1 256.4 L291.6 256.9 L292.1 257.3 L292.6 257.8 L293.1 258.2 L293.6 258.6 L294.1 259 L294.6 259.4 L295.1 259.8 L295.6 260.1 L296.1 260.4 L296.6 260.7 L297.1 261 L297.6 261.3 L298.1 261.6 L298.6 261.8 L299.1 262 L299.6 262.3 L300.1 262.5 L300.6 262.7 L301.1 262.9 L301.6 263.1 L302.1 263.3 L302.6 263.4 L303.1 263.6 L303.6 263.8 L304.1 263.9 L304.6 264.1 L305.1 264.2 L305.6 264.3 L306.1 264.5 L306.6 264.6 L307.1 264.7 L307.6 264.8 L308.1 264.9 L308.6 265 L309.1 265.1 L309.6 265.2 L310.1 265.3 L310.6 265.4 L311.1 265.5 L311.6 265.6 L312.1 265.6 L312.6 265.7 L313.1 265.8 L313.6 265.8 L314.1 265.9 L314.6 266 L315.1 266 L315.6 266.1 L316.1 266.2 L316.6 266.2 L317.1 266.3 L317.6 266.3 L318.1 266.4 L318.6 266.4 L319.1 266.5 L319.6 266.5 L320.1 266.6 L320.6 266.6 L321.1 266.6 L321.6 266.7 L322.1 266.7 L322.6 266.8 L323.1 266.8 L323.6 266.8 L324.1 266.9 L324.6 266.9 L325.1 266.9 L325.6 267 L326.1 267 L326.6 267 L327.1 267.1 L327.6 267.1 L328.1 267.1 L328.6 267.1 L329.1 267.2 L329.6 267.2 L330.1 267.2 L330.6 267.2 L331.1 267.3 L331.6 267.3 L332.1 267.3 L332.6 267.3 L333.1 267.4 L333.6 267.4 L334.1 267.4 L334.6 267.4 L335.1 267.4 L335.6 267.5 L336.1 267.5 L336.6 267.5 L337.1 267.5 L337.6 267.5 L338.1 267.5 L338.6 267.6 L339.1 267.6 L339.6 267.6 L340.1 267.6 L340.6 267.6 L341.1 267.6 L341.6 267.6 L342.1 267.7 L342.6 267.7 L343.1 267.7 L343.6 267.7 L344.1 267.7 L344.6 267.7 L345.1 267.7 L345.6 267.7 L346.1 267.8 L346.6 267.8 L347.1 267.8 L347.6 267.8 L348.1 267.8 L348.6 267.8 L349.1 267.8 L349.6 267.8 L350.1 267.8 L350.6 267.9 L351.1 267.9 L351.6 267.9 L352.1 267.9 L352.6 267.9 L353.1 267.9 L353.6 267.9 L354.1 267.9 L354.6 267.9 L355.1 267.9 L355.6 267.9 L356.1 267.9 L356.6 268 L357.1 268 L357.6 268 L358.1 268 L358.6 268 L359.1 268 L359.6 268 L360.1 268 L360.6 268 L361.1 268 L361.6 268 L362.1 268 L362.6 268 L363.1 268 L363.6 268 L364.1 268.1 L364.6 268.1 L365.1 268.1 L365.6 268.1 L366.1 268.1 L366.6 268.1 L367.1 268.1 L367.6 268.1 L368.1 268.1 L368.6 268.1 L369.1 268.1 L369.6 268.1 L370.1 268.1 L370.6 268.1 L371.1 268.1 L371.6 268.1 L372.1 268.1 L372.6 268.1 L373.1 268.1 L373.6 268.1 L374.1 268.1 L374.6 268.2 L375.1 268.2 L375.6 268.2 L376.1 268.2 L376.6 268.2 L377.1 268.2 L377.6 268.2 L378.1 268.2 L378.6 268.2 L379.1 268.2 L379.6 268.2 L380.1 268.2 L380.6 268.2 L381.1 268.2 L381.6 268.2 L382.1 268.2 L382.6 268.2 L383.1 268.2 L383.6 268.2 L384.1 268.2 L384.6 268.2 L385.1 268.2 L385.6 268.2 L386.1 268.2 L386.6 268.2 L387.1 268.2 L387.6 268.2 L388.1 268.2 L388.6 268.2 L389.1 268.2" fill="none" stroke="#2e9e2e" stroke-width="1.0" stroke-dasharray="2.6 1.8"/>
<path d="M224.6 268.4 L225.1 268.4 L225.6 268.4 L226.1 268.4 L226.6 268.4 L227.1 268.4 L227.6 268.4 L228.1 268.4 L228.6 268.4 L229.1 268.3 L229.6 268.3 L230.1 268.3 L230.6 268.3 L231.1 268.3 L231.6 268.3 L232.1 268.3 L232.6 268.3 L233.1 268.3 L233.6 268.3 L234.1 268.3 L234.6 268.3 L235.1 268.3 L235.6 268.3 L236.1 268.2 L236.6 268.2 L237.1 268.2 L237.6 268.2 L238.1 268.2 L238.6 268.2 L239.1 268.2 L239.6 268.2 L240.1 268.2 L240.6 268.2 L241.1 268.2 L241.6 268.1 L242.1 268.1 L242.6 268.1 L243.1 268.1 L243.6 268.1 L244.1 268.1 L244.6 268.1 L245.1 268.1 L245.6 268.1 L246.1 268 L246.6 268 L247.1 268 L247.6 268 L248.1 268 L248.6 268 L249.1 268 L249.6 267.9 L250.1 267.9 L250.6 267.9 L251.1 267.9 L251.6 267.9 L252.1 267.9 L252.6 267.8 L253.1 267.8 L253.6 267.8 L254.1 267.8 L254.6 267.8 L255.1 267.8 L255.6 267.7 L256.1 267.7 L256.6 267.7 L257.1 267.7 L257.6 267.6 L258.1 267.6 L258.6 267.6 L259.1 267.6 L259.6 267.5 L260.1 267.5 L260.6 267.5 L261.1 267.5 L261.6 267.4 L262.1 267.4 L262.6 267.4 L263.1 267.3 L263.6 267.3 L264.1 267.3 L264.6 267.2 L265.1 267.2 L265.6 267.2 L266.1 267.1 L266.6 267.1 L267.1 267.1 L267.6 267 L268.1 267 L268.6 266.9 L269.1 266.9 L269.6 266.8 L270.1 266.8 L270.6 266.7 L271.1 266.7 L271.6 266.6 L272.1 266.6 L272.6 266.5 L273.1 266.4 L273.6 266.4 L274.1 266.3 L274.6 266.2 L275.1 266.2 L275.6 266.1 L276.1 266 L276.6 265.9 L277.1 265.9 L277.6 265.8 L278.1 265.7 L278.6 265.6 L279.1 265.5 L279.6 265.4 L280.1 265.3 L280.6 265.2 L281.1 265.1 L281.6 264.9 L282.1 264.8 L282.6 264.7 L283.1 264.6 L283.6 264.4 L284.1 264.3 L284.6 264.1 L285.1 264 L285.6 263.8 L286.1 263.6 L286.6 263.4 L287.1 263.3 L287.6 263.1 L288.1 262.8 L288.6 262.6 L289.1 262.4 L289.6 262.2 L290.1 261.9 L290.6 261.7 L291.1 261.4 L291.6 261.2 L292.1 260.9 L292.6 260.6 L293.1 260.3 L293.6 260 L294.1 259.7 L294.6 259.3 L295.1 259 L295.6 258.7 L296.1 258.3 L296.6 258 L297.1 257.6 L297.6 257.3 L298.1 256.9 L298.6 256.6 L299.1 256.2 L299.6 255.9 L300.1 255.6 L300.6 255.3 L301.1 255 L301.6 254.7 L302.1 254.5 L302.6 254.3 L303.1 254.1 L303.6 253.9 L304.1 253.8 L304.6 253.7 L305.1 253.7 L305.6 253.7 L306.1 253.7 L306.6 253.8 L307.1 253.9 L307.6 254.1 L308.1 254.2 L308.6 254.5 L309.1 254.7 L309.6 255 L310.1 255.2 L310.6 255.5 L311.1 255.9 L311.6 256.2 L312.1 256.5 L312.6 256.9 L313.1 257.2 L313.6 257.6 L314.1 257.9 L314.6 258.3 L315.1 258.6 L315.6 259 L316.1 259.3 L316.6 259.6 L317.1 259.9 L317.6 260.2 L318.1 260.5 L318.6 260.8 L319.1 261.1 L319.6 261.4 L320.1 261.6 L320.6 261.9 L321.1 262.1 L321.6 262.4 L322.1 262.6 L322.6 262.8 L323.1 263 L323.6 263.2 L324.1 263.4 L324.6 263.6 L325.1 263.8 L325.6 263.9 L326.1 264.1 L326.6 264.2 L327.1 264.4 L327.6 264.5 L328.1 264.7 L328.6 264.8 L329.1 264.9 L329.6 265 L330.1 265.2 L330.6 265.3 L331.1 265.4 L331.6 265.5 L332.1 265.6 L332.6 265.7 L333.1 265.8 L333.6 265.8 L334.1 265.9 L334.6 266 L335.1 266.1 L335.6 266.2 L336.1 266.2 L336.6 266.3 L337.1 266.4 L337.6 266.4 L338.1 266.5 L338.6 266.6 L339.1 266.6 L339.6 266.7 L340.1 266.7 L340.6 266.8 L341.1 266.8 L341.6 266.9 L342.1 266.9 L342.6 267 L343.1 267 L343.6 267 L344.1 267.1 L344.6 267.1 L345.1 267.2 L345.6 267.2 L346.1 267.2 L346.6 267.3 L347.1 267.3 L347.6 267.3 L348.1 267.4 L348.6 267.4 L349.1 267.4 L349.6 267.5 L350.1 267.5 L350.6 267.5 L351.1 267.5 L351.6 267.6 L352.1 267.6 L352.6 267.6 L353.1 267.6 L353.6 267.7 L354.1 267.7 L354.6 267.7 L355.1 267.7 L355.6 267.7 L356.1 267.8 L356.6 267.8 L357.1 267.8 L357.6 267.8 L358.1 267.8 L358.6 267.9 L359.1 267.9 L359.6 267.9 L360.1 267.9 L360.6 267.9 L361.1 267.9 L361.6 268 L362.1 268 L362.6 268 L363.1 268 L363.6 268 L364.1 268 L364.6 268 L365.1 268.1 L365.6 268.1 L366.1 268.1 L366.6 268.1 L367.1 268.1 L367.6 268.1 L368.1 268.1 L368.6 268.1 L369.1 268.1 L369.6 268.2 L370.1 268.2 L370.6 268.2 L371.1 268.2 L371.6 268.2 L372.1 268.2 L372.6 268.2 L373.1 268.2 L373.6 268.2 L374.1 268.2 L374.6 268.2 L375.1 268.3 L375.6 268.3 L376.1 268.3 L376.6 268.3 L377.1 268.3 L377.6 268.3 L378.1 268.3 L378.6 268.3 L379.1 268.3 L379.6 268.3 L380.1 268.3 L380.6 268.3 L381.1 268.3 L381.6 268.3 L382.1 268.4 L382.6 268.4 L383.1 268.4 L383.6 268.4 L384.1 268.4 L384.6 268.4 L385.1 268.4 L385.6 268.4 L386.1 268.4 L386.6 268.4 L387.1 268.4 L387.6 268.4 L388.1 268.4 L388.6 268.4 L389.1 268.4" fill="none" stroke="#ff1a1a" stroke-width="1.0" stroke-dasharray="2.6 1.8"/>
<path d="M224.6 384.8 L225.1 384.8 L225.6 384.8 L226.1 384.7 L226.6 384.7 L227.1 384.7 L227.6 384.7 L228.1 384.7 L228.6 384.6 L229.1 384.6 L229.6 384.6 L230.1 384.6 L230.6 384.6 L231.1 384.5 L231.6 384.5 L232.1 384.5 L232.6 384.5 L233.1 384.4 L233.6 384.4 L234.1 384.4 L234.6 384.3 L235.1 384.3 L235.6 384.3 L236.1 384.2 L236.6 384.2 L237.1 384.2 L237.6 384.1 L238.1 384.1 L238.6 384.1 L239.1 384 L239.6 384 L240.1 384 L240.6 383.9 L241.1 383.9 L241.6 383.8 L242.1 383.8 L242.6 383.7 L243.1 383.7 L243.6 383.6 L244.1 383.6 L244.6 383.5 L245.1 383.5 L245.6 383.4 L246.1 383.4 L246.6 383.3 L247.1 383.2 L247.6 383.2 L248.1 383.1 L248.6 383 L249.1 383 L249.6 382.9 L250.1 382.8 L250.6 382.7 L251.1 382.6 L251.6 382.6 L252.1 382.5 L252.6 382.4 L253.1 382.3 L253.6 382.2 L254.1 382.1 L254.6 382 L255.1 381.8 L255.6 381.7 L256.1 381.6 L256.6 381.5 L257.1 381.3 L257.6 381.2 L258.1 381 L258.6 380.9 L259.1 380.7 L259.6 380.6 L260.1 380.4 L260.6 380.2 L261.1 380 L261.6 379.8 L262.1 379.6 L262.6 379.4 L263.1 379.1 L263.6 378.9 L264.1 378.6 L264.6 378.4 L265.1 378.1 L265.6 377.8 L266.1 377.5 L266.6 377.2 L267.1 376.8 L267.6 376.5 L268.1 376.1 L268.6 375.7 L269.1 375.3 L269.6 374.9 L270.1 374.5 L270.6 374 L271.1 373.5 L271.6 373 L272.1 372.5 L272.6 371.9 L273.1 371.4 L273.6 370.8 L274.1 370.2 L274.6 369.6 L275.1 368.9 L275.6 368.3 L276.1 367.6 L276.6 366.9 L277.1 366.2 L277.6 365.5 L278.1 364.8 L278.6 364.2 L279.1 363.5 L279.6 362.9 L280.1 362.3 L280.6 361.7 L281.1 361.2 L281.6 360.8 L282.1 360.4 L282.6 360 L283.1 359.8 L283.6 359.6 L284.1 359.5 L284.6 359.5 L285.1 359.6 L285.6 359.7 L286.1 360 L286.6 360.3 L287.1 360.7 L287.6 361.1 L288.1 361.6 L288.6 362.2 L289.1 362.8 L289.6 363.4 L290.1 364 L290.6 364.7 L291.1 365.4 L291.6 366.1 L292.1 366.8 L292.6 367.4 L293.1 368.1 L293.6 368.8 L294.1 369.4 L294.6 370.1 L295.1 370.7 L295.6 371.3 L296.1 371.8 L296.6 372.4 L297.1 372.9 L297.6 373.4 L298.1 373.9 L298.6 374.4 L299.1 374.8 L299.6 375.3 L300.1 375.7 L300.6 376.1 L301.1 376.4 L301.6 376.8 L302.1 377.1 L302.6 377.4 L303.1 377.8 L303.6 378 L304.1 378.3 L304.6 378.6 L305.1 378.8 L305.6 379.1 L306.1 379.3 L306.6 379.5 L307.1 379.8 L307.6 380 L308.1 380.2 L308.6 380.3 L309.1 380.5 L309.6 380.7 L310.1 380.9 L310.6 381 L311.1 381.2 L311.6 381.3 L312.1 381.4 L312.6 381.6 L313.1 381.7 L313.6 381.8 L314.1 381.9 L314.6 382 L315.1 382.2 L315.6 382.3 L316.1 382.4 L316.6 382.4 L317.1 382.5 L317.6 382.6 L318.1 382.7 L318.6 382.8 L319.1 382.9 L319.6 382.9 L320.1 383 L320.6 383.1 L321.1 383.2 L321.6 383.2 L322.1 383.3 L322.6 383.4 L323.1 383.4 L323.6 383.5 L324.1 383.5 L324.6 383.6 L325.1 383.6 L325.6 383.7 L326.1 383.7 L326.6 383.8 L327.1 383.8 L327.6 383.9 L328.1 383.9 L328.6 383.9 L329.1 384 L329.6 384 L330.1 384.1 L330.6 384.1 L331.1 384.1 L331.6 384.2 L332.1 384.2 L332.6 384.2 L333.1 384.3 L333.6 384.3 L334.1 384.3 L334.6 384.4 L335.1 384.4 L335.6 384.4 L336.1 384.4 L336.6 384.5 L337.1 384.5 L337.6 384.5 L338.1 384.5 L338.6 384.6 L339.1 384.6 L339.6 384.6 L340.1 384.6 L340.6 384.7 L341.1 384.7 L341.6 384.7 L342.1 384.7 L342.6 384.7 L343.1 384.8 L343.6 384.8 L344.1 384.8 L344.6 384.8 L345.1 384.8 L345.6 384.8 L346.1 384.9 L346.6 384.9 L347.1 384.9 L347.6 384.9 L348.1 384.9 L348.6 384.9 L349.1 385 L349.6 385 L350.1 385 L350.6 385 L351.1 385 L351.6 385 L352.1 385 L352.6 385 L353.1 385.1 L353.6 385.1 L354.1 385.1 L354.6 385.1 L355.1 385.1 L355.6 385.1 L356.1 385.1 L356.6 385.1 L357.1 385.1 L357.6 385.2 L358.1 385.2 L358.6 385.2 L359.1 385.2 L359.6 385.2 L360.1 385.2 L360.6 385.2 L361.1 385.2 L361.6 385.2 L362.1 385.2 L362.6 385.2 L363.1 385.3 L363.6 385.3 L364.1 385.3 L364.6 385.3 L365.1 385.3 L365.6 385.3 L366.1 385.3 L366.6 385.3 L367.1 385.3 L367.6 385.3 L368.1 385.3 L368.6 385.3 L369.1 385.3 L369.6 385.3 L370.1 385.4 L370.6 385.4 L371.1 385.4 L371.6 385.4 L372.1 385.4 L372.6 385.4 L373.1 385.4 L373.6 385.4 L374.1 385.4 L374.6 385.4 L375.1 385.4 L375.6 385.4 L376.1 385.4 L376.6 385.4 L377.1 385.4 L377.6 385.4 L378.1 385.4 L378.6 385.4 L379.1 385.5 L379.6 385.5 L380.1 385.5 L380.6 385.5 L381.1 385.5 L381.6 385.5 L382.1 385.5 L382.6 385.5 L383.1 385.5 L383.6 385.5 L384.1 385.5 L384.6 385.5 L385.1 385.5 L385.6 385.5 L386.1 385.5 L386.6 385.5 L387.1 385.5 L387.6 385.5 L388.1 385.5 L388.6 385.5 L389.1 385.5" fill="none" stroke="#2e9e2e" stroke-width="1.0" stroke-dasharray="2.6 1.8"/>
<path d="M224.6 385.2 L225.1 385.2 L225.6 385.2 L226.1 385.2 L226.6 385.2 L227.1 385.2 L227.6 385.2 L228.1 385.2 L228.6 385.2 L229.1 385.2 L229.6 385.2 L230.1 385.2 L230.6 385.2 L231.1 385.1 L231.6 385.1 L232.1 385.1 L232.6 385.1 L233.1 385.1 L233.6 385.1 L234.1 385.1 L234.6 385.1 L235.1 385.1 L235.6 385.1 L236.1 385.1 L236.6 385.1 L237.1 385.1 L237.6 385.1 L238.1 385.1 L238.6 385.1 L239.1 385.1 L239.6 385.1 L240.1 385 L240.6 385 L241.1 385 L241.6 385 L242.1 385 L242.6 385 L243.1 385 L243.6 385 L244.1 385 L244.6 385 L245.1 385 L245.6 385 L246.1 385 L246.6 384.9 L247.1 384.9 L247.6 384.9 L248.1 384.9 L248.6 384.9 L249.1 384.9 L249.6 384.9 L250.1 384.9 L250.6 384.9 L251.1 384.8 L251.6 384.8 L252.1 384.8 L252.6 384.8 L253.1 384.8 L253.6 384.8 L254.1 384.8 L254.6 384.8 L255.1 384.7 L255.6 384.7 L256.1 384.7 L256.6 384.7 L257.1 384.7 L257.6 384.7 L258.1 384.7 L258.6 384.6 L259.1 384.6 L259.6 384.6 L260.1 384.6 L260.6 384.6 L261.1 384.5 L261.6 384.5 L262.1 384.5 L262.6 384.5 L263.1 384.5 L263.6 384.4 L264.1 384.4 L264.6 384.4 L265.1 384.4 L265.6 384.3 L266.1 384.3 L266.6 384.3 L267.1 384.3 L267.6 384.2 L268.1 384.2 L268.6 384.2 L269.1 384.1 L269.6 384.1 L270.1 384.1 L270.6 384 L271.1 384 L271.6 383.9 L272.1 383.9 L272.6 383.9 L273.1 383.8 L273.6 383.8 L274.1 383.7 L274.6 383.7 L275.1 383.6 L275.6 383.6 L276.1 383.5 L276.6 383.5 L277.1 383.4 L277.6 383.3 L278.1 383.3 L278.6 383.2 L279.1 383.1 L279.6 383.1 L280.1 383 L280.6 382.9 L281.1 382.8 L281.6 382.8 L282.1 382.7 L282.6 382.6 L283.1 382.5 L283.6 382.4 L284.1 382.3 L284.6 382.2 L285.1 382.1 L285.6 381.9 L286.1 381.8 L286.6 381.7 L287.1 381.6 L287.6 381.4 L288.1 381.3 L288.6 381.2 L289.1 381 L289.6 380.9 L290.1 380.7 L290.6 380.5 L291.1 380.4 L291.6 380.2 L292.1 380 L292.6 379.9 L293.1 379.7 L293.6 379.5 L294.1 379.3 L294.6 379.1 L295.1 379 L295.6 378.8 L296.1 378.6 L296.6 378.4 L297.1 378.2 L297.6 378.1 L298.1 377.9 L298.6 377.8 L299.1 377.6 L299.6 377.5 L300.1 377.4 L300.6 377.3 L301.1 377.2 L301.6 377.1 L302.1 377.1 L302.6 377 L303.1 377 L303.6 377 L304.1 377 L304.6 377.1 L305.1 377.1 L305.6 377.2 L306.1 377.3 L306.6 377.4 L307.1 377.5 L307.6 377.6 L308.1 377.8 L308.6 377.9 L309.1 378.1 L309.6 378.3 L310.1 378.4 L310.6 378.6 L311.1 378.8 L311.6 379 L312.1 379.2 L312.6 379.4 L313.1 379.5 L313.6 379.7 L314.1 379.9 L314.6 380.1 L315.1 380.2 L315.6 380.4 L316.1 380.6 L316.6 380.7 L317.1 380.9 L317.6 381 L318.1 381.2 L318.6 381.3 L319.1 381.5 L319.6 381.6 L320.1 381.7 L320.6 381.9 L321.1 382 L321.6 382.1 L322.1 382.2 L322.6 382.3 L323.1 382.4 L323.6 382.5 L324.1 382.6 L324.6 382.7 L325.1 382.8 L325.6 382.9 L326.1 382.9 L326.6 383 L327.1 383.1 L327.6 383.2 L328.1 383.2 L328.6 383.3 L329.1 383.4 L329.6 383.4 L330.1 383.5 L330.6 383.5 L331.1 383.6 L331.6 383.6 L332.1 383.7 L332.6 383.7 L333.1 383.8 L333.6 383.8 L334.1 383.9 L334.6 383.9 L335.1 384 L335.6 384 L336.1 384 L336.6 384.1 L337.1 384.1 L337.6 384.1 L338.1 384.2 L338.6 384.2 L339.1 384.2 L339.6 384.3 L340.1 384.3 L340.6 384.3 L341.1 384.3 L341.6 384.4 L342.1 384.4 L342.6 384.4 L343.1 384.4 L343.6 384.5 L344.1 384.5 L344.6 384.5 L345.1 384.5 L345.6 384.5 L346.1 384.6 L346.6 384.6 L347.1 384.6 L347.6 384.6 L348.1 384.6 L348.6 384.7 L349.1 384.7 L349.6 384.7 L350.1 384.7 L350.6 384.7 L351.1 384.7 L351.6 384.8 L352.1 384.8 L352.6 384.8 L353.1 384.8 L353.6 384.8 L354.1 384.8 L354.6 384.8 L355.1 384.8 L355.6 384.9 L356.1 384.9 L356.6 384.9 L357.1 384.9 L357.6 384.9 L358.1 384.9 L358.6 384.9 L359.1 384.9 L359.6 384.9 L360.1 384.9 L360.6 385 L361.1 385 L361.6 385 L362.1 385 L362.6 385 L363.1 385 L363.6 385 L364.1 385 L364.6 385 L365.1 385 L365.6 385 L366.1 385 L366.6 385 L367.1 385.1 L367.6 385.1 L368.1 385.1 L368.6 385.1 L369.1 385.1 L369.6 385.1 L370.1 385.1 L370.6 385.1 L371.1 385.1 L371.6 385.1 L372.1 385.1 L372.6 385.1 L373.1 385.1 L373.6 385.1 L374.1 385.1 L374.6 385.1 L375.1 385.1 L375.6 385.1 L376.1 385.2 L376.6 385.2 L377.1 385.2 L377.6 385.2 L378.1 385.2 L378.6 385.2 L379.1 385.2 L379.6 385.2 L380.1 385.2 L380.6 385.2 L381.1 385.2 L381.6 385.2 L382.1 385.2 L382.6 385.2 L383.1 385.2 L383.6 385.2 L384.1 385.2 L384.6 385.2 L385.1 385.2 L385.6 385.2 L386.1 385.2 L386.6 385.2 L387.1 385.2 L387.6 385.2 L388.1 385.2 L388.6 385.2 L389.1 385.2" fill="none" stroke="#ff1a1a" stroke-width="1.0" stroke-dasharray="2.6 1.8"/>
<text x="255" y="237.1" font-size="11.2" text-anchor="start" font-weight="normal" fill="#111" >E</text>
<text x="262.6" y="240.3" font-size="8" text-anchor="start" font-weight="normal" fill="#111" >1</text>
<line x1="263.6" y1="231.6" x2="263.6" y2="225.8" stroke="#111" stroke-width="1" />
<line x1="264.9" y1="231.6" x2="264.9" y2="225.8" stroke="#111" stroke-width="1" />
<text x="310.4" y="237.1" font-size="11.2" text-anchor="start" font-weight="normal" fill="#111" >E</text>
<text x="318" y="240.5" font-size="8" text-anchor="start" font-weight="normal" fill="#111" >2</text>
<line x1="318.4" y1="231.8" x2="318.4" y2="225.6" stroke="#111" stroke-width="0.9" />
<line x1="320.7" y1="231.8" x2="320.7" y2="225.6" stroke="#111" stroke-width="0.9" />
<path d="M599.7 9 H460 M604 9 H662.6 V200.6 H604 M599.7 200.6 H460 V9" fill="none" stroke="#1a1a1a" stroke-width="1.1"/>
<line x1="597.4" y1="3.8" x2="602.4" y2="13.6" stroke="#111" stroke-width="1" />
<line x1="601.6" y1="3.8" x2="606.6" y2="13.6" stroke="#111" stroke-width="1" />
<line x1="597.5" y1="196.2" x2="601.7" y2="205.4" stroke="#111" stroke-width="1" />
<line x1="602.2" y1="196.2" x2="606.4" y2="205.4" stroke="#111" stroke-width="1" />
<line x1="455.5" y1="184.5" x2="460" y2="184.5" stroke="#1a1a1a" stroke-width="1" />
<line x1="457.5" y1="166" x2="460" y2="166" stroke="#1a1a1a" stroke-width="1" />
<line x1="455.5" y1="147.5" x2="460" y2="147.5" stroke="#1a1a1a" stroke-width="1" />
<line x1="457.5" y1="129" x2="460" y2="129" stroke="#1a1a1a" stroke-width="1" />
<line x1="455.5" y1="110.5" x2="460" y2="110.5" stroke="#1a1a1a" stroke-width="1" />
<line x1="457.5" y1="92" x2="460" y2="92" stroke="#1a1a1a" stroke-width="1" />
<line x1="455.5" y1="73.5" x2="460" y2="73.5" stroke="#1a1a1a" stroke-width="1" />
<line x1="457.5" y1="55" x2="460" y2="55" stroke="#1a1a1a" stroke-width="1" />
<line x1="455.5" y1="36.5" x2="460" y2="36.5" stroke="#1a1a1a" stroke-width="1" />
<line x1="457.5" y1="18" x2="460" y2="18" stroke="#1a1a1a" stroke-width="1" />
<text x="450.6" y="188.6" font-size="11.2" text-anchor="end" font-weight="normal" fill="#111" >0.36</text>
<text x="450.6" y="151.6" font-size="11.2" text-anchor="end" font-weight="normal" fill="#111" >0.38</text>
<text x="450.6" y="114.6" font-size="11.2" text-anchor="end" font-weight="normal" fill="#111" >0.40</text>
<text x="450.6" y="77.6" font-size="11.2" text-anchor="end" font-weight="normal" fill="#111" >0.42</text>
<text x="450.6" y="40.6" font-size="11.2" text-anchor="end" font-weight="normal" fill="#111" >0.44</text>
<line x1="463.1" y1="200.6" x2="463.1" y2="204.8" stroke="#1a1a1a" stroke-width="1" />
<line x1="479" y1="200.6" x2="479" y2="203" stroke="#1a1a1a" stroke-width="1" />
<line x1="494.8" y1="200.6" x2="494.8" y2="203" stroke="#1a1a1a" stroke-width="1" />
<line x1="510.7" y1="200.6" x2="510.7" y2="203" stroke="#1a1a1a" stroke-width="1" />
<line x1="526.5" y1="200.6" x2="526.5" y2="204.8" stroke="#1a1a1a" stroke-width="1" />
<line x1="542.4" y1="200.6" x2="542.4" y2="203" stroke="#1a1a1a" stroke-width="1" />
<line x1="558.2" y1="200.6" x2="558.2" y2="203" stroke="#1a1a1a" stroke-width="1" />
<line x1="574.1" y1="200.6" x2="574.1" y2="203" stroke="#1a1a1a" stroke-width="1" />
<line x1="589.9" y1="200.6" x2="589.9" y2="204.8" stroke="#1a1a1a" stroke-width="1" />
<line x1="616.1" y1="200.6" x2="616.1" y2="204.8" stroke="#1a1a1a" stroke-width="1" />
<line x1="626.7" y1="200.6" x2="626.7" y2="203" stroke="#1a1a1a" stroke-width="1" />
<line x1="637.3" y1="200.6" x2="637.3" y2="203" stroke="#1a1a1a" stroke-width="1" />
<line x1="647.9" y1="200.6" x2="647.9" y2="203" stroke="#1a1a1a" stroke-width="1" />
<line x1="658.4" y1="200.6" x2="658.4" y2="204.8" stroke="#1a1a1a" stroke-width="1" />
<text x="463.1" y="217.6" font-size="11.2" text-anchor="middle" font-weight="normal" fill="#111" >0</text>
<text x="526.5" y="217.6" font-size="11.2" text-anchor="middle" font-weight="normal" fill="#111" >20</text>
<text x="589.9" y="217.6" font-size="11.2" text-anchor="middle" font-weight="normal" fill="#111" >40</text>
<text x="616.1" y="217.6" font-size="11.2" text-anchor="middle" font-weight="normal" fill="#111" >100</text>
<text x="658.4" y="217.6" font-size="11.2" text-anchor="middle" font-weight="normal" fill="#111" >300</text>
<text x="0" y="0" font-size="11.2" text-anchor="middle" font-weight="normal" fill="#111" transform="translate(417.2 105) rotate(-90)">Probe energy (eV)</text>
<text x="561.2" y="235.2" font-size="11.2" text-anchor="middle" font-weight="normal" fill="#111" >Delay (ps)</text>
<path d="M466.3 144.7 V159.7 M463.5 144.7 H469.1 M463.5 159.7 H469.1" stroke="#2a8a2a" stroke-width="1.1" fill="none"/>
<circle cx="466.3" cy="152.2" r="2.5" fill="#fff" stroke="#2a8a2a" stroke-width="1.1"/>
<path d="M469.5 144.8 V158.8 M466.7 144.8 H472.3 M466.7 158.8 H472.3" stroke="#2a8a2a" stroke-width="1.1" fill="none"/>
<circle cx="469.5" cy="151.8" r="2.5" fill="#fff" stroke="#2a8a2a" stroke-width="1.1"/>
<path d="M475.6 147.1 V159.1 M472.8 147.1 H478.4 M472.8 159.1 H478.4" stroke="#2a8a2a" stroke-width="1.1" fill="none"/>
<circle cx="475.6" cy="153.1" r="2.5" fill="#fff" stroke="#2a8a2a" stroke-width="1.1"/>
<path d="M481.9 149.1 V159.1 M479.1 149.1 H484.7 M479.1 159.1 H484.7" stroke="#2a8a2a" stroke-width="1.1" fill="none"/>
<circle cx="481.9" cy="154.1" r="2.5" fill="#fff" stroke="#2a8a2a" stroke-width="1.1"/>
<path d="M488.3 151.4 V161.4 M485.5 151.4 H491.1 M485.5 161.4 H491.1" stroke="#2a8a2a" stroke-width="1.1" fill="none"/>
<circle cx="488.3" cy="156.4" r="2.5" fill="#fff" stroke="#2a8a2a" stroke-width="1.1"/>
<path d="M494.8 153.4 V162.4 M492 153.4 H497.6 M492 162.4 H497.6" stroke="#2a8a2a" stroke-width="1.1" fill="none"/>
<circle cx="494.8" cy="157.9" r="2.5" fill="#fff" stroke="#2a8a2a" stroke-width="1.1"/>
<path d="M501.1 157.1 V165.1 M498.3 157.1 H503.9 M498.3 165.1 H503.9" stroke="#2a8a2a" stroke-width="1.1" fill="none"/>
<circle cx="501.1" cy="161.1" r="2.5" fill="#fff" stroke="#2a8a2a" stroke-width="1.1"/>
<path d="M507.5 157.7 V165.7 M504.7 157.7 H510.3 M504.7 165.7 H510.3" stroke="#2a8a2a" stroke-width="1.1" fill="none"/>
<circle cx="507.5" cy="161.7" r="2.5" fill="#fff" stroke="#2a8a2a" stroke-width="1.1"/>
<path d="M513.9 159.6 V167.6 M511.1 159.6 H516.7 M511.1 167.6 H516.7" stroke="#2a8a2a" stroke-width="1.1" fill="none"/>
<circle cx="513.9" cy="163.6" r="2.5" fill="#fff" stroke="#2a8a2a" stroke-width="1.1"/>
<path d="M520.1 161.6 V168.6 M517.3 161.6 H522.9 M517.3 168.6 H522.9" stroke="#2a8a2a" stroke-width="1.1" fill="none"/>
<circle cx="520.1" cy="165.1" r="2.5" fill="#fff" stroke="#2a8a2a" stroke-width="1.1"/>
<path d="M526.5 163.3 V170.3 M523.7 163.3 H529.3 M523.7 170.3 H529.3" stroke="#2a8a2a" stroke-width="1.1" fill="none"/>
<circle cx="526.5" cy="166.8" r="2.5" fill="#fff" stroke="#2a8a2a" stroke-width="1.1"/>
<path d="M532.8 165.4 V172.4 M530 165.4 H535.6 M530 172.4 H535.6" stroke="#2a8a2a" stroke-width="1.1" fill="none"/>
<circle cx="532.8" cy="168.9" r="2.5" fill="#fff" stroke="#2a8a2a" stroke-width="1.1"/>
<path d="M539.3 167.8 V173.8 M536.5 167.8 H542.1 M536.5 173.8 H542.1" stroke="#2a8a2a" stroke-width="1.1" fill="none"/>
<circle cx="539.3" cy="170.8" r="2.5" fill="#fff" stroke="#2a8a2a" stroke-width="1.1"/>
<path d="M545.7 168.1 V174.1 M542.9 168.1 H548.5 M542.9 174.1 H548.5" stroke="#2a8a2a" stroke-width="1.1" fill="none"/>
<circle cx="545.7" cy="171.1" r="2.5" fill="#fff" stroke="#2a8a2a" stroke-width="1.1"/>
<path d="M552 168.7 V174.7 M549.2 168.7 H554.8 M549.2 174.7 H554.8" stroke="#2a8a2a" stroke-width="1.1" fill="none"/>
<circle cx="552" cy="171.7" r="2.5" fill="#fff" stroke="#2a8a2a" stroke-width="1.1"/>
<path d="M564.8 171.4 V177.4 M562 171.4 H567.6 M562 177.4 H567.6" stroke="#2a8a2a" stroke-width="1.1" fill="none"/>
<circle cx="564.8" cy="174.4" r="2.5" fill="#fff" stroke="#2a8a2a" stroke-width="1.1"/>
<path d="M577.3 171.6 V177.6 M574.5 171.6 H580.1 M574.5 177.6 H580.1" stroke="#2a8a2a" stroke-width="1.1" fill="none"/>
<circle cx="577.3" cy="174.6" r="2.5" fill="#fff" stroke="#2a8a2a" stroke-width="1.1"/>
<path d="M589.8 171.6 V177.6 M587 171.6 H592.6 M587 177.6 H592.6" stroke="#2a8a2a" stroke-width="1.1" fill="none"/>
<circle cx="589.8" cy="174.6" r="2.5" fill="#fff" stroke="#2a8a2a" stroke-width="1.1"/>
<path d="M603.8 171.8 V177.8 M601 171.8 H606.6 M601 177.8 H606.6" stroke="#2a8a2a" stroke-width="1.1" fill="none"/>
<circle cx="603.8" cy="174.8" r="2.5" fill="#fff" stroke="#2a8a2a" stroke-width="1.1"/>
<path d="M607.9 171.8 V177.8 M605.1 171.8 H610.7 M605.1 177.8 H610.7" stroke="#2a8a2a" stroke-width="1.1" fill="none"/>
<circle cx="607.9" cy="174.8" r="2.5" fill="#fff" stroke="#2a8a2a" stroke-width="1.1"/>
<path d="M612 171.8 V177.8 M609.2 171.8 H614.8 M609.2 177.8 H614.8" stroke="#2a8a2a" stroke-width="1.1" fill="none"/>
<circle cx="612" cy="174.8" r="2.5" fill="#fff" stroke="#2a8a2a" stroke-width="1.1"/>
<path d="M616.2 171.8 V177.8 M613.4 171.8 H619 M613.4 177.8 H619" stroke="#2a8a2a" stroke-width="1.1" fill="none"/>
<circle cx="616.2" cy="174.8" r="2.5" fill="#fff" stroke="#2a8a2a" stroke-width="1.1"/>
<path d="M626.7 172 V178 M623.9 172 H629.5 M623.9 178 H629.5" stroke="#2a8a2a" stroke-width="1.1" fill="none"/>
<circle cx="626.7" cy="175" r="2.5" fill="#fff" stroke="#2a8a2a" stroke-width="1.1"/>
<path d="M637.4 172 V178 M634.6 172 H640.2 M634.6 178 H640.2" stroke="#2a8a2a" stroke-width="1.1" fill="none"/>
<circle cx="637.4" cy="175" r="2.5" fill="#fff" stroke="#2a8a2a" stroke-width="1.1"/>
<path d="M648 172.2 V178.2 M645.2 172.2 H650.8 M645.2 178.2 H650.8" stroke="#2a8a2a" stroke-width="1.1" fill="none"/>
<circle cx="648" cy="175.2" r="2.5" fill="#fff" stroke="#2a8a2a" stroke-width="1.1"/>
<path d="M658.5 172.5 V178.5 M655.7 172.5 H661.3 M655.7 178.5 H661.3" stroke="#2a8a2a" stroke-width="1.1" fill="none"/>
<circle cx="658.5" cy="175.5" r="2.5" fill="#fff" stroke="#2a8a2a" stroke-width="1.1"/>
<path d="M466.3 178 V190 M463.5 178 H469.1 M463.5 190 H469.1" stroke="#1e1ef0" stroke-width="1.1" fill="none"/>
<circle cx="466.3" cy="184" r="2.5" fill="#fff" stroke="#1e1ef0" stroke-width="1.1"/>
<path d="M469.5 177 V185 M466.7 177 H472.3 M466.7 185 H472.3" stroke="#1e1ef0" stroke-width="1.1" fill="none"/>
<circle cx="469.5" cy="181" r="2.5" fill="#fff" stroke="#1e1ef0" stroke-width="1.1"/>
<path d="M475.6 175.5 V181.9 M472.8 175.5 H478.4 M472.8 181.9 H478.4" stroke="#1e1ef0" stroke-width="1.1" fill="none"/>
<circle cx="475.6" cy="178.7" r="2.5" fill="#fff" stroke="#1e1ef0" stroke-width="1.1"/>
<path d="M481.9 174.8 V180.8 M479.1 174.8 H484.7 M479.1 180.8 H484.7" stroke="#1e1ef0" stroke-width="1.1" fill="none"/>
<circle cx="481.9" cy="177.8" r="2.5" fill="#fff" stroke="#1e1ef0" stroke-width="1.1"/>
<path d="M488.3 174.8 V180.8 M485.5 174.8 H491.1 M485.5 180.8 H491.1" stroke="#1e1ef0" stroke-width="1.1" fill="none"/>
<circle cx="488.3" cy="177.8" r="2.5" fill="#fff" stroke="#1e1ef0" stroke-width="1.1"/>
<path d="M494.8 174.6 V180.6 M492 174.6 H497.6 M492 180.6 H497.6" stroke="#1e1ef0" stroke-width="1.1" fill="none"/>
<circle cx="494.8" cy="177.6" r="2.5" fill="#fff" stroke="#1e1ef0" stroke-width="1.1"/>
<path d="M501.1 174.6 V180.6 M498.3 174.6 H503.9 M498.3 180.6 H503.9" stroke="#1e1ef0" stroke-width="1.1" fill="none"/>
<circle cx="501.1" cy="177.6" r="2.5" fill="#fff" stroke="#1e1ef0" stroke-width="1.1"/>
<path d="M507.5 174.6 V180.6 M504.7 174.6 H510.3 M504.7 180.6 H510.3" stroke="#1e1ef0" stroke-width="1.1" fill="none"/>
<circle cx="507.5" cy="177.6" r="2.5" fill="#fff" stroke="#1e1ef0" stroke-width="1.1"/>
<path d="M513.9 174.5 V180.5 M511.1 174.5 H516.7 M511.1 180.5 H516.7" stroke="#1e1ef0" stroke-width="1.1" fill="none"/>
<circle cx="513.9" cy="177.5" r="2.5" fill="#fff" stroke="#1e1ef0" stroke-width="1.1"/>
<path d="M520.1 174.5 V180.5 M517.3 174.5 H522.9 M517.3 180.5 H522.9" stroke="#1e1ef0" stroke-width="1.1" fill="none"/>
<circle cx="520.1" cy="177.5" r="2.5" fill="#fff" stroke="#1e1ef0" stroke-width="1.1"/>
<path d="M526.5 174.5 V180.5 M523.7 174.5 H529.3 M523.7 180.5 H529.3" stroke="#1e1ef0" stroke-width="1.1" fill="none"/>
<circle cx="526.5" cy="177.5" r="2.5" fill="#fff" stroke="#1e1ef0" stroke-width="1.1"/>
<path d="M532.8 174.8 V180.8 M530 174.8 H535.6 M530 180.8 H535.6" stroke="#1e1ef0" stroke-width="1.1" fill="none"/>
<circle cx="532.8" cy="177.8" r="2.5" fill="#fff" stroke="#1e1ef0" stroke-width="1.1"/>
<path d="M539.3 174.6 V180.6 M536.5 174.6 H542.1 M536.5 180.6 H542.1" stroke="#1e1ef0" stroke-width="1.1" fill="none"/>
<circle cx="539.3" cy="177.6" r="2.5" fill="#fff" stroke="#1e1ef0" stroke-width="1.1"/>
<path d="M545.7 174.5 V180.5 M542.9 174.5 H548.5 M542.9 180.5 H548.5" stroke="#1e1ef0" stroke-width="1.1" fill="none"/>
<circle cx="545.7" cy="177.5" r="2.5" fill="#fff" stroke="#1e1ef0" stroke-width="1.1"/>
<path d="M552 174.5 V180.5 M549.2 174.5 H554.8 M549.2 180.5 H554.8" stroke="#1e1ef0" stroke-width="1.1" fill="none"/>
<circle cx="552" cy="177.5" r="2.5" fill="#fff" stroke="#1e1ef0" stroke-width="1.1"/>
<path d="M564.8 174.5 V180.5 M562 174.5 H567.6 M562 180.5 H567.6" stroke="#1e1ef0" stroke-width="1.1" fill="none"/>
<circle cx="564.8" cy="177.5" r="2.5" fill="#fff" stroke="#1e1ef0" stroke-width="1.1"/>
<path d="M577.3 174.8 V180.8 M574.5 174.8 H580.1 M574.5 180.8 H580.1" stroke="#1e1ef0" stroke-width="1.1" fill="none"/>
<circle cx="577.3" cy="177.8" r="2.5" fill="#fff" stroke="#1e1ef0" stroke-width="1.1"/>
<path d="M589.8 174.8 V180.8 M587 174.8 H592.6 M587 180.8 H592.6" stroke="#1e1ef0" stroke-width="1.1" fill="none"/>
<circle cx="589.8" cy="177.8" r="2.5" fill="#fff" stroke="#1e1ef0" stroke-width="1.1"/>
<path d="M603.8 174.7 V180.5 M601 174.7 H606.6 M601 180.5 H606.6" stroke="#1e1ef0" stroke-width="1.1" fill="none"/>
<circle cx="603.8" cy="177.6" r="2.5" fill="#fff" stroke="#1e1ef0" stroke-width="1.1"/>
<path d="M607.9 174.9 V180.7 M605.1 174.9 H610.7 M605.1 180.7 H610.7" stroke="#1e1ef0" stroke-width="1.1" fill="none"/>
<circle cx="607.9" cy="177.8" r="2.5" fill="#fff" stroke="#1e1ef0" stroke-width="1.1"/>
<path d="M612 174.9 V180.7 M609.2 174.9 H614.8 M609.2 180.7 H614.8" stroke="#1e1ef0" stroke-width="1.1" fill="none"/>
<circle cx="612" cy="177.8" r="2.5" fill="#fff" stroke="#1e1ef0" stroke-width="1.1"/>
<path d="M616.2 174.7 V180.5 M613.4 174.7 H619 M613.4 180.5 H619" stroke="#1e1ef0" stroke-width="1.1" fill="none"/>
<circle cx="616.2" cy="177.6" r="2.5" fill="#fff" stroke="#1e1ef0" stroke-width="1.1"/>
<path d="M626.7 174.9 V180.7 M623.9 174.9 H629.5 M623.9 180.7 H629.5" stroke="#1e1ef0" stroke-width="1.1" fill="none"/>
<circle cx="626.7" cy="177.8" r="2.5" fill="#fff" stroke="#1e1ef0" stroke-width="1.1"/>
<path d="M637.4 174.9 V180.7 M634.6 174.9 H640.2 M634.6 180.7 H640.2" stroke="#1e1ef0" stroke-width="1.1" fill="none"/>
<circle cx="637.4" cy="177.8" r="2.5" fill="#fff" stroke="#1e1ef0" stroke-width="1.1"/>
<path d="M648 174.7 V180.5 M645.2 174.7 H650.8 M645.2 180.5 H650.8" stroke="#1e1ef0" stroke-width="1.1" fill="none"/>
<circle cx="648" cy="177.6" r="2.5" fill="#fff" stroke="#1e1ef0" stroke-width="1.1"/>
<path d="M658.5 174.9 V180.7 M655.7 174.9 H661.3 M655.7 180.7 H661.3" stroke="#1e1ef0" stroke-width="1.1" fill="none"/>
<circle cx="658.5" cy="177.8" r="2.5" fill="#fff" stroke="#1e1ef0" stroke-width="1.1"/>
<path d="M466.3 37.2 V53.4 M463.5 37.2 H469.1 M463.5 53.4 H469.1" stroke="#ff2020" stroke-width="1.1" fill="none"/>
<circle cx="466.3" cy="45.3" r="2.5" fill="#fff" stroke="#ff2020" stroke-width="1.1"/>
<path d="M469.5 32.5 V44.9 M466.7 32.5 H472.3 M466.7 44.9 H472.3" stroke="#ff2020" stroke-width="1.1" fill="none"/>
<circle cx="469.5" cy="38.7" r="2.5" fill="#fff" stroke="#ff2020" stroke-width="1.1"/>
<path d="M475.6 28.5 V39.7 M472.8 28.5 H478.4 M472.8 39.7 H478.4" stroke="#ff2020" stroke-width="1.1" fill="none"/>
<circle cx="475.6" cy="34.1" r="2.5" fill="#fff" stroke="#ff2020" stroke-width="1.1"/>
<path d="M481.9 24.4 V36 M479.1 24.4 H484.7 M479.1 36 H484.7" stroke="#ff2020" stroke-width="1.1" fill="none"/>
<circle cx="481.9" cy="30.2" r="2.5" fill="#fff" stroke="#ff2020" stroke-width="1.1"/>
<path d="M488.3 23.6 V35.2 M485.5 23.6 H491.1 M485.5 35.2 H491.1" stroke="#ff2020" stroke-width="1.1" fill="none"/>
<circle cx="488.3" cy="29.4" r="2.5" fill="#fff" stroke="#ff2020" stroke-width="1.1"/>
<path d="M494.8 21.4 V32.4 M492 21.4 H497.6 M492 32.4 H497.6" stroke="#ff2020" stroke-width="1.1" fill="none"/>
<circle cx="494.8" cy="26.9" r="2.5" fill="#fff" stroke="#ff2020" stroke-width="1.1"/>
<path d="M501.1 21 V31 M498.3 21 H503.9 M498.3 31 H503.9" stroke="#ff2020" stroke-width="1.1" fill="none"/>
<circle cx="501.1" cy="26" r="2.5" fill="#fff" stroke="#ff2020" stroke-width="1.1"/>
<path d="M507.5 20.6 V29.6 M504.7 20.6 H510.3 M504.7 29.6 H510.3" stroke="#ff2020" stroke-width="1.1" fill="none"/>
<circle cx="507.5" cy="25.1" r="2.5" fill="#fff" stroke="#ff2020" stroke-width="1.1"/>
<path d="M513.9 19.8 V28.8 M511.1 19.8 H516.7 M511.1 28.8 H516.7" stroke="#ff2020" stroke-width="1.1" fill="none"/>
<circle cx="513.9" cy="24.3" r="2.5" fill="#fff" stroke="#ff2020" stroke-width="1.1"/>
<path d="M520.1 18.9 V27.9 M517.3 18.9 H522.9 M517.3 27.9 H522.9" stroke="#ff2020" stroke-width="1.1" fill="none"/>
<circle cx="520.1" cy="23.4" r="2.5" fill="#fff" stroke="#ff2020" stroke-width="1.1"/>
<path d="M526.5 19 V27 M523.7 19 H529.3 M523.7 27 H529.3" stroke="#ff2020" stroke-width="1.1" fill="none"/>
<circle cx="526.5" cy="23" r="2.5" fill="#fff" stroke="#ff2020" stroke-width="1.1"/>
<path d="M532.8 18.5 V26.5 M530 18.5 H535.6 M530 26.5 H535.6" stroke="#ff2020" stroke-width="1.1" fill="none"/>
<circle cx="532.8" cy="22.5" r="2.5" fill="#fff" stroke="#ff2020" stroke-width="1.1"/>
<path d="M539.3 19 V27 M536.5 19 H542.1 M536.5 27 H542.1" stroke="#ff2020" stroke-width="1.1" fill="none"/>
<circle cx="539.3" cy="23" r="2.5" fill="#fff" stroke="#ff2020" stroke-width="1.1"/>
<path d="M545.7 18.5 V25.5 M542.9 18.5 H548.5 M542.9 25.5 H548.5" stroke="#ff2020" stroke-width="1.1" fill="none"/>
<circle cx="545.7" cy="22" r="2.5" fill="#fff" stroke="#ff2020" stroke-width="1.1"/>
<path d="M552 18.1 V25.1 M549.2 18.1 H554.8 M549.2 25.1 H554.8" stroke="#ff2020" stroke-width="1.1" fill="none"/>
<circle cx="552" cy="21.6" r="2.5" fill="#fff" stroke="#ff2020" stroke-width="1.1"/>
<path d="M564.8 18 V24 M562 18 H567.6 M562 24 H567.6" stroke="#ff2020" stroke-width="1.1" fill="none"/>
<circle cx="564.8" cy="21" r="2.5" fill="#fff" stroke="#ff2020" stroke-width="1.1"/>
<path d="M577.3 18.2 V24.2 M574.5 18.2 H580.1 M574.5 24.2 H580.1" stroke="#ff2020" stroke-width="1.1" fill="none"/>
<circle cx="577.3" cy="21.2" r="2.5" fill="#fff" stroke="#ff2020" stroke-width="1.1"/>
<path d="M589.8 18.4 V24.4 M587 18.4 H592.6 M587 24.4 H592.6" stroke="#ff2020" stroke-width="1.1" fill="none"/>
<circle cx="589.8" cy="21.4" r="2.5" fill="#fff" stroke="#ff2020" stroke-width="1.1"/>
<circle cx="603.8" cy="21.2" r="2.5" fill="#fff" stroke="#ff2020" stroke-width="1.1"/>
<circle cx="607.9" cy="21.2" r="2.5" fill="#fff" stroke="#ff2020" stroke-width="1.1"/>
<circle cx="612" cy="21.2" r="2.5" fill="#fff" stroke="#ff2020" stroke-width="1.1"/>
<circle cx="616.2" cy="21.5" r="2.5" fill="#fff" stroke="#ff2020" stroke-width="1.1"/>
<circle cx="626.7" cy="21.5" r="2.5" fill="#fff" stroke="#ff2020" stroke-width="1.1"/>
<circle cx="637.4" cy="21.5" r="2.5" fill="#fff" stroke="#ff2020" stroke-width="1.1"/>
<circle cx="648" cy="21.5" r="2.5" fill="#fff" stroke="#ff2020" stroke-width="1.1"/>
<circle cx="658.5" cy="21.5" r="2.5" fill="#fff" stroke="#ff2020" stroke-width="1.1"/>
<line x1="460" y1="21.6" x2="662.6" y2="21.6" stroke="#111" stroke-width="1" stroke-dasharray="4 3"/>
<line x1="460" y1="177.3" x2="662.6" y2="177.3" stroke="#111" stroke-width="1" stroke-dasharray="4 3"/>
<text x="474" y="57.3" font-size="10.8" text-anchor="start" font-weight="normal" fill="#111" >E</text>
<line x1="481.2" y1="52.6" x2="481.2" y2="46.2" stroke="#111" stroke-width="0.9" />
<line x1="483.6" y1="52.6" x2="483.6" y2="46.2" stroke="#111" stroke-width="0.9" />
<text x="480.8" y="60.8" font-size="7.8" text-anchor="start" font-weight="normal" fill="#111" >2</text>
<text x="474.2" y="141.8" font-size="10.8" text-anchor="start" font-weight="normal" fill="#111" >E</text>
<line x1="481.8" y1="137" x2="481.8" y2="130.2" stroke="#111" stroke-width="0.9" />
<line x1="484" y1="137" x2="484" y2="130.2" stroke="#111" stroke-width="0.9" />
<text x="481.2" y="145.2" font-size="7.8" text-anchor="start" font-weight="normal" fill="#111" >1</text>
<text x="473.8" y="195.2" font-size="10.8" text-anchor="start" font-weight="normal" fill="#111" >E</text>
<line x1="482" y1="187.8" x2="486" y2="187.8" stroke="#111" stroke-width="0.9" />
<line x1="484" y1="187.8" x2="484" y2="183.4" stroke="#111" stroke-width="0.9" />
<text x="481" y="198.6" font-size="7.8" text-anchor="start" font-weight="normal" fill="#111" >1</text>
<rect x="553.8" y="36.3" width="108.8" height="98" fill="#fff"/>
<rect x="604.6" y="36.3" width="58" height="98" fill="#e9e6fb"/>
<line x1="604.6" y1="36.3" x2="604.6" y2="134.3" stroke="#8a8a8a" stroke-width="0.9" stroke-dasharray="3 2"/>
<path d="M553.8 36.3 H662.6 M553.8 36.3 V134.3 H662.6" fill="none" stroke="#1a1a1a" stroke-width="1.1"/>
<rect x="551.8" y="93.7" width="4" height="3.3" fill="#fff"/>
<line x1="550.1" y1="91.8" x2="557.6" y2="95.3" stroke="#111" stroke-width="1" />
<line x1="550.1" y1="95.4" x2="557.6" y2="98.9" stroke="#111" stroke-width="1" />
<line x1="550.3" y1="79.6" x2="553.8" y2="79.6" stroke="#1a1a1a" stroke-width="1" />
<line x1="551.8" y1="65.8" x2="553.8" y2="65.8" stroke="#1a1a1a" stroke-width="1" />
<line x1="550.3" y1="52.1" x2="553.8" y2="52.1" stroke="#1a1a1a" stroke-width="1" />
<line x1="551.8" y1="38.4" x2="553.8" y2="38.4" stroke="#1a1a1a" stroke-width="1" />
<line x1="550.3" y1="128.1" x2="553.8" y2="128.1" stroke="#1a1a1a" stroke-width="1" />
<line x1="551.8" y1="115.1" x2="553.8" y2="115.1" stroke="#1a1a1a" stroke-width="1" />
<line x1="550.3" y1="102.1" x2="553.8" y2="102.1" stroke="#1a1a1a" stroke-width="1" />
<text x="547.8" y="82.5" font-size="8.2" text-anchor="end" font-weight="normal" fill="#111" >60</text>
<text x="547.8" y="55" font-size="8.2" text-anchor="end" font-weight="normal" fill="#111" >80</text>
<text x="547.8" y="131" font-size="8.2" text-anchor="end" font-weight="normal" fill="#111" >0</text>
<text x="547.8" y="105" font-size="8.2" text-anchor="end" font-weight="normal" fill="#111" >20</text>
<line x1="558.1" y1="134.3" x2="558.1" y2="138.1" stroke="#1a1a1a" stroke-width="1" />
<line x1="573.6" y1="134.3" x2="573.6" y2="136.8" stroke="#1a1a1a" stroke-width="1" />
<line x1="589.1" y1="134.3" x2="589.1" y2="138.1" stroke="#1a1a1a" stroke-width="1" />
<line x1="604.6" y1="134.3" x2="604.6" y2="136.8" stroke="#1a1a1a" stroke-width="1" />
<line x1="620.1" y1="134.3" x2="620.1" y2="138.1" stroke="#1a1a1a" stroke-width="1" />
<line x1="635.6" y1="134.3" x2="635.6" y2="136.8" stroke="#1a1a1a" stroke-width="1" />
<line x1="651.1" y1="134.3" x2="651.1" y2="138.1" stroke="#1a1a1a" stroke-width="1" />
<text x="558.1" y="148.2" font-size="8.2" text-anchor="middle" font-weight="normal" fill="#111" >0</text>
<text x="589.1" y="148.2" font-size="8.2" text-anchor="middle" font-weight="normal" fill="#111" >20</text>
<text x="620.1" y="148.2" font-size="8.2" text-anchor="middle" font-weight="normal" fill="#111" >40</text>
<text x="651.1" y="148.2" font-size="8.2" text-anchor="middle" font-weight="normal" fill="#111" >60</text>
<text x="608" y="159.3" font-size="8" text-anchor="middle" font-weight="normal" fill="#111" >Delay (ps)</text>
<text x="0" y="0" font-size="7.5" text-anchor="middle" font-weight="normal" fill="#111" transform="translate(530.4 82.2) rotate(-90)">Energy shift (meV)</text>
<path d="M560 57 L562 59 L560 61 L558 59 Z" fill="#fff" stroke="#ff10ff" stroke-width="1.05"/>
<path d="M561.4 54.5 L563.4 56.5 L561.4 58.5 L559.4 56.5 Z" fill="#fff" stroke="#ff10ff" stroke-width="1.05"/>
<path d="M564.3 52.2 L566.3 54.3 L564.3 56.3 L562.2 54.3 Z" fill="#fff" stroke="#ff10ff" stroke-width="1.05"/>
<path d="M567.6 50.2 L569.6 52.3 L567.6 54.3 L565.6 52.3 Z" fill="#fff" stroke="#ff10ff" stroke-width="1.05"/>
<path d="M571 49.2 L573 51.3 L571 53.3 L569 51.3 Z" fill="#fff" stroke="#ff10ff" stroke-width="1.05"/>
<path d="M574.3 47.8 L576.3 49.8 L574.3 51.8 L572.2 49.8 Z" fill="#fff" stroke="#ff10ff" stroke-width="1.05"/>
<path d="M578.5 46.8 L580.5 48.8 L578.5 50.8 L576.5 48.8 Z" fill="#fff" stroke="#ff10ff" stroke-width="1.05"/>
<path d="M582.7 45.9 L584.8 47.9 L582.7 49.9 L580.7 47.9 Z" fill="#fff" stroke="#ff10ff" stroke-width="1.05"/>
<path d="M586 45.2 L588 47.2 L586 49.2 L584 47.2 Z" fill="#fff" stroke="#ff10ff" stroke-width="1.05"/>
<path d="M590.3 45.1 L592.3 47.1 L590.3 49.1 L588.2 47.1 Z" fill="#fff" stroke="#ff10ff" stroke-width="1.05"/>
<path d="M593.6 44.7 L595.6 46.7 L593.6 48.8 L591.6 46.7 Z" fill="#fff" stroke="#ff10ff" stroke-width="1.05"/>
<path d="M597.8 44.7 L599.8 46.7 L597.8 48.8 L595.8 46.7 Z" fill="#fff" stroke="#ff10ff" stroke-width="1.05"/>
<path d="M601.2 44.4 L603.2 46.4 L601.2 48.4 L599.2 46.4 Z" fill="#fff" stroke="#ff10ff" stroke-width="1.05"/>
<path d="M607.9 43 L609.9 45 L607.9 47 L605.9 45 Z" fill="#fff" stroke="#ff10ff" stroke-width="1.05"/>
<path d="M613.8 43.9 L615.8 45.9 L613.8 47.9 L611.8 45.9 Z" fill="#fff" stroke="#ff10ff" stroke-width="1.05"/>
<path d="M619.6 44.2 L621.6 46.2 L619.6 48.2 L617.6 46.2 Z" fill="#fff" stroke="#ff10ff" stroke-width="1.05"/>
<path d="M626.3 43.6 L628.3 45.6 L626.3 47.6 L624.2 45.6 Z" fill="#fff" stroke="#ff10ff" stroke-width="1.05"/>
<path d="M650.7 43 L652.8 45 L650.7 47 L648.7 45 Z" fill="#fff" stroke="#ff10ff" stroke-width="1.05"/>
<path d="M560 80.8 L562 82.8 L560 84.8 L558 82.8 Z" fill="#fff" stroke="#8b3a0f" stroke-width="1.05"/>
<path d="M561.4 75.8 L563.4 77.8 L561.4 79.8 L559.4 77.8 Z" fill="#fff" stroke="#8b3a0f" stroke-width="1.05"/>
<path d="M564.3 70.8 L566.3 72.8 L564.3 74.8 L562.2 72.8 Z" fill="#fff" stroke="#8b3a0f" stroke-width="1.05"/>
<path d="M567.6 67.4 L569.6 69.4 L567.6 71.5 L565.6 69.4 Z" fill="#fff" stroke="#8b3a0f" stroke-width="1.05"/>
<path d="M571 64.9 L573 66.9 L571 69 L569 66.9 Z" fill="#fff" stroke="#8b3a0f" stroke-width="1.05"/>
<path d="M574.3 62.4 L576.3 64.4 L574.3 66.5 L572.2 64.4 Z" fill="#fff" stroke="#8b3a0f" stroke-width="1.05"/>
<path d="M577.7 59.5 L579.8 61.5 L577.7 63.5 L575.7 61.5 Z" fill="#fff" stroke="#8b3a0f" stroke-width="1.05"/>
<path d="M580.2 59 L582.2 61 L580.2 63 L578.2 61 Z" fill="#fff" stroke="#8b3a0f" stroke-width="1.05"/>
<path d="M583.6 56.5 L585.6 58.5 L583.6 60.5 L581.6 58.5 Z" fill="#fff" stroke="#8b3a0f" stroke-width="1.05"/>
<path d="M586.9 54.5 L588.9 56.5 L586.9 58.5 L584.9 56.5 Z" fill="#fff" stroke="#8b3a0f" stroke-width="1.05"/>
<path d="M590.3 53.1 L592.3 55.1 L590.3 57.1 L588.2 55.1 Z" fill="#fff" stroke="#8b3a0f" stroke-width="1.05"/>
<path d="M593.6 51.5 L595.6 53.5 L593.6 55.5 L591.6 53.5 Z" fill="#fff" stroke="#8b3a0f" stroke-width="1.05"/>
<path d="M597 50.2 L599 52.3 L597 54.3 L595 52.3 Z" fill="#fff" stroke="#8b3a0f" stroke-width="1.05"/>
<path d="M600.3 48.9 L602.3 50.9 L600.3 52.9 L598.2 50.9 Z" fill="#fff" stroke="#8b3a0f" stroke-width="1.05"/>
<path d="M607.9 45.6 L609.9 47.6 L607.9 49.6 L605.9 47.6 Z" fill="#fff" stroke="#8b3a0f" stroke-width="1.05"/>
<path d="M613.8 46.4 L615.8 48.4 L613.8 50.4 L611.8 48.4 Z" fill="#fff" stroke="#8b3a0f" stroke-width="1.05"/>
<path d="M619.6 46.1 L621.6 48.1 L619.6 50.1 L617.6 48.1 Z" fill="#fff" stroke="#8b3a0f" stroke-width="1.05"/>
<path d="M626.3 46.1 L628.3 48.1 L626.3 50.1 L624.2 48.1 Z" fill="#fff" stroke="#8b3a0f" stroke-width="1.05"/>
<path d="M650.7 45.6 L652.8 47.6 L650.7 49.6 L648.7 47.6 Z" fill="#fff" stroke="#8b3a0f" stroke-width="1.05"/>
<path d="M559.2 103.2 L561.2 105.3 L559.2 107.3 L557.2 105.3 Z" fill="#fff" stroke="#2a8a2a" stroke-width="1.05"/>
<path d="M561.3 106 L563.3 108 L561.3 110 L559.2 108 Z" fill="#fff" stroke="#2a8a2a" stroke-width="1.05"/>
<path d="M563.9 108.5 L565.9 110.6 L563.9 112.6 L561.9 110.6 Z" fill="#fff" stroke="#2a8a2a" stroke-width="1.05"/>
<path d="M568.3 109.2 L570.3 111.2 L568.3 113.2 L566.2 111.2 Z" fill="#fff" stroke="#2a8a2a" stroke-width="1.05"/>
<path d="M570.8 110.9 L572.8 112.9 L570.8 115 L568.8 112.9 Z" fill="#fff" stroke="#2a8a2a" stroke-width="1.05"/>
<path d="M574 111.9 L576 113.9 L574 116 L572 113.9 Z" fill="#fff" stroke="#2a8a2a" stroke-width="1.05"/>
<path d="M577.2 115 L579.2 117.1 L577.2 119.1 L575.2 117.1 Z" fill="#fff" stroke="#2a8a2a" stroke-width="1.05"/>
<path d="M580.4 115 L582.4 117.1 L580.4 119.1 L578.4 117.1 Z" fill="#fff" stroke="#2a8a2a" stroke-width="1.05"/>
<path d="M583.1 116.2 L585.1 118.2 L583.1 120.2 L581.1 118.2 Z" fill="#fff" stroke="#2a8a2a" stroke-width="1.05"/>
<path d="M586.3 117.7 L588.3 119.7 L586.3 121.8 L584.2 119.7 Z" fill="#fff" stroke="#2a8a2a" stroke-width="1.05"/>
<path d="M589.5 118.7 L591.5 120.7 L589.5 122.8 L587.5 120.7 Z" fill="#fff" stroke="#2a8a2a" stroke-width="1.05"/>
<path d="M592.5 120.2 L594.5 122.2 L592.5 124.2 L590.5 122.2 Z" fill="#fff" stroke="#2a8a2a" stroke-width="1.05"/>
<path d="M595.8 121.9 L597.8 123.9 L595.8 126 L593.8 123.9 Z" fill="#fff" stroke="#2a8a2a" stroke-width="1.05"/>
<path d="M598.8 121.9 L600.8 123.9 L598.8 126 L596.8 123.9 Z" fill="#fff" stroke="#2a8a2a" stroke-width="1.05"/>
<path d="M602 123 L604 125 L602 127 L600 125 Z" fill="#fff" stroke="#2a8a2a" stroke-width="1.05"/>
<path d="M607.9 124.4 L609.9 126.4 L607.9 128.5 L605.9 126.4 Z" fill="#fff" stroke="#2a8a2a" stroke-width="1.05"/>
<path d="M614.3 124.4 L616.3 126.4 L614.3 128.5 L612.2 126.4 Z" fill="#fff" stroke="#2a8a2a" stroke-width="1.05"/>
<path d="M620.2 124.7 L622.2 126.7 L620.2 128.8 L618.2 126.7 Z" fill="#fff" stroke="#2a8a2a" stroke-width="1.05"/>
<path d="M626.6 124.4 L628.6 126.4 L626.6 128.5 L624.6 126.4 Z" fill="#fff" stroke="#2a8a2a" stroke-width="1.05"/>
<path d="M651.4 124.4 L653.4 126.4 L651.4 128.5 L649.4 126.4 Z" fill="#fff" stroke="#2a8a2a" stroke-width="1.05"/>
<path d="M558.1 59.3 L558.9 58.4 L559.6 57.6 L560.4 56.8 L561.2 56.1 L562 55.4 L562.8 54.8 L563.5 54.2 L564.3 53.7 L565.1 53.2 L565.9 52.7 L566.6 52.3 L567.4 51.9 L568.2 51.5 L569 51.1 L569.7 50.8 L570.5 50.5 L571.3 50.2 L572.1 50 L572.8 49.7 L573.6 49.5 L574.4 49.3 L575.1 49.1 L575.9 48.9 L576.7 48.7 L577.5 48.6 L578.2 48.4 L579 48.3 L579.8 48.1 L580.6 48 L581.4 47.9 L582.1 47.8 L582.9 47.7 L583.7 47.6 L584.5 47.5 L585.2 47.5 L586 47.4 L586.8 47.3 L587.6 47.3 L588.3 47.2 L589.1 47.1 L589.9 47.1 L590.6 47 L591.4 47 L592.2 47 L593 46.9 L593.8 46.9 L594.5 46.8 L595.3 46.8 L596.1 46.8 L596.9 46.8 L597.6 46.7 L598.4 46.7 L599.2 46.7 L600 46.7 L600.7 46.7 L601.5 46.6 L602.3 46.6 L603.1 46.6 L603.8 46.6 L604.6 46.6 L605.4 46.6 L606.1 46.6 L606.9 46.5 L607.7 46.5 L608.5 46.5 L609.2 46.5 L610 46.5 L610.8 46.5 L611.6 46.5 L612.4 46.5 L613.1 46.5 L613.9 46.5 L614.7 46.5 L615.5 46.5 L616.2 46.5 L617 46.5 L617.8 46.5 L618.6 46.4 L619.3 46.4 L620.1 46.4 L620.9 46.4 L621.6 46.4 L622.4 46.4 L623.2 46.4 L624 46.4 L624.8 46.4 L625.5 46.4 L626.3 46.4 L627.1 46.4 L627.9 46.4 L628.6 46.4 L629.4 46.4 L630.2 46.4 L631 46.4 L631.7 46.4 L632.5 46.4 L633.3 46.4 L634.1 46.4 L634.8 46.4 L635.6 46.4 L636.4 46.4 L637.1 46.4 L637.9 46.4 L638.7 46.4 L639.5 46.4 L640.2 46.4 L641 46.4 L641.8 46.4 L642.6 46.4 L643.4 46.4 L644.1 46.4 L644.9 46.4 L645.7 46.4 L646.5 46.4 L647.2 46.4 L648 46.4 L648.8 46.4 L649.6 46.4 L650.3 46.4 L651.1 46.4 L651.9 46.4 L652.6 46.4 L653.4 46.4 L654.2 46.4 L655 46.4 L655.8 46.4 L656.5 46.4 L657.3 46.4 L658.1 46.4 L658.9 46.4 L659.6 46.4 L660.4 46.4 L661.2 46.4 L662 46.4" fill="none" stroke="#111" stroke-width="1.0" stroke-dasharray="4 2.6"/>
<path d="M558.1 84 L558.9 82.6 L559.6 81.3 L560.4 80 L561.2 78.8 L562 77.6 L562.8 76.5 L563.5 75.4 L564.3 74.3 L565.1 73.3 L565.9 72.3 L566.6 71.4 L567.4 70.5 L568.2 69.6 L569 68.8 L569.7 68 L570.5 67.2 L571.3 66.4 L572.1 65.7 L572.8 65 L573.6 64.4 L574.4 63.7 L575.1 63.1 L575.9 62.5 L576.7 61.9 L577.5 61.4 L578.2 60.9 L579 60.4 L579.8 59.9 L580.6 59.4 L581.4 58.9 L582.1 58.5 L582.9 58.1 L583.7 57.7 L584.5 57.3 L585.2 56.9 L586 56.6 L586.8 56.2 L587.6 55.9 L588.3 55.6 L589.1 55.3 L589.9 55 L590.6 54.7 L591.4 54.4 L592.2 54.1 L593 53.9 L593.8 53.6 L594.5 53.4 L595.3 53.2 L596.1 53 L596.9 52.7 L597.6 52.5 L598.4 52.4 L599.2 52.2 L600 52 L600.7 51.8 L601.5 51.6 L602.3 51.5 L603.1 51.3 L603.8 51.2 L604.6 51 L605.4 50.9 L606.1 50.8 L606.9 50.6 L607.7 50.5 L608.5 50.4 L609.2 50.3 L610 50.2 L610.8 50.1 L611.6 50 L612.4 49.9 L613.1 49.8 L613.9 49.7 L614.7 49.6 L615.5 49.5 L616.2 49.4 L617 49.4 L617.8 49.3 L618.6 49.2 L619.3 49.2 L620.1 49.1 L620.9 49 L621.6 49 L622.4 48.9 L623.2 48.8 L624 48.8 L624.8 48.7 L625.5 48.7 L626.3 48.6 L627.1 48.6 L627.9 48.5 L628.6 48.5 L629.4 48.5 L630.2 48.4 L631 48.4 L631.7 48.3 L632.5 48.3 L633.3 48.3 L634.1 48.2 L634.8 48.2 L635.6 48.2 L636.4 48.2 L637.1 48.1 L637.9 48.1 L638.7 48.1 L639.5 48 L640.2 48 L641 48 L641.8 48 L642.6 48 L643.4 47.9 L644.1 47.9 L644.9 47.9 L645.7 47.9 L646.5 47.9 L647.2 47.8 L648 47.8 L648.8 47.8 L649.6 47.8 L650.3 47.8 L651.1 47.8 L651.9 47.7 L652.6 47.7 L653.4 47.7 L654.2 47.7 L655 47.7 L655.8 47.7 L656.5 47.7 L657.3 47.7 L658.1 47.7 L658.9 47.6 L659.6 47.6 L660.4 47.6 L661.2 47.6 L662 47.6" fill="none" stroke="#111" stroke-width="1.0" stroke-dasharray="4 2.6"/>
<path d="M558.1 104.6 L558.9 105.5 L559.6 106.4 L560.4 107.2 L561.2 108 L562 108.7 L562.8 109.5 L563.5 110.2 L564.3 110.8 L565.1 111.5 L565.9 112.1 L566.6 112.7 L567.4 113.3 L568.2 113.8 L569 114.3 L569.7 114.8 L570.5 115.3 L571.3 115.8 L572.1 116.2 L572.8 116.6 L573.6 117 L574.4 117.4 L575.1 117.8 L575.9 118.2 L576.7 118.5 L577.5 118.8 L578.2 119.2 L579 119.5 L579.8 119.7 L580.6 120 L581.4 120.3 L582.1 120.6 L582.9 120.8 L583.7 121 L584.5 121.3 L585.2 121.5 L586 121.7 L586.8 121.9 L587.6 122.1 L588.3 122.3 L589.1 122.4 L589.9 122.6 L590.6 122.8 L591.4 122.9 L592.2 123.1 L593 123.2 L593.8 123.4 L594.5 123.5 L595.3 123.6 L596.1 123.7 L596.9 123.9 L597.6 124 L598.4 124.1 L599.2 124.2 L600 124.3 L600.7 124.4 L601.5 124.5 L602.3 124.6 L603.1 124.6 L603.8 124.7 L604.6 124.8 L605.4 124.9 L606.1 124.9 L606.9 125 L607.7 125.1 L608.5 125.1 L609.2 125.2 L610 125.3 L610.8 125.3 L611.6 125.4 L612.4 125.4 L613.1 125.5 L613.9 125.5 L614.7 125.5 L615.5 125.6 L616.2 125.6 L617 125.7 L617.8 125.7 L618.6 125.7 L619.3 125.8 L620.1 125.8 L620.9 125.8 L621.6 125.9 L622.4 125.9 L623.2 125.9 L624 126 L624.8 126 L625.5 126 L626.3 126 L627.1 126.1 L627.9 126.1 L628.6 126.1 L629.4 126.1 L630.2 126.1 L631 126.2 L631.7 126.2 L632.5 126.2 L633.3 126.2 L634.1 126.2 L634.8 126.2 L635.6 126.3 L636.4 126.3 L637.1 126.3 L637.9 126.3 L638.7 126.3 L639.5 126.3 L640.2 126.3 L641 126.3 L641.8 126.4 L642.6 126.4 L643.4 126.4 L644.1 126.4 L644.9 126.4 L645.7 126.4 L646.5 126.4 L647.2 126.4 L648 126.4 L648.8 126.4 L649.6 126.4 L650.3 126.4 L651.1 126.5 L651.9 126.5 L652.6 126.5 L653.4 126.5 L654.2 126.5 L655 126.5 L655.8 126.5 L656.5 126.5 L657.3 126.5 L658.1 126.5 L658.9 126.5 L659.6 126.5 L660.4 126.5 L661.2 126.5 L662 126.5" fill="none" stroke="#111" stroke-width="1.0" stroke-dasharray="4 2.6"/>
<path d="M613 69.2 L615 71.2 L613 73.2 L611 71.2 Z" fill="#fff" stroke="#ff10ff" stroke-width="1.05"/>
<text x="620.6" y="75.5" font-size="10.6" text-anchor="start" font-weight="normal" fill="#111" >E</text>
<line x1="627.8" y1="71" x2="627.8" y2="65" stroke="#111" stroke-width="0.8" />
<line x1="630" y1="71" x2="630" y2="65" stroke="#111" stroke-width="0.8" />
<text x="627.6" y="78.8" font-size="7.6" text-anchor="start" font-weight="normal" fill="#111" >2</text>
<text x="633.4" y="75.5" font-size="10.6" text-anchor="start" font-weight="normal" fill="#111" >&#8722;</text>
<text x="640.6" y="75.5" font-size="10.6" text-anchor="start" font-weight="normal" fill="#111" >E</text>
<text x="647.8" y="78.8" font-size="7.6" text-anchor="start" font-weight="normal" fill="#111" >1</text>
<line x1="647.4" y1="70.2" x2="651.1" y2="70.2" stroke="#111" stroke-width="0.9" />
<line x1="649.3" y1="70.2" x2="649.3" y2="65.7" stroke="#111" stroke-width="0.9" />
<path d="M613 87 L615 89.1 L613 91.1 L611 89.1 Z" fill="#fff" stroke="#8b3a0f" stroke-width="1.05"/>
<text x="620.6" y="93.4" font-size="10.6" text-anchor="start" font-weight="normal" fill="#111" >E</text>
<line x1="627.8" y1="88.9" x2="627.8" y2="82.9" stroke="#111" stroke-width="0.8" />
<line x1="630" y1="88.9" x2="630" y2="82.9" stroke="#111" stroke-width="0.8" />
<text x="627.6" y="96.7" font-size="7.6" text-anchor="start" font-weight="normal" fill="#111" >2</text>
<text x="633.4" y="93.4" font-size="10.6" text-anchor="start" font-weight="normal" fill="#111" >&#8722;</text>
<text x="640.6" y="93.4" font-size="10.6" text-anchor="start" font-weight="normal" fill="#111" >E</text>
<text x="647.8" y="96.7" font-size="7.6" text-anchor="start" font-weight="normal" fill="#111" >1</text>
<line x1="648" y1="88.9" x2="648" y2="82.9" stroke="#111" stroke-width="0.8" />
<line x1="650.2" y1="88.9" x2="650.2" y2="82.9" stroke="#111" stroke-width="0.8" />
<path d="M613 105.2 L615 107.3 L613 109.3 L611 107.3 Z" fill="#fff" stroke="#2a8a2a" stroke-width="1.05"/>
<text x="620.6" y="111.6" font-size="10.6" text-anchor="start" font-weight="normal" fill="#111" >E</text>
<line x1="627.8" y1="107.1" x2="627.8" y2="101.1" stroke="#111" stroke-width="0.8" />
<line x1="630" y1="107.1" x2="630" y2="101.1" stroke="#111" stroke-width="0.8" />
<text x="627.6" y="114.9" font-size="7.6" text-anchor="start" font-weight="normal" fill="#111" >1</text>
<text x="633.4" y="111.6" font-size="10.6" text-anchor="start" font-weight="normal" fill="#111" >&#8722;</text>
<text x="640.6" y="111.6" font-size="10.6" text-anchor="start" font-weight="normal" fill="#111" >E</text>
<text x="647.8" y="114.9" font-size="7.6" text-anchor="start" font-weight="normal" fill="#111" >1</text>
<line x1="647.4" y1="106.3" x2="651.1" y2="106.3" stroke="#111" stroke-width="0.9" />
<line x1="649.3" y1="106.3" x2="649.3" y2="101.8" stroke="#111" stroke-width="0.9" />
<defs><linearGradient id="og1" x1="0" y1="263.5" x2="0" y2="276.5" gradientUnits="userSpaceOnUse"><stop offset="0" stop-color="#ff6a00" stop-opacity="0"/><stop offset="0.65" stop-color="#ff6a00" stop-opacity="0.9"/><stop offset="1" stop-color="#ff6400" stop-opacity="1"/></linearGradient><linearGradient id="og2" x1="0" y1="276.8" x2="0" y2="286.2" gradientUnits="userSpaceOnUse"><stop offset="0" stop-color="#ff6a00" stop-opacity="0"/><stop offset="0.7" stop-color="#ff6a00" stop-opacity="0.95"/><stop offset="1" stop-color="#ff6400" stop-opacity="1"/></linearGradient><linearGradient id="yg1" x1="0" y1="348.5" x2="0" y2="372" gradientUnits="userSpaceOnUse"><stop offset="0" stop-color="#ffc400"/><stop offset="0.55" stop-color="#fde9a0"/><stop offset="1" stop-color="#fdf6d6"/></linearGradient><linearGradient id="yg2" x1="0" y1="366" x2="0" y2="384" gradientUnits="userSpaceOnUse"><stop offset="0" stop-color="#ffc400"/><stop offset="0.55" stop-color="#fde9a0"/><stop offset="1" stop-color="#fdf6d6"/></linearGradient><clipPath id="cg"><rect x="439" y="330" width="101.6" height="60.8"/></clipPath><clipPath id="ce"><rect x="560" y="330" width="115" height="60.8"/></clipPath><clipPath id="cc"><rect x="430" y="245.3" width="240" height="50"/></clipPath></defs>
<path d="M443.7 245.3 L444.2 245.9 L444.7 246.4 L445.2 247 L445.7 247.5 L446.2 248.1 L446.7 248.7 L447.2 249.2 L447.7 249.8 L448.2 250.3 L448.7 250.9 L449.2 251.4 L449.7 252 L450.2 252.5 L450.7 253.1 L451.2 253.6 L451.7 254.2 L452.2 254.7 L452.7 255.3 L453.2 255.8 L453.7 256.3 L454.2 256.9 L454.7 257.4 L455.2 257.9 L455.7 258.5 L456.2 259 L456.7 259.5 L457.2 260.1 L457.7 260.6 L458.2 261.1 L458.7 261.6 L459.2 262.2 L459.7 262.7 L460.2 263.2 L460.7 263.7 L461.2 264.2 L461.7 264.7 L462.2 265.2 L462.7 265.7 L463.2 266.2 L463.7 266.7 L464.2 267.2 L464.7 267.7 L465.2 268.2 L465.7 268.7 L466.2 269.1 L466.7 269.6 L467.2 270.1 L467.7 270.5 L468.2 271 L468.7 271.5 L469.2 271.9 L469.7 272.3 L470.2 272.8 L470.7 273.2 L471.2 273.6 L471.7 274.1 L472.2 274.5 L472.7 274.9 L473.2 275.3 L473.7 275.6 L474.2 276 L474.7 276.4 L475.2 276.8 L475.7 277.1 L476.2 277.4 L476.7 277.8 L477.2 278.1 L477.7 278.4 L478.2 278.7 L478.7 279 L479.2 279.2 L479.7 279.5 L480.2 279.7 L480.7 280 L481.2 280.2 L481.7 280.4 L482.2 280.6 L482.7 280.7 L483.2 280.9 L483.7 281 L484.2 281.1 L484.7 281.2 L485.2 281.3 L485.7 281.3 L486.2 281.4 L486.7 281.4 L487.2 281.4 L487.7 281.4 L488.2 281.3 L488.7 281.2 L489.2 281.1 L489.7 281 L490.2 280.8 L490.7 280.6 L491.2 280.4 L491.7 280.1 L492.2 279.8 L492.7 279.5 L493.2 279.2 L493.7 278.9 L494.2 278.5 L494.7 278.1 L495.2 277.7 L495.7 277.2 L496.2 276.7 L496.7 276.3 L497.2 275.8 L497.7 275.2 L498.2 274.7 L498.7 274.2 L499.2 273.6 L499.7 273 L500.2 272.4 L500.7 271.8 L501.2 271.2 L501.7 270.6 L502.2 269.9 L502.7 269.2 L503.2 268.6 L503.7 267.9 L504.2 267.2 L504.7 266.5 L505.2 265.8 L505.7 265.1 L506.2 264.4 L506.7 263.6 L507.2 262.9 L507.7 262.2 L508.2 261.4 L508.7 260.6 L509.2 259.9 L509.7 259.1 L510.2 258.3 L510.7 257.5 L511.2 256.8 L511.7 256 L512.2 255.2 L512.7 254.4 L513.2 253.6 L513.7 252.8 L514.2 251.9 L514.7 251.1 L515.2 250.3 L515.7 249.5 L516.2 248.6 L516.7 247.8 L517.2 247 L517.7 246.1 L518.2 245.3" fill="none" stroke="#333" stroke-width="1.1"/>
<path d="M453.8 245.3 L454.3 246 L454.8 246.7 L455.3 247.3 L455.8 248 L456.3 248.7 L456.8 249.3 L457.3 250 L457.8 250.7 L458.3 251.3 L458.8 252 L459.3 252.6 L459.8 253.3 L460.3 254 L460.8 254.6 L461.3 255.3 L461.8 255.9 L462.3 256.6 L462.8 257.2 L463.3 257.8 L463.8 258.5 L464.3 259.1 L464.8 259.7 L465.3 260.4 L465.8 261 L466.3 261.6 L466.8 262.2 L467.3 262.8 L467.8 263.4 L468.3 264.1 L468.8 264.7 L469.3 265.2 L469.8 265.8 L470.3 266.4 L470.8 267 L471.3 267.6 L471.8 268.1 L472.3 268.7 L472.8 269.3 L473.3 269.8 L473.8 270.4 L474.3 270.9 L474.8 271.4 L475.3 271.9 L475.8 272.5 L476.3 273 L476.8 273.5 L477.3 273.9 L477.8 274.4 L478.3 274.9 L478.8 275.3 L479.3 275.8 L479.8 276.2 L480.3 276.6 L480.8 277 L481.3 277.4 L481.8 277.8 L482.3 278.1 L482.8 278.5 L483.3 278.8 L483.8 279.1 L484.3 279.4 L484.8 279.7 L485.3 279.9 L485.8 280.2 L486.3 280.4 L486.8 280.6 L487.3 280.8 L487.8 280.9 L488.3 281.1 L488.8 281.2 L489.3 281.3 L489.8 281.3 L490.3 281.4 L490.8 281.4 L491.3 281.4 L491.8 281.4 L492.3 281.3 L492.8 281.2 L493.3 281.1 L493.8 281 L494.3 280.8 L494.8 280.6 L495.3 280.4 L495.8 280.2 L496.3 279.9 L496.8 279.6 L497.3 279.3 L497.8 279 L498.3 278.6 L498.8 278.3 L499.3 277.9 L499.8 277.5 L500.3 277 L500.8 276.6 L501.3 276.1 L501.8 275.7 L502.3 275.2 L502.8 274.7 L503.3 274.1 L503.8 273.6 L504.3 273 L504.8 272.5 L505.3 271.9 L505.8 271.3 L506.3 270.7 L506.8 270.1 L507.3 269.5 L507.8 268.9 L508.3 268.2 L508.8 267.6 L509.3 267 L509.8 266.3 L510.3 265.6 L510.8 265 L511.3 264.3 L511.8 263.6 L512.3 262.9 L512.8 262.2 L513.3 261.5 L513.8 260.8 L514.3 260.1 L514.8 259.4 L515.3 258.6 L515.8 257.9 L516.3 257.2 L516.8 256.4 L517.3 255.7 L517.8 255 L518.3 254.2 L518.8 253.5 L519.3 252.7 L519.8 251.9 L520.3 251.2 L520.8 250.4 L521.3 249.6 L521.8 248.9 L522.3 248.1 L522.8 247.3 L523.3 246.5 L523.8 245.8" fill="none" stroke="#333" stroke-width="1.1"/>
<path d="M568.4 245.4 L568.9 245.9 L569.4 246.5 L569.9 247 L570.4 247.6 L570.9 248.1 L571.4 248.6 L571.9 249.2 L572.4 249.7 L572.9 250.3 L573.4 250.8 L573.9 251.3 L574.4 251.9 L574.9 252.4 L575.4 252.9 L575.9 253.5 L576.4 254 L576.9 254.5 L577.4 255 L577.9 255.6 L578.4 256.1 L578.9 256.6 L579.4 257.2 L579.9 257.7 L580.4 258.2 L580.9 258.7 L581.4 259.2 L581.9 259.8 L582.4 260.3 L582.9 260.8 L583.4 261.3 L583.9 261.8 L584.4 262.3 L584.9 262.9 L585.4 263.4 L585.9 263.9 L586.4 264.4 L586.9 264.9 L587.4 265.4 L587.9 265.9 L588.4 266.4 L588.9 266.9 L589.4 267.4 L589.9 267.9 L590.4 268.4 L590.9 268.9 L591.4 269.4 L591.9 269.8 L592.4 270.3 L592.9 270.8 L593.4 271.3 L593.9 271.7 L594.4 272.2 L594.9 272.7 L595.4 273.1 L595.9 273.6 L596.4 274.1 L596.9 274.5 L597.4 275 L597.9 275.4 L598.4 275.8 L598.9 276.3 L599.4 276.7 L599.9 277.1 L600.4 277.5 L600.9 278 L601.4 278.4 L601.9 278.8 L602.4 279.2 L602.9 279.6 L603.4 279.9 L603.9 280.3 L604.4 280.7 L604.9 281 L605.4 281.4 L605.9 281.7 L606.4 282 L606.9 282.4 L607.4 282.7 L607.9 283 L608.4 283.3 L608.9 283.5 L609.4 283.8 L609.9 284 L610.4 284.3 L610.9 284.5 L611.4 284.7 L611.9 284.9 L612.4 285.1 L612.9 285.3 L613.4 285.4 L613.9 285.5 L614.4 285.7 L614.9 285.8 L615.4 285.8 L615.9 285.9 L616.4 286 L616.9 286 L617.4 286 L617.9 286 L618.4 286 L618.9 285.9 L619.4 285.8 L619.9 285.7 L620.4 285.6 L620.9 285.4 L621.4 285.2 L621.9 285 L622.4 284.8 L622.9 284.5 L623.4 284.2 L623.9 283.9 L624.4 283.6 L624.9 283.3 L625.4 282.9 L625.9 282.5 L626.4 282.1 L626.9 281.7 L627.4 281.3 L627.9 280.8 L628.4 280.3 L628.9 279.9 L629.4 279.4 L629.9 278.9 L630.4 278.3 L630.9 277.8 L631.4 277.3 L631.9 276.7 L632.4 276.1 L632.9 275.6 L633.4 275 L633.9 274.4 L634.4 273.8 L634.9 273.1 L635.4 272.5 L635.9 271.9 L636.4 271.3 L636.9 270.6 L637.4 270 L637.9 269.3 L638.4 268.6 L638.9 268 L639.4 267.3 L639.9 266.6 L640.4 265.9 L640.9 265.2 L641.4 264.5 L641.9 263.8 L642.4 263.1 L642.9 262.4 L643.4 261.7 L643.9 261 L644.4 260.3 L644.9 259.5 L645.4 258.8 L645.9 258.1 L646.4 257.3 L646.9 256.6 L647.4 255.9 L647.9 255.1 L648.4 254.4 L648.9 253.6 L649.4 252.9 L649.9 252.1 L650.4 251.4 L650.9 250.6 L651.4 249.8 L651.9 249.1 L652.4 248.3 L652.9 247.6 L653.4 246.8 L653.9 246 Z" fill="url(#og2)" clip-path="url(#cc)"/>
<path d="M587.3 245.4 L587.8 246.1 L588.3 246.8 L588.8 247.5 L589.3 248.2 L589.8 248.9 L590.3 249.6 L590.8 250.3 L591.3 251 L591.8 251.7 L592.3 252.4 L592.8 253 L593.3 253.7 L593.8 254.4 L594.3 255.1 L594.8 255.7 L595.3 256.4 L595.8 257 L596.3 257.7 L596.8 258.4 L597.3 259 L597.8 259.6 L598.3 260.3 L598.8 260.9 L599.3 261.5 L599.8 262.2 L600.3 262.8 L600.8 263.4 L601.3 264 L601.8 264.6 L602.3 265.2 L602.8 265.7 L603.3 266.3 L603.8 266.9 L604.3 267.4 L604.8 268 L605.3 268.5 L605.8 269 L606.3 269.5 L606.8 270 L607.3 270.5 L607.8 271 L608.3 271.4 L608.8 271.9 L609.3 272.3 L609.8 272.7 L610.3 273.1 L610.8 273.5 L611.3 273.8 L611.8 274.1 L612.3 274.5 L612.8 274.7 L613.3 275 L613.8 275.3 L614.3 275.5 L614.8 275.7 L615.3 275.8 L615.8 276 L616.3 276.1 L616.8 276.2 L617.3 276.3 L617.8 276.3 L618.3 276.3 L618.8 276.3 L619.3 276.2 L619.8 276.1 L620.3 276 L620.8 275.8 L621.3 275.6 L621.8 275.4 L622.3 275.1 L622.8 274.8 L623.3 274.5 L623.8 274.2 L624.3 273.8 L624.8 273.4 L625.3 272.9 L625.8 272.5 L626.3 272 L626.8 271.5 L627.3 271 L627.8 270.4 L628.3 269.8 L628.8 269.3 L629.3 268.7 L629.8 268 L630.3 267.4 L630.8 266.7 L631.3 266.1 L631.8 265.4 L632.3 264.7 L632.8 264 L633.3 263.3 L633.8 262.5 L634.3 261.8 L634.8 261 L635.3 260.3 L635.8 259.5 L636.3 258.7 L636.8 257.9 L637.3 257.1 L637.8 256.3 L638.3 255.5 L638.8 254.7 L639.3 253.9 L639.8 253.1 L640.3 252.2 L640.8 251.4 L641.3 250.6 L641.8 249.7 L642.3 248.9 L642.8 248 L643.3 247.1 L643.8 246.3 L644.3 245.4 Z" fill="#fff" clip-path="url(#cc)" opacity="0"/>
<path d="M587.3 245.4 L587.8 246.1 L588.3 246.8 L588.8 247.5 L589.3 248.2 L589.8 248.9 L590.3 249.6 L590.8 250.3 L591.3 251 L591.8 251.7 L592.3 252.4 L592.8 253 L593.3 253.7 L593.8 254.4 L594.3 255.1 L594.8 255.7 L595.3 256.4 L595.8 257 L596.3 257.7 L596.8 258.4 L597.3 259 L597.8 259.6 L598.3 260.3 L598.8 260.9 L599.3 261.5 L599.8 262.2 L600.3 262.8 L600.8 263.4 L601.3 264 L601.8 264.6 L602.3 265.2 L602.8 265.7 L603.3 266.3 L603.8 266.9 L604.3 267.4 L604.8 268 L605.3 268.5 L605.8 269 L606.3 269.5 L606.8 270 L607.3 270.5 L607.8 271 L608.3 271.4 L608.8 271.9 L609.3 272.3 L609.8 272.7 L610.3 273.1 L610.8 273.5 L611.3 273.8 L611.8 274.1 L612.3 274.5 L612.8 274.7 L613.3 275 L613.8 275.3 L614.3 275.5 L614.8 275.7 L615.3 275.8 L615.8 276 L616.3 276.1 L616.8 276.2 L617.3 276.3 L617.8 276.3 L618.3 276.3 L618.8 276.3 L619.3 276.2 L619.8 276.1 L620.3 276 L620.8 275.8 L621.3 275.6 L621.8 275.4 L622.3 275.1 L622.8 274.8 L623.3 274.5 L623.8 274.2 L624.3 273.8 L624.8 273.4 L625.3 272.9 L625.8 272.5 L626.3 272 L626.8 271.5 L627.3 271 L627.8 270.4 L628.3 269.8 L628.8 269.3 L629.3 268.7 L629.8 268 L630.3 267.4 L630.8 266.7 L631.3 266.1 L631.8 265.4 L632.3 264.7 L632.8 264 L633.3 263.3 L633.8 262.5 L634.3 261.8 L634.8 261 L635.3 260.3 L635.8 259.5 L636.3 258.7 L636.8 257.9 L637.3 257.1 L637.8 256.3 L638.3 255.5 L638.8 254.7 L639.3 253.9 L639.8 253.1 L640.3 252.2 L640.8 251.4 L641.3 250.6 L641.8 249.7 L642.3 248.9 L642.8 248 L643.3 247.1 L643.8 246.3 L644.3 245.4 Z" fill="url(#og1)"/>
<path d="M587.3 245.4 L587.8 246.1 L588.3 246.8 L588.8 247.5 L589.3 248.2 L589.8 248.9 L590.3 249.6 L590.8 250.3 L591.3 251 L591.8 251.7 L592.3 252.4 L592.8 253 L593.3 253.7 L593.8 254.4 L594.3 255.1 L594.8 255.7 L595.3 256.4 L595.8 257 L596.3 257.7 L596.8 258.4 L597.3 259 L597.8 259.6 L598.3 260.3 L598.8 260.9 L599.3 261.5 L599.8 262.2 L600.3 262.8 L600.8 263.4 L601.3 264 L601.8 264.6 L602.3 265.2 L602.8 265.7 L603.3 266.3 L603.8 266.9 L604.3 267.4 L604.8 268 L605.3 268.5 L605.8 269 L606.3 269.5 L606.8 270 L607.3 270.5 L607.8 271 L608.3 271.4 L608.8 271.9 L609.3 272.3 L609.8 272.7 L610.3 273.1 L610.8 273.5 L611.3 273.8 L611.8 274.1 L612.3 274.5 L612.8 274.7 L613.3 275 L613.8 275.3 L614.3 275.5 L614.8 275.7 L615.3 275.8 L615.8 276 L616.3 276.1 L616.8 276.2 L617.3 276.3 L617.8 276.3 L618.3 276.3 L618.8 276.3 L619.3 276.2 L619.8 276.1 L620.3 276 L620.8 275.8 L621.3 275.6 L621.8 275.4 L622.3 275.1 L622.8 274.8 L623.3 274.5 L623.8 274.2 L624.3 273.8 L624.8 273.4 L625.3 272.9 L625.8 272.5 L626.3 272 L626.8 271.5 L627.3 271 L627.8 270.4 L628.3 269.8 L628.8 269.3 L629.3 268.7 L629.8 268 L630.3 267.4 L630.8 266.7 L631.3 266.1 L631.8 265.4 L632.3 264.7 L632.8 264 L633.3 263.3 L633.8 262.5 L634.3 261.8 L634.8 261 L635.3 260.3 L635.8 259.5 L636.3 258.7 L636.8 257.9 L637.3 257.1 L637.8 256.3 L638.3 255.5 L638.8 254.7 L639.3 253.9 L639.8 253.1 L640.3 252.2 L640.8 251.4 L641.3 250.6 L641.8 249.7 L642.3 248.9 L642.8 248 L643.3 247.1 L643.8 246.3 L644.3 245.4" fill="none" stroke="#333" stroke-width="1.1"/>
<path d="M568.4 245.4 L568.9 245.9 L569.4 246.5 L569.9 247 L570.4 247.6 L570.9 248.1 L571.4 248.6 L571.9 249.2 L572.4 249.7 L572.9 250.3 L573.4 250.8 L573.9 251.3 L574.4 251.9 L574.9 252.4 L575.4 252.9 L575.9 253.5 L576.4 254 L576.9 254.5 L577.4 255 L577.9 255.6 L578.4 256.1 L578.9 256.6 L579.4 257.2 L579.9 257.7 L580.4 258.2 L580.9 258.7 L581.4 259.2 L581.9 259.8 L582.4 260.3 L582.9 260.8 L583.4 261.3 L583.9 261.8 L584.4 262.3 L584.9 262.9 L585.4 263.4 L585.9 263.9 L586.4 264.4 L586.9 264.9 L587.4 265.4 L587.9 265.9 L588.4 266.4 L588.9 266.9 L589.4 267.4 L589.9 267.9 L590.4 268.4 L590.9 268.9 L591.4 269.4 L591.9 269.8 L592.4 270.3 L592.9 270.8 L593.4 271.3 L593.9 271.7 L594.4 272.2 L594.9 272.7 L595.4 273.1 L595.9 273.6 L596.4 274.1 L596.9 274.5 L597.4 275 L597.9 275.4 L598.4 275.8 L598.9 276.3 L599.4 276.7 L599.9 277.1 L600.4 277.5 L600.9 278 L601.4 278.4 L601.9 278.8 L602.4 279.2 L602.9 279.6 L603.4 279.9 L603.9 280.3 L604.4 280.7 L604.9 281 L605.4 281.4 L605.9 281.7 L606.4 282 L606.9 282.4 L607.4 282.7 L607.9 283 L608.4 283.3 L608.9 283.5 L609.4 283.8 L609.9 284 L610.4 284.3 L610.9 284.5 L611.4 284.7 L611.9 284.9 L612.4 285.1 L612.9 285.3 L613.4 285.4 L613.9 285.5 L614.4 285.7 L614.9 285.8 L615.4 285.8 L615.9 285.9 L616.4 286 L616.9 286 L617.4 286 L617.9 286 L618.4 286 L618.9 285.9 L619.4 285.8 L619.9 285.7 L620.4 285.6 L620.9 285.4 L621.4 285.2 L621.9 285 L622.4 284.8 L622.9 284.5 L623.4 284.2 L623.9 283.9 L624.4 283.6 L624.9 283.3 L625.4 282.9 L625.9 282.5 L626.4 282.1 L626.9 281.7 L627.4 281.3 L627.9 280.8 L628.4 280.3 L628.9 279.9 L629.4 279.4 L629.9 278.9 L630.4 278.3 L630.9 277.8 L631.4 277.3 L631.9 276.7 L632.4 276.1 L632.9 275.6 L633.4 275 L633.9 274.4 L634.4 273.8 L634.9 273.1 L635.4 272.5 L635.9 271.9 L636.4 271.3 L636.9 270.6 L637.4 270 L637.9 269.3 L638.4 268.6 L638.9 268 L639.4 267.3 L639.9 266.6 L640.4 265.9 L640.9 265.2 L641.4 264.5 L641.9 263.8 L642.4 263.1 L642.9 262.4 L643.4 261.7 L643.9 261 L644.4 260.3 L644.9 259.5 L645.4 258.8 L645.9 258.1 L646.4 257.3 L646.9 256.6 L647.4 255.9 L647.9 255.1 L648.4 254.4 L648.9 253.6 L649.4 252.9 L649.9 252.1 L650.4 251.4 L650.9 250.6 L651.4 249.8 L651.9 249.1 L652.4 248.3 L652.9 247.6 L653.4 246.8 L653.9 246" fill="none" stroke="#333" stroke-width="1.1"/>
<path d="M436 395 L436.5 394.4 L437 393.8 L437.5 393.1 L438 392.5 L438.5 391.9 L439 391.2 L439.5 390.6 L440 389.9 L440.5 389.2 L441 388.5 L441.5 387.8 L442 387 L442.5 386.3 L443 385.6 L443.5 384.9 L444 384.1 L444.5 383.4 L445 382.7 L445.5 382 L446 381.3 L446.5 380.7 L447 380 L447.5 379.4 L448 378.8 L448.5 378.2 L449 377.6 L449.5 377 L450 376.5 L450.5 375.9 L451 375.4 L451.5 374.9 L452 374.3 L452.5 373.8 L453 373.3 L453.5 372.8 L454 372.3 L454.5 371.8 L455 371.2 L455.5 370.7 L456 370.2 L456.5 369.6 L457 369.1 L457.5 368.5 L458 367.9 L458.5 367.4 L459 366.8 L459.5 366.2 L460 365.6 L460.5 365 L461 364.4 L461.5 363.8 L462 363.2 L462.5 362.6 L463 362 L463.5 361.4 L464 360.8 L464.5 360.2 L465 359.6 L465.5 359.1 L466 358.5 L466.5 358 L467 357.4 L467.5 356.9 L468 356.4 L468.5 355.9 L469 355.4 L469.5 354.9 L470 354.4 L470.5 354 L471 353.5 L471.5 353 L472 352.6 L472.5 352.1 L473 351.7 L473.5 351.2 L474 350.7 L474.5 350.3 L475 349.8 L475.5 349.3 L476 348.9 L476.5 348.4 L477 348 L477.5 347.5 L478 347.1 L478.5 346.7 L479 346.3 L479.5 345.9 L480 345.6 L480.5 345.3 L481 345 L481.5 344.7 L482 344.5 L482.5 344.3 L483 344.1 L483.5 343.9 L484 343.7 L484.5 343.6 L485 343.4 L485.5 343.3 L486 343.1 L486.5 343 L487 342.9 L487.5 342.8 L488 342.7 L488.5 342.7 L489 342.7 L489.5 342.7 L490 342.8 L490.5 342.8 L491 342.9 L491.5 343 L492 343.1 L492.5 343.1 L493 343.1 L493.5 343.1 L494 343 L494.5 343 L495 342.9 L495.5 342.8 L496 342.7 L496.5 342.7 L497 342.6 L497.5 342.5 L498 342.5 L498.5 342.5 L499 342.5 L499.5 342.5 L500 342.5 L500.5 342.5 L501 342.5 L501.5 342.6 L502 342.6 L502.5 342.7 L503 342.8 L503.5 342.8 L504 342.9 L504.5 343 L505 343.1 L505.5 343.2 L506 343.3 L506.5 343.5 L507 343.6 L507.5 343.7 L508 343.9 L508.5 344.1 L509 344.2 L509.5 344.4 L510 344.6 L510.5 344.8 L511 345 L511.5 345.3 L512 345.5 L512.5 345.8 L513 346 L513.5 346.3 L514 346.6 L514.5 346.9 L515 347.3 L515.5 347.6 L516 348 L516.5 348.3 L517 348.7 L517.5 349.1 L518 349.5 L518.5 349.9 L519 350.4 L519.5 350.8 L520 351.3 L520.5 351.7 L521 352.2 L521.5 352.7 L522 353.3 L522.5 353.8 L523 354.4 L523.5 355 L524 355.6 L524.5 356.3 L525 357 L525.5 357.7 L526 358.5 L526.5 359.3 L527 360.1 L527.5 360.9 L528 361.7 L528.5 362.6 L529 363.4 L529.5 364.2 L530 365 L530.5 365.8 L531 366.5 L531.5 367.2 L532 367.9 L532.5 368.6 L533 369.3 L533.5 370 L534 370.7 L534.5 371.4 L535 372.1 L535.5 372.8 L536 373.5 L536.5 374.2 L537 375 L537.5 375.8 L538 376.6 L538.5 377.4 L539 378.2 L539.5 379.1 L540 380 L540.5 380.8 L541 381.7 L541.5 382.6 L542 383.5 L542.5 384.4 L543 385.3 L543.5 386.2 L544 387.2 L544.5 388.1 L545 389 L545 400 L436 400 Z" fill="#fff8dc" clip-path="url(#cg)"/>
<path d="M570 395 L570.5 394.4 L571 393.8 L571.5 393.2 L572 392.6 L572.5 392 L573 391.4 L573.5 390.8 L574 390.2 L574.5 389.6 L575 389 L575.5 388.3 L576 387.7 L576.5 387.1 L577 386.4 L577.5 385.8 L578 385.1 L578.5 384.5 L579 383.8 L579.5 383.2 L580 382.5 L580.5 381.8 L581 381.2 L581.5 380.5 L582 379.8 L582.5 379.1 L583 378.5 L583.5 377.8 L584 377.1 L584.5 376.5 L585 375.9 L585.5 375.3 L586 374.7 L586.5 374.1 L587 373.5 L587.5 373 L588 372.4 L588.5 371.9 L589 371.4 L589.5 370.9 L590 370.5 L590.5 370 L591 369.5 L591.5 369.1 L592 368.6 L592.5 368.2 L593 367.7 L593.5 367.3 L594 366.8 L594.5 366.4 L595 365.9 L595.5 365.4 L596 364.9 L596.5 364.4 L597 363.9 L597.5 363.4 L598 362.9 L598.5 362.3 L599 361.8 L599.5 361.3 L600 360.8 L600.5 360.3 L601 359.8 L601.5 359.3 L602 358.8 L602.5 358.3 L603 357.8 L603.5 357.3 L604 356.9 L604.5 356.5 L605 356 L605.5 355.6 L606 355.2 L606.5 354.9 L607 354.5 L607.5 354.1 L608 353.8 L608.5 353.4 L609 353.1 L609.5 352.8 L610 352.5 L610.5 352.2 L611 351.9 L611.5 351.7 L612 351.4 L612.5 351.2 L613 350.9 L613.5 350.7 L614 350.5 L614.5 350.3 L615 350.1 L615.5 349.9 L616 349.8 L616.5 349.6 L617 349.5 L617.5 349.4 L618 349.3 L618.5 349.2 L619 349.1 L619.5 349 L620 349 L620.5 348.9 L621 348.9 L621.5 348.8 L622 348.8 L622.5 348.8 L623 348.8 L623.5 348.8 L624 348.8 L624.5 348.8 L625 348.8 L625.5 348.8 L626 348.9 L626.5 348.9 L627 348.9 L627.5 349 L628 349 L628.5 349.1 L629 349.1 L629.5 349.2 L630 349.3 L630.5 349.4 L631 349.4 L631.5 349.5 L632 349.6 L632.5 349.7 L633 349.8 L633.5 349.9 L634 350 L634.5 350.1 L635 350.2 L635.5 350.4 L636 350.5 L636.5 350.7 L637 350.8 L637.5 351 L638 351.2 L638.5 351.3 L639 351.6 L639.5 351.8 L640 352 L640.5 352.2 L641 352.5 L641.5 352.8 L642 353.1 L642.5 353.4 L643 353.7 L643.5 354 L644 354.4 L644.5 354.7 L645 355.1 L645.5 355.5 L646 355.9 L646.5 356.3 L647 356.7 L647.5 357.2 L648 357.6 L648.5 358.1 L649 358.5 L649.5 359 L650 359.5 L650.5 360 L651 360.5 L651.5 361 L652 361.6 L652.5 362.1 L653 362.7 L653.5 363.2 L654 363.8 L654.5 364.4 L655 365 L655.5 365.6 L656 366.3 L656.5 366.9 L657 367.6 L657.5 368.2 L658 368.9 L658.5 369.6 L659 370.3 L659.5 371 L660 371.8 L660.5 372.5 L661 373.3 L661.5 374.1 L662 374.9 L662.5 375.8 L663 376.7 L663.5 377.6 L664 378.5 L664.5 379.5 L665 380.5 L665.5 381.6 L666 382.6 L666.5 383.7 L667 384.8 L667.5 386 L668 387.1 L668.5 388.2 L669 389.3 L669.5 390.3 L670 391.3 L670.5 392.3 L671 393.2 L671.5 394.1 L672 395 L672 400 L570 400 Z" fill="url(#yg1)" clip-path="url(#ce)"/>
<path d="M576 395 L576.5 394.4 L577 393.9 L577.5 393.3 L578 392.7 L578.5 392.1 L579 391.5 L579.5 390.9 L580 390.3 L580.5 389.7 L581 389.1 L581.5 388.5 L582 387.9 L582.5 387.2 L583 386.6 L583.5 386 L584 385.4 L584.5 384.8 L585 384.2 L585.5 383.6 L586 383 L586.5 382.4 L587 381.9 L587.5 381.4 L588 380.9 L588.5 380.4 L589 379.9 L589.5 379.4 L590 378.9 L590.5 378.5 L591 378 L591.5 377.6 L592 377.1 L592.5 376.7 L593 376.3 L593.5 375.9 L594 375.5 L594.5 375.1 L595 374.7 L595.5 374.3 L596 373.9 L596.5 373.6 L597 373.2 L597.5 372.8 L598 372.5 L598.5 372.2 L599 371.8 L599.5 371.5 L600 371.2 L600.5 370.9 L601 370.6 L601.5 370.3 L602 370 L602.5 369.7 L603 369.5 L603.5 369.2 L604 369 L604.5 368.8 L605 368.5 L605.5 368.3 L606 368.1 L606.5 368 L607 367.8 L607.5 367.6 L608 367.5 L608.5 367.3 L609 367.2 L609.5 367.1 L610 367 L610.5 366.9 L611 366.8 L611.5 366.7 L612 366.6 L612.5 366.6 L613 366.5 L613.5 366.5 L614 366.4 L614.5 366.4 L615 366.4 L615.5 366.4 L616 366.4 L616.5 366.4 L617 366.4 L617.5 366.4 L618 366.5 L618.5 366.5 L619 366.6 L619.5 366.7 L620 366.8 L620.5 366.9 L621 367 L621.5 367.1 L622 367.3 L622.5 367.5 L623 367.7 L623.5 367.9 L624 368.2 L624.5 368.4 L625 368.7 L625.5 369.1 L626 369.4 L626.5 369.8 L627 370.2 L627.5 370.6 L628 371.1 L628.5 371.6 L629 372.1 L629.5 372.6 L630 373.2 L630.5 373.8 L631 374.4 L631.5 375 L632 375.7 L632.5 376.4 L633 377.1 L633.5 377.8 L634 378.5 L634.5 379.2 L635 380 L635.5 380.8 L636 381.6 L636.5 382.4 L637 383.2 L637.5 384.1 L638 384.9 L638.5 385.8 L639 386.8 L639.5 387.7 L640 388.7 L640.5 389.7 L641 390.7 L641.5 391.8 L642 392.8 L642.5 393.9 L643 395 L643 400 L576 400 Z" fill="url(#yg2)" clip-path="url(#ce)"/>
<path d="M436 395 L436.5 394.4 L437 393.8 L437.5 393.1 L438 392.5 L438.5 391.9 L439 391.2 L439.5 390.6 L440 389.9 L440.5 389.2 L441 388.5 L441.5 387.8 L442 387 L442.5 386.3 L443 385.6 L443.5 384.9 L444 384.1 L444.5 383.4 L445 382.7 L445.5 382 L446 381.3 L446.5 380.7 L447 380 L447.5 379.4 L448 378.8 L448.5 378.2 L449 377.6 L449.5 377 L450 376.5 L450.5 375.9 L451 375.4 L451.5 374.9 L452 374.3 L452.5 373.8 L453 373.3 L453.5 372.8 L454 372.3 L454.5 371.8 L455 371.2 L455.5 370.7 L456 370.2 L456.5 369.6 L457 369.1 L457.5 368.5 L458 367.9 L458.5 367.4 L459 366.8 L459.5 366.2 L460 365.6 L460.5 365 L461 364.4 L461.5 363.8 L462 363.2 L462.5 362.6 L463 362 L463.5 361.4 L464 360.8 L464.5 360.2 L465 359.6 L465.5 359.1 L466 358.5 L466.5 358 L467 357.4 L467.5 356.9 L468 356.4 L468.5 355.9 L469 355.4 L469.5 354.9 L470 354.4 L470.5 354 L471 353.5 L471.5 353 L472 352.6 L472.5 352.1 L473 351.7 L473.5 351.2 L474 350.7 L474.5 350.3 L475 349.8 L475.5 349.3 L476 348.9 L476.5 348.4 L477 348 L477.5 347.5 L478 347.1 L478.5 346.7 L479 346.3 L479.5 345.9 L480 345.6 L480.5 345.3 L481 345 L481.5 344.7 L482 344.5 L482.5 344.3 L483 344.1 L483.5 343.9 L484 343.7 L484.5 343.6 L485 343.4 L485.5 343.3 L486 343.1 L486.5 343 L487 342.9 L487.5 342.8 L488 342.7 L488.5 342.7 L489 342.7 L489.5 342.7 L490 342.8 L490.5 342.8 L491 342.9 L491.5 343 L492 343.1 L492.5 343.1 L493 343.1 L493.5 343.1 L494 343 L494.5 343 L495 342.9 L495.5 342.8 L496 342.7 L496.5 342.7 L497 342.6 L497.5 342.5 L498 342.5 L498.5 342.5 L499 342.5 L499.5 342.5 L500 342.5 L500.5 342.5 L501 342.5 L501.5 342.6 L502 342.6 L502.5 342.7 L503 342.8 L503.5 342.8 L504 342.9 L504.5 343 L505 343.1 L505.5 343.2 L506 343.3 L506.5 343.5 L507 343.6 L507.5 343.7 L508 343.9 L508.5 344.1 L509 344.2 L509.5 344.4 L510 344.6 L510.5 344.8 L511 345 L511.5 345.3 L512 345.5 L512.5 345.8 L513 346 L513.5 346.3 L514 346.6 L514.5 346.9 L515 347.3 L515.5 347.6 L516 348 L516.5 348.3 L517 348.7 L517.5 349.1 L518 349.5 L518.5 349.9 L519 350.4 L519.5 350.8 L520 351.3 L520.5 351.7 L521 352.2 L521.5 352.7 L522 353.3 L522.5 353.8 L523 354.4 L523.5 355 L524 355.6 L524.5 356.3 L525 357 L525.5 357.7 L526 358.5 L526.5 359.3 L527 360.1 L527.5 360.9 L528 361.7 L528.5 362.6 L529 363.4 L529.5 364.2 L530 365 L530.5 365.8 L531 366.5 L531.5 367.2 L532 367.9 L532.5 368.6 L533 369.3 L533.5 370 L534 370.7 L534.5 371.4 L535 372.1 L535.5 372.8 L536 373.5 L536.5 374.2 L537 375 L537.5 375.8 L538 376.6 L538.5 377.4 L539 378.2 L539.5 379.1 L540 380 L540.5 380.8 L541 381.7 L541.5 382.6 L542 383.5 L542.5 384.4 L543 385.3 L543.5 386.2 L544 387.2 L544.5 388.1 L545 389" fill="none" stroke="#111" stroke-width="1.2" clip-path="url(#cg)"/>
<path d="M451 395 L451.5 394.4 L452 393.8 L452.5 393.3 L453 392.7 L453.5 392.1 L454 391.5 L454.5 390.9 L455 390.4 L455.5 389.8 L456 389.2 L456.5 388.6 L457 388 L457.5 387.4 L458 386.9 L458.5 386.3 L459 385.7 L459.5 385.2 L460 384.6 L460.5 384.1 L461 383.5 L461.5 383 L462 382.5 L462.5 382 L463 381.5 L463.5 381 L464 380.5 L464.5 380 L465 379.6 L465.5 379.1 L466 378.7 L466.5 378.3 L467 377.8 L467.5 377.4 L468 377 L468.5 376.6 L469 376.2 L469.5 375.9 L470 375.5 L470.5 375.1 L471 374.8 L471.5 374.5 L472 374.1 L472.5 373.8 L473 373.5 L473.5 373.2 L474 372.9 L474.5 372.6 L475 372.4 L475.5 372.1 L476 371.9 L476.5 371.6 L477 371.4 L477.5 371.2 L478 371 L478.5 370.8 L479 370.6 L479.5 370.5 L480 370.3 L480.5 370.2 L481 370.1 L481.5 369.9 L482 369.8 L482.5 369.7 L483 369.7 L483.5 369.6 L484 369.5 L484.5 369.4 L485 369.4 L485.5 369.3 L486 369.3 L486.5 369.3 L487 369.2 L487.5 369.2 L488 369.2 L488.5 369.2 L489 369.2 L489.5 369.2 L490 369.2 L490.5 369.3 L491 369.3 L491.5 369.4 L492 369.5 L492.5 369.6 L493 369.7 L493.5 369.8 L494 370 L494.5 370.2 L495 370.4 L495.5 370.7 L496 370.9 L496.5 371.2 L497 371.5 L497.5 371.8 L498 372.2 L498.5 372.6 L499 373 L499.5 373.4 L500 373.9 L500.5 374.3 L501 374.8 L501.5 375.4 L502 375.9 L502.5 376.5 L503 377.2 L503.5 377.8 L504 378.5 L504.5 379.2 L505 380 L505.5 380.8 L506 381.6 L506.5 382.4 L507 383.3 L507.5 384.2 L508 385.1 L508.5 386 L509 387 L509.5 387.9 L510 388.9 L510.5 389.9 L511 390.9 L511.5 391.9 L512 392.9 L512.5 394 L513 395" fill="none" stroke="#111" stroke-width="1.2" clip-path="url(#cg)"/>
<path d="M570 395 L570.5 394.4 L571 393.8 L571.5 393.2 L572 392.6 L572.5 392 L573 391.4 L573.5 390.8 L574 390.2 L574.5 389.6 L575 389 L575.5 388.3 L576 387.7 L576.5 387.1 L577 386.4 L577.5 385.8 L578 385.1 L578.5 384.5 L579 383.8 L579.5 383.2 L580 382.5 L580.5 381.8 L581 381.2 L581.5 380.5 L582 379.8 L582.5 379.1 L583 378.5 L583.5 377.8 L584 377.1 L584.5 376.5 L585 375.9 L585.5 375.3 L586 374.7 L586.5 374.1 L587 373.5 L587.5 373 L588 372.4 L588.5 371.9 L589 371.4 L589.5 370.9 L590 370.5 L590.5 370 L591 369.5 L591.5 369.1 L592 368.6 L592.5 368.2 L593 367.7 L593.5 367.3 L594 366.8 L594.5 366.4 L595 365.9 L595.5 365.4 L596 364.9 L596.5 364.4 L597 363.9 L597.5 363.4 L598 362.9 L598.5 362.3 L599 361.8 L599.5 361.3 L600 360.8 L600.5 360.3 L601 359.8 L601.5 359.3 L602 358.8 L602.5 358.3 L603 357.8 L603.5 357.3 L604 356.9 L604.5 356.5 L605 356 L605.5 355.6 L606 355.2 L606.5 354.9 L607 354.5 L607.5 354.1 L608 353.8 L608.5 353.4 L609 353.1 L609.5 352.8 L610 352.5 L610.5 352.2 L611 351.9 L611.5 351.7 L612 351.4 L612.5 351.2 L613 350.9 L613.5 350.7 L614 350.5 L614.5 350.3 L615 350.1 L615.5 349.9 L616 349.8 L616.5 349.6 L617 349.5 L617.5 349.4 L618 349.3 L618.5 349.2 L619 349.1 L619.5 349 L620 349 L620.5 348.9 L621 348.9 L621.5 348.8 L622 348.8 L622.5 348.8 L623 348.8 L623.5 348.8 L624 348.8 L624.5 348.8 L625 348.8 L625.5 348.8 L626 348.9 L626.5 348.9 L627 348.9 L627.5 349 L628 349 L628.5 349.1 L629 349.1 L629.5 349.2 L630 349.3 L630.5 349.4 L631 349.4 L631.5 349.5 L632 349.6 L632.5 349.7 L633 349.8 L633.5 349.9 L634 350 L634.5 350.1 L635 350.2 L635.5 350.4 L636 350.5 L636.5 350.7 L637 350.8 L637.5 351 L638 351.2 L638.5 351.3 L639 351.6 L639.5 351.8 L640 352 L640.5 352.2 L641 352.5 L641.5 352.8 L642 353.1 L642.5 353.4 L643 353.7 L643.5 354 L644 354.4 L644.5 354.7 L645 355.1 L645.5 355.5 L646 355.9 L646.5 356.3 L647 356.7 L647.5 357.2 L648 357.6 L648.5 358.1 L649 358.5 L649.5 359 L650 359.5 L650.5 360 L651 360.5 L651.5 361 L652 361.6 L652.5 362.1 L653 362.7 L653.5 363.2 L654 363.8 L654.5 364.4 L655 365 L655.5 365.6 L656 366.3 L656.5 366.9 L657 367.6 L657.5 368.2 L658 368.9 L658.5 369.6 L659 370.3 L659.5 371 L660 371.8 L660.5 372.5 L661 373.3 L661.5 374.1 L662 374.9 L662.5 375.8 L663 376.7 L663.5 377.6 L664 378.5 L664.5 379.5 L665 380.5 L665.5 381.6 L666 382.6 L666.5 383.7 L667 384.8 L667.5 386 L668 387.1 L668.5 388.2 L669 389.3 L669.5 390.3 L670 391.3 L670.5 392.3 L671 393.2 L671.5 394.1 L672 395" fill="none" stroke="#111" stroke-width="1.2" clip-path="url(#ce)"/>
<path d="M576 395 L576.5 394.4 L577 393.9 L577.5 393.3 L578 392.7 L578.5 392.1 L579 391.5 L579.5 390.9 L580 390.3 L580.5 389.7 L581 389.1 L581.5 388.5 L582 387.9 L582.5 387.2 L583 386.6 L583.5 386 L584 385.4 L584.5 384.8 L585 384.2 L585.5 383.6 L586 383 L586.5 382.4 L587 381.9 L587.5 381.4 L588 380.9 L588.5 380.4 L589 379.9 L589.5 379.4 L590 378.9 L590.5 378.5 L591 378 L591.5 377.6 L592 377.1 L592.5 376.7 L593 376.3 L593.5 375.9 L594 375.5 L594.5 375.1 L595 374.7 L595.5 374.3 L596 373.9 L596.5 373.6 L597 373.2 L597.5 372.8 L598 372.5 L598.5 372.2 L599 371.8 L599.5 371.5 L600 371.2 L600.5 370.9 L601 370.6 L601.5 370.3 L602 370 L602.5 369.7 L603 369.5 L603.5 369.2 L604 369 L604.5 368.8 L605 368.5 L605.5 368.3 L606 368.1 L606.5 368 L607 367.8 L607.5 367.6 L608 367.5 L608.5 367.3 L609 367.2 L609.5 367.1 L610 367 L610.5 366.9 L611 366.8 L611.5 366.7 L612 366.6 L612.5 366.6 L613 366.5 L613.5 366.5 L614 366.4 L614.5 366.4 L615 366.4 L615.5 366.4 L616 366.4 L616.5 366.4 L617 366.4 L617.5 366.4 L618 366.5 L618.5 366.5 L619 366.6 L619.5 366.7 L620 366.8 L620.5 366.9 L621 367 L621.5 367.1 L622 367.3 L622.5 367.5 L623 367.7 L623.5 367.9 L624 368.2 L624.5 368.4 L625 368.7 L625.5 369.1 L626 369.4 L626.5 369.8 L627 370.2 L627.5 370.6 L628 371.1 L628.5 371.6 L629 372.1 L629.5 372.6 L630 373.2 L630.5 373.8 L631 374.4 L631.5 375 L632 375.7 L632.5 376.4 L633 377.1 L633.5 377.8 L634 378.5 L634.5 379.2 L635 380 L635.5 380.8 L636 381.6 L636.5 382.4 L637 383.2 L637.5 384.1 L638 384.9 L638.5 385.8 L639 386.8 L639.5 387.7 L640 388.7 L640.5 389.7 L641 390.7 L641.5 391.8 L642 392.8 L642.5 393.9 L643 395" fill="none" stroke="#111" stroke-width="1.2" clip-path="url(#ce)"/>
<line x1="442.4" y1="281.4" x2="545.4" y2="281.4" stroke="#222" stroke-width="0.9" stroke-dasharray="1.9 1.4"/>
<line x1="442.4" y1="343.2" x2="544.7" y2="343.2" stroke="#222" stroke-width="0.9" stroke-dasharray="1.9 1.4"/>
<line x1="442.4" y1="369.2" x2="544.7" y2="369.2" stroke="#222" stroke-width="0.9" stroke-dasharray="1.9 1.4"/>
<line x1="562" y1="276.3" x2="657.3" y2="276.3" stroke="#222" stroke-width="0.9" stroke-dasharray="1.9 1.4"/>
<line x1="562" y1="286.5" x2="657.3" y2="286.5" stroke="#222" stroke-width="0.9" stroke-dasharray="1.9 1.4"/>
<line x1="563.4" y1="348.4" x2="651.3" y2="348.4" stroke="#222" stroke-width="0.9" stroke-dasharray="1.9 1.4"/>
<line x1="563.4" y1="365.9" x2="651.3" y2="365.9" stroke="#222" stroke-width="0.9" stroke-dasharray="1.9 1.4"/>
<line x1="545.4" y1="281.4" x2="552.4" y2="281.4" stroke="#222" stroke-width="0.9" />
<path d="M552.4 281.4 Q556 281.4 560.2 277.1 M552.4 281.4 Q556 281.4 560.2 285.3" fill="none" stroke="#222" stroke-width="0.9"/>
<path d="M562.4 276.2 L557.0 277.2 L558.9 280.2 Z M562.4 286.6 L557.0 285.6 L558.9 282.6 Z" fill="#111"/>
<path d="M544.7 343.2 C552 343.2 556 344.5 560 347.6 M544.7 369.2 C552 369.2 556 368.6 560 366.6" fill="none" stroke="#222" stroke-width="0.9"/>
<path d="M563.2 348.5 L559.6 344.3 L557.6 347.8 Z M563.2 365.9 L557.6 365.6 L559.0 369.5 Z" fill="#111"/>
<text x="426.8" y="284.1" font-size="10.6" text-anchor="start" font-weight="normal" fill="#111" >H</text>
<text x="434.2" y="287.4" font-size="8" text-anchor="start" font-weight="normal" fill="#111" >6</text>
<text x="426.8" y="346.3" font-size="10.6" text-anchor="start" font-weight="normal" fill="#111" >H</text>
<text x="434.2" y="349.6" font-size="8" text-anchor="start" font-weight="normal" fill="#111" >4</text>
<text x="426.8" y="371.8" font-size="10.6" text-anchor="start" font-weight="normal" fill="#111" >H</text>
<text x="434.2" y="375.1" font-size="8" text-anchor="start" font-weight="normal" fill="#111" >5</text>
<line x1="452.8" y1="286.6" x2="452.8" y2="305.3" stroke="#000" stroke-width="1.8" />
<line x1="452.8" y1="321" x2="452.8" y2="347.4" stroke="#000" stroke-width="1.8" />
<path d="M452.8 280.4 L456.4 289.6 L452.8 288 L449.2 289.6 Z" fill="#000"/>
<line x1="468.6" y1="286.6" x2="468.6" y2="305.3" stroke="#000" stroke-width="1.8" />
<line x1="468.6" y1="321" x2="468.6" y2="347.4" stroke="#000" stroke-width="1.8" />
<path d="M468.6 280.4 L472.2 289.6 L468.6 288 L465 289.6 Z" fill="#000"/>
<line x1="511.6" y1="286.6" x2="511.6" y2="309.2" stroke="#1010f0" stroke-width="1.8" />
<line x1="511.6" y1="324.3" x2="511.6" y2="370.9" stroke="#1010f0" stroke-width="1.8" />
<path d="M511.6 280.4 L515.2 289.6 L511.6 288 L508 289.6 Z" fill="#1010f0"/>
<line x1="575.5" y1="290.6" x2="575.5" y2="310.3" stroke="#000" stroke-width="1.8" />
<line x1="575.5" y1="325.2" x2="575.5" y2="350.4" stroke="#000" stroke-width="1.8" />
<path d="M575.5 284.4 L579.1 293.6 L575.5 292 L571.9 293.6 Z" fill="#000"/>
<line x1="591.2" y1="281.2" x2="591.2" y2="303" stroke="#000" stroke-width="1.8" />
<line x1="591.2" y1="317.9" x2="591.2" y2="350.4" stroke="#000" stroke-width="1.8" />
<path d="M591.2 275 L594.8 284.2 L591.2 282.6 L587.6 284.2 Z" fill="#000"/>
<line x1="638.9" y1="286" x2="638.9" y2="316.6" stroke="#1010f0" stroke-width="1.8" />
<line x1="638.9" y1="332.2" x2="638.9" y2="367.8" stroke="#1010f0" stroke-width="1.8" />
<path d="M638.9 279.8 L642.5 289 L638.9 287.4 L635.3 289 Z" fill="#1010f0"/>
<text x="0" y="0" font-size="10.6" text-anchor="start" font-weight="normal" fill="#111" transform="translate(449.5 317.1) scale(0.84 1)">E</text>
<text x="455" y="319.4" font-size="6.8" text-anchor="start" font-weight="normal" fill="#111" >1</text>
<line x1="455.4" y1="310.3" x2="459.2" y2="310.3" stroke="#111" stroke-width="0.8" />
<line x1="457.3" y1="310.3" x2="457.3" y2="306.7" stroke="#111" stroke-width="0.8" />
<text x="0" y="0" font-size="10.6" text-anchor="start" font-weight="normal" fill="#111" transform="translate(466.3 317.1) scale(0.84 1)">E</text>
<text x="471.8" y="319.4" font-size="6.8" text-anchor="start" font-weight="normal" fill="#111" >1</text>
<line x1="472.4" y1="312.6" x2="472.4" y2="307.6" stroke="#111" stroke-width="0.8" />
<line x1="473.7" y1="312.6" x2="473.7" y2="307.6" stroke="#111" stroke-width="0.8" />
<text x="0" y="0" font-size="10.6" text-anchor="start" font-weight="normal" fill="#111" transform="translate(509 321) scale(0.84 1)">E</text>
<text x="514.5" y="323.3" font-size="6.8" text-anchor="start" font-weight="normal" fill="#111" >2</text>
<line x1="515.1" y1="316.5" x2="515.1" y2="311.5" stroke="#111" stroke-width="0.8" />
<line x1="516.4" y1="316.5" x2="516.4" y2="311.5" stroke="#111" stroke-width="0.8" />
<text x="0" y="0" font-size="10.6" text-anchor="start" font-weight="normal" fill="#111" transform="translate(573 321.5) scale(0.84 1)">E</text>
<text x="578.5" y="323.8" font-size="6.8" text-anchor="start" font-weight="normal" fill="#111" >1</text>
<line x1="578.9" y1="314.7" x2="582.7" y2="314.7" stroke="#111" stroke-width="0.8" />
<line x1="580.8" y1="314.7" x2="580.8" y2="311.1" stroke="#111" stroke-width="0.8" />
<text x="0" y="0" font-size="10.6" text-anchor="start" font-weight="normal" fill="#111" transform="translate(588.2 314.6) scale(0.84 1)">E</text>
<text x="593.7" y="316.9" font-size="6.8" text-anchor="start" font-weight="normal" fill="#111" >1</text>
<line x1="594.3" y1="310.1" x2="594.3" y2="305.1" stroke="#111" stroke-width="0.8" />
<line x1="595.6" y1="310.1" x2="595.6" y2="305.1" stroke="#111" stroke-width="0.8" />
<text x="0" y="0" font-size="10.6" text-anchor="start" font-weight="normal" fill="#111" transform="translate(635.9 327.9) scale(0.84 1)">E</text>
<text x="641.4" y="330.2" font-size="6.8" text-anchor="start" font-weight="normal" fill="#111" >2</text>
<line x1="642" y1="323.4" x2="642" y2="318.4" stroke="#111" stroke-width="0.8" />
<line x1="643.3" y1="323.4" x2="643.3" y2="318.4" stroke="#111" stroke-width="0.8" />
<line x1="651.2" y1="267.1" x2="651.2" y2="272.3" stroke="#111" stroke-width="0.9" />
<path d="M651.2 275.8 L653.1 270.8 L651.2 271.8 L649.3 270.8 Z" fill="#111"/>
<line x1="651.2" y1="296.4" x2="651.2" y2="290.7" stroke="#111" stroke-width="0.9" />
<path d="M651.2 287.2 L653.1 292.2 L651.2 291.2 L649.3 292.2 Z" fill="#111"/>
<line x1="651.2" y1="338.7" x2="651.2" y2="345.1" stroke="#111" stroke-width="0.9" />
<path d="M651.2 348.6 L653.1 343.6 L651.2 344.6 L649.3 343.6 Z" fill="#111"/>
<line x1="651.2" y1="375.4" x2="651.2" y2="369" stroke="#111" stroke-width="0.9" />
<path d="M651.2 365.5 L653.1 370.5 L651.2 369.5 L649.3 370.5 Z" fill="#111"/>
<text x="661.8" y="283.7" font-size="11.2" text-anchor="start" font-weight="normal" fill="#111" >&#916;E</text>
<text x="676.2" y="286.6" font-size="8.8" text-anchor="start" font-weight="normal" fill="#111" >lift</text>
<text x="661.8" y="358.9" font-size="11.2" text-anchor="start" font-weight="normal" fill="#111" >&#916;E</text>
<text x="676.4" y="361.4" font-size="8.8" text-anchor="start" font-weight="normal" fill="#111" >sp</text>
<text x="493.2" y="404.2" font-size="11.2" text-anchor="middle" font-weight="normal" fill="#111" >Ground-state</text>
<text x="624.3" y="404.2" font-size="11.2" text-anchor="middle" font-weight="normal" fill="#111" >Excited-state</text>
</svg>
</body></html>
